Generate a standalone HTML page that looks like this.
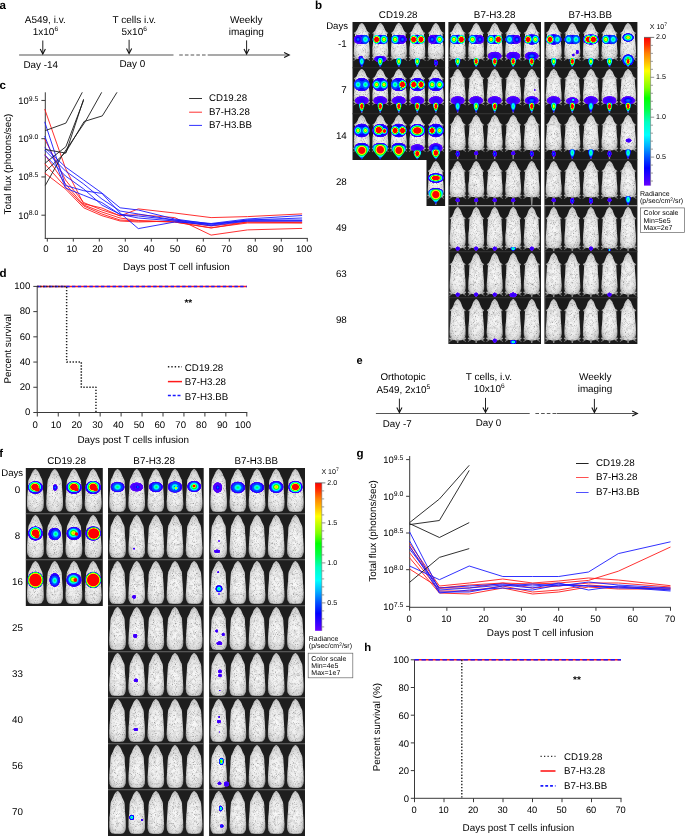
<!DOCTYPE html>
<html><head><meta charset="utf-8"><style>
html,body{margin:0;padding:0;background:#fff;}
svg{display:block;font-family:"Liberation Sans", sans-serif;text-rendering:geometricPrecision;will-change:transform;}
</style></head><body>
<svg width="685" height="837" viewBox="0 0 685 837" font-family='"Liberation Sans", sans-serif'>
<defs><radialGradient id="mb" cx="50%" cy="55%" r="60%">
 <stop offset="0" stop-color="#fafafa"/><stop offset="0.55" stop-color="#ececec"/><stop offset="0.82" stop-color="#d0d0d0"/><stop offset="1" stop-color="#8a8a8a"/>
</radialGradient><filter id="tex" x="0" y="0" width="1" height="1">
 <feTurbulence type="fractalNoise" baseFrequency="0.3" numOctaves="2" seed="7" result="n"/>
 <feColorMatrix in="n" type="matrix" values="0 0 0 0 0.55  0 0 0 0 0.55  0 0 0 0 0.55  2.0 0 0 0 -0.88" result="sp"/>
 <feComposite in="sp" in2="SourceAlpha" operator="in" result="s2"/>
 <feTurbulence type="fractalNoise" baseFrequency="1.1" numOctaves="1" seed="3" result="n2"/>
 <feColorMatrix in="n2" type="matrix" values="0 0 0 0 0.25  0 0 0 0 0.25  0 0 0 0 0.25  3.2 0 0 0 -1.75" result="sp2"/>
 <feComposite in="sp2" in2="SourceAlpha" operator="in" result="s3"/>
 <feMerge result="m"><feMergeNode in="SourceGraphic"/><feMergeNode in="s2"/><feMergeNode in="s3"/></feMerge>
 <feGaussianBlur in="m" stdDeviation="0.35"/>
</filter><radialGradient id="h6" ><stop offset="0.000" stop-color="#ff0000"/><stop offset="0.040" stop-color="#ff0000"/><stop offset="0.079" stop-color="#ff0000"/><stop offset="0.119" stop-color="#ff0000"/><stop offset="0.158" stop-color="#ff0000"/><stop offset="0.198" stop-color="#ff0000"/><stop offset="0.237" stop-color="#ff0000"/><stop offset="0.277" stop-color="#ff0000"/><stop offset="0.317" stop-color="#ff0000"/><stop offset="0.356" stop-color="#ff0000"/><stop offset="0.396" stop-color="#ff0000"/><stop offset="0.435" stop-color="#ff0000"/><stop offset="0.475" stop-color="#ff0000"/><stop offset="0.515" stop-color="#ff0000"/><stop offset="0.554" stop-color="#ff0000"/><stop offset="0.594" stop-color="#ff0000"/><stop offset="0.633" stop-color="#ff0000"/><stop offset="0.673" stop-color="#ff0900"/><stop offset="0.712" stop-color="#ff9400"/><stop offset="0.752" stop-color="#f4ff00"/><stop offset="0.792" stop-color="#85ff00"/><stop offset="0.831" stop-color="#00ff0f"/><stop offset="0.871" stop-color="#00ff67"/><stop offset="0.910" stop-color="#00ffc9"/><stop offset="0.950" stop-color="#00fff7"/><stop offset="1" stop-color="#6a00ff" stop-opacity="0"/></radialGradient><radialGradient id="h5" ><stop offset="0.000" stop-color="#ff0000"/><stop offset="0.040" stop-color="#ff0000"/><stop offset="0.079" stop-color="#ff0000"/><stop offset="0.119" stop-color="#ff0000"/><stop offset="0.158" stop-color="#ff0000"/><stop offset="0.198" stop-color="#ff0000"/><stop offset="0.237" stop-color="#ff0000"/><stop offset="0.277" stop-color="#ff0000"/><stop offset="0.317" stop-color="#ff0000"/><stop offset="0.356" stop-color="#ff0000"/><stop offset="0.396" stop-color="#ff0000"/><stop offset="0.435" stop-color="#ff0000"/><stop offset="0.475" stop-color="#ff6a00"/><stop offset="0.515" stop-color="#ffd100"/><stop offset="0.554" stop-color="#c7ff00"/><stop offset="0.594" stop-color="#59ff00"/><stop offset="0.633" stop-color="#00ff1d"/><stop offset="0.673" stop-color="#00ff73"/><stop offset="0.712" stop-color="#00ffcb"/><stop offset="0.752" stop-color="#00fff6"/><stop offset="0.792" stop-color="#00d1ff"/><stop offset="0.831" stop-color="#009aff"/><stop offset="0.871" stop-color="#0065ff"/><stop offset="0.910" stop-color="#003aff"/><stop offset="0.950" stop-color="#0017ff"/><stop offset="1" stop-color="#6a00ff" stop-opacity="0"/></radialGradient><radialGradient id="h4" ><stop offset="0.000" stop-color="#ffac00"/><stop offset="0.040" stop-color="#ffaf00"/><stop offset="0.079" stop-color="#ffbb00"/><stop offset="0.119" stop-color="#ffce00"/><stop offset="0.158" stop-color="#ffea00"/><stop offset="0.198" stop-color="#f2ff00"/><stop offset="0.237" stop-color="#caff00"/><stop offset="0.277" stop-color="#9eff00"/><stop offset="0.317" stop-color="#62ff00"/><stop offset="0.356" stop-color="#0eff00"/><stop offset="0.396" stop-color="#00ff24"/><stop offset="0.435" stop-color="#00ff57"/><stop offset="0.475" stop-color="#00ff9d"/><stop offset="0.515" stop-color="#00ffd0"/><stop offset="0.554" stop-color="#00fff0"/><stop offset="0.594" stop-color="#00e8ff"/><stop offset="0.633" stop-color="#00bdff"/><stop offset="0.673" stop-color="#0090ff"/><stop offset="0.712" stop-color="#0066ff"/><stop offset="0.752" stop-color="#0041ff"/><stop offset="0.792" stop-color="#0023ff"/><stop offset="0.831" stop-color="#0007ff"/><stop offset="0.871" stop-color="#0c00ff"/><stop offset="0.910" stop-color="#1b00ff"/><stop offset="0.950" stop-color="#2800ff"/><stop offset="1" stop-color="#6a00ff" stop-opacity="0"/></radialGradient><radialGradient id="h3" ><stop offset="0.000" stop-color="#00ff5a"/><stop offset="0.040" stop-color="#00ff5d"/><stop offset="0.079" stop-color="#00ff67"/><stop offset="0.119" stop-color="#00ff76"/><stop offset="0.158" stop-color="#00ff8b"/><stop offset="0.198" stop-color="#00ffa5"/><stop offset="0.237" stop-color="#00ffc2"/><stop offset="0.277" stop-color="#00ffd2"/><stop offset="0.317" stop-color="#00ffe4"/><stop offset="0.356" stop-color="#00fff8"/><stop offset="0.396" stop-color="#00ecff"/><stop offset="0.435" stop-color="#00ceff"/><stop offset="0.475" stop-color="#00b0ff"/><stop offset="0.515" stop-color="#008eff"/><stop offset="0.554" stop-color="#006dff"/><stop offset="0.594" stop-color="#004eff"/><stop offset="0.633" stop-color="#0033ff"/><stop offset="0.673" stop-color="#001bff"/><stop offset="0.712" stop-color="#0005ff"/><stop offset="0.752" stop-color="#0c00ff"/><stop offset="0.792" stop-color="#1900ff"/><stop offset="0.831" stop-color="#2500ff"/><stop offset="0.871" stop-color="#2f00ff"/><stop offset="0.910" stop-color="#3800ff"/><stop offset="0.950" stop-color="#3f00ff"/><stop offset="1" stop-color="#6a00ff" stop-opacity="0"/></radialGradient><radialGradient id="h2" ><stop offset="0.000" stop-color="#0075ff"/><stop offset="0.040" stop-color="#0074ff"/><stop offset="0.079" stop-color="#0070ff"/><stop offset="0.119" stop-color="#0069ff"/><stop offset="0.158" stop-color="#0060ff"/><stop offset="0.198" stop-color="#0054ff"/><stop offset="0.237" stop-color="#0048ff"/><stop offset="0.277" stop-color="#003bff"/><stop offset="0.317" stop-color="#002cff"/><stop offset="0.356" stop-color="#001eff"/><stop offset="0.396" stop-color="#000fff"/><stop offset="0.435" stop-color="#0000ff"/><stop offset="0.475" stop-color="#0b00ff"/><stop offset="0.515" stop-color="#1600ff"/><stop offset="0.554" stop-color="#1f00ff"/><stop offset="0.594" stop-color="#2900ff"/><stop offset="0.633" stop-color="#3100ff"/><stop offset="0.673" stop-color="#3800ff"/><stop offset="0.712" stop-color="#3f00ff"/><stop offset="0.752" stop-color="#4600ff"/><stop offset="0.792" stop-color="#4d00ff"/><stop offset="0.831" stop-color="#5200ff"/><stop offset="0.871" stop-color="#5700ff"/><stop offset="0.910" stop-color="#5b00ff"/><stop offset="0.950" stop-color="#5e00ff"/><stop offset="1" stop-color="#6a00ff" stop-opacity="0"/></radialGradient><radialGradient id="h1" ><stop offset="0.000" stop-color="#2700ff"/><stop offset="0.040" stop-color="#2800ff"/><stop offset="0.079" stop-color="#2800ff"/><stop offset="0.119" stop-color="#2900ff"/><stop offset="0.158" stop-color="#2a00ff"/><stop offset="0.198" stop-color="#2b00ff"/><stop offset="0.237" stop-color="#2d00ff"/><stop offset="0.277" stop-color="#2f00ff"/><stop offset="0.317" stop-color="#3100ff"/><stop offset="0.356" stop-color="#3300ff"/><stop offset="0.396" stop-color="#3500ff"/><stop offset="0.435" stop-color="#3800ff"/><stop offset="0.475" stop-color="#3a00ff"/><stop offset="0.515" stop-color="#3d00ff"/><stop offset="0.554" stop-color="#4000ff"/><stop offset="0.594" stop-color="#4300ff"/><stop offset="0.633" stop-color="#4600ff"/><stop offset="0.673" stop-color="#4900ff"/><stop offset="0.712" stop-color="#4c00ff"/><stop offset="0.752" stop-color="#4f00ff"/><stop offset="0.792" stop-color="#5200ff"/><stop offset="0.831" stop-color="#5400ff"/><stop offset="0.871" stop-color="#5700ff"/><stop offset="0.910" stop-color="#5900ff"/><stop offset="0.950" stop-color="#5b00ff"/><stop offset="1" stop-color="#6a00ff" stop-opacity="0"/></radialGradient><radialGradient id="hb" ><stop offset="0.000" stop-color="#0075ff"/><stop offset="0.040" stop-color="#0075ff"/><stop offset="0.079" stop-color="#0072ff"/><stop offset="0.119" stop-color="#006fff"/><stop offset="0.158" stop-color="#0069ff"/><stop offset="0.198" stop-color="#0063ff"/><stop offset="0.237" stop-color="#005bff"/><stop offset="0.277" stop-color="#0052ff"/><stop offset="0.317" stop-color="#0049ff"/><stop offset="0.356" stop-color="#0040ff"/><stop offset="0.396" stop-color="#0036ff"/><stop offset="0.435" stop-color="#002bff"/><stop offset="0.475" stop-color="#0021ff"/><stop offset="0.515" stop-color="#0016ff"/><stop offset="0.554" stop-color="#000aff"/><stop offset="0.594" stop-color="#0000ff"/><stop offset="0.633" stop-color="#0800ff"/><stop offset="0.673" stop-color="#1000ff"/><stop offset="0.712" stop-color="#1800ff"/><stop offset="0.752" stop-color="#1f00ff"/><stop offset="0.792" stop-color="#2600ff"/><stop offset="0.831" stop-color="#2c00ff"/><stop offset="0.871" stop-color="#3200ff"/><stop offset="0.910" stop-color="#3700ff"/><stop offset="0.950" stop-color="#3d00ff"/><stop offset="1" stop-color="#6a00ff" stop-opacity="0"/></radialGradient><radialGradient id="hr"><stop offset="0" stop-color="#ff0000"/><stop offset="0.6" stop-color="#ff0000"/><stop offset="1" stop-color="#ff2000" stop-opacity="0"/></radialGradient><radialGradient id="hy"><stop offset="0" stop-color="#ffe000"/><stop offset="0.5" stop-color="#c0ff00"/><stop offset="1" stop-color="#60ff00" stop-opacity="0"/></radialGradient><radialGradient id="hc6" ><stop offset="0.000" stop-color="#ff0000"/><stop offset="0.040" stop-color="#ff0000"/><stop offset="0.079" stop-color="#ff0000"/><stop offset="0.119" stop-color="#ff0000"/><stop offset="0.158" stop-color="#ff0000"/><stop offset="0.198" stop-color="#ff0000"/><stop offset="0.237" stop-color="#ff0000"/><stop offset="0.277" stop-color="#ff0000"/><stop offset="0.317" stop-color="#ff0000"/><stop offset="0.356" stop-color="#ff0000"/><stop offset="0.396" stop-color="#ff0000"/><stop offset="0.435" stop-color="#ff0000"/><stop offset="0.475" stop-color="#ff0000"/><stop offset="0.515" stop-color="#ff0000"/><stop offset="0.554" stop-color="#ff0000"/><stop offset="0.594" stop-color="#ff0000"/><stop offset="0.633" stop-color="#ff0000"/><stop offset="0.673" stop-color="#ff0000"/><stop offset="0.712" stop-color="#ff0000"/><stop offset="0.752" stop-color="#ff3e00"/><stop offset="0.792" stop-color="#ffba00"/><stop offset="0.831" stop-color="#d7ff00"/><stop offset="0.871" stop-color="#6bff00"/><stop offset="0.910" stop-color="#00ff15"/><stop offset="0.950" stop-color="#00ff67"/><stop offset="1" stop-color="#0045ff" stop-opacity="0"/></radialGradient><radialGradient id="hc5" ><stop offset="0.000" stop-color="#ff0000"/><stop offset="0.040" stop-color="#ff0000"/><stop offset="0.079" stop-color="#ff0000"/><stop offset="0.119" stop-color="#ff0000"/><stop offset="0.158" stop-color="#ff0000"/><stop offset="0.198" stop-color="#ff0000"/><stop offset="0.237" stop-color="#ff0000"/><stop offset="0.277" stop-color="#ff0000"/><stop offset="0.317" stop-color="#ff0000"/><stop offset="0.356" stop-color="#ff0000"/><stop offset="0.396" stop-color="#ff0000"/><stop offset="0.435" stop-color="#ff0000"/><stop offset="0.475" stop-color="#ff0000"/><stop offset="0.515" stop-color="#ff0900"/><stop offset="0.554" stop-color="#ff6a00"/><stop offset="0.594" stop-color="#ffc200"/><stop offset="0.633" stop-color="#e4ff00"/><stop offset="0.673" stop-color="#90ff00"/><stop offset="0.712" stop-color="#18ff00"/><stop offset="0.752" stop-color="#00ff30"/><stop offset="0.792" stop-color="#00ff81"/><stop offset="0.831" stop-color="#00ffcb"/><stop offset="0.871" stop-color="#00fff0"/><stop offset="0.910" stop-color="#00e1ff"/><stop offset="0.950" stop-color="#00b3ff"/><stop offset="1" stop-color="#0045ff" stop-opacity="0"/></radialGradient><radialGradient id="hc4" ><stop offset="0.000" stop-color="#ffac00"/><stop offset="0.040" stop-color="#ffae00"/><stop offset="0.079" stop-color="#ffb700"/><stop offset="0.119" stop-color="#ffc500"/><stop offset="0.158" stop-color="#ffd900"/><stop offset="0.198" stop-color="#fff300"/><stop offset="0.237" stop-color="#edff00"/><stop offset="0.277" stop-color="#caff00"/><stop offset="0.317" stop-color="#a4ff00"/><stop offset="0.356" stop-color="#79ff00"/><stop offset="0.396" stop-color="#32ff00"/><stop offset="0.435" stop-color="#00ff0b"/><stop offset="0.475" stop-color="#00ff30"/><stop offset="0.515" stop-color="#00ff61"/><stop offset="0.554" stop-color="#00ff9d"/><stop offset="0.594" stop-color="#00ffcb"/><stop offset="0.633" stop-color="#00ffe7"/><stop offset="0.673" stop-color="#00fbff"/><stop offset="0.712" stop-color="#00d5ff"/><stop offset="0.752" stop-color="#00b1ff"/><stop offset="0.792" stop-color="#008aff"/><stop offset="0.831" stop-color="#0066ff"/><stop offset="0.871" stop-color="#0046ff"/><stop offset="0.910" stop-color="#0045ff"/><stop offset="0.950" stop-color="#0045ff"/><stop offset="1" stop-color="#0045ff" stop-opacity="0"/></radialGradient><radialGradient id="hc3" ><stop offset="0.000" stop-color="#00ff5a"/><stop offset="0.040" stop-color="#00ff5d"/><stop offset="0.079" stop-color="#00ff63"/><stop offset="0.119" stop-color="#00ff6f"/><stop offset="0.158" stop-color="#00ff7e"/><stop offset="0.198" stop-color="#00ff92"/><stop offset="0.237" stop-color="#00ffa9"/><stop offset="0.277" stop-color="#00ffc2"/><stop offset="0.317" stop-color="#00ffd0"/><stop offset="0.356" stop-color="#00ffdf"/><stop offset="0.396" stop-color="#00ffef"/><stop offset="0.435" stop-color="#00fdff"/><stop offset="0.475" stop-color="#00e4ff"/><stop offset="0.515" stop-color="#00caff"/><stop offset="0.554" stop-color="#00b0ff"/><stop offset="0.594" stop-color="#0093ff"/><stop offset="0.633" stop-color="#0076ff"/><stop offset="0.673" stop-color="#005bff"/><stop offset="0.712" stop-color="#0045ff"/><stop offset="0.752" stop-color="#0045ff"/><stop offset="0.792" stop-color="#0045ff"/><stop offset="0.831" stop-color="#0045ff"/><stop offset="0.871" stop-color="#0045ff"/><stop offset="0.910" stop-color="#0045ff"/><stop offset="0.950" stop-color="#0045ff"/><stop offset="1" stop-color="#0045ff" stop-opacity="0"/></radialGradient><radialGradient id="ht5" cx="50%" cy="35%" r="68%"><stop offset="0.000" stop-color="#ff0000"/><stop offset="0.040" stop-color="#ff0000"/><stop offset="0.079" stop-color="#ff0000"/><stop offset="0.119" stop-color="#ff0000"/><stop offset="0.158" stop-color="#ff0000"/><stop offset="0.198" stop-color="#ff0000"/><stop offset="0.237" stop-color="#ff0000"/><stop offset="0.277" stop-color="#ff0000"/><stop offset="0.317" stop-color="#ff2000"/><stop offset="0.356" stop-color="#ff9200"/><stop offset="0.396" stop-color="#fff300"/><stop offset="0.435" stop-color="#a6ff00"/><stop offset="0.475" stop-color="#21ff00"/><stop offset="0.515" stop-color="#00ff39"/><stop offset="0.554" stop-color="#00ffa3"/><stop offset="0.594" stop-color="#00ffe3"/><stop offset="0.633" stop-color="#00e6ff"/><stop offset="0.673" stop-color="#00aaff"/><stop offset="0.712" stop-color="#006eff"/><stop offset="0.752" stop-color="#003dff"/><stop offset="0.792" stop-color="#0016ff"/><stop offset="0.831" stop-color="#0800ff"/><stop offset="0.871" stop-color="#1b00ff"/><stop offset="0.910" stop-color="#2b00ff"/><stop offset="0.950" stop-color="#3800ff"/><stop offset="1" stop-color="#6a00ff" stop-opacity="0"/></radialGradient><radialGradient id="ht4" cx="50%" cy="35%" r="68%"><stop offset="0.000" stop-color="#ffe200"/><stop offset="0.040" stop-color="#ffe600"/><stop offset="0.079" stop-color="#fff400"/><stop offset="0.119" stop-color="#f3ff00"/><stop offset="0.158" stop-color="#d5ff00"/><stop offset="0.198" stop-color="#afff00"/><stop offset="0.237" stop-color="#84ff00"/><stop offset="0.277" stop-color="#38ff00"/><stop offset="0.317" stop-color="#00ff0e"/><stop offset="0.356" stop-color="#00ff39"/><stop offset="0.396" stop-color="#00ff7c"/><stop offset="0.435" stop-color="#00ffc2"/><stop offset="0.475" stop-color="#00ffe4"/><stop offset="0.515" stop-color="#00f7ff"/><stop offset="0.554" stop-color="#00c8ff"/><stop offset="0.594" stop-color="#009aff"/><stop offset="0.633" stop-color="#006cff"/><stop offset="0.673" stop-color="#0044ff"/><stop offset="0.712" stop-color="#0023ff"/><stop offset="0.752" stop-color="#0006ff"/><stop offset="0.792" stop-color="#0e00ff"/><stop offset="0.831" stop-color="#1e00ff"/><stop offset="0.871" stop-color="#2b00ff"/><stop offset="0.910" stop-color="#3600ff"/><stop offset="0.950" stop-color="#4000ff"/><stop offset="1" stop-color="#6a00ff" stop-opacity="0"/></radialGradient><radialGradient id="ht3" cx="50%" cy="35%" r="68%"><stop offset="0.000" stop-color="#00ff77"/><stop offset="0.040" stop-color="#00ff7b"/><stop offset="0.079" stop-color="#00ff86"/><stop offset="0.119" stop-color="#00ff97"/><stop offset="0.158" stop-color="#00ffaf"/><stop offset="0.198" stop-color="#00ffc6"/><stop offset="0.237" stop-color="#00ffd6"/><stop offset="0.277" stop-color="#00ffe9"/><stop offset="0.317" stop-color="#00fffc"/><stop offset="0.356" stop-color="#00e4ff"/><stop offset="0.396" stop-color="#00c4ff"/><stop offset="0.435" stop-color="#00a3ff"/><stop offset="0.475" stop-color="#007fff"/><stop offset="0.515" stop-color="#005cff"/><stop offset="0.554" stop-color="#003eff"/><stop offset="0.594" stop-color="#0023ff"/><stop offset="0.633" stop-color="#000bff"/><stop offset="0.673" stop-color="#0900ff"/><stop offset="0.712" stop-color="#1700ff"/><stop offset="0.752" stop-color="#2400ff"/><stop offset="0.792" stop-color="#2f00ff"/><stop offset="0.831" stop-color="#3900ff"/><stop offset="0.871" stop-color="#4100ff"/><stop offset="0.910" stop-color="#4900ff"/><stop offset="0.950" stop-color="#5000ff"/><stop offset="1" stop-color="#6a00ff" stop-opacity="0"/></radialGradient><radialGradient id="h0"><stop offset="0" stop-color="#7000ff" stop-opacity="0.8"/><stop offset="1" stop-color="#7a00ff" stop-opacity="0"/></radialGradient><linearGradient id="cbar" x1="0" y1="1" x2="0" y2="0"><stop offset="0.000" stop-color="#6a00ff"/><stop offset="0.040" stop-color="#4000ff"/><stop offset="0.118" stop-color="#0000ff"/><stop offset="0.190" stop-color="#0050ff"/><stop offset="0.267" stop-color="#00b0ff"/><stop offset="0.341" stop-color="#00ffff"/><stop offset="0.430" stop-color="#00ffc0"/><stop offset="0.518" stop-color="#00ff40"/><stop offset="0.590" stop-color="#00ff00"/><stop offset="0.660" stop-color="#80ff00"/><stop offset="0.718" stop-color="#c0ff00"/><stop offset="0.774" stop-color="#ffff00"/><stop offset="0.830" stop-color="#ffc000"/><stop offset="0.893" stop-color="#ff8000"/><stop offset="0.950" stop-color="#ff3000"/><stop offset="1.000" stop-color="#ff0000"/></linearGradient></defs>
<text x="-0.60" y="8.70" font-size="11.6" text-anchor="start" font-weight="bold" fill="#000" >a</text>
<line x1="19.10" y1="55.00" x2="173.50" y2="55.00" stroke="#555" stroke-width="1.2" />
<line x1="179.20" y1="55.00" x2="207.70" y2="55.00" stroke="#555" stroke-width="1.2" stroke-dasharray="3.6,2.1"/>
<line x1="207.70" y1="55.00" x2="288.30" y2="55.00" stroke="#555" stroke-width="1.2" />
<path d="M284.10,52.40 L289.30,55.00 L284.10,57.60" fill="none" stroke="#111" stroke-width="1.1"/>
<line x1="42.80" y1="40.50" x2="42.80" y2="53.60" stroke="#222" stroke-width="1" />
<path d="M40.20,49.10 L42.80,54.10 L45.40,49.10" fill="none" stroke="#111" stroke-width="1.05"/>
<line x1="129.10" y1="39.80" x2="129.10" y2="53.00" stroke="#222" stroke-width="1" />
<path d="M126.50,48.50 L129.10,53.50 L131.70,48.50" fill="none" stroke="#111" stroke-width="1.05"/>
<line x1="246.60" y1="40.40" x2="246.60" y2="53.50" stroke="#222" stroke-width="1" />
<path d="M244.00,49.00 L246.60,54.00 L249.20,49.00" fill="none" stroke="#111" stroke-width="1.05"/>
<text x="45.20" y="23.30" font-size="10" text-anchor="middle" font-weight="normal" fill="#000" >A549, i.v.</text>
<text x="45.40" y="35.00" font-size="10" text-anchor="middle">1x10<tspan font-size="6.6" dy="-4.2">6</tspan></text>
<text x="40.70" y="67.70" font-size="9.9" text-anchor="middle" font-weight="normal" fill="#000" >Day -14</text>
<text x="134.20" y="23.10" font-size="10" text-anchor="middle" font-weight="normal" fill="#000" >T cells i.v.</text>
<text x="134.20" y="35.00" font-size="10" text-anchor="middle">5x10<tspan font-size="6.6" dy="-4.2">6</tspan></text>
<text x="132.30" y="67.40" font-size="9.9" text-anchor="middle" font-weight="normal" fill="#000" >Day 0</text>
<text x="246.30" y="23.30" font-size="10" text-anchor="middle" font-weight="normal" fill="#000" >Weekly</text>
<text x="246.30" y="34.70" font-size="10" text-anchor="middle" font-weight="normal" fill="#000" >imaging</text>
<text x="-0.40" y="89.40" font-size="11.6" text-anchor="start" font-weight="bold" fill="#000" >c</text>
<line x1="45.30" y1="92.30" x2="45.30" y2="238.90" stroke="#3a3a3a" stroke-width="1" />
<line x1="44.80" y1="238.40" x2="307.80" y2="238.40" stroke="#3a3a3a" stroke-width="1" />
<line x1="41.40" y1="100.45" x2="45.30" y2="100.45" stroke="#3a3a3a" stroke-width="1" />
<text x="38.40" y="103.75" font-size="9.4" text-anchor="end">10<tspan font-size="6.9" dy="-3.1">9.5</tspan></text>
<line x1="41.40" y1="138.70" x2="45.30" y2="138.70" stroke="#3a3a3a" stroke-width="1" />
<text x="38.40" y="142.00" font-size="9.4" text-anchor="end">10<tspan font-size="6.9" dy="-3.1">9.0</tspan></text>
<line x1="41.40" y1="176.95" x2="45.30" y2="176.95" stroke="#3a3a3a" stroke-width="1" />
<text x="38.40" y="180.25" font-size="9.4" text-anchor="end">10<tspan font-size="6.9" dy="-3.1">8.5</tspan></text>
<line x1="41.40" y1="215.20" x2="45.30" y2="215.20" stroke="#3a3a3a" stroke-width="1" />
<text x="38.40" y="218.50" font-size="9.4" text-anchor="end">10<tspan font-size="6.9" dy="-3.1">8.0</tspan></text>
<line x1="47.30" y1="238.40" x2="47.30" y2="241.60" stroke="#3a3a3a" stroke-width="1" />
<text x="46.00" y="252.40" font-size="9.6" text-anchor="middle" font-weight="normal" fill="#000" >0</text>
<line x1="73.30" y1="238.40" x2="73.30" y2="241.60" stroke="#3a3a3a" stroke-width="1" />
<text x="71.80" y="252.40" font-size="9.6" text-anchor="middle" font-weight="normal" fill="#000" >10</text>
<line x1="99.30" y1="238.40" x2="99.30" y2="241.60" stroke="#3a3a3a" stroke-width="1" />
<text x="97.60" y="252.40" font-size="9.6" text-anchor="middle" font-weight="normal" fill="#000" >20</text>
<line x1="125.30" y1="238.40" x2="125.30" y2="241.60" stroke="#3a3a3a" stroke-width="1" />
<text x="123.40" y="252.40" font-size="9.6" text-anchor="middle" font-weight="normal" fill="#000" >30</text>
<line x1="151.30" y1="238.40" x2="151.30" y2="241.60" stroke="#3a3a3a" stroke-width="1" />
<text x="149.20" y="252.40" font-size="9.6" text-anchor="middle" font-weight="normal" fill="#000" >40</text>
<line x1="177.30" y1="238.40" x2="177.30" y2="241.60" stroke="#3a3a3a" stroke-width="1" />
<text x="175.00" y="252.40" font-size="9.6" text-anchor="middle" font-weight="normal" fill="#000" >50</text>
<line x1="203.30" y1="238.40" x2="203.30" y2="241.60" stroke="#3a3a3a" stroke-width="1" />
<text x="200.80" y="252.40" font-size="9.6" text-anchor="middle" font-weight="normal" fill="#000" >60</text>
<line x1="229.30" y1="238.40" x2="229.30" y2="241.60" stroke="#3a3a3a" stroke-width="1" />
<text x="226.60" y="252.40" font-size="9.6" text-anchor="middle" font-weight="normal" fill="#000" >70</text>
<line x1="255.30" y1="238.40" x2="255.30" y2="241.60" stroke="#3a3a3a" stroke-width="1" />
<text x="252.40" y="252.40" font-size="9.6" text-anchor="middle" font-weight="normal" fill="#000" >80</text>
<line x1="281.30" y1="238.40" x2="281.30" y2="241.60" stroke="#3a3a3a" stroke-width="1" />
<text x="278.20" y="252.40" font-size="9.6" text-anchor="middle" font-weight="normal" fill="#000" >90</text>
<line x1="307.30" y1="238.40" x2="307.30" y2="241.60" stroke="#3a3a3a" stroke-width="1" />
<text x="304.00" y="252.40" font-size="9.6" text-anchor="middle" font-weight="normal" fill="#000" >100</text>
<text x="176.40" y="270.20" font-size="9.9" text-anchor="middle" font-weight="normal" fill="#000" >Days post T cell infusion</text>
<text transform="translate(11.20 164.00) rotate(-90)" font-size="9.8" text-anchor="middle">Total flux (photons/sec)</text>
<line x1="189.10" y1="98.50" x2="202.00" y2="98.50" stroke="#333" stroke-width="1" />
<text x="208.90" y="100.80" font-size="9.7" text-anchor="start" font-weight="normal" fill="#000" >CD19.28</text>
<line x1="189.10" y1="112.20" x2="202.00" y2="112.20" stroke="#ff3030" stroke-width="1" />
<text x="208.90" y="114.50" font-size="9.7" text-anchor="start" font-weight="normal" fill="#000" >B7-H3.28</text>
<line x1="189.10" y1="125.40" x2="202.00" y2="125.40" stroke="#3030ff" stroke-width="1" />
<text x="208.90" y="127.70" font-size="9.7" text-anchor="start" font-weight="normal" fill="#000" >B7-H3.BB</text>
<clipPath id="cclip"><rect x="44" y="92.3" width="270" height="150"/></clipPath>
<g clip-path="url(#cclip)">
<polyline points="44.70,109.00 65.50,168.40 83.70,203.90 101.90,208.00 120.10,216.00 138.30,208.90 174.70,213.00 211.10,217.60 247.50,216.60 302.10,213.90" fill="none" stroke="#ff1a1a" stroke-width="0.9" stroke-linejoin="round" />
<polyline points="44.70,139.00 65.50,180.00 83.70,202.60 101.90,210.00 120.10,215.70 138.30,214.70 174.70,217.60 211.10,235.10 247.50,229.90 302.10,228.40" fill="none" stroke="#ff1a1a" stroke-width="0.9" stroke-linejoin="round" />
<polyline points="44.70,154.50 65.50,184.00 83.70,205.00 101.90,212.00 120.10,218.00 138.30,220.50 174.70,222.00 211.10,227.80 247.50,223.00 302.10,223.00" fill="none" stroke="#ff1a1a" stroke-width="0.9" stroke-linejoin="round" />
<polyline points="44.70,163.70 65.50,187.00 83.70,206.00 101.90,214.00 120.10,220.00 138.30,221.00 174.70,222.00 211.10,228.00 247.50,222.00 302.10,222.70" fill="none" stroke="#ff1a1a" stroke-width="0.9" stroke-linejoin="round" />
<polyline points="44.70,173.00 65.50,189.00 83.70,207.80 101.90,215.70 120.10,221.00 138.30,222.00 174.70,221.00 211.10,226.00 247.50,222.00 302.10,222.00" fill="none" stroke="#ff1a1a" stroke-width="0.9" stroke-linejoin="round" />
<polyline points="44.70,121.80 65.50,185.50 83.70,190.70 101.90,193.40 120.10,213.00 138.30,228.60 174.70,222.00 211.10,224.00 247.50,220.00 302.10,218.00" fill="none" stroke="#1a1aff" stroke-width="0.9" stroke-linejoin="round" />
<polyline points="44.70,136.00 65.50,188.10 83.70,195.30 101.90,202.60 120.10,214.40 138.30,216.00 174.70,220.00 211.10,223.50 247.50,219.00 302.10,215.50" fill="none" stroke="#1a1aff" stroke-width="0.9" stroke-linejoin="round" />
<polyline points="44.70,147.50 65.50,167.00 83.70,180.00 101.90,193.00 120.10,207.80 138.30,210.00 174.70,219.00 211.10,224.00 247.50,221.00 302.10,220.70" fill="none" stroke="#1a1aff" stroke-width="0.9" stroke-linejoin="round" />
<polyline points="44.70,150.00 65.50,171.00 83.70,184.00 101.90,199.00 120.10,211.00 138.30,214.00 174.70,220.00 211.10,225.00 247.50,220.00 302.10,220.00" fill="none" stroke="#1a1aff" stroke-width="0.9" stroke-linejoin="round" />
<polyline points="44.70,155.00 65.50,176.00 83.70,189.00 101.90,205.00 120.10,214.40 138.30,218.00 174.70,221.00 211.10,225.70 247.50,221.00 302.10,221.00" fill="none" stroke="#1a1aff" stroke-width="0.9" stroke-linejoin="round" />
<polyline points="45.30,130.60 65.90,123.10 82.30,92.30 84.00,88.00" fill="none" stroke="#1a1a1a" stroke-width="0.9" stroke-linejoin="round" />
<polyline points="45.30,149.50 65.90,153.10 83.60,99.20" fill="none" stroke="#1a1a1a" stroke-width="0.9" stroke-linejoin="round" />
<polyline points="45.30,163.00 65.90,146.70 83.60,100.30" fill="none" stroke="#1a1a1a" stroke-width="0.9" stroke-linejoin="round" />
<polyline points="45.30,171.60 65.90,152.00 84.10,121.50 102.30,115.90 117.00,92.30 118.00,90.00" fill="none" stroke="#1a1a1a" stroke-width="0.9" stroke-linejoin="round" />
<polyline points="45.30,185.40 61.20,157.00 85.30,121.60 101.70,92.30 103.00,90.00" fill="none" stroke="#1a1a1a" stroke-width="0.9" stroke-linejoin="round" />
</g>
<text x="-0.50" y="276.60" font-size="11.6" text-anchor="start" font-weight="bold" fill="#000" >d</text>
<line x1="37.20" y1="285.90" x2="37.20" y2="413.00" stroke="#3a3a3a" stroke-width="1" />
<line x1="36.70" y1="412.50" x2="247.30" y2="412.50" stroke="#3a3a3a" stroke-width="1" />
<line x1="33.30" y1="412.50" x2="37.20" y2="412.50" stroke="#3a3a3a" stroke-width="1" />
<text x="30.30" y="415.20" font-size="9.6" text-anchor="end" font-weight="normal" fill="#000" >0</text>
<line x1="33.30" y1="387.28" x2="37.20" y2="387.28" stroke="#3a3a3a" stroke-width="1" />
<text x="30.30" y="389.98" font-size="9.6" text-anchor="end" font-weight="normal" fill="#000" >20</text>
<line x1="33.30" y1="362.06" x2="37.20" y2="362.06" stroke="#3a3a3a" stroke-width="1" />
<text x="30.30" y="364.76" font-size="9.6" text-anchor="end" font-weight="normal" fill="#000" >40</text>
<line x1="33.30" y1="336.84" x2="37.20" y2="336.84" stroke="#3a3a3a" stroke-width="1" />
<text x="30.30" y="339.54" font-size="9.6" text-anchor="end" font-weight="normal" fill="#000" >60</text>
<line x1="33.30" y1="311.62" x2="37.20" y2="311.62" stroke="#3a3a3a" stroke-width="1" />
<text x="30.30" y="314.32" font-size="9.6" text-anchor="end" font-weight="normal" fill="#000" >80</text>
<line x1="33.30" y1="286.40" x2="37.20" y2="286.40" stroke="#3a3a3a" stroke-width="1" />
<text x="30.30" y="289.10" font-size="9.6" text-anchor="end" font-weight="normal" fill="#000" >100</text>
<line x1="37.30" y1="412.50" x2="37.30" y2="416.50" stroke="#3a3a3a" stroke-width="1" />
<text x="35.20" y="427.70" font-size="9.6" text-anchor="middle" font-weight="normal" fill="#000" >0</text>
<line x1="58.25" y1="412.50" x2="58.25" y2="416.50" stroke="#3a3a3a" stroke-width="1" />
<text x="55.98" y="427.70" font-size="9.6" text-anchor="middle" font-weight="normal" fill="#000" >10</text>
<line x1="79.20" y1="412.50" x2="79.20" y2="416.50" stroke="#3a3a3a" stroke-width="1" />
<text x="76.76" y="427.70" font-size="9.6" text-anchor="middle" font-weight="normal" fill="#000" >20</text>
<line x1="100.15" y1="412.50" x2="100.15" y2="416.50" stroke="#3a3a3a" stroke-width="1" />
<text x="97.54" y="427.70" font-size="9.6" text-anchor="middle" font-weight="normal" fill="#000" >30</text>
<line x1="121.10" y1="412.50" x2="121.10" y2="416.50" stroke="#3a3a3a" stroke-width="1" />
<text x="118.32" y="427.70" font-size="9.6" text-anchor="middle" font-weight="normal" fill="#000" >40</text>
<line x1="142.05" y1="412.50" x2="142.05" y2="416.50" stroke="#3a3a3a" stroke-width="1" />
<text x="139.10" y="427.70" font-size="9.6" text-anchor="middle" font-weight="normal" fill="#000" >50</text>
<line x1="163.00" y1="412.50" x2="163.00" y2="416.50" stroke="#3a3a3a" stroke-width="1" />
<text x="159.88" y="427.70" font-size="9.6" text-anchor="middle" font-weight="normal" fill="#000" >60</text>
<line x1="183.95" y1="412.50" x2="183.95" y2="416.50" stroke="#3a3a3a" stroke-width="1" />
<text x="180.66" y="427.70" font-size="9.6" text-anchor="middle" font-weight="normal" fill="#000" >70</text>
<line x1="204.90" y1="412.50" x2="204.90" y2="416.50" stroke="#3a3a3a" stroke-width="1" />
<text x="201.44" y="427.70" font-size="9.6" text-anchor="middle" font-weight="normal" fill="#000" >80</text>
<line x1="225.85" y1="412.50" x2="225.85" y2="416.50" stroke="#3a3a3a" stroke-width="1" />
<text x="222.22" y="427.70" font-size="9.6" text-anchor="middle" font-weight="normal" fill="#000" >90</text>
<line x1="246.80" y1="412.50" x2="246.80" y2="416.50" stroke="#3a3a3a" stroke-width="1" />
<text x="243.00" y="427.70" font-size="9.6" text-anchor="middle" font-weight="normal" fill="#000" >100</text>
<text x="133.20" y="442.90" font-size="9.9" text-anchor="middle" font-weight="normal" fill="#000" >Days post T cells infusion</text>
<text transform="translate(10.80 348.80) rotate(-90)" font-size="9.75" text-anchor="middle">Percent survival</text>
<line x1="37.20" y1="286.40" x2="246.80" y2="286.40" stroke="#ff1a1a" stroke-width="1.5" />
<line x1="37.20" y1="286.40" x2="246.80" y2="286.40" stroke="#1a1aff" stroke-width="1.5" stroke-dasharray="3.4,2.4"/>
<polyline points="37.20,286.40 66.63,286.40 66.63,362.06 81.30,362.06 81.30,387.28 95.96,387.28 95.96,412.50" fill="none" stroke="#222" stroke-width="1.5" stroke-linejoin="round" stroke-dasharray="1.4,1.6"/>
<text x="188.30" y="306.30" font-size="10" text-anchor="middle" font-weight="bold" fill="#000" >**</text>
<line x1="167.90" y1="366.70" x2="182.00" y2="366.70" stroke="#222" stroke-width="1.5" stroke-dasharray="1.4,2.0"/>
<text x="184.80" y="370.80" font-size="9.75" text-anchor="start" font-weight="normal" fill="#000" >CD19.28</text>
<line x1="167.90" y1="381.60" x2="182.00" y2="381.60" stroke="#ff1a1a" stroke-width="1.5" />
<text x="184.80" y="385.10" font-size="9.75" text-anchor="start" font-weight="normal" fill="#000" >B7-H3.28</text>
<line x1="167.90" y1="395.60" x2="182.00" y2="395.60" stroke="#1a1aff" stroke-width="1.5" stroke-dasharray="3,1.8"/>
<text x="184.80" y="399.60" font-size="9.75" text-anchor="start" font-weight="normal" fill="#000" >B7-H3.BB</text>
<text x="356.50" y="364.40" font-size="11.0" text-anchor="start" font-weight="bold" fill="#000" >e</text>
<line x1="375.90" y1="413.50" x2="529.70" y2="413.50" stroke="#555" stroke-width="1.2" />
<line x1="535.40" y1="413.50" x2="556.70" y2="413.50" stroke="#555" stroke-width="1.2" stroke-dasharray="3.6,2.1"/>
<line x1="556.70" y1="413.50" x2="636.40" y2="413.50" stroke="#555" stroke-width="1.2" />
<path d="M632.20,410.90 L637.40,413.50 L632.20,416.10" fill="none" stroke="#111" stroke-width="1.1"/>
<line x1="399.40" y1="398.60" x2="399.40" y2="412.10" stroke="#222" stroke-width="1" />
<path d="M396.80,407.60 L399.40,412.60 L402.00,407.60" fill="none" stroke="#111" stroke-width="1.05"/>
<line x1="485.50" y1="397.90" x2="485.50" y2="411.90" stroke="#222" stroke-width="1" />
<path d="M482.90,407.40 L485.50,412.40 L488.10,407.40" fill="none" stroke="#111" stroke-width="1.05"/>
<line x1="594.40" y1="398.90" x2="594.40" y2="412.10" stroke="#222" stroke-width="1" />
<path d="M591.80,407.60 L594.40,412.60 L597.00,407.60" fill="none" stroke="#111" stroke-width="1.05"/>
<text x="403.10" y="380.30" font-size="9.8" text-anchor="middle" font-weight="normal" fill="#000" >Orthotopic</text>
<text x="403.30" y="393.00" font-size="9.9" text-anchor="middle">A549, 2x10<tspan font-size="6.6" dy="-4.2">5</tspan></text>
<text x="397.20" y="426.80" font-size="9.8" text-anchor="middle" font-weight="normal" fill="#000" >Day -7</text>
<text x="488.90" y="380.30" font-size="10" text-anchor="middle" font-weight="normal" fill="#000" >T cells, i.v.</text>
<text x="489.20" y="392.10" font-size="10" text-anchor="middle">10x10<tspan font-size="6.6" dy="-4.2">6</tspan></text>
<text x="488.50" y="426.30" font-size="9.8" text-anchor="middle" font-weight="normal" fill="#000" >Day 0</text>
<text x="595.20" y="380.20" font-size="10" text-anchor="middle" font-weight="normal" fill="#000" >Weekly</text>
<text x="595.00" y="391.60" font-size="9.9" text-anchor="middle" font-weight="normal" fill="#000" >imaging</text>
<text x="356.60" y="456.90" font-size="11.6" text-anchor="start" font-weight="bold" fill="#000" >g</text>
<line x1="409.70" y1="456.00" x2="409.70" y2="607.80" stroke="#3a3a3a" stroke-width="1" />
<line x1="409.20" y1="607.30" x2="670.99" y2="607.30" stroke="#3a3a3a" stroke-width="1" />
<line x1="406.10" y1="459.60" x2="409.70" y2="459.60" stroke="#3a3a3a" stroke-width="1" />
<text x="403.40" y="462.80" font-size="9.4" text-anchor="end">10<tspan font-size="6.9" dy="-3.1">9.5</tspan></text>
<line x1="406.10" y1="496.30" x2="409.70" y2="496.30" stroke="#3a3a3a" stroke-width="1" />
<text x="403.40" y="499.50" font-size="9.4" text-anchor="end">10<tspan font-size="6.9" dy="-3.1">9.0</tspan></text>
<line x1="406.10" y1="533.00" x2="409.70" y2="533.00" stroke="#3a3a3a" stroke-width="1" />
<text x="403.40" y="536.20" font-size="9.4" text-anchor="end">10<tspan font-size="6.9" dy="-3.1">8.5</tspan></text>
<line x1="406.10" y1="569.70" x2="409.70" y2="569.70" stroke="#3a3a3a" stroke-width="1" />
<text x="403.40" y="572.90" font-size="9.4" text-anchor="end">10<tspan font-size="6.9" dy="-3.1">8.0</tspan></text>
<line x1="406.10" y1="606.40" x2="409.70" y2="606.40" stroke="#3a3a3a" stroke-width="1" />
<text x="403.40" y="609.60" font-size="9.4" text-anchor="end">10<tspan font-size="6.9" dy="-3.1">7.5</tspan></text>
<line x1="409.60" y1="607.30" x2="409.60" y2="610.80" stroke="#3a3a3a" stroke-width="1" />
<text x="409.10" y="622.40" font-size="9.4" text-anchor="middle" font-weight="normal" fill="#000" >0</text>
<line x1="446.87" y1="607.30" x2="446.87" y2="610.80" stroke="#3a3a3a" stroke-width="1" />
<text x="446.37" y="622.40" font-size="9.4" text-anchor="middle" font-weight="normal" fill="#000" >10</text>
<line x1="484.14" y1="607.30" x2="484.14" y2="610.80" stroke="#3a3a3a" stroke-width="1" />
<text x="483.64" y="622.40" font-size="9.4" text-anchor="middle" font-weight="normal" fill="#000" >20</text>
<line x1="521.41" y1="607.30" x2="521.41" y2="610.80" stroke="#3a3a3a" stroke-width="1" />
<text x="520.91" y="622.40" font-size="9.4" text-anchor="middle" font-weight="normal" fill="#000" >30</text>
<line x1="558.68" y1="607.30" x2="558.68" y2="610.80" stroke="#3a3a3a" stroke-width="1" />
<text x="558.18" y="622.40" font-size="9.4" text-anchor="middle" font-weight="normal" fill="#000" >40</text>
<line x1="595.95" y1="607.30" x2="595.95" y2="610.80" stroke="#3a3a3a" stroke-width="1" />
<text x="595.45" y="622.40" font-size="9.4" text-anchor="middle" font-weight="normal" fill="#000" >50</text>
<line x1="633.22" y1="607.30" x2="633.22" y2="610.80" stroke="#3a3a3a" stroke-width="1" />
<text x="632.72" y="622.40" font-size="9.4" text-anchor="middle" font-weight="normal" fill="#000" >60</text>
<line x1="670.49" y1="607.30" x2="670.49" y2="610.80" stroke="#3a3a3a" stroke-width="1" />
<text x="669.99" y="622.40" font-size="9.4" text-anchor="middle" font-weight="normal" fill="#000" >70</text>
<text x="540.20" y="636.20" font-size="9.9" text-anchor="middle" font-weight="normal" fill="#000" >Days post T cell infusion</text>
<text transform="translate(376.20 531.00) rotate(-90)" font-size="9.9" text-anchor="middle">Total flux (photons/sec)</text>
<line x1="576.00" y1="463.50" x2="588.60" y2="463.50" stroke="#222" stroke-width="1" />
<text x="596.00" y="466.40" font-size="9.8" text-anchor="start" font-weight="normal" fill="#000" >CD19.28</text>
<line x1="576.00" y1="477.50" x2="588.60" y2="477.50" stroke="#ff5050" stroke-width="1" />
<text x="596.00" y="480.40" font-size="9.8" text-anchor="start" font-weight="normal" fill="#000" >B7-H3.28</text>
<line x1="576.00" y1="492.50" x2="588.60" y2="492.50" stroke="#5050ff" stroke-width="1" />
<text x="596.00" y="494.80" font-size="9.8" text-anchor="start" font-weight="normal" fill="#000" >B7-H3.BB</text>
<polyline points="409.60,569.00 439.42,588.00 469.23,585.00 502.78,583.00 532.59,584.00 558.68,583.00 588.50,580.40 618.31,571.20 670.49,547.00" fill="none" stroke="#ff1a1a" stroke-width="0.9" stroke-linejoin="round" />
<polyline points="409.60,543.50 439.42,586.00 469.23,583.00 502.78,579.00 532.59,583.00 558.68,581.00 588.50,578.00 618.31,580.00 670.49,585.70" fill="none" stroke="#ff1a1a" stroke-width="0.9" stroke-linejoin="round" />
<polyline points="409.60,546.60 439.42,588.00 469.23,588.00 502.78,583.00 532.59,588.00 558.68,586.00 588.50,583.00 618.31,583.00 670.49,587.00" fill="none" stroke="#ff1a1a" stroke-width="0.9" stroke-linejoin="round" />
<polyline points="409.60,552.70 439.42,591.00 469.23,591.00 502.78,586.00 532.59,592.00 558.68,590.00 588.50,585.00 618.31,587.00 670.49,588.00" fill="none" stroke="#ff1a1a" stroke-width="0.9" stroke-linejoin="round" />
<polyline points="409.60,557.80 439.42,593.00 469.23,594.00 502.78,588.00 532.59,594.00 558.68,592.00 588.50,587.00 618.31,589.00 670.49,589.00" fill="none" stroke="#ff1a1a" stroke-width="0.9" stroke-linejoin="round" />
<polyline points="409.60,566.00 439.42,579.70 469.23,566.00 502.78,576.50 532.59,576.50 558.68,576.50 588.50,572.00 618.31,553.60 670.49,541.80" fill="none" stroke="#1a1aff" stroke-width="0.9" stroke-linejoin="round" />
<polyline points="409.60,531.90 439.42,590.00 469.23,588.00 502.78,585.00 532.59,588.00 558.68,583.00 588.50,590.00 618.31,586.00 670.49,590.00" fill="none" stroke="#1a1aff" stroke-width="0.9" stroke-linejoin="round" />
<polyline points="409.60,541.00 439.42,592.00 469.23,592.00 502.78,586.00 532.59,584.00 558.68,586.00 588.50,582.00 618.31,585.00 670.49,588.00" fill="none" stroke="#1a1aff" stroke-width="0.9" stroke-linejoin="round" />
<polyline points="409.60,546.00 439.42,593.00 469.23,590.00 502.78,588.00 532.59,590.00 558.68,585.00 588.50,586.00 618.31,588.00 670.49,589.00" fill="none" stroke="#1a1aff" stroke-width="0.9" stroke-linejoin="round" />
<polyline points="409.60,549.00 439.42,588.00 469.23,586.00 502.78,584.00 532.59,586.00 558.68,584.00 588.50,586.00 618.31,587.00 670.49,591.00" fill="none" stroke="#1a1aff" stroke-width="0.9" stroke-linejoin="round" />
<polyline points="409.60,522.60 439.42,499.00 469.23,465.30" fill="none" stroke="#1a1a1a" stroke-width="0.9" stroke-linejoin="round" />
<polyline points="409.60,524.60 439.42,520.50 469.23,470.40" fill="none" stroke="#1a1a1a" stroke-width="0.9" stroke-linejoin="round" />
<polyline points="409.60,523.60 439.42,537.50 469.23,522.60" fill="none" stroke="#1a1a1a" stroke-width="0.9" stroke-linejoin="round" />
<polyline points="409.60,582.30 439.42,557.40 469.23,548.60" fill="none" stroke="#1a1a1a" stroke-width="0.9" stroke-linejoin="round" />
<text x="364.30" y="650.80" font-size="11.3" text-anchor="start" font-weight="bold" fill="#000" >h</text>
<line x1="414.50" y1="659.30" x2="414.50" y2="798.80" stroke="#3a3a3a" stroke-width="1" />
<line x1="414.00" y1="798.30" x2="621.50" y2="798.30" stroke="#3a3a3a" stroke-width="1" />
<line x1="410.80" y1="798.30" x2="414.50" y2="798.30" stroke="#3a3a3a" stroke-width="1" />
<text x="409.00" y="801.90" font-size="9.5" text-anchor="end" font-weight="normal" fill="#000" >0</text>
<line x1="410.80" y1="770.60" x2="414.50" y2="770.60" stroke="#3a3a3a" stroke-width="1" />
<text x="409.00" y="774.20" font-size="9.5" text-anchor="end" font-weight="normal" fill="#000" >20</text>
<line x1="410.80" y1="742.90" x2="414.50" y2="742.90" stroke="#3a3a3a" stroke-width="1" />
<text x="409.00" y="746.50" font-size="9.5" text-anchor="end" font-weight="normal" fill="#000" >40</text>
<line x1="410.80" y1="715.20" x2="414.50" y2="715.20" stroke="#3a3a3a" stroke-width="1" />
<text x="409.00" y="718.80" font-size="9.5" text-anchor="end" font-weight="normal" fill="#000" >60</text>
<line x1="410.80" y1="687.50" x2="414.50" y2="687.50" stroke="#3a3a3a" stroke-width="1" />
<text x="409.00" y="691.10" font-size="9.5" text-anchor="end" font-weight="normal" fill="#000" >80</text>
<line x1="410.80" y1="659.80" x2="414.50" y2="659.80" stroke="#3a3a3a" stroke-width="1" />
<text x="409.00" y="663.40" font-size="9.5" text-anchor="end" font-weight="normal" fill="#000" >100</text>
<line x1="414.50" y1="798.30" x2="414.50" y2="802.20" stroke="#3a3a3a" stroke-width="1" />
<text x="414.10" y="812.70" font-size="9.3" text-anchor="middle" font-weight="normal" fill="#000" >0</text>
<line x1="444.00" y1="798.30" x2="444.00" y2="802.20" stroke="#3a3a3a" stroke-width="1" />
<text x="443.60" y="812.70" font-size="9.3" text-anchor="middle" font-weight="normal" fill="#000" >10</text>
<line x1="473.50" y1="798.30" x2="473.50" y2="802.20" stroke="#3a3a3a" stroke-width="1" />
<text x="473.10" y="812.70" font-size="9.3" text-anchor="middle" font-weight="normal" fill="#000" >20</text>
<line x1="503.00" y1="798.30" x2="503.00" y2="802.20" stroke="#3a3a3a" stroke-width="1" />
<text x="502.60" y="812.70" font-size="9.3" text-anchor="middle" font-weight="normal" fill="#000" >30</text>
<line x1="532.50" y1="798.30" x2="532.50" y2="802.20" stroke="#3a3a3a" stroke-width="1" />
<text x="532.10" y="812.70" font-size="9.3" text-anchor="middle" font-weight="normal" fill="#000" >40</text>
<line x1="562.00" y1="798.30" x2="562.00" y2="802.20" stroke="#3a3a3a" stroke-width="1" />
<text x="561.60" y="812.70" font-size="9.3" text-anchor="middle" font-weight="normal" fill="#000" >50</text>
<line x1="591.50" y1="798.30" x2="591.50" y2="802.20" stroke="#3a3a3a" stroke-width="1" />
<text x="591.10" y="812.70" font-size="9.3" text-anchor="middle" font-weight="normal" fill="#000" >60</text>
<line x1="621.00" y1="798.30" x2="621.00" y2="802.20" stroke="#3a3a3a" stroke-width="1" />
<text x="620.60" y="812.70" font-size="9.3" text-anchor="middle" font-weight="normal" fill="#000" >70</text>
<text x="518.40" y="830.80" font-size="9.9" text-anchor="middle" font-weight="normal" fill="#000" >Days post T cells infusion</text>
<text transform="translate(380.00 727.20) rotate(-90)" font-size="9.9" text-anchor="middle">Percent survival (%)</text>
<line x1="414.50" y1="659.80" x2="621.00" y2="659.80" stroke="#ff1a1a" stroke-width="1.6" />
<line x1="414.50" y1="659.80" x2="621.00" y2="659.80" stroke="#1a1aff" stroke-width="1.6" stroke-dasharray="4.4,2.6"/>
<line x1="461.80" y1="659.80" x2="461.80" y2="798.30" stroke="#222" stroke-width="1.4" stroke-dasharray="1.4,1.7"/>
<text x="576.90" y="683.30" font-size="10" text-anchor="middle" font-weight="bold" fill="#000" >**</text>
<line x1="540.50" y1="756.30" x2="555.50" y2="756.30" stroke="#333" stroke-width="1.3" stroke-dasharray="1.3,2.2"/>
<text x="564.10" y="759.60" font-size="9.7" text-anchor="start" font-weight="normal" fill="#000" >CD19.28</text>
<line x1="540.50" y1="771.00" x2="555.50" y2="771.00" stroke="#ff1a1a" stroke-width="1.6" />
<text x="564.10" y="774.20" font-size="9.7" text-anchor="start" font-weight="normal" fill="#000" >B7-H3.28</text>
<line x1="540.50" y1="785.90" x2="555.50" y2="785.90" stroke="#1a1aff" stroke-width="1.6" stroke-dasharray="2.8,2"/>
<text x="564.10" y="789.10" font-size="9.7" text-anchor="start" font-weight="normal" fill="#000" >B7-H3.BB</text>
<text x="315.00" y="8.70" font-size="11.6" text-anchor="start" font-weight="bold" fill="#000" >b</text>
<text x="398.20" y="17.90" font-size="9.8" text-anchor="middle" font-weight="normal" fill="#000" >CD19.28</text>
<text x="494.70" y="17.90" font-size="9.9" text-anchor="middle" font-weight="normal" fill="#000" >B7-H3.28</text>
<text x="590.30" y="17.90" font-size="9.8" text-anchor="middle" font-weight="normal" fill="#000" >B7-H3.BB</text>
<text x="348.00" y="28.60" font-size="9.6" text-anchor="end" font-weight="normal" fill="#000" >Days</text>
<text x="346.80" y="46.90" font-size="9.8" text-anchor="end" font-weight="normal" fill="#000" >-1</text>
<text x="346.80" y="92.90" font-size="9.8" text-anchor="end" font-weight="normal" fill="#000" >7</text>
<text x="346.80" y="138.90" font-size="9.8" text-anchor="end" font-weight="normal" fill="#000" >14</text>
<text x="346.80" y="184.90" font-size="9.8" text-anchor="end" font-weight="normal" fill="#000" >28</text>
<text x="346.80" y="230.90" font-size="9.8" text-anchor="end" font-weight="normal" fill="#000" >49</text>
<text x="346.80" y="276.90" font-size="9.8" text-anchor="end" font-weight="normal" fill="#000" >63</text>
<text x="346.80" y="322.90" font-size="9.8" text-anchor="end" font-weight="normal" fill="#000" >98</text>
<rect x="352.5" y="22" width="92.6" height="138" fill="#1b1b1b"/>
<rect x="426.5" y="160" width="18.6" height="46" fill="#1b1b1b"/>
<rect x="448.4" y="22" width="92.6" height="322" fill="#1b1b1b"/>
<rect x="544.4" y="22" width="93" height="322" fill="#1b1b1b"/>
<g filter="url(#tex)">
<ellipse cx="355.1" cy="32.7" rx="1.4" ry="0.7" fill="#a0a0a0" transform="rotate(-35 355.1 32.7)"/>
<ellipse cx="355.0" cy="57.8" rx="1.8" ry="0.8" fill="#a8a8a8" transform="rotate(30 355.0 57.8)"/>
<ellipse cx="368.4" cy="32.7" rx="1.4" ry="0.7" fill="#a0a0a0" transform="rotate(35 368.4 32.7)"/>
<ellipse cx="368.5" cy="57.8" rx="1.8" ry="0.8" fill="#a8a8a8" transform="rotate(-30 368.5 57.8)"/>
<path d="M361.8,23.0 C362.3,23.0 362.8,23.6 363.3,24.1 C363.8,24.5 364.2,25.0 364.6,25.7 C365.0,26.4 365.3,27.2 365.7,28.0 C366.0,28.8 366.4,29.7 366.9,30.6 C367.3,31.5 368.0,31.7 368.3,33.4 C368.7,35.2 368.6,38.2 368.8,41.0 C369.1,43.8 369.6,47.9 369.7,50.4 C369.7,52.8 369.9,54.3 369.3,55.8 C368.7,57.2 368.0,58.5 366.1,59.0 C364.1,59.5 359.4,59.5 357.4,59.0 C355.5,58.5 354.9,57.2 354.3,55.8 C353.7,54.3 353.8,52.8 353.9,50.4 C353.9,47.9 354.5,43.8 354.7,41.0 C354.9,38.2 354.9,35.2 355.2,33.4 C355.5,31.7 356.2,31.5 356.6,30.6 C357.1,29.7 357.5,28.8 357.9,28.0 C358.2,27.2 358.5,26.4 358.9,25.7 C359.3,25.0 359.7,24.5 360.2,24.1 C360.7,23.6 361.2,23.0 361.8,23.0Z" fill="url(#mb)"/>
<ellipse cx="373.7" cy="32.7" rx="1.4" ry="0.7" fill="#a0a0a0" transform="rotate(-35 373.7 32.7)"/>
<ellipse cx="373.5" cy="57.8" rx="1.8" ry="0.8" fill="#a8a8a8" transform="rotate(30 373.5 57.8)"/>
<ellipse cx="386.9" cy="32.7" rx="1.4" ry="0.7" fill="#a0a0a0" transform="rotate(35 386.9 32.7)"/>
<ellipse cx="387.1" cy="57.8" rx="1.8" ry="0.8" fill="#a8a8a8" transform="rotate(-30 387.1 57.8)"/>
<path d="M380.3,23.0 C380.8,23.0 381.3,23.6 381.8,24.1 C382.3,24.5 382.8,25.0 383.2,25.7 C383.5,26.4 383.8,27.2 384.2,28.0 C384.6,28.8 385.0,29.7 385.4,30.6 C385.9,31.5 386.5,31.7 386.9,33.4 C387.2,35.2 387.1,38.2 387.4,41.0 C387.6,43.8 388.1,47.9 388.2,50.4 C388.3,52.8 388.4,54.3 387.8,55.8 C387.2,57.2 386.6,58.5 384.6,59.0 C382.6,59.5 377.9,59.5 376.0,59.0 C374.0,58.5 373.4,57.2 372.8,55.8 C372.2,54.3 372.3,52.8 372.4,50.4 C372.4,47.9 373.0,43.8 373.2,41.0 C373.4,38.2 373.4,35.2 373.7,33.4 C374.0,31.7 374.7,31.5 375.1,30.6 C375.6,29.7 376.0,28.8 376.4,28.0 C376.8,27.2 377.0,26.4 377.4,25.7 C377.8,25.0 378.3,24.5 378.7,24.1 C379.2,23.6 379.8,23.0 380.3,23.0Z" fill="url(#mb)"/>
<ellipse cx="392.2" cy="32.7" rx="1.4" ry="0.7" fill="#a0a0a0" transform="rotate(-35 392.2 32.7)"/>
<ellipse cx="392.0" cy="57.8" rx="1.8" ry="0.8" fill="#a8a8a8" transform="rotate(30 392.0 57.8)"/>
<ellipse cx="405.4" cy="32.7" rx="1.4" ry="0.7" fill="#a0a0a0" transform="rotate(35 405.4 32.7)"/>
<ellipse cx="405.6" cy="57.8" rx="1.8" ry="0.8" fill="#a8a8a8" transform="rotate(-30 405.6 57.8)"/>
<path d="M398.8,23.0 C399.3,23.0 399.9,23.6 400.3,24.1 C400.8,24.5 401.3,25.0 401.7,25.7 C402.1,26.4 402.3,27.2 402.7,28.0 C403.1,28.8 403.5,29.7 403.9,30.6 C404.4,31.5 405.0,31.7 405.4,33.4 C405.7,35.2 405.7,38.2 405.9,41.0 C406.1,43.8 406.6,47.9 406.7,50.4 C406.8,52.8 406.9,54.3 406.3,55.8 C405.7,57.2 405.1,58.5 403.1,59.0 C401.1,59.5 396.5,59.5 394.5,59.0 C392.5,58.5 391.9,57.2 391.3,55.8 C390.7,54.3 390.8,52.8 390.9,50.4 C391.0,47.9 391.5,43.8 391.7,41.0 C391.9,38.2 391.9,35.2 392.2,33.4 C392.6,31.7 393.2,31.5 393.7,30.6 C394.1,29.7 394.5,28.8 394.9,28.0 C395.3,27.2 395.5,26.4 395.9,25.7 C396.3,25.0 396.8,24.5 397.3,24.1 C397.7,23.6 398.3,23.0 398.8,23.0Z" fill="url(#mb)"/>
<ellipse cx="410.7" cy="32.7" rx="1.4" ry="0.7" fill="#a0a0a0" transform="rotate(-35 410.7 32.7)"/>
<ellipse cx="410.5" cy="57.8" rx="1.8" ry="0.8" fill="#a8a8a8" transform="rotate(30 410.5 57.8)"/>
<ellipse cx="423.9" cy="32.7" rx="1.4" ry="0.7" fill="#a0a0a0" transform="rotate(35 423.9 32.7)"/>
<ellipse cx="424.1" cy="57.8" rx="1.8" ry="0.8" fill="#a8a8a8" transform="rotate(-30 424.1 57.8)"/>
<path d="M417.3,23.0 C417.8,23.0 418.4,23.6 418.9,24.1 C419.3,24.5 419.8,25.0 420.2,25.7 C420.6,26.4 420.8,27.2 421.2,28.0 C421.6,28.8 422.0,29.7 422.5,30.6 C422.9,31.5 423.6,31.7 423.9,33.4 C424.2,35.2 424.2,38.2 424.4,41.0 C424.6,43.8 425.2,47.9 425.2,50.4 C425.3,52.8 425.4,54.3 424.8,55.8 C424.2,57.2 423.6,58.5 421.6,59.0 C419.7,59.5 415.0,59.5 413.0,59.0 C411.0,58.5 410.4,57.2 409.8,55.8 C409.2,54.3 409.3,52.8 409.4,50.4 C409.5,47.9 410.0,43.8 410.2,41.0 C410.5,38.2 410.4,35.2 410.7,33.4 C411.1,31.7 411.7,31.5 412.2,30.6 C412.6,29.7 413.0,28.8 413.4,28.0 C413.8,27.2 414.1,26.4 414.4,25.7 C414.8,25.0 415.3,24.5 415.8,24.1 C416.3,23.6 416.8,23.0 417.3,23.0Z" fill="url(#mb)"/>
<ellipse cx="429.2" cy="32.7" rx="1.4" ry="0.7" fill="#a0a0a0" transform="rotate(-35 429.2 32.7)"/>
<ellipse cx="429.1" cy="57.8" rx="1.8" ry="0.8" fill="#a8a8a8" transform="rotate(30 429.1 57.8)"/>
<ellipse cx="442.5" cy="32.7" rx="1.4" ry="0.7" fill="#a0a0a0" transform="rotate(35 442.5 32.7)"/>
<ellipse cx="442.6" cy="57.8" rx="1.8" ry="0.8" fill="#a8a8a8" transform="rotate(-30 442.6 57.8)"/>
<path d="M435.8,23.0 C436.4,23.0 436.9,23.6 437.4,24.1 C437.9,24.5 438.3,25.0 438.7,25.7 C439.1,26.4 439.4,27.2 439.7,28.0 C440.1,28.8 440.5,29.7 441.0,30.6 C441.4,31.5 442.1,31.7 442.4,33.4 C442.7,35.2 442.7,38.2 442.9,41.0 C443.1,43.8 443.7,47.9 443.7,50.4 C443.8,52.8 443.9,54.3 443.3,55.8 C442.7,57.2 442.1,58.5 440.2,59.0 C438.2,59.5 433.5,59.5 431.5,59.0 C429.6,58.5 428.9,57.2 428.3,55.8 C427.7,54.3 427.9,52.8 427.9,50.4 C428.0,47.9 428.5,43.8 428.8,41.0 C429.0,38.2 428.9,35.2 429.3,33.4 C429.6,31.7 430.3,31.5 430.7,30.6 C431.2,29.7 431.6,28.8 431.9,28.0 C432.3,27.2 432.6,26.4 433.0,25.7 C433.4,25.0 433.8,24.5 434.3,24.1 C434.8,23.6 435.3,23.0 435.8,23.0Z" fill="url(#mb)"/>
<ellipse cx="355.1" cy="78.3" rx="1.4" ry="0.7" fill="#a0a0a0" transform="rotate(-35 355.1 78.3)"/>
<ellipse cx="355.0" cy="102.3" rx="1.8" ry="0.8" fill="#a8a8a8" transform="rotate(30 355.0 102.3)"/>
<ellipse cx="368.4" cy="78.3" rx="1.4" ry="0.7" fill="#a0a0a0" transform="rotate(35 368.4 78.3)"/>
<ellipse cx="368.5" cy="102.3" rx="1.8" ry="0.8" fill="#a8a8a8" transform="rotate(-30 368.5 102.3)"/>
<path d="M361.8,69.0 C362.3,69.0 362.8,69.6 363.3,70.0 C363.8,70.5 364.2,71.0 364.6,71.6 C365.0,72.2 365.3,73.1 365.7,73.8 C366.0,74.6 366.4,75.4 366.9,76.2 C367.3,77.1 368.0,77.3 368.3,79.0 C368.7,80.7 368.6,83.5 368.8,86.2 C369.1,89.0 369.6,92.9 369.7,95.2 C369.7,97.6 369.9,99.0 369.3,100.4 C368.7,101.8 368.0,103.0 366.1,103.5 C364.1,104.0 359.4,104.0 357.4,103.5 C355.5,103.0 354.9,101.8 354.3,100.4 C353.7,99.0 353.8,97.6 353.9,95.2 C353.9,92.9 354.5,89.0 354.7,86.2 C354.9,83.5 354.9,80.7 355.2,79.0 C355.5,77.3 356.2,77.1 356.6,76.2 C357.1,75.4 357.5,74.6 357.9,73.8 C358.2,73.1 358.5,72.2 358.9,71.6 C359.3,71.0 359.7,70.5 360.2,70.0 C360.7,69.6 361.2,69.0 361.8,69.0Z" fill="url(#mb)"/>
<ellipse cx="373.7" cy="78.3" rx="1.4" ry="0.7" fill="#a0a0a0" transform="rotate(-35 373.7 78.3)"/>
<ellipse cx="373.5" cy="102.3" rx="1.8" ry="0.8" fill="#a8a8a8" transform="rotate(30 373.5 102.3)"/>
<ellipse cx="386.9" cy="78.3" rx="1.4" ry="0.7" fill="#a0a0a0" transform="rotate(35 386.9 78.3)"/>
<ellipse cx="387.1" cy="102.3" rx="1.8" ry="0.8" fill="#a8a8a8" transform="rotate(-30 387.1 102.3)"/>
<path d="M380.3,69.0 C380.8,69.0 381.3,69.6 381.8,70.0 C382.3,70.5 382.8,71.0 383.2,71.6 C383.5,72.2 383.8,73.1 384.2,73.8 C384.6,74.6 385.0,75.4 385.4,76.2 C385.9,77.1 386.5,77.3 386.9,79.0 C387.2,80.7 387.1,83.5 387.4,86.2 C387.6,89.0 388.1,92.9 388.2,95.2 C388.3,97.6 388.4,99.0 387.8,100.4 C387.2,101.8 386.6,103.0 384.6,103.5 C382.6,104.0 377.9,104.0 376.0,103.5 C374.0,103.0 373.4,101.8 372.8,100.4 C372.2,99.0 372.3,97.6 372.4,95.2 C372.4,92.9 373.0,89.0 373.2,86.2 C373.4,83.5 373.4,80.7 373.7,79.0 C374.0,77.3 374.7,77.1 375.1,76.2 C375.6,75.4 376.0,74.6 376.4,73.8 C376.8,73.1 377.0,72.2 377.4,71.6 C377.8,71.0 378.3,70.5 378.7,70.0 C379.2,69.6 379.8,69.0 380.3,69.0Z" fill="url(#mb)"/>
<ellipse cx="392.2" cy="78.3" rx="1.4" ry="0.7" fill="#a0a0a0" transform="rotate(-35 392.2 78.3)"/>
<ellipse cx="392.0" cy="102.3" rx="1.8" ry="0.8" fill="#a8a8a8" transform="rotate(30 392.0 102.3)"/>
<ellipse cx="405.4" cy="78.3" rx="1.4" ry="0.7" fill="#a0a0a0" transform="rotate(35 405.4 78.3)"/>
<ellipse cx="405.6" cy="102.3" rx="1.8" ry="0.8" fill="#a8a8a8" transform="rotate(-30 405.6 102.3)"/>
<path d="M398.8,69.0 C399.3,69.0 399.9,69.6 400.3,70.0 C400.8,70.5 401.3,71.0 401.7,71.6 C402.1,72.2 402.3,73.1 402.7,73.8 C403.1,74.6 403.5,75.4 403.9,76.2 C404.4,77.1 405.0,77.3 405.4,79.0 C405.7,80.7 405.7,83.5 405.9,86.2 C406.1,89.0 406.6,92.9 406.7,95.2 C406.8,97.6 406.9,99.0 406.3,100.4 C405.7,101.8 405.1,103.0 403.1,103.5 C401.1,104.0 396.5,104.0 394.5,103.5 C392.5,103.0 391.9,101.8 391.3,100.4 C390.7,99.0 390.8,97.6 390.9,95.2 C391.0,92.9 391.5,89.0 391.7,86.2 C391.9,83.5 391.9,80.7 392.2,79.0 C392.6,77.3 393.2,77.1 393.7,76.2 C394.1,75.4 394.5,74.6 394.9,73.8 C395.3,73.1 395.5,72.2 395.9,71.6 C396.3,71.0 396.8,70.5 397.3,70.0 C397.7,69.6 398.3,69.0 398.8,69.0Z" fill="url(#mb)"/>
<ellipse cx="410.7" cy="78.3" rx="1.4" ry="0.7" fill="#a0a0a0" transform="rotate(-35 410.7 78.3)"/>
<ellipse cx="410.5" cy="102.3" rx="1.8" ry="0.8" fill="#a8a8a8" transform="rotate(30 410.5 102.3)"/>
<ellipse cx="423.9" cy="78.3" rx="1.4" ry="0.7" fill="#a0a0a0" transform="rotate(35 423.9 78.3)"/>
<ellipse cx="424.1" cy="102.3" rx="1.8" ry="0.8" fill="#a8a8a8" transform="rotate(-30 424.1 102.3)"/>
<path d="M417.3,69.0 C417.8,69.0 418.4,69.6 418.9,70.0 C419.3,70.5 419.8,71.0 420.2,71.6 C420.6,72.2 420.8,73.1 421.2,73.8 C421.6,74.6 422.0,75.4 422.5,76.2 C422.9,77.1 423.6,77.3 423.9,79.0 C424.2,80.7 424.2,83.5 424.4,86.2 C424.6,89.0 425.2,92.9 425.2,95.2 C425.3,97.6 425.4,99.0 424.8,100.4 C424.2,101.8 423.6,103.0 421.6,103.5 C419.7,104.0 415.0,104.0 413.0,103.5 C411.0,103.0 410.4,101.8 409.8,100.4 C409.2,99.0 409.3,97.6 409.4,95.2 C409.5,92.9 410.0,89.0 410.2,86.2 C410.5,83.5 410.4,80.7 410.7,79.0 C411.1,77.3 411.7,77.1 412.2,76.2 C412.6,75.4 413.0,74.6 413.4,73.8 C413.8,73.1 414.1,72.2 414.4,71.6 C414.8,71.0 415.3,70.5 415.8,70.0 C416.3,69.6 416.8,69.0 417.3,69.0Z" fill="url(#mb)"/>
<ellipse cx="429.2" cy="78.3" rx="1.4" ry="0.7" fill="#a0a0a0" transform="rotate(-35 429.2 78.3)"/>
<ellipse cx="429.1" cy="102.3" rx="1.8" ry="0.8" fill="#a8a8a8" transform="rotate(30 429.1 102.3)"/>
<ellipse cx="442.5" cy="78.3" rx="1.4" ry="0.7" fill="#a0a0a0" transform="rotate(35 442.5 78.3)"/>
<ellipse cx="442.6" cy="102.3" rx="1.8" ry="0.8" fill="#a8a8a8" transform="rotate(-30 442.6 102.3)"/>
<path d="M435.8,69.0 C436.4,69.0 436.9,69.6 437.4,70.0 C437.9,70.5 438.3,71.0 438.7,71.6 C439.1,72.2 439.4,73.1 439.7,73.8 C440.1,74.6 440.5,75.4 441.0,76.2 C441.4,77.1 442.1,77.3 442.4,79.0 C442.7,80.7 442.7,83.5 442.9,86.2 C443.1,89.0 443.7,92.9 443.7,95.2 C443.8,97.6 443.9,99.0 443.3,100.4 C442.7,101.8 442.1,103.0 440.2,103.5 C438.2,104.0 433.5,104.0 431.5,103.5 C429.6,103.0 428.9,101.8 428.3,100.4 C427.7,99.0 427.9,97.6 427.9,95.2 C428.0,92.9 428.5,89.0 428.8,86.2 C429.0,83.5 428.9,80.7 429.3,79.0 C429.6,77.3 430.3,77.1 430.7,76.2 C431.2,75.4 431.6,74.6 431.9,73.8 C432.3,73.1 432.6,72.2 433.0,71.6 C433.4,71.0 433.8,70.5 434.3,70.0 C434.8,69.6 435.3,69.0 435.8,69.0Z" fill="url(#mb)"/>
<ellipse cx="355.1" cy="124.5" rx="1.4" ry="0.7" fill="#a0a0a0" transform="rotate(-35 355.1 124.5)"/>
<ellipse cx="355.0" cy="148.8" rx="1.8" ry="0.8" fill="#a8a8a8" transform="rotate(30 355.0 148.8)"/>
<ellipse cx="368.4" cy="124.5" rx="1.4" ry="0.7" fill="#a0a0a0" transform="rotate(35 368.4 124.5)"/>
<ellipse cx="368.5" cy="148.8" rx="1.8" ry="0.8" fill="#a8a8a8" transform="rotate(-30 368.5 148.8)"/>
<path d="M361.8,115.0 C362.3,115.0 362.8,115.6 363.3,116.0 C363.8,116.5 364.2,117.0 364.6,117.6 C365.0,118.3 365.3,119.1 365.7,119.9 C366.0,120.7 366.4,121.5 366.9,122.3 C367.3,123.2 368.0,123.5 368.3,125.2 C368.7,126.8 368.6,129.8 368.8,132.5 C369.1,135.2 369.6,139.2 369.7,141.6 C369.7,144.0 369.9,145.4 369.3,146.8 C368.7,148.2 368.0,149.5 366.1,150.0 C364.1,150.5 359.4,150.5 357.4,150.0 C355.5,149.5 354.9,148.2 354.3,146.8 C353.7,145.4 353.8,144.0 353.9,141.6 C353.9,139.2 354.5,135.2 354.7,132.5 C354.9,129.8 354.9,126.8 355.2,125.2 C355.5,123.5 356.2,123.2 356.6,122.3 C357.1,121.5 357.5,120.7 357.9,119.9 C358.2,119.1 358.5,118.3 358.9,117.6 C359.3,117.0 359.7,116.5 360.2,116.0 C360.7,115.6 361.2,115.0 361.8,115.0Z" fill="url(#mb)"/>
<ellipse cx="373.7" cy="124.5" rx="1.4" ry="0.7" fill="#a0a0a0" transform="rotate(-35 373.7 124.5)"/>
<ellipse cx="373.5" cy="148.8" rx="1.8" ry="0.8" fill="#a8a8a8" transform="rotate(30 373.5 148.8)"/>
<ellipse cx="386.9" cy="124.5" rx="1.4" ry="0.7" fill="#a0a0a0" transform="rotate(35 386.9 124.5)"/>
<ellipse cx="387.1" cy="148.8" rx="1.8" ry="0.8" fill="#a8a8a8" transform="rotate(-30 387.1 148.8)"/>
<path d="M380.3,115.0 C380.8,115.0 381.3,115.6 381.8,116.0 C382.3,116.5 382.8,117.0 383.2,117.6 C383.5,118.3 383.8,119.1 384.2,119.9 C384.6,120.7 385.0,121.5 385.4,122.3 C385.9,123.2 386.5,123.5 386.9,125.2 C387.2,126.8 387.1,129.8 387.4,132.5 C387.6,135.2 388.1,139.2 388.2,141.6 C388.3,144.0 388.4,145.4 387.8,146.8 C387.2,148.2 386.6,149.5 384.6,150.0 C382.6,150.5 377.9,150.5 376.0,150.0 C374.0,149.5 373.4,148.2 372.8,146.8 C372.2,145.4 372.3,144.0 372.4,141.6 C372.4,139.2 373.0,135.2 373.2,132.5 C373.4,129.8 373.4,126.8 373.7,125.2 C374.0,123.5 374.7,123.2 375.1,122.3 C375.6,121.5 376.0,120.7 376.4,119.9 C376.8,119.1 377.0,118.3 377.4,117.6 C377.8,117.0 378.3,116.5 378.7,116.0 C379.2,115.6 379.8,115.0 380.3,115.0Z" fill="url(#mb)"/>
<ellipse cx="392.2" cy="124.5" rx="1.4" ry="0.7" fill="#a0a0a0" transform="rotate(-35 392.2 124.5)"/>
<ellipse cx="392.0" cy="148.8" rx="1.8" ry="0.8" fill="#a8a8a8" transform="rotate(30 392.0 148.8)"/>
<ellipse cx="405.4" cy="124.5" rx="1.4" ry="0.7" fill="#a0a0a0" transform="rotate(35 405.4 124.5)"/>
<ellipse cx="405.6" cy="148.8" rx="1.8" ry="0.8" fill="#a8a8a8" transform="rotate(-30 405.6 148.8)"/>
<path d="M398.8,115.0 C399.3,115.0 399.9,115.6 400.3,116.0 C400.8,116.5 401.3,117.0 401.7,117.6 C402.1,118.3 402.3,119.1 402.7,119.9 C403.1,120.7 403.5,121.5 403.9,122.3 C404.4,123.2 405.0,123.5 405.4,125.2 C405.7,126.8 405.7,129.8 405.9,132.5 C406.1,135.2 406.6,139.2 406.7,141.6 C406.8,144.0 406.9,145.4 406.3,146.8 C405.7,148.2 405.1,149.5 403.1,150.0 C401.1,150.5 396.5,150.5 394.5,150.0 C392.5,149.5 391.9,148.2 391.3,146.8 C390.7,145.4 390.8,144.0 390.9,141.6 C391.0,139.2 391.5,135.2 391.7,132.5 C391.9,129.8 391.9,126.8 392.2,125.2 C392.6,123.5 393.2,123.2 393.7,122.3 C394.1,121.5 394.5,120.7 394.9,119.9 C395.3,119.1 395.5,118.3 395.9,117.6 C396.3,117.0 396.8,116.5 397.3,116.0 C397.7,115.6 398.3,115.0 398.8,115.0Z" fill="url(#mb)"/>
<ellipse cx="410.7" cy="124.5" rx="1.4" ry="0.7" fill="#a0a0a0" transform="rotate(-35 410.7 124.5)"/>
<ellipse cx="410.5" cy="148.8" rx="1.8" ry="0.8" fill="#a8a8a8" transform="rotate(30 410.5 148.8)"/>
<ellipse cx="423.9" cy="124.5" rx="1.4" ry="0.7" fill="#a0a0a0" transform="rotate(35 423.9 124.5)"/>
<ellipse cx="424.1" cy="148.8" rx="1.8" ry="0.8" fill="#a8a8a8" transform="rotate(-30 424.1 148.8)"/>
<path d="M417.3,115.0 C417.8,115.0 418.4,115.6 418.9,116.0 C419.3,116.5 419.8,117.0 420.2,117.6 C420.6,118.3 420.8,119.1 421.2,119.9 C421.6,120.7 422.0,121.5 422.5,122.3 C422.9,123.2 423.6,123.5 423.9,125.2 C424.2,126.8 424.2,129.8 424.4,132.5 C424.6,135.2 425.2,139.2 425.2,141.6 C425.3,144.0 425.4,145.4 424.8,146.8 C424.2,148.2 423.6,149.5 421.6,150.0 C419.7,150.5 415.0,150.5 413.0,150.0 C411.0,149.5 410.4,148.2 409.8,146.8 C409.2,145.4 409.3,144.0 409.4,141.6 C409.5,139.2 410.0,135.2 410.2,132.5 C410.5,129.8 410.4,126.8 410.7,125.2 C411.1,123.5 411.7,123.2 412.2,122.3 C412.6,121.5 413.0,120.7 413.4,119.9 C413.8,119.1 414.1,118.3 414.4,117.6 C414.8,117.0 415.3,116.5 415.8,116.0 C416.3,115.6 416.8,115.0 417.3,115.0Z" fill="url(#mb)"/>
<ellipse cx="429.2" cy="124.5" rx="1.4" ry="0.7" fill="#a0a0a0" transform="rotate(-35 429.2 124.5)"/>
<ellipse cx="429.1" cy="148.8" rx="1.8" ry="0.8" fill="#a8a8a8" transform="rotate(30 429.1 148.8)"/>
<ellipse cx="442.5" cy="124.5" rx="1.4" ry="0.7" fill="#a0a0a0" transform="rotate(35 442.5 124.5)"/>
<ellipse cx="442.6" cy="148.8" rx="1.8" ry="0.8" fill="#a8a8a8" transform="rotate(-30 442.6 148.8)"/>
<path d="M435.8,115.0 C436.4,115.0 436.9,115.6 437.4,116.0 C437.9,116.5 438.3,117.0 438.7,117.6 C439.1,118.3 439.4,119.1 439.7,119.9 C440.1,120.7 440.5,121.5 441.0,122.3 C441.4,123.2 442.1,123.5 442.4,125.2 C442.7,126.8 442.7,129.8 442.9,132.5 C443.1,135.2 443.7,139.2 443.7,141.6 C443.8,144.0 443.9,145.4 443.3,146.8 C442.7,148.2 442.1,149.5 440.2,150.0 C438.2,150.5 433.5,150.5 431.5,150.0 C429.6,149.5 428.9,148.2 428.3,146.8 C427.7,145.4 427.9,144.0 427.9,141.6 C428.0,139.2 428.5,135.2 428.8,132.5 C429.0,129.8 428.9,126.8 429.3,125.2 C429.6,123.5 430.3,123.2 430.7,122.3 C431.2,121.5 431.6,120.7 431.9,119.9 C432.3,119.1 432.6,118.3 433.0,117.6 C433.4,117.0 433.8,116.5 434.3,116.0 C434.8,115.6 435.3,115.0 435.8,115.0Z" fill="url(#mb)"/>
</g>
<path d="M360.56,58.50 L362.96,58.50 L362.36,67.00 L361.16,67.00Z" fill="#8a8a8a"/>
<path d="M357.76,58.00 L353.56,60.50 M365.76,58.00 L369.96,60.50" stroke="#9a9a9a" stroke-width="0.8"/>
<path d="M379.08,58.50 L381.48,58.50 L380.88,67.00 L379.68,67.00Z" fill="#8a8a8a"/>
<path d="M376.28,58.00 L372.08,60.50 M384.28,58.00 L388.48,60.50" stroke="#9a9a9a" stroke-width="0.8"/>
<path d="M397.60,58.50 L400.00,58.50 L399.40,67.00 L398.20,67.00Z" fill="#8a8a8a"/>
<path d="M394.80,58.00 L390.60,60.50 M402.80,58.00 L407.00,60.50" stroke="#9a9a9a" stroke-width="0.8"/>
<path d="M416.12,58.50 L418.52,58.50 L417.92,67.00 L416.72,67.00Z" fill="#8a8a8a"/>
<path d="M413.32,58.00 L409.12,60.50 M421.32,58.00 L425.52,60.50" stroke="#9a9a9a" stroke-width="0.8"/>
<path d="M434.64,58.50 L437.04,58.50 L436.44,67.00 L435.24,67.00Z" fill="#8a8a8a"/>
<path d="M431.84,58.00 L427.64,60.50 M439.84,58.00 L444.04,60.50" stroke="#9a9a9a" stroke-width="0.8"/>
<path d="M360.56,103.00 L362.96,103.00 L362.36,113.00 L361.16,113.00Z" fill="#8a8a8a"/>
<path d="M357.76,102.50 L353.56,105.00 M365.76,102.50 L369.96,105.00" stroke="#9a9a9a" stroke-width="0.8"/>
<path d="M379.08,103.00 L381.48,103.00 L380.88,113.00 L379.68,113.00Z" fill="#8a8a8a"/>
<path d="M376.28,102.50 L372.08,105.00 M384.28,102.50 L388.48,105.00" stroke="#9a9a9a" stroke-width="0.8"/>
<path d="M397.60,103.00 L400.00,103.00 L399.40,113.00 L398.20,113.00Z" fill="#8a8a8a"/>
<path d="M394.80,102.50 L390.60,105.00 M402.80,102.50 L407.00,105.00" stroke="#9a9a9a" stroke-width="0.8"/>
<path d="M416.12,103.00 L418.52,103.00 L417.92,113.00 L416.72,113.00Z" fill="#8a8a8a"/>
<path d="M413.32,102.50 L409.12,105.00 M421.32,102.50 L425.52,105.00" stroke="#9a9a9a" stroke-width="0.8"/>
<path d="M434.64,103.00 L437.04,103.00 L436.44,113.00 L435.24,113.00Z" fill="#8a8a8a"/>
<path d="M431.84,102.50 L427.64,105.00 M439.84,102.50 L444.04,105.00" stroke="#9a9a9a" stroke-width="0.8"/>
<path d="M360.56,149.50 L362.96,149.50 L362.36,159.00 L361.16,159.00Z" fill="#8a8a8a"/>
<path d="M357.76,149.00 L353.56,151.50 M365.76,149.00 L369.96,151.50" stroke="#9a9a9a" stroke-width="0.8"/>
<path d="M379.08,149.50 L381.48,149.50 L380.88,159.00 L379.68,159.00Z" fill="#8a8a8a"/>
<path d="M376.28,149.00 L372.08,151.50 M384.28,149.00 L388.48,151.50" stroke="#9a9a9a" stroke-width="0.8"/>
<path d="M397.60,149.50 L400.00,149.50 L399.40,159.00 L398.20,159.00Z" fill="#8a8a8a"/>
<path d="M394.80,149.00 L390.60,151.50 M402.80,149.00 L407.00,151.50" stroke="#9a9a9a" stroke-width="0.8"/>
<path d="M416.12,149.50 L418.52,149.50 L417.92,159.00 L416.72,159.00Z" fill="#8a8a8a"/>
<path d="M413.32,149.00 L409.12,151.50 M421.32,149.00 L425.52,151.50" stroke="#9a9a9a" stroke-width="0.8"/>
<path d="M434.64,149.50 L437.04,149.50 L436.44,159.00 L435.24,159.00Z" fill="#8a8a8a"/>
<path d="M431.84,149.00 L427.64,151.50 M439.84,149.00 L444.04,151.50" stroke="#9a9a9a" stroke-width="0.8"/>
<g filter="url(#tex)">
<ellipse cx="429.2" cy="170.7" rx="1.4" ry="0.7" fill="#a0a0a0" transform="rotate(-35 429.2 170.7)"/>
<ellipse cx="429.0" cy="195.8" rx="1.8" ry="0.8" fill="#a8a8a8" transform="rotate(30 429.0 195.8)"/>
<ellipse cx="442.4" cy="170.7" rx="1.4" ry="0.7" fill="#a0a0a0" transform="rotate(35 442.4 170.7)"/>
<ellipse cx="442.6" cy="195.8" rx="1.8" ry="0.8" fill="#a8a8a8" transform="rotate(-30 442.6 195.8)"/>
<path d="M435.8,161.0 C436.3,161.0 436.9,161.6 437.3,162.1 C437.8,162.5 438.3,163.0 438.7,163.7 C439.1,164.4 439.3,165.2 439.7,166.0 C440.1,166.8 440.5,167.7 440.9,168.6 C441.4,169.5 442.0,169.7 442.4,171.4 C442.7,173.2 442.7,176.2 442.9,179.0 C443.1,181.8 443.6,185.9 443.7,188.4 C443.8,190.8 443.9,192.3 443.3,193.8 C442.7,195.2 442.1,196.5 440.1,197.0 C438.1,197.5 433.5,197.5 431.5,197.0 C429.5,196.5 428.9,195.2 428.3,193.8 C427.7,192.3 427.8,190.8 427.9,188.4 C428.0,185.9 428.5,181.8 428.7,179.0 C428.9,176.2 428.9,173.2 429.2,171.4 C429.6,169.7 430.2,169.5 430.7,168.6 C431.1,167.7 431.5,166.8 431.9,166.0 C432.3,165.2 432.5,164.4 432.9,163.7 C433.3,163.0 433.8,162.5 434.3,162.1 C434.7,161.6 435.3,161.0 435.8,161.0Z" fill="url(#mb)"/>
</g>
<path d="M434.60,196.50 L437.00,196.50 L436.40,205.00 L435.20,205.00Z" fill="#8a8a8a"/>
<path d="M431.80,196.00 L427.60,198.50 M439.80,196.00 L444.00,198.50" stroke="#9a9a9a" stroke-width="0.8"/>
<g filter="url(#tex)">
<ellipse cx="451.0" cy="32.7" rx="1.4" ry="0.7" fill="#a0a0a0" transform="rotate(-35 451.0 32.7)"/>
<ellipse cx="450.9" cy="57.8" rx="1.8" ry="0.8" fill="#a8a8a8" transform="rotate(30 450.9 57.8)"/>
<ellipse cx="464.3" cy="32.7" rx="1.4" ry="0.7" fill="#a0a0a0" transform="rotate(35 464.3 32.7)"/>
<ellipse cx="464.4" cy="57.8" rx="1.8" ry="0.8" fill="#a8a8a8" transform="rotate(-30 464.4 57.8)"/>
<path d="M457.7,23.0 C458.2,23.0 458.7,23.6 459.2,24.1 C459.7,24.5 460.1,25.0 460.5,25.7 C460.9,26.4 461.2,27.2 461.6,28.0 C461.9,28.8 462.3,29.7 462.8,30.6 C463.2,31.5 463.9,31.7 464.2,33.4 C464.6,35.2 464.5,38.2 464.7,41.0 C465.0,43.8 465.5,47.9 465.6,50.4 C465.6,52.8 465.8,54.3 465.2,55.8 C464.6,57.2 463.9,58.5 462.0,59.0 C460.0,59.5 455.3,59.5 453.3,59.0 C451.4,58.5 450.8,57.2 450.2,55.8 C449.6,54.3 449.7,52.8 449.8,50.4 C449.8,47.9 450.4,43.8 450.6,41.0 C450.8,38.2 450.8,35.2 451.1,33.4 C451.4,31.7 452.1,31.5 452.5,30.6 C453.0,29.7 453.4,28.8 453.8,28.0 C454.1,27.2 454.4,26.4 454.8,25.7 C455.2,25.0 455.6,24.5 456.1,24.1 C456.6,23.6 457.1,23.0 457.7,23.0Z" fill="url(#mb)"/>
<ellipse cx="469.6" cy="32.7" rx="1.4" ry="0.7" fill="#a0a0a0" transform="rotate(-35 469.6 32.7)"/>
<ellipse cx="469.4" cy="57.8" rx="1.8" ry="0.8" fill="#a8a8a8" transform="rotate(30 469.4 57.8)"/>
<ellipse cx="482.8" cy="32.7" rx="1.4" ry="0.7" fill="#a0a0a0" transform="rotate(35 482.8 32.7)"/>
<ellipse cx="483.0" cy="57.8" rx="1.8" ry="0.8" fill="#a8a8a8" transform="rotate(-30 483.0 57.8)"/>
<path d="M476.2,23.0 C476.7,23.0 477.2,23.6 477.7,24.1 C478.2,24.5 478.7,25.0 479.1,25.7 C479.4,26.4 479.7,27.2 480.1,28.0 C480.5,28.8 480.9,29.7 481.3,30.6 C481.8,31.5 482.4,31.7 482.8,33.4 C483.1,35.2 483.0,38.2 483.3,41.0 C483.5,43.8 484.0,47.9 484.1,50.4 C484.2,52.8 484.3,54.3 483.7,55.8 C483.1,57.2 482.5,58.5 480.5,59.0 C478.5,59.5 473.8,59.5 471.9,59.0 C469.9,58.5 469.3,57.2 468.7,55.8 C468.1,54.3 468.2,52.8 468.3,50.4 C468.3,47.9 468.9,43.8 469.1,41.0 C469.3,38.2 469.3,35.2 469.6,33.4 C469.9,31.7 470.6,31.5 471.0,30.6 C471.5,29.7 471.9,28.8 472.3,28.0 C472.7,27.2 472.9,26.4 473.3,25.7 C473.7,25.0 474.2,24.5 474.6,24.1 C475.1,23.6 475.7,23.0 476.2,23.0Z" fill="url(#mb)"/>
<ellipse cx="488.1" cy="32.7" rx="1.4" ry="0.7" fill="#a0a0a0" transform="rotate(-35 488.1 32.7)"/>
<ellipse cx="487.9" cy="57.8" rx="1.8" ry="0.8" fill="#a8a8a8" transform="rotate(30 487.9 57.8)"/>
<ellipse cx="501.3" cy="32.7" rx="1.4" ry="0.7" fill="#a0a0a0" transform="rotate(35 501.3 32.7)"/>
<ellipse cx="501.5" cy="57.8" rx="1.8" ry="0.8" fill="#a8a8a8" transform="rotate(-30 501.5 57.8)"/>
<path d="M494.7,23.0 C495.2,23.0 495.8,23.6 496.2,24.1 C496.7,24.5 497.2,25.0 497.6,25.7 C498.0,26.4 498.2,27.2 498.6,28.0 C499.0,28.8 499.4,29.7 499.8,30.6 C500.3,31.5 500.9,31.7 501.3,33.4 C501.6,35.2 501.6,38.2 501.8,41.0 C502.0,43.8 502.5,47.9 502.6,50.4 C502.7,52.8 502.8,54.3 502.2,55.8 C501.6,57.2 501.0,58.5 499.0,59.0 C497.0,59.5 492.4,59.5 490.4,59.0 C488.4,58.5 487.8,57.2 487.2,55.8 C486.6,54.3 486.7,52.8 486.8,50.4 C486.9,47.9 487.4,43.8 487.6,41.0 C487.8,38.2 487.8,35.2 488.1,33.4 C488.5,31.7 489.1,31.5 489.6,30.6 C490.0,29.7 490.4,28.8 490.8,28.0 C491.2,27.2 491.4,26.4 491.8,25.7 C492.2,25.0 492.7,24.5 493.2,24.1 C493.6,23.6 494.2,23.0 494.7,23.0Z" fill="url(#mb)"/>
<ellipse cx="506.6" cy="32.7" rx="1.4" ry="0.7" fill="#a0a0a0" transform="rotate(-35 506.6 32.7)"/>
<ellipse cx="506.4" cy="57.8" rx="1.8" ry="0.8" fill="#a8a8a8" transform="rotate(30 506.4 57.8)"/>
<ellipse cx="519.8" cy="32.7" rx="1.4" ry="0.7" fill="#a0a0a0" transform="rotate(35 519.8 32.7)"/>
<ellipse cx="520.0" cy="57.8" rx="1.8" ry="0.8" fill="#a8a8a8" transform="rotate(-30 520.0 57.8)"/>
<path d="M513.2,23.0 C513.7,23.0 514.3,23.6 514.8,24.1 C515.2,24.5 515.7,25.0 516.1,25.7 C516.5,26.4 516.7,27.2 517.1,28.0 C517.5,28.8 517.9,29.7 518.4,30.6 C518.8,31.5 519.5,31.7 519.8,33.4 C520.1,35.2 520.1,38.2 520.3,41.0 C520.5,43.8 521.1,47.9 521.1,50.4 C521.2,52.8 521.3,54.3 520.7,55.8 C520.1,57.2 519.5,58.5 517.5,59.0 C515.6,59.5 510.9,59.5 508.9,59.0 C506.9,58.5 506.3,57.2 505.7,55.8 C505.1,54.3 505.2,52.8 505.3,50.4 C505.4,47.9 505.9,43.8 506.1,41.0 C506.4,38.2 506.3,35.2 506.6,33.4 C507.0,31.7 507.6,31.5 508.1,30.6 C508.5,29.7 508.9,28.8 509.3,28.0 C509.7,27.2 510.0,26.4 510.3,25.7 C510.7,25.0 511.2,24.5 511.7,24.1 C512.2,23.6 512.7,23.0 513.2,23.0Z" fill="url(#mb)"/>
<ellipse cx="525.1" cy="32.7" rx="1.4" ry="0.7" fill="#a0a0a0" transform="rotate(-35 525.1 32.7)"/>
<ellipse cx="525.0" cy="57.8" rx="1.8" ry="0.8" fill="#a8a8a8" transform="rotate(30 525.0 57.8)"/>
<ellipse cx="538.4" cy="32.7" rx="1.4" ry="0.7" fill="#a0a0a0" transform="rotate(35 538.4 32.7)"/>
<ellipse cx="538.5" cy="57.8" rx="1.8" ry="0.8" fill="#a8a8a8" transform="rotate(-30 538.5 57.8)"/>
<path d="M531.7,23.0 C532.3,23.0 532.8,23.6 533.3,24.1 C533.8,24.5 534.2,25.0 534.6,25.7 C535.0,26.4 535.3,27.2 535.6,28.0 C536.0,28.8 536.4,29.7 536.9,30.6 C537.3,31.5 538.0,31.7 538.3,33.4 C538.6,35.2 538.6,38.2 538.8,41.0 C539.0,43.8 539.6,47.9 539.6,50.4 C539.7,52.8 539.8,54.3 539.2,55.8 C538.6,57.2 538.0,58.5 536.1,59.0 C534.1,59.5 529.4,59.5 527.4,59.0 C525.5,58.5 524.8,57.2 524.2,55.8 C523.6,54.3 523.8,52.8 523.8,50.4 C523.9,47.9 524.4,43.8 524.7,41.0 C524.9,38.2 524.8,35.2 525.2,33.4 C525.5,31.7 526.2,31.5 526.6,30.6 C527.1,29.7 527.5,28.8 527.8,28.0 C528.2,27.2 528.5,26.4 528.9,25.7 C529.3,25.0 529.7,24.5 530.2,24.1 C530.7,23.6 531.2,23.0 531.7,23.0Z" fill="url(#mb)"/>
<ellipse cx="451.0" cy="78.3" rx="1.4" ry="0.7" fill="#a0a0a0" transform="rotate(-35 451.0 78.3)"/>
<ellipse cx="450.9" cy="102.3" rx="1.8" ry="0.8" fill="#a8a8a8" transform="rotate(30 450.9 102.3)"/>
<ellipse cx="464.3" cy="78.3" rx="1.4" ry="0.7" fill="#a0a0a0" transform="rotate(35 464.3 78.3)"/>
<ellipse cx="464.4" cy="102.3" rx="1.8" ry="0.8" fill="#a8a8a8" transform="rotate(-30 464.4 102.3)"/>
<path d="M457.7,69.0 C458.2,69.0 458.7,69.6 459.2,70.0 C459.7,70.5 460.1,71.0 460.5,71.6 C460.9,72.2 461.2,73.1 461.6,73.8 C461.9,74.6 462.3,75.4 462.8,76.2 C463.2,77.1 463.9,77.3 464.2,79.0 C464.6,80.7 464.5,83.5 464.7,86.2 C465.0,89.0 465.5,92.9 465.6,95.2 C465.6,97.6 465.8,99.0 465.2,100.4 C464.6,101.8 463.9,103.0 462.0,103.5 C460.0,104.0 455.3,104.0 453.3,103.5 C451.4,103.0 450.8,101.8 450.2,100.4 C449.6,99.0 449.7,97.6 449.8,95.2 C449.8,92.9 450.4,89.0 450.6,86.2 C450.8,83.5 450.8,80.7 451.1,79.0 C451.4,77.3 452.1,77.1 452.5,76.2 C453.0,75.4 453.4,74.6 453.8,73.8 C454.1,73.1 454.4,72.2 454.8,71.6 C455.2,71.0 455.6,70.5 456.1,70.0 C456.6,69.6 457.1,69.0 457.7,69.0Z" fill="url(#mb)"/>
<ellipse cx="469.6" cy="78.3" rx="1.4" ry="0.7" fill="#a0a0a0" transform="rotate(-35 469.6 78.3)"/>
<ellipse cx="469.4" cy="102.3" rx="1.8" ry="0.8" fill="#a8a8a8" transform="rotate(30 469.4 102.3)"/>
<ellipse cx="482.8" cy="78.3" rx="1.4" ry="0.7" fill="#a0a0a0" transform="rotate(35 482.8 78.3)"/>
<ellipse cx="483.0" cy="102.3" rx="1.8" ry="0.8" fill="#a8a8a8" transform="rotate(-30 483.0 102.3)"/>
<path d="M476.2,69.0 C476.7,69.0 477.2,69.6 477.7,70.0 C478.2,70.5 478.7,71.0 479.1,71.6 C479.4,72.2 479.7,73.1 480.1,73.8 C480.5,74.6 480.9,75.4 481.3,76.2 C481.8,77.1 482.4,77.3 482.8,79.0 C483.1,80.7 483.0,83.5 483.3,86.2 C483.5,89.0 484.0,92.9 484.1,95.2 C484.2,97.6 484.3,99.0 483.7,100.4 C483.1,101.8 482.5,103.0 480.5,103.5 C478.5,104.0 473.8,104.0 471.9,103.5 C469.9,103.0 469.3,101.8 468.7,100.4 C468.1,99.0 468.2,97.6 468.3,95.2 C468.3,92.9 468.9,89.0 469.1,86.2 C469.3,83.5 469.3,80.7 469.6,79.0 C469.9,77.3 470.6,77.1 471.0,76.2 C471.5,75.4 471.9,74.6 472.3,73.8 C472.7,73.1 472.9,72.2 473.3,71.6 C473.7,71.0 474.2,70.5 474.6,70.0 C475.1,69.6 475.7,69.0 476.2,69.0Z" fill="url(#mb)"/>
<ellipse cx="488.1" cy="78.3" rx="1.4" ry="0.7" fill="#a0a0a0" transform="rotate(-35 488.1 78.3)"/>
<ellipse cx="487.9" cy="102.3" rx="1.8" ry="0.8" fill="#a8a8a8" transform="rotate(30 487.9 102.3)"/>
<ellipse cx="501.3" cy="78.3" rx="1.4" ry="0.7" fill="#a0a0a0" transform="rotate(35 501.3 78.3)"/>
<ellipse cx="501.5" cy="102.3" rx="1.8" ry="0.8" fill="#a8a8a8" transform="rotate(-30 501.5 102.3)"/>
<path d="M494.7,69.0 C495.2,69.0 495.8,69.6 496.2,70.0 C496.7,70.5 497.2,71.0 497.6,71.6 C498.0,72.2 498.2,73.1 498.6,73.8 C499.0,74.6 499.4,75.4 499.8,76.2 C500.3,77.1 500.9,77.3 501.3,79.0 C501.6,80.7 501.6,83.5 501.8,86.2 C502.0,89.0 502.5,92.9 502.6,95.2 C502.7,97.6 502.8,99.0 502.2,100.4 C501.6,101.8 501.0,103.0 499.0,103.5 C497.0,104.0 492.4,104.0 490.4,103.5 C488.4,103.0 487.8,101.8 487.2,100.4 C486.6,99.0 486.7,97.6 486.8,95.2 C486.9,92.9 487.4,89.0 487.6,86.2 C487.8,83.5 487.8,80.7 488.1,79.0 C488.5,77.3 489.1,77.1 489.6,76.2 C490.0,75.4 490.4,74.6 490.8,73.8 C491.2,73.1 491.4,72.2 491.8,71.6 C492.2,71.0 492.7,70.5 493.2,70.0 C493.6,69.6 494.2,69.0 494.7,69.0Z" fill="url(#mb)"/>
<ellipse cx="506.6" cy="78.3" rx="1.4" ry="0.7" fill="#a0a0a0" transform="rotate(-35 506.6 78.3)"/>
<ellipse cx="506.4" cy="102.3" rx="1.8" ry="0.8" fill="#a8a8a8" transform="rotate(30 506.4 102.3)"/>
<ellipse cx="519.8" cy="78.3" rx="1.4" ry="0.7" fill="#a0a0a0" transform="rotate(35 519.8 78.3)"/>
<ellipse cx="520.0" cy="102.3" rx="1.8" ry="0.8" fill="#a8a8a8" transform="rotate(-30 520.0 102.3)"/>
<path d="M513.2,69.0 C513.7,69.0 514.3,69.6 514.8,70.0 C515.2,70.5 515.7,71.0 516.1,71.6 C516.5,72.2 516.7,73.1 517.1,73.8 C517.5,74.6 517.9,75.4 518.4,76.2 C518.8,77.1 519.5,77.3 519.8,79.0 C520.1,80.7 520.1,83.5 520.3,86.2 C520.5,89.0 521.1,92.9 521.1,95.2 C521.2,97.6 521.3,99.0 520.7,100.4 C520.1,101.8 519.5,103.0 517.5,103.5 C515.6,104.0 510.9,104.0 508.9,103.5 C506.9,103.0 506.3,101.8 505.7,100.4 C505.1,99.0 505.2,97.6 505.3,95.2 C505.4,92.9 505.9,89.0 506.1,86.2 C506.4,83.5 506.3,80.7 506.6,79.0 C507.0,77.3 507.6,77.1 508.1,76.2 C508.5,75.4 508.9,74.6 509.3,73.8 C509.7,73.1 510.0,72.2 510.3,71.6 C510.7,71.0 511.2,70.5 511.7,70.0 C512.2,69.6 512.7,69.0 513.2,69.0Z" fill="url(#mb)"/>
<ellipse cx="525.1" cy="78.3" rx="1.4" ry="0.7" fill="#a0a0a0" transform="rotate(-35 525.1 78.3)"/>
<ellipse cx="525.0" cy="102.3" rx="1.8" ry="0.8" fill="#a8a8a8" transform="rotate(30 525.0 102.3)"/>
<ellipse cx="538.4" cy="78.3" rx="1.4" ry="0.7" fill="#a0a0a0" transform="rotate(35 538.4 78.3)"/>
<ellipse cx="538.5" cy="102.3" rx="1.8" ry="0.8" fill="#a8a8a8" transform="rotate(-30 538.5 102.3)"/>
<path d="M531.7,69.0 C532.3,69.0 532.8,69.6 533.3,70.0 C533.8,70.5 534.2,71.0 534.6,71.6 C535.0,72.2 535.3,73.1 535.6,73.8 C536.0,74.6 536.4,75.4 536.9,76.2 C537.3,77.1 538.0,77.3 538.3,79.0 C538.6,80.7 538.6,83.5 538.8,86.2 C539.0,89.0 539.6,92.9 539.6,95.2 C539.7,97.6 539.8,99.0 539.2,100.4 C538.6,101.8 538.0,103.0 536.1,103.5 C534.1,104.0 529.4,104.0 527.4,103.5 C525.5,103.0 524.8,101.8 524.2,100.4 C523.6,99.0 523.8,97.6 523.8,95.2 C523.9,92.9 524.4,89.0 524.7,86.2 C524.9,83.5 524.8,80.7 525.2,79.0 C525.5,77.3 526.2,77.1 526.6,76.2 C527.1,75.4 527.5,74.6 527.8,73.8 C528.2,73.1 528.5,72.2 528.9,71.6 C529.3,71.0 529.7,70.5 530.2,70.0 C530.7,69.6 531.2,69.0 531.7,69.0Z" fill="url(#mb)"/>
<ellipse cx="451.0" cy="124.5" rx="1.4" ry="0.7" fill="#a0a0a0" transform="rotate(-35 451.0 124.5)"/>
<ellipse cx="450.9" cy="148.8" rx="1.8" ry="0.8" fill="#a8a8a8" transform="rotate(30 450.9 148.8)"/>
<ellipse cx="464.3" cy="124.5" rx="1.4" ry="0.7" fill="#a0a0a0" transform="rotate(35 464.3 124.5)"/>
<ellipse cx="464.4" cy="148.8" rx="1.8" ry="0.8" fill="#a8a8a8" transform="rotate(-30 464.4 148.8)"/>
<path d="M457.7,115.0 C458.2,115.0 458.7,115.6 459.2,116.0 C459.7,116.5 460.1,117.0 460.5,117.6 C460.9,118.3 461.2,119.1 461.6,119.9 C461.9,120.7 462.3,121.5 462.8,122.3 C463.2,123.2 463.9,123.5 464.2,125.2 C464.6,126.8 464.5,129.8 464.7,132.5 C465.0,135.2 465.5,139.2 465.6,141.6 C465.6,144.0 465.8,145.4 465.2,146.8 C464.6,148.2 463.9,149.5 462.0,150.0 C460.0,150.5 455.3,150.5 453.3,150.0 C451.4,149.5 450.8,148.2 450.2,146.8 C449.6,145.4 449.7,144.0 449.8,141.6 C449.8,139.2 450.4,135.2 450.6,132.5 C450.8,129.8 450.8,126.8 451.1,125.2 C451.4,123.5 452.1,123.2 452.5,122.3 C453.0,121.5 453.4,120.7 453.8,119.9 C454.1,119.1 454.4,118.3 454.8,117.6 C455.2,117.0 455.6,116.5 456.1,116.0 C456.6,115.6 457.1,115.0 457.7,115.0Z" fill="url(#mb)"/>
<ellipse cx="469.6" cy="124.5" rx="1.4" ry="0.7" fill="#a0a0a0" transform="rotate(-35 469.6 124.5)"/>
<ellipse cx="469.4" cy="148.8" rx="1.8" ry="0.8" fill="#a8a8a8" transform="rotate(30 469.4 148.8)"/>
<ellipse cx="482.8" cy="124.5" rx="1.4" ry="0.7" fill="#a0a0a0" transform="rotate(35 482.8 124.5)"/>
<ellipse cx="483.0" cy="148.8" rx="1.8" ry="0.8" fill="#a8a8a8" transform="rotate(-30 483.0 148.8)"/>
<path d="M476.2,115.0 C476.7,115.0 477.2,115.6 477.7,116.0 C478.2,116.5 478.7,117.0 479.1,117.6 C479.4,118.3 479.7,119.1 480.1,119.9 C480.5,120.7 480.9,121.5 481.3,122.3 C481.8,123.2 482.4,123.5 482.8,125.2 C483.1,126.8 483.0,129.8 483.3,132.5 C483.5,135.2 484.0,139.2 484.1,141.6 C484.2,144.0 484.3,145.4 483.7,146.8 C483.1,148.2 482.5,149.5 480.5,150.0 C478.5,150.5 473.8,150.5 471.9,150.0 C469.9,149.5 469.3,148.2 468.7,146.8 C468.1,145.4 468.2,144.0 468.3,141.6 C468.3,139.2 468.9,135.2 469.1,132.5 C469.3,129.8 469.3,126.8 469.6,125.2 C469.9,123.5 470.6,123.2 471.0,122.3 C471.5,121.5 471.9,120.7 472.3,119.9 C472.7,119.1 472.9,118.3 473.3,117.6 C473.7,117.0 474.2,116.5 474.6,116.0 C475.1,115.6 475.7,115.0 476.2,115.0Z" fill="url(#mb)"/>
<ellipse cx="488.1" cy="124.5" rx="1.4" ry="0.7" fill="#a0a0a0" transform="rotate(-35 488.1 124.5)"/>
<ellipse cx="487.9" cy="148.8" rx="1.8" ry="0.8" fill="#a8a8a8" transform="rotate(30 487.9 148.8)"/>
<ellipse cx="501.3" cy="124.5" rx="1.4" ry="0.7" fill="#a0a0a0" transform="rotate(35 501.3 124.5)"/>
<ellipse cx="501.5" cy="148.8" rx="1.8" ry="0.8" fill="#a8a8a8" transform="rotate(-30 501.5 148.8)"/>
<path d="M494.7,115.0 C495.2,115.0 495.8,115.6 496.2,116.0 C496.7,116.5 497.2,117.0 497.6,117.6 C498.0,118.3 498.2,119.1 498.6,119.9 C499.0,120.7 499.4,121.5 499.8,122.3 C500.3,123.2 500.9,123.5 501.3,125.2 C501.6,126.8 501.6,129.8 501.8,132.5 C502.0,135.2 502.5,139.2 502.6,141.6 C502.7,144.0 502.8,145.4 502.2,146.8 C501.6,148.2 501.0,149.5 499.0,150.0 C497.0,150.5 492.4,150.5 490.4,150.0 C488.4,149.5 487.8,148.2 487.2,146.8 C486.6,145.4 486.7,144.0 486.8,141.6 C486.9,139.2 487.4,135.2 487.6,132.5 C487.8,129.8 487.8,126.8 488.1,125.2 C488.5,123.5 489.1,123.2 489.6,122.3 C490.0,121.5 490.4,120.7 490.8,119.9 C491.2,119.1 491.4,118.3 491.8,117.6 C492.2,117.0 492.7,116.5 493.2,116.0 C493.6,115.6 494.2,115.0 494.7,115.0Z" fill="url(#mb)"/>
<ellipse cx="506.6" cy="124.5" rx="1.4" ry="0.7" fill="#a0a0a0" transform="rotate(-35 506.6 124.5)"/>
<ellipse cx="506.4" cy="148.8" rx="1.8" ry="0.8" fill="#a8a8a8" transform="rotate(30 506.4 148.8)"/>
<ellipse cx="519.8" cy="124.5" rx="1.4" ry="0.7" fill="#a0a0a0" transform="rotate(35 519.8 124.5)"/>
<ellipse cx="520.0" cy="148.8" rx="1.8" ry="0.8" fill="#a8a8a8" transform="rotate(-30 520.0 148.8)"/>
<path d="M513.2,115.0 C513.7,115.0 514.3,115.6 514.8,116.0 C515.2,116.5 515.7,117.0 516.1,117.6 C516.5,118.3 516.7,119.1 517.1,119.9 C517.5,120.7 517.9,121.5 518.4,122.3 C518.8,123.2 519.5,123.5 519.8,125.2 C520.1,126.8 520.1,129.8 520.3,132.5 C520.5,135.2 521.1,139.2 521.1,141.6 C521.2,144.0 521.3,145.4 520.7,146.8 C520.1,148.2 519.5,149.5 517.5,150.0 C515.6,150.5 510.9,150.5 508.9,150.0 C506.9,149.5 506.3,148.2 505.7,146.8 C505.1,145.4 505.2,144.0 505.3,141.6 C505.4,139.2 505.9,135.2 506.1,132.5 C506.4,129.8 506.3,126.8 506.6,125.2 C507.0,123.5 507.6,123.2 508.1,122.3 C508.5,121.5 508.9,120.7 509.3,119.9 C509.7,119.1 510.0,118.3 510.3,117.6 C510.7,117.0 511.2,116.5 511.7,116.0 C512.2,115.6 512.7,115.0 513.2,115.0Z" fill="url(#mb)"/>
<ellipse cx="525.1" cy="124.5" rx="1.4" ry="0.7" fill="#a0a0a0" transform="rotate(-35 525.1 124.5)"/>
<ellipse cx="525.0" cy="148.8" rx="1.8" ry="0.8" fill="#a8a8a8" transform="rotate(30 525.0 148.8)"/>
<ellipse cx="538.4" cy="124.5" rx="1.4" ry="0.7" fill="#a0a0a0" transform="rotate(35 538.4 124.5)"/>
<ellipse cx="538.5" cy="148.8" rx="1.8" ry="0.8" fill="#a8a8a8" transform="rotate(-30 538.5 148.8)"/>
<path d="M531.7,115.0 C532.3,115.0 532.8,115.6 533.3,116.0 C533.8,116.5 534.2,117.0 534.6,117.6 C535.0,118.3 535.3,119.1 535.6,119.9 C536.0,120.7 536.4,121.5 536.9,122.3 C537.3,123.2 538.0,123.5 538.3,125.2 C538.6,126.8 538.6,129.8 538.8,132.5 C539.0,135.2 539.6,139.2 539.6,141.6 C539.7,144.0 539.8,145.4 539.2,146.8 C538.6,148.2 538.0,149.5 536.1,150.0 C534.1,150.5 529.4,150.5 527.4,150.0 C525.5,149.5 524.8,148.2 524.2,146.8 C523.6,145.4 523.8,144.0 523.8,141.6 C523.9,139.2 524.4,135.2 524.7,132.5 C524.9,129.8 524.8,126.8 525.2,125.2 C525.5,123.5 526.2,123.2 526.6,122.3 C527.1,121.5 527.5,120.7 527.8,119.9 C528.2,119.1 528.5,118.3 528.9,117.6 C529.3,117.0 529.7,116.5 530.2,116.0 C530.7,115.6 531.2,115.0 531.7,115.0Z" fill="url(#mb)"/>
<ellipse cx="451.0" cy="170.7" rx="1.4" ry="0.7" fill="#a0a0a0" transform="rotate(-35 451.0 170.7)"/>
<ellipse cx="450.9" cy="195.8" rx="1.8" ry="0.8" fill="#a8a8a8" transform="rotate(30 450.9 195.8)"/>
<ellipse cx="464.3" cy="170.7" rx="1.4" ry="0.7" fill="#a0a0a0" transform="rotate(35 464.3 170.7)"/>
<ellipse cx="464.4" cy="195.8" rx="1.8" ry="0.8" fill="#a8a8a8" transform="rotate(-30 464.4 195.8)"/>
<path d="M457.7,161.0 C458.2,161.0 458.7,161.6 459.2,162.1 C459.7,162.5 460.1,163.0 460.5,163.7 C460.9,164.4 461.2,165.2 461.6,166.0 C461.9,166.8 462.3,167.7 462.8,168.6 C463.2,169.5 463.9,169.7 464.2,171.4 C464.6,173.2 464.5,176.2 464.7,179.0 C465.0,181.8 465.5,185.9 465.6,188.4 C465.6,190.8 465.8,192.3 465.2,193.8 C464.6,195.2 463.9,196.5 462.0,197.0 C460.0,197.5 455.3,197.5 453.3,197.0 C451.4,196.5 450.8,195.2 450.2,193.8 C449.6,192.3 449.7,190.8 449.8,188.4 C449.8,185.9 450.4,181.8 450.6,179.0 C450.8,176.2 450.8,173.2 451.1,171.4 C451.4,169.7 452.1,169.5 452.5,168.6 C453.0,167.7 453.4,166.8 453.8,166.0 C454.1,165.2 454.4,164.4 454.8,163.7 C455.2,163.0 455.6,162.5 456.1,162.1 C456.6,161.6 457.1,161.0 457.7,161.0Z" fill="url(#mb)"/>
<ellipse cx="469.6" cy="170.7" rx="1.4" ry="0.7" fill="#a0a0a0" transform="rotate(-35 469.6 170.7)"/>
<ellipse cx="469.4" cy="195.8" rx="1.8" ry="0.8" fill="#a8a8a8" transform="rotate(30 469.4 195.8)"/>
<ellipse cx="482.8" cy="170.7" rx="1.4" ry="0.7" fill="#a0a0a0" transform="rotate(35 482.8 170.7)"/>
<ellipse cx="483.0" cy="195.8" rx="1.8" ry="0.8" fill="#a8a8a8" transform="rotate(-30 483.0 195.8)"/>
<path d="M476.2,161.0 C476.7,161.0 477.2,161.6 477.7,162.1 C478.2,162.5 478.7,163.0 479.1,163.7 C479.4,164.4 479.7,165.2 480.1,166.0 C480.5,166.8 480.9,167.7 481.3,168.6 C481.8,169.5 482.4,169.7 482.8,171.4 C483.1,173.2 483.0,176.2 483.3,179.0 C483.5,181.8 484.0,185.9 484.1,188.4 C484.2,190.8 484.3,192.3 483.7,193.8 C483.1,195.2 482.5,196.5 480.5,197.0 C478.5,197.5 473.8,197.5 471.9,197.0 C469.9,196.5 469.3,195.2 468.7,193.8 C468.1,192.3 468.2,190.8 468.3,188.4 C468.3,185.9 468.9,181.8 469.1,179.0 C469.3,176.2 469.3,173.2 469.6,171.4 C469.9,169.7 470.6,169.5 471.0,168.6 C471.5,167.7 471.9,166.8 472.3,166.0 C472.7,165.2 472.9,164.4 473.3,163.7 C473.7,163.0 474.2,162.5 474.6,162.1 C475.1,161.6 475.7,161.0 476.2,161.0Z" fill="url(#mb)"/>
<ellipse cx="488.1" cy="170.7" rx="1.4" ry="0.7" fill="#a0a0a0" transform="rotate(-35 488.1 170.7)"/>
<ellipse cx="487.9" cy="195.8" rx="1.8" ry="0.8" fill="#a8a8a8" transform="rotate(30 487.9 195.8)"/>
<ellipse cx="501.3" cy="170.7" rx="1.4" ry="0.7" fill="#a0a0a0" transform="rotate(35 501.3 170.7)"/>
<ellipse cx="501.5" cy="195.8" rx="1.8" ry="0.8" fill="#a8a8a8" transform="rotate(-30 501.5 195.8)"/>
<path d="M494.7,161.0 C495.2,161.0 495.8,161.6 496.2,162.1 C496.7,162.5 497.2,163.0 497.6,163.7 C498.0,164.4 498.2,165.2 498.6,166.0 C499.0,166.8 499.4,167.7 499.8,168.6 C500.3,169.5 500.9,169.7 501.3,171.4 C501.6,173.2 501.6,176.2 501.8,179.0 C502.0,181.8 502.5,185.9 502.6,188.4 C502.7,190.8 502.8,192.3 502.2,193.8 C501.6,195.2 501.0,196.5 499.0,197.0 C497.0,197.5 492.4,197.5 490.4,197.0 C488.4,196.5 487.8,195.2 487.2,193.8 C486.6,192.3 486.7,190.8 486.8,188.4 C486.9,185.9 487.4,181.8 487.6,179.0 C487.8,176.2 487.8,173.2 488.1,171.4 C488.5,169.7 489.1,169.5 489.6,168.6 C490.0,167.7 490.4,166.8 490.8,166.0 C491.2,165.2 491.4,164.4 491.8,163.7 C492.2,163.0 492.7,162.5 493.2,162.1 C493.6,161.6 494.2,161.0 494.7,161.0Z" fill="url(#mb)"/>
<ellipse cx="506.6" cy="170.7" rx="1.4" ry="0.7" fill="#a0a0a0" transform="rotate(-35 506.6 170.7)"/>
<ellipse cx="506.4" cy="195.8" rx="1.8" ry="0.8" fill="#a8a8a8" transform="rotate(30 506.4 195.8)"/>
<ellipse cx="519.8" cy="170.7" rx="1.4" ry="0.7" fill="#a0a0a0" transform="rotate(35 519.8 170.7)"/>
<ellipse cx="520.0" cy="195.8" rx="1.8" ry="0.8" fill="#a8a8a8" transform="rotate(-30 520.0 195.8)"/>
<path d="M513.2,161.0 C513.7,161.0 514.3,161.6 514.8,162.1 C515.2,162.5 515.7,163.0 516.1,163.7 C516.5,164.4 516.7,165.2 517.1,166.0 C517.5,166.8 517.9,167.7 518.4,168.6 C518.8,169.5 519.5,169.7 519.8,171.4 C520.1,173.2 520.1,176.2 520.3,179.0 C520.5,181.8 521.1,185.9 521.1,188.4 C521.2,190.8 521.3,192.3 520.7,193.8 C520.1,195.2 519.5,196.5 517.5,197.0 C515.6,197.5 510.9,197.5 508.9,197.0 C506.9,196.5 506.3,195.2 505.7,193.8 C505.1,192.3 505.2,190.8 505.3,188.4 C505.4,185.9 505.9,181.8 506.1,179.0 C506.4,176.2 506.3,173.2 506.6,171.4 C507.0,169.7 507.6,169.5 508.1,168.6 C508.5,167.7 508.9,166.8 509.3,166.0 C509.7,165.2 510.0,164.4 510.3,163.7 C510.7,163.0 511.2,162.5 511.7,162.1 C512.2,161.6 512.7,161.0 513.2,161.0Z" fill="url(#mb)"/>
<ellipse cx="525.1" cy="170.7" rx="1.4" ry="0.7" fill="#a0a0a0" transform="rotate(-35 525.1 170.7)"/>
<ellipse cx="525.0" cy="195.8" rx="1.8" ry="0.8" fill="#a8a8a8" transform="rotate(30 525.0 195.8)"/>
<ellipse cx="538.4" cy="170.7" rx="1.4" ry="0.7" fill="#a0a0a0" transform="rotate(35 538.4 170.7)"/>
<ellipse cx="538.5" cy="195.8" rx="1.8" ry="0.8" fill="#a8a8a8" transform="rotate(-30 538.5 195.8)"/>
<path d="M531.7,161.0 C532.3,161.0 532.8,161.6 533.3,162.1 C533.8,162.5 534.2,163.0 534.6,163.7 C535.0,164.4 535.3,165.2 535.6,166.0 C536.0,166.8 536.4,167.7 536.9,168.6 C537.3,169.5 538.0,169.7 538.3,171.4 C538.6,173.2 538.6,176.2 538.8,179.0 C539.0,181.8 539.6,185.9 539.6,188.4 C539.7,190.8 539.8,192.3 539.2,193.8 C538.6,195.2 538.0,196.5 536.1,197.0 C534.1,197.5 529.4,197.5 527.4,197.0 C525.5,196.5 524.8,195.2 524.2,193.8 C523.6,192.3 523.8,190.8 523.8,188.4 C523.9,185.9 524.4,181.8 524.7,179.0 C524.9,176.2 524.8,173.2 525.2,171.4 C525.5,169.7 526.2,169.5 526.6,168.6 C527.1,167.7 527.5,166.8 527.8,166.0 C528.2,165.2 528.5,164.4 528.9,163.7 C529.3,163.0 529.7,162.5 530.2,162.1 C530.7,161.6 531.2,161.0 531.7,161.0Z" fill="url(#mb)"/>
<ellipse cx="451.0" cy="218.1" rx="1.4" ry="0.7" fill="#a0a0a0" transform="rotate(-35 451.0 218.1)"/>
<ellipse cx="450.9" cy="246.8" rx="1.8" ry="0.8" fill="#a8a8a8" transform="rotate(30 450.9 246.8)"/>
<ellipse cx="464.3" cy="218.1" rx="1.4" ry="0.7" fill="#a0a0a0" transform="rotate(35 464.3 218.1)"/>
<ellipse cx="464.4" cy="246.8" rx="1.8" ry="0.8" fill="#a8a8a8" transform="rotate(-30 464.4 246.8)"/>
<path d="M457.7,207.0 C458.2,207.0 458.7,207.7 459.2,208.2 C459.7,208.7 460.1,209.3 460.5,210.1 C460.9,210.8 461.2,211.8 461.6,212.7 C461.9,213.7 462.3,214.6 462.8,215.6 C463.2,216.6 463.9,216.9 464.2,218.9 C464.6,220.9 464.5,224.3 464.7,227.5 C465.0,230.7 465.5,235.4 465.6,238.2 C465.6,241.0 465.8,242.7 465.2,244.3 C464.6,245.9 463.9,247.4 462.0,248.0 C460.0,248.6 455.3,248.6 453.3,248.0 C451.4,247.4 450.8,245.9 450.2,244.3 C449.6,242.7 449.7,241.0 449.8,238.2 C449.8,235.4 450.4,230.7 450.6,227.5 C450.8,224.3 450.8,220.9 451.1,218.9 C451.4,216.9 452.1,216.6 452.5,215.6 C453.0,214.6 453.4,213.7 453.8,212.7 C454.1,211.8 454.4,210.8 454.8,210.1 C455.2,209.3 455.6,208.7 456.1,208.2 C456.6,207.7 457.1,207.0 457.7,207.0Z" fill="url(#mb)"/>
<ellipse cx="469.6" cy="218.1" rx="1.4" ry="0.7" fill="#a0a0a0" transform="rotate(-35 469.6 218.1)"/>
<ellipse cx="469.4" cy="246.8" rx="1.8" ry="0.8" fill="#a8a8a8" transform="rotate(30 469.4 246.8)"/>
<ellipse cx="482.8" cy="218.1" rx="1.4" ry="0.7" fill="#a0a0a0" transform="rotate(35 482.8 218.1)"/>
<ellipse cx="483.0" cy="246.8" rx="1.8" ry="0.8" fill="#a8a8a8" transform="rotate(-30 483.0 246.8)"/>
<path d="M476.2,207.0 C476.7,207.0 477.2,207.7 477.7,208.2 C478.2,208.7 478.7,209.3 479.1,210.1 C479.4,210.8 479.7,211.8 480.1,212.7 C480.5,213.7 480.9,214.6 481.3,215.6 C481.8,216.6 482.4,216.9 482.8,218.9 C483.1,220.9 483.0,224.3 483.3,227.5 C483.5,230.7 484.0,235.4 484.1,238.2 C484.2,241.0 484.3,242.7 483.7,244.3 C483.1,245.9 482.5,247.4 480.5,248.0 C478.5,248.6 473.8,248.6 471.9,248.0 C469.9,247.4 469.3,245.9 468.7,244.3 C468.1,242.7 468.2,241.0 468.3,238.2 C468.3,235.4 468.9,230.7 469.1,227.5 C469.3,224.3 469.3,220.9 469.6,218.9 C469.9,216.9 470.6,216.6 471.0,215.6 C471.5,214.6 471.9,213.7 472.3,212.7 C472.7,211.8 472.9,210.8 473.3,210.1 C473.7,209.3 474.2,208.7 474.6,208.2 C475.1,207.7 475.7,207.0 476.2,207.0Z" fill="url(#mb)"/>
<ellipse cx="488.1" cy="218.1" rx="1.4" ry="0.7" fill="#a0a0a0" transform="rotate(-35 488.1 218.1)"/>
<ellipse cx="487.9" cy="246.8" rx="1.8" ry="0.8" fill="#a8a8a8" transform="rotate(30 487.9 246.8)"/>
<ellipse cx="501.3" cy="218.1" rx="1.4" ry="0.7" fill="#a0a0a0" transform="rotate(35 501.3 218.1)"/>
<ellipse cx="501.5" cy="246.8" rx="1.8" ry="0.8" fill="#a8a8a8" transform="rotate(-30 501.5 246.8)"/>
<path d="M494.7,207.0 C495.2,207.0 495.8,207.7 496.2,208.2 C496.7,208.7 497.2,209.3 497.6,210.1 C498.0,210.8 498.2,211.8 498.6,212.7 C499.0,213.7 499.4,214.6 499.8,215.6 C500.3,216.6 500.9,216.9 501.3,218.9 C501.6,220.9 501.6,224.3 501.8,227.5 C502.0,230.7 502.5,235.4 502.6,238.2 C502.7,241.0 502.8,242.7 502.2,244.3 C501.6,245.9 501.0,247.4 499.0,248.0 C497.0,248.6 492.4,248.6 490.4,248.0 C488.4,247.4 487.8,245.9 487.2,244.3 C486.6,242.7 486.7,241.0 486.8,238.2 C486.9,235.4 487.4,230.7 487.6,227.5 C487.8,224.3 487.8,220.9 488.1,218.9 C488.5,216.9 489.1,216.6 489.6,215.6 C490.0,214.6 490.4,213.7 490.8,212.7 C491.2,211.8 491.4,210.8 491.8,210.1 C492.2,209.3 492.7,208.7 493.2,208.2 C493.6,207.7 494.2,207.0 494.7,207.0Z" fill="url(#mb)"/>
<ellipse cx="506.6" cy="218.1" rx="1.4" ry="0.7" fill="#a0a0a0" transform="rotate(-35 506.6 218.1)"/>
<ellipse cx="506.4" cy="246.8" rx="1.8" ry="0.8" fill="#a8a8a8" transform="rotate(30 506.4 246.8)"/>
<ellipse cx="519.8" cy="218.1" rx="1.4" ry="0.7" fill="#a0a0a0" transform="rotate(35 519.8 218.1)"/>
<ellipse cx="520.0" cy="246.8" rx="1.8" ry="0.8" fill="#a8a8a8" transform="rotate(-30 520.0 246.8)"/>
<path d="M513.2,207.0 C513.7,207.0 514.3,207.7 514.8,208.2 C515.2,208.7 515.7,209.3 516.1,210.1 C516.5,210.8 516.7,211.8 517.1,212.7 C517.5,213.7 517.9,214.6 518.4,215.6 C518.8,216.6 519.5,216.9 519.8,218.9 C520.1,220.9 520.1,224.3 520.3,227.5 C520.5,230.7 521.1,235.4 521.1,238.2 C521.2,241.0 521.3,242.7 520.7,244.3 C520.1,245.9 519.5,247.4 517.5,248.0 C515.6,248.6 510.9,248.6 508.9,248.0 C506.9,247.4 506.3,245.9 505.7,244.3 C505.1,242.7 505.2,241.0 505.3,238.2 C505.4,235.4 505.9,230.7 506.1,227.5 C506.4,224.3 506.3,220.9 506.6,218.9 C507.0,216.9 507.6,216.6 508.1,215.6 C508.5,214.6 508.9,213.7 509.3,212.7 C509.7,211.8 510.0,210.8 510.3,210.1 C510.7,209.3 511.2,208.7 511.7,208.2 C512.2,207.7 512.7,207.0 513.2,207.0Z" fill="url(#mb)"/>
<ellipse cx="525.1" cy="218.1" rx="1.4" ry="0.7" fill="#a0a0a0" transform="rotate(-35 525.1 218.1)"/>
<ellipse cx="525.0" cy="246.8" rx="1.8" ry="0.8" fill="#a8a8a8" transform="rotate(30 525.0 246.8)"/>
<ellipse cx="538.4" cy="218.1" rx="1.4" ry="0.7" fill="#a0a0a0" transform="rotate(35 538.4 218.1)"/>
<ellipse cx="538.5" cy="246.8" rx="1.8" ry="0.8" fill="#a8a8a8" transform="rotate(-30 538.5 246.8)"/>
<path d="M531.7,207.0 C532.3,207.0 532.8,207.7 533.3,208.2 C533.8,208.7 534.2,209.3 534.6,210.1 C535.0,210.8 535.3,211.8 535.6,212.7 C536.0,213.7 536.4,214.6 536.9,215.6 C537.3,216.6 538.0,216.9 538.3,218.9 C538.6,220.9 538.6,224.3 538.8,227.5 C539.0,230.7 539.6,235.4 539.6,238.2 C539.7,241.0 539.8,242.7 539.2,244.3 C538.6,245.9 538.0,247.4 536.1,248.0 C534.1,248.6 529.4,248.6 527.4,248.0 C525.5,247.4 524.8,245.9 524.2,244.3 C523.6,242.7 523.8,241.0 523.8,238.2 C523.9,235.4 524.4,230.7 524.7,227.5 C524.9,224.3 524.8,220.9 525.2,218.9 C525.5,216.9 526.2,216.6 526.6,215.6 C527.1,214.6 527.5,213.7 527.8,212.7 C528.2,211.8 528.5,210.8 528.9,210.1 C529.3,209.3 529.7,208.7 530.2,208.2 C530.7,207.7 531.2,207.0 531.7,207.0Z" fill="url(#mb)"/>
<ellipse cx="451.0" cy="264.1" rx="1.4" ry="0.7" fill="#a0a0a0" transform="rotate(-35 451.0 264.1)"/>
<ellipse cx="450.9" cy="292.8" rx="1.8" ry="0.8" fill="#a8a8a8" transform="rotate(30 450.9 292.8)"/>
<ellipse cx="464.3" cy="264.1" rx="1.4" ry="0.7" fill="#a0a0a0" transform="rotate(35 464.3 264.1)"/>
<ellipse cx="464.4" cy="292.8" rx="1.8" ry="0.8" fill="#a8a8a8" transform="rotate(-30 464.4 292.8)"/>
<path d="M457.7,253.0 C458.2,253.0 458.7,253.7 459.2,254.2 C459.7,254.7 460.1,255.3 460.5,256.1 C460.9,256.8 461.2,257.8 461.6,258.7 C461.9,259.7 462.3,260.6 462.8,261.6 C463.2,262.6 463.9,262.9 464.2,264.9 C464.6,266.9 464.5,270.3 464.7,273.5 C465.0,276.7 465.5,281.4 465.6,284.2 C465.6,287.0 465.8,288.7 465.2,290.3 C464.6,291.9 463.9,293.4 462.0,294.0 C460.0,294.6 455.3,294.6 453.3,294.0 C451.4,293.4 450.8,291.9 450.2,290.3 C449.6,288.7 449.7,287.0 449.8,284.2 C449.8,281.4 450.4,276.7 450.6,273.5 C450.8,270.3 450.8,266.9 451.1,264.9 C451.4,262.9 452.1,262.6 452.5,261.6 C453.0,260.6 453.4,259.7 453.8,258.7 C454.1,257.8 454.4,256.8 454.8,256.1 C455.2,255.3 455.6,254.7 456.1,254.2 C456.6,253.7 457.1,253.0 457.7,253.0Z" fill="url(#mb)"/>
<ellipse cx="469.6" cy="264.1" rx="1.4" ry="0.7" fill="#a0a0a0" transform="rotate(-35 469.6 264.1)"/>
<ellipse cx="469.4" cy="292.8" rx="1.8" ry="0.8" fill="#a8a8a8" transform="rotate(30 469.4 292.8)"/>
<ellipse cx="482.8" cy="264.1" rx="1.4" ry="0.7" fill="#a0a0a0" transform="rotate(35 482.8 264.1)"/>
<ellipse cx="483.0" cy="292.8" rx="1.8" ry="0.8" fill="#a8a8a8" transform="rotate(-30 483.0 292.8)"/>
<path d="M476.2,253.0 C476.7,253.0 477.2,253.7 477.7,254.2 C478.2,254.7 478.7,255.3 479.1,256.1 C479.4,256.8 479.7,257.8 480.1,258.7 C480.5,259.7 480.9,260.6 481.3,261.6 C481.8,262.6 482.4,262.9 482.8,264.9 C483.1,266.9 483.0,270.3 483.3,273.5 C483.5,276.7 484.0,281.4 484.1,284.2 C484.2,287.0 484.3,288.7 483.7,290.3 C483.1,291.9 482.5,293.4 480.5,294.0 C478.5,294.6 473.8,294.6 471.9,294.0 C469.9,293.4 469.3,291.9 468.7,290.3 C468.1,288.7 468.2,287.0 468.3,284.2 C468.3,281.4 468.9,276.7 469.1,273.5 C469.3,270.3 469.3,266.9 469.6,264.9 C469.9,262.9 470.6,262.6 471.0,261.6 C471.5,260.6 471.9,259.7 472.3,258.7 C472.7,257.8 472.9,256.8 473.3,256.1 C473.7,255.3 474.2,254.7 474.6,254.2 C475.1,253.7 475.7,253.0 476.2,253.0Z" fill="url(#mb)"/>
<ellipse cx="488.1" cy="264.1" rx="1.4" ry="0.7" fill="#a0a0a0" transform="rotate(-35 488.1 264.1)"/>
<ellipse cx="487.9" cy="292.8" rx="1.8" ry="0.8" fill="#a8a8a8" transform="rotate(30 487.9 292.8)"/>
<ellipse cx="501.3" cy="264.1" rx="1.4" ry="0.7" fill="#a0a0a0" transform="rotate(35 501.3 264.1)"/>
<ellipse cx="501.5" cy="292.8" rx="1.8" ry="0.8" fill="#a8a8a8" transform="rotate(-30 501.5 292.8)"/>
<path d="M494.7,253.0 C495.2,253.0 495.8,253.7 496.2,254.2 C496.7,254.7 497.2,255.3 497.6,256.1 C498.0,256.8 498.2,257.8 498.6,258.7 C499.0,259.7 499.4,260.6 499.8,261.6 C500.3,262.6 500.9,262.9 501.3,264.9 C501.6,266.9 501.6,270.3 501.8,273.5 C502.0,276.7 502.5,281.4 502.6,284.2 C502.7,287.0 502.8,288.7 502.2,290.3 C501.6,291.9 501.0,293.4 499.0,294.0 C497.0,294.6 492.4,294.6 490.4,294.0 C488.4,293.4 487.8,291.9 487.2,290.3 C486.6,288.7 486.7,287.0 486.8,284.2 C486.9,281.4 487.4,276.7 487.6,273.5 C487.8,270.3 487.8,266.9 488.1,264.9 C488.5,262.9 489.1,262.6 489.6,261.6 C490.0,260.6 490.4,259.7 490.8,258.7 C491.2,257.8 491.4,256.8 491.8,256.1 C492.2,255.3 492.7,254.7 493.2,254.2 C493.6,253.7 494.2,253.0 494.7,253.0Z" fill="url(#mb)"/>
<ellipse cx="506.6" cy="264.1" rx="1.4" ry="0.7" fill="#a0a0a0" transform="rotate(-35 506.6 264.1)"/>
<ellipse cx="506.4" cy="292.8" rx="1.8" ry="0.8" fill="#a8a8a8" transform="rotate(30 506.4 292.8)"/>
<ellipse cx="519.8" cy="264.1" rx="1.4" ry="0.7" fill="#a0a0a0" transform="rotate(35 519.8 264.1)"/>
<ellipse cx="520.0" cy="292.8" rx="1.8" ry="0.8" fill="#a8a8a8" transform="rotate(-30 520.0 292.8)"/>
<path d="M513.2,253.0 C513.7,253.0 514.3,253.7 514.8,254.2 C515.2,254.7 515.7,255.3 516.1,256.1 C516.5,256.8 516.7,257.8 517.1,258.7 C517.5,259.7 517.9,260.6 518.4,261.6 C518.8,262.6 519.5,262.9 519.8,264.9 C520.1,266.9 520.1,270.3 520.3,273.5 C520.5,276.7 521.1,281.4 521.1,284.2 C521.2,287.0 521.3,288.7 520.7,290.3 C520.1,291.9 519.5,293.4 517.5,294.0 C515.6,294.6 510.9,294.6 508.9,294.0 C506.9,293.4 506.3,291.9 505.7,290.3 C505.1,288.7 505.2,287.0 505.3,284.2 C505.4,281.4 505.9,276.7 506.1,273.5 C506.4,270.3 506.3,266.9 506.6,264.9 C507.0,262.9 507.6,262.6 508.1,261.6 C508.5,260.6 508.9,259.7 509.3,258.7 C509.7,257.8 510.0,256.8 510.3,256.1 C510.7,255.3 511.2,254.7 511.7,254.2 C512.2,253.7 512.7,253.0 513.2,253.0Z" fill="url(#mb)"/>
<ellipse cx="525.1" cy="264.1" rx="1.4" ry="0.7" fill="#a0a0a0" transform="rotate(-35 525.1 264.1)"/>
<ellipse cx="525.0" cy="292.8" rx="1.8" ry="0.8" fill="#a8a8a8" transform="rotate(30 525.0 292.8)"/>
<ellipse cx="538.4" cy="264.1" rx="1.4" ry="0.7" fill="#a0a0a0" transform="rotate(35 538.4 264.1)"/>
<ellipse cx="538.5" cy="292.8" rx="1.8" ry="0.8" fill="#a8a8a8" transform="rotate(-30 538.5 292.8)"/>
<path d="M531.7,253.0 C532.3,253.0 532.8,253.7 533.3,254.2 C533.8,254.7 534.2,255.3 534.6,256.1 C535.0,256.8 535.3,257.8 535.6,258.7 C536.0,259.7 536.4,260.6 536.9,261.6 C537.3,262.6 538.0,262.9 538.3,264.9 C538.6,266.9 538.6,270.3 538.8,273.5 C539.0,276.7 539.6,281.4 539.6,284.2 C539.7,287.0 539.8,288.7 539.2,290.3 C538.6,291.9 538.0,293.4 536.1,294.0 C534.1,294.6 529.4,294.6 527.4,294.0 C525.5,293.4 524.8,291.9 524.2,290.3 C523.6,288.7 523.8,287.0 523.8,284.2 C523.9,281.4 524.4,276.7 524.7,273.5 C524.9,270.3 524.8,266.9 525.2,264.9 C525.5,262.9 526.2,262.6 526.6,261.6 C527.1,260.6 527.5,259.7 527.8,258.7 C528.2,257.8 528.5,256.8 528.9,256.1 C529.3,255.3 529.7,254.7 530.2,254.2 C530.7,253.7 531.2,253.0 531.7,253.0Z" fill="url(#mb)"/>
<ellipse cx="451.0" cy="310.1" rx="1.4" ry="0.7" fill="#a0a0a0" transform="rotate(-35 451.0 310.1)"/>
<ellipse cx="450.9" cy="338.8" rx="1.8" ry="0.8" fill="#a8a8a8" transform="rotate(30 450.9 338.8)"/>
<ellipse cx="464.3" cy="310.1" rx="1.4" ry="0.7" fill="#a0a0a0" transform="rotate(35 464.3 310.1)"/>
<ellipse cx="464.4" cy="338.8" rx="1.8" ry="0.8" fill="#a8a8a8" transform="rotate(-30 464.4 338.8)"/>
<path d="M457.7,299.0 C458.2,299.0 458.7,299.7 459.2,300.2 C459.7,300.7 460.1,301.3 460.5,302.1 C460.9,302.8 461.2,303.8 461.6,304.7 C461.9,305.7 462.3,306.6 462.8,307.6 C463.2,308.6 463.9,308.9 464.2,310.9 C464.6,312.9 464.5,316.3 464.7,319.5 C465.0,322.7 465.5,327.4 465.6,330.2 C465.6,333.0 465.8,334.7 465.2,336.3 C464.6,337.9 463.9,339.4 462.0,340.0 C460.0,340.6 455.3,340.6 453.3,340.0 C451.4,339.4 450.8,337.9 450.2,336.3 C449.6,334.7 449.7,333.0 449.8,330.2 C449.8,327.4 450.4,322.7 450.6,319.5 C450.8,316.3 450.8,312.9 451.1,310.9 C451.4,308.9 452.1,308.6 452.5,307.6 C453.0,306.6 453.4,305.7 453.8,304.7 C454.1,303.8 454.4,302.8 454.8,302.1 C455.2,301.3 455.6,300.7 456.1,300.2 C456.6,299.7 457.1,299.0 457.7,299.0Z" fill="url(#mb)"/>
<ellipse cx="469.6" cy="310.1" rx="1.4" ry="0.7" fill="#a0a0a0" transform="rotate(-35 469.6 310.1)"/>
<ellipse cx="469.4" cy="338.8" rx="1.8" ry="0.8" fill="#a8a8a8" transform="rotate(30 469.4 338.8)"/>
<ellipse cx="482.8" cy="310.1" rx="1.4" ry="0.7" fill="#a0a0a0" transform="rotate(35 482.8 310.1)"/>
<ellipse cx="483.0" cy="338.8" rx="1.8" ry="0.8" fill="#a8a8a8" transform="rotate(-30 483.0 338.8)"/>
<path d="M476.2,299.0 C476.7,299.0 477.2,299.7 477.7,300.2 C478.2,300.7 478.7,301.3 479.1,302.1 C479.4,302.8 479.7,303.8 480.1,304.7 C480.5,305.7 480.9,306.6 481.3,307.6 C481.8,308.6 482.4,308.9 482.8,310.9 C483.1,312.9 483.0,316.3 483.3,319.5 C483.5,322.7 484.0,327.4 484.1,330.2 C484.2,333.0 484.3,334.7 483.7,336.3 C483.1,337.9 482.5,339.4 480.5,340.0 C478.5,340.6 473.8,340.6 471.9,340.0 C469.9,339.4 469.3,337.9 468.7,336.3 C468.1,334.7 468.2,333.0 468.3,330.2 C468.3,327.4 468.9,322.7 469.1,319.5 C469.3,316.3 469.3,312.9 469.6,310.9 C469.9,308.9 470.6,308.6 471.0,307.6 C471.5,306.6 471.9,305.7 472.3,304.7 C472.7,303.8 472.9,302.8 473.3,302.1 C473.7,301.3 474.2,300.7 474.6,300.2 C475.1,299.7 475.7,299.0 476.2,299.0Z" fill="url(#mb)"/>
<ellipse cx="488.1" cy="310.1" rx="1.4" ry="0.7" fill="#a0a0a0" transform="rotate(-35 488.1 310.1)"/>
<ellipse cx="487.9" cy="338.8" rx="1.8" ry="0.8" fill="#a8a8a8" transform="rotate(30 487.9 338.8)"/>
<ellipse cx="501.3" cy="310.1" rx="1.4" ry="0.7" fill="#a0a0a0" transform="rotate(35 501.3 310.1)"/>
<ellipse cx="501.5" cy="338.8" rx="1.8" ry="0.8" fill="#a8a8a8" transform="rotate(-30 501.5 338.8)"/>
<path d="M494.7,299.0 C495.2,299.0 495.8,299.7 496.2,300.2 C496.7,300.7 497.2,301.3 497.6,302.1 C498.0,302.8 498.2,303.8 498.6,304.7 C499.0,305.7 499.4,306.6 499.8,307.6 C500.3,308.6 500.9,308.9 501.3,310.9 C501.6,312.9 501.6,316.3 501.8,319.5 C502.0,322.7 502.5,327.4 502.6,330.2 C502.7,333.0 502.8,334.7 502.2,336.3 C501.6,337.9 501.0,339.4 499.0,340.0 C497.0,340.6 492.4,340.6 490.4,340.0 C488.4,339.4 487.8,337.9 487.2,336.3 C486.6,334.7 486.7,333.0 486.8,330.2 C486.9,327.4 487.4,322.7 487.6,319.5 C487.8,316.3 487.8,312.9 488.1,310.9 C488.5,308.9 489.1,308.6 489.6,307.6 C490.0,306.6 490.4,305.7 490.8,304.7 C491.2,303.8 491.4,302.8 491.8,302.1 C492.2,301.3 492.7,300.7 493.2,300.2 C493.6,299.7 494.2,299.0 494.7,299.0Z" fill="url(#mb)"/>
<ellipse cx="506.6" cy="310.1" rx="1.4" ry="0.7" fill="#a0a0a0" transform="rotate(-35 506.6 310.1)"/>
<ellipse cx="506.4" cy="338.8" rx="1.8" ry="0.8" fill="#a8a8a8" transform="rotate(30 506.4 338.8)"/>
<ellipse cx="519.8" cy="310.1" rx="1.4" ry="0.7" fill="#a0a0a0" transform="rotate(35 519.8 310.1)"/>
<ellipse cx="520.0" cy="338.8" rx="1.8" ry="0.8" fill="#a8a8a8" transform="rotate(-30 520.0 338.8)"/>
<path d="M513.2,299.0 C513.7,299.0 514.3,299.7 514.8,300.2 C515.2,300.7 515.7,301.3 516.1,302.1 C516.5,302.8 516.7,303.8 517.1,304.7 C517.5,305.7 517.9,306.6 518.4,307.6 C518.8,308.6 519.5,308.9 519.8,310.9 C520.1,312.9 520.1,316.3 520.3,319.5 C520.5,322.7 521.1,327.4 521.1,330.2 C521.2,333.0 521.3,334.7 520.7,336.3 C520.1,337.9 519.5,339.4 517.5,340.0 C515.6,340.6 510.9,340.6 508.9,340.0 C506.9,339.4 506.3,337.9 505.7,336.3 C505.1,334.7 505.2,333.0 505.3,330.2 C505.4,327.4 505.9,322.7 506.1,319.5 C506.4,316.3 506.3,312.9 506.6,310.9 C507.0,308.9 507.6,308.6 508.1,307.6 C508.5,306.6 508.9,305.7 509.3,304.7 C509.7,303.8 510.0,302.8 510.3,302.1 C510.7,301.3 511.2,300.7 511.7,300.2 C512.2,299.7 512.7,299.0 513.2,299.0Z" fill="url(#mb)"/>
<ellipse cx="525.1" cy="310.1" rx="1.4" ry="0.7" fill="#a0a0a0" transform="rotate(-35 525.1 310.1)"/>
<ellipse cx="525.0" cy="338.8" rx="1.8" ry="0.8" fill="#a8a8a8" transform="rotate(30 525.0 338.8)"/>
<ellipse cx="538.4" cy="310.1" rx="1.4" ry="0.7" fill="#a0a0a0" transform="rotate(35 538.4 310.1)"/>
<ellipse cx="538.5" cy="338.8" rx="1.8" ry="0.8" fill="#a8a8a8" transform="rotate(-30 538.5 338.8)"/>
<path d="M531.7,299.0 C532.3,299.0 532.8,299.7 533.3,300.2 C533.8,300.7 534.2,301.3 534.6,302.1 C535.0,302.8 535.3,303.8 535.6,304.7 C536.0,305.7 536.4,306.6 536.9,307.6 C537.3,308.6 538.0,308.9 538.3,310.9 C538.6,312.9 538.6,316.3 538.8,319.5 C539.0,322.7 539.6,327.4 539.6,330.2 C539.7,333.0 539.8,334.7 539.2,336.3 C538.6,337.9 538.0,339.4 536.1,340.0 C534.1,340.6 529.4,340.6 527.4,340.0 C525.5,339.4 524.8,337.9 524.2,336.3 C523.6,334.7 523.8,333.0 523.8,330.2 C523.9,327.4 524.4,322.7 524.7,319.5 C524.9,316.3 524.8,312.9 525.2,310.9 C525.5,308.9 526.2,308.6 526.6,307.6 C527.1,306.6 527.5,305.7 527.8,304.7 C528.2,303.8 528.5,302.8 528.9,302.1 C529.3,301.3 529.7,300.7 530.2,300.2 C530.7,299.7 531.2,299.0 531.7,299.0Z" fill="url(#mb)"/>
</g>
<path d="M456.46,58.50 L458.86,58.50 L458.26,67.00 L457.06,67.00Z" fill="#8a8a8a"/>
<path d="M453.66,58.00 L449.46,60.50 M461.66,58.00 L465.86,60.50" stroke="#9a9a9a" stroke-width="0.8"/>
<path d="M474.98,58.50 L477.38,58.50 L476.78,67.00 L475.58,67.00Z" fill="#8a8a8a"/>
<path d="M472.18,58.00 L467.98,60.50 M480.18,58.00 L484.38,60.50" stroke="#9a9a9a" stroke-width="0.8"/>
<path d="M493.50,58.50 L495.90,58.50 L495.30,67.00 L494.10,67.00Z" fill="#8a8a8a"/>
<path d="M490.70,58.00 L486.50,60.50 M498.70,58.00 L502.90,60.50" stroke="#9a9a9a" stroke-width="0.8"/>
<path d="M512.02,58.50 L514.42,58.50 L513.82,67.00 L512.62,67.00Z" fill="#8a8a8a"/>
<path d="M509.22,58.00 L505.02,60.50 M517.22,58.00 L521.42,60.50" stroke="#9a9a9a" stroke-width="0.8"/>
<path d="M530.54,58.50 L532.94,58.50 L532.34,67.00 L531.14,67.00Z" fill="#8a8a8a"/>
<path d="M527.74,58.00 L523.54,60.50 M535.74,58.00 L539.94,60.50" stroke="#9a9a9a" stroke-width="0.8"/>
<path d="M456.46,103.00 L458.86,103.00 L458.26,113.00 L457.06,113.00Z" fill="#8a8a8a"/>
<path d="M453.66,102.50 L449.46,105.00 M461.66,102.50 L465.86,105.00" stroke="#9a9a9a" stroke-width="0.8"/>
<path d="M474.98,103.00 L477.38,103.00 L476.78,113.00 L475.58,113.00Z" fill="#8a8a8a"/>
<path d="M472.18,102.50 L467.98,105.00 M480.18,102.50 L484.38,105.00" stroke="#9a9a9a" stroke-width="0.8"/>
<path d="M493.50,103.00 L495.90,103.00 L495.30,113.00 L494.10,113.00Z" fill="#8a8a8a"/>
<path d="M490.70,102.50 L486.50,105.00 M498.70,102.50 L502.90,105.00" stroke="#9a9a9a" stroke-width="0.8"/>
<path d="M512.02,103.00 L514.42,103.00 L513.82,113.00 L512.62,113.00Z" fill="#8a8a8a"/>
<path d="M509.22,102.50 L505.02,105.00 M517.22,102.50 L521.42,105.00" stroke="#9a9a9a" stroke-width="0.8"/>
<path d="M530.54,103.00 L532.94,103.00 L532.34,113.00 L531.14,113.00Z" fill="#8a8a8a"/>
<path d="M527.74,102.50 L523.54,105.00 M535.74,102.50 L539.94,105.00" stroke="#9a9a9a" stroke-width="0.8"/>
<path d="M456.46,149.50 L458.86,149.50 L458.26,159.00 L457.06,159.00Z" fill="#8a8a8a"/>
<path d="M453.66,149.00 L449.46,151.50 M461.66,149.00 L465.86,151.50" stroke="#9a9a9a" stroke-width="0.8"/>
<path d="M474.98,149.50 L477.38,149.50 L476.78,159.00 L475.58,159.00Z" fill="#8a8a8a"/>
<path d="M472.18,149.00 L467.98,151.50 M480.18,149.00 L484.38,151.50" stroke="#9a9a9a" stroke-width="0.8"/>
<path d="M493.50,149.50 L495.90,149.50 L495.30,159.00 L494.10,159.00Z" fill="#8a8a8a"/>
<path d="M490.70,149.00 L486.50,151.50 M498.70,149.00 L502.90,151.50" stroke="#9a9a9a" stroke-width="0.8"/>
<path d="M512.02,149.50 L514.42,149.50 L513.82,159.00 L512.62,159.00Z" fill="#8a8a8a"/>
<path d="M509.22,149.00 L505.02,151.50 M517.22,149.00 L521.42,151.50" stroke="#9a9a9a" stroke-width="0.8"/>
<path d="M530.54,149.50 L532.94,149.50 L532.34,159.00 L531.14,159.00Z" fill="#8a8a8a"/>
<path d="M527.74,149.00 L523.54,151.50 M535.74,149.00 L539.94,151.50" stroke="#9a9a9a" stroke-width="0.8"/>
<path d="M456.46,196.50 L458.86,196.50 L458.26,205.00 L457.06,205.00Z" fill="#8a8a8a"/>
<path d="M453.66,196.00 L449.46,198.50 M461.66,196.00 L465.86,198.50" stroke="#9a9a9a" stroke-width="0.8"/>
<path d="M474.98,196.50 L477.38,196.50 L476.78,205.00 L475.58,205.00Z" fill="#8a8a8a"/>
<path d="M472.18,196.00 L467.98,198.50 M480.18,196.00 L484.38,198.50" stroke="#9a9a9a" stroke-width="0.8"/>
<path d="M493.50,196.50 L495.90,196.50 L495.30,205.00 L494.10,205.00Z" fill="#8a8a8a"/>
<path d="M490.70,196.00 L486.50,198.50 M498.70,196.00 L502.90,198.50" stroke="#9a9a9a" stroke-width="0.8"/>
<path d="M512.02,196.50 L514.42,196.50 L513.82,205.00 L512.62,205.00Z" fill="#8a8a8a"/>
<path d="M509.22,196.00 L505.02,198.50 M517.22,196.00 L521.42,198.50" stroke="#9a9a9a" stroke-width="0.8"/>
<path d="M530.54,196.50 L532.94,196.50 L532.34,205.00 L531.14,205.00Z" fill="#8a8a8a"/>
<path d="M527.74,196.00 L523.54,198.50 M535.74,196.00 L539.94,198.50" stroke="#9a9a9a" stroke-width="0.8"/>
<path d="M456.46,247.50 L458.86,247.50 L458.26,251.00 L457.06,251.00Z" fill="#8a8a8a"/>
<path d="M453.66,247.00 L449.46,249.50 M461.66,247.00 L465.86,249.50" stroke="#9a9a9a" stroke-width="0.8"/>
<path d="M474.98,247.50 L477.38,247.50 L476.78,251.00 L475.58,251.00Z" fill="#8a8a8a"/>
<path d="M472.18,247.00 L467.98,249.50 M480.18,247.00 L484.38,249.50" stroke="#9a9a9a" stroke-width="0.8"/>
<path d="M493.50,247.50 L495.90,247.50 L495.30,251.00 L494.10,251.00Z" fill="#8a8a8a"/>
<path d="M490.70,247.00 L486.50,249.50 M498.70,247.00 L502.90,249.50" stroke="#9a9a9a" stroke-width="0.8"/>
<path d="M512.02,247.50 L514.42,247.50 L513.82,251.00 L512.62,251.00Z" fill="#8a8a8a"/>
<path d="M509.22,247.00 L505.02,249.50 M517.22,247.00 L521.42,249.50" stroke="#9a9a9a" stroke-width="0.8"/>
<path d="M530.54,247.50 L532.94,247.50 L532.34,251.00 L531.14,251.00Z" fill="#8a8a8a"/>
<path d="M527.74,247.00 L523.54,249.50 M535.74,247.00 L539.94,249.50" stroke="#9a9a9a" stroke-width="0.8"/>
<path d="M456.46,293.50 L458.86,293.50 L458.26,297.00 L457.06,297.00Z" fill="#8a8a8a"/>
<path d="M453.66,293.00 L449.46,295.50 M461.66,293.00 L465.86,295.50" stroke="#9a9a9a" stroke-width="0.8"/>
<path d="M474.98,293.50 L477.38,293.50 L476.78,297.00 L475.58,297.00Z" fill="#8a8a8a"/>
<path d="M472.18,293.00 L467.98,295.50 M480.18,293.00 L484.38,295.50" stroke="#9a9a9a" stroke-width="0.8"/>
<path d="M493.50,293.50 L495.90,293.50 L495.30,297.00 L494.10,297.00Z" fill="#8a8a8a"/>
<path d="M490.70,293.00 L486.50,295.50 M498.70,293.00 L502.90,295.50" stroke="#9a9a9a" stroke-width="0.8"/>
<path d="M512.02,293.50 L514.42,293.50 L513.82,297.00 L512.62,297.00Z" fill="#8a8a8a"/>
<path d="M509.22,293.00 L505.02,295.50 M517.22,293.00 L521.42,295.50" stroke="#9a9a9a" stroke-width="0.8"/>
<path d="M530.54,293.50 L532.94,293.50 L532.34,297.00 L531.14,297.00Z" fill="#8a8a8a"/>
<path d="M527.74,293.00 L523.54,295.50 M535.74,293.00 L539.94,295.50" stroke="#9a9a9a" stroke-width="0.8"/>
<path d="M456.46,339.50 L458.86,339.50 L458.26,343.00 L457.06,343.00Z" fill="#8a8a8a"/>
<path d="M453.66,339.00 L449.46,341.50 M461.66,339.00 L465.86,341.50" stroke="#9a9a9a" stroke-width="0.8"/>
<path d="M474.98,339.50 L477.38,339.50 L476.78,343.00 L475.58,343.00Z" fill="#8a8a8a"/>
<path d="M472.18,339.00 L467.98,341.50 M480.18,339.00 L484.38,341.50" stroke="#9a9a9a" stroke-width="0.8"/>
<path d="M493.50,339.50 L495.90,339.50 L495.30,343.00 L494.10,343.00Z" fill="#8a8a8a"/>
<path d="M490.70,339.00 L486.50,341.50 M498.70,339.00 L502.90,341.50" stroke="#9a9a9a" stroke-width="0.8"/>
<path d="M512.02,339.50 L514.42,339.50 L513.82,343.00 L512.62,343.00Z" fill="#8a8a8a"/>
<path d="M509.22,339.00 L505.02,341.50 M517.22,339.00 L521.42,341.50" stroke="#9a9a9a" stroke-width="0.8"/>
<path d="M530.54,339.50 L532.94,339.50 L532.34,343.00 L531.14,343.00Z" fill="#8a8a8a"/>
<path d="M527.74,339.00 L523.54,341.50 M535.74,339.00 L539.94,341.50" stroke="#9a9a9a" stroke-width="0.8"/>
<g filter="url(#tex)">
<ellipse cx="547.1" cy="32.7" rx="1.4" ry="0.7" fill="#a0a0a0" transform="rotate(-35 547.1 32.7)"/>
<ellipse cx="546.9" cy="57.8" rx="1.8" ry="0.8" fill="#a8a8a8" transform="rotate(30 546.9 57.8)"/>
<ellipse cx="560.3" cy="32.7" rx="1.4" ry="0.7" fill="#a0a0a0" transform="rotate(35 560.3 32.7)"/>
<ellipse cx="560.5" cy="57.8" rx="1.8" ry="0.8" fill="#a8a8a8" transform="rotate(-30 560.5 57.8)"/>
<path d="M553.7,23.0 C554.2,23.0 554.8,23.6 555.2,24.1 C555.7,24.5 556.2,25.0 556.6,25.7 C557.0,26.4 557.2,27.2 557.6,28.0 C558.0,28.8 558.4,29.7 558.8,30.6 C559.3,31.5 559.9,31.7 560.3,33.4 C560.6,35.2 560.6,38.2 560.8,41.0 C561.0,43.8 561.5,47.9 561.6,50.4 C561.7,52.8 561.8,54.3 561.2,55.8 C560.6,57.2 560.0,58.5 558.0,59.0 C556.0,59.5 551.4,59.5 549.4,59.0 C547.4,58.5 546.8,57.2 546.2,55.8 C545.6,54.3 545.7,52.8 545.8,50.4 C545.9,47.9 546.4,43.8 546.6,41.0 C546.8,38.2 546.8,35.2 547.1,33.4 C547.5,31.7 548.1,31.5 548.6,30.6 C549.0,29.7 549.4,28.8 549.8,28.0 C550.2,27.2 550.4,26.4 550.8,25.7 C551.2,25.0 551.7,24.5 552.2,24.1 C552.6,23.6 553.2,23.0 553.7,23.0Z" fill="url(#mb)"/>
<ellipse cx="565.7" cy="32.7" rx="1.4" ry="0.7" fill="#a0a0a0" transform="rotate(-35 565.7 32.7)"/>
<ellipse cx="565.5" cy="57.8" rx="1.8" ry="0.8" fill="#a8a8a8" transform="rotate(30 565.5 57.8)"/>
<ellipse cx="578.9" cy="32.7" rx="1.4" ry="0.7" fill="#a0a0a0" transform="rotate(35 578.9 32.7)"/>
<ellipse cx="579.1" cy="57.8" rx="1.8" ry="0.8" fill="#a8a8a8" transform="rotate(-30 579.1 57.8)"/>
<path d="M572.3,23.0 C572.8,23.0 573.4,23.6 573.8,24.1 C574.3,24.5 574.8,25.0 575.2,25.7 C575.6,26.4 575.8,27.2 576.2,28.0 C576.6,28.8 577.0,29.7 577.4,30.6 C577.9,31.5 578.5,31.7 578.9,33.4 C579.2,35.2 579.2,38.2 579.4,41.0 C579.6,43.8 580.1,47.9 580.2,50.4 C580.3,52.8 580.4,54.3 579.8,55.8 C579.2,57.2 578.6,58.5 576.6,59.0 C574.6,59.5 570.0,59.5 568.0,59.0 C566.0,58.5 565.4,57.2 564.8,55.8 C564.2,54.3 564.3,52.8 564.4,50.4 C564.5,47.9 565.0,43.8 565.2,41.0 C565.4,38.2 565.4,35.2 565.7,33.4 C566.1,31.7 566.7,31.5 567.2,30.6 C567.6,29.7 568.0,28.8 568.4,28.0 C568.8,27.2 569.0,26.4 569.4,25.7 C569.8,25.0 570.3,24.5 570.8,24.1 C571.2,23.6 571.8,23.0 572.3,23.0Z" fill="url(#mb)"/>
<ellipse cx="584.3" cy="32.7" rx="1.4" ry="0.7" fill="#a0a0a0" transform="rotate(-35 584.3 32.7)"/>
<ellipse cx="584.1" cy="57.8" rx="1.8" ry="0.8" fill="#a8a8a8" transform="rotate(30 584.1 57.8)"/>
<ellipse cx="597.5" cy="32.7" rx="1.4" ry="0.7" fill="#a0a0a0" transform="rotate(35 597.5 32.7)"/>
<ellipse cx="597.7" cy="57.8" rx="1.8" ry="0.8" fill="#a8a8a8" transform="rotate(-30 597.7 57.8)"/>
<path d="M590.9,23.0 C591.4,23.0 592.0,23.6 592.4,24.1 C592.9,24.5 593.4,25.0 593.8,25.7 C594.2,26.4 594.4,27.2 594.8,28.0 C595.2,28.8 595.6,29.7 596.0,30.6 C596.5,31.5 597.1,31.7 597.5,33.4 C597.8,35.2 597.8,38.2 598.0,41.0 C598.2,43.8 598.7,47.9 598.8,50.4 C598.9,52.8 599.0,54.3 598.4,55.8 C597.8,57.2 597.2,58.5 595.2,59.0 C593.2,59.5 588.6,59.5 586.6,59.0 C584.6,58.5 584.0,57.2 583.4,55.8 C582.8,54.3 582.9,52.8 583.0,50.4 C583.1,47.9 583.6,43.8 583.8,41.0 C584.0,38.2 584.0,35.2 584.3,33.4 C584.7,31.7 585.3,31.5 585.8,30.6 C586.2,29.7 586.6,28.8 587.0,28.0 C587.4,27.2 587.6,26.4 588.0,25.7 C588.4,25.0 588.9,24.5 589.4,24.1 C589.8,23.6 590.4,23.0 590.9,23.0Z" fill="url(#mb)"/>
<ellipse cx="602.9" cy="32.7" rx="1.4" ry="0.7" fill="#a0a0a0" transform="rotate(-35 602.9 32.7)"/>
<ellipse cx="602.7" cy="57.8" rx="1.8" ry="0.8" fill="#a8a8a8" transform="rotate(30 602.7 57.8)"/>
<ellipse cx="616.1" cy="32.7" rx="1.4" ry="0.7" fill="#a0a0a0" transform="rotate(35 616.1 32.7)"/>
<ellipse cx="616.3" cy="57.8" rx="1.8" ry="0.8" fill="#a8a8a8" transform="rotate(-30 616.3 57.8)"/>
<path d="M609.5,23.0 C610.0,23.0 610.6,23.6 611.0,24.1 C611.5,24.5 612.0,25.0 612.4,25.7 C612.8,26.4 613.0,27.2 613.4,28.0 C613.8,28.8 614.2,29.7 614.6,30.6 C615.1,31.5 615.7,31.7 616.1,33.4 C616.4,35.2 616.4,38.2 616.6,41.0 C616.8,43.8 617.3,47.9 617.4,50.4 C617.5,52.8 617.6,54.3 617.0,55.8 C616.4,57.2 615.8,58.5 613.8,59.0 C611.8,59.5 607.2,59.5 605.2,59.0 C603.2,58.5 602.6,57.2 602.0,55.8 C601.4,54.3 601.5,52.8 601.6,50.4 C601.7,47.9 602.2,43.8 602.4,41.0 C602.6,38.2 602.6,35.2 602.9,33.4 C603.3,31.7 603.9,31.5 604.4,30.6 C604.8,29.7 605.2,28.8 605.6,28.0 C606.0,27.2 606.2,26.4 606.6,25.7 C607.0,25.0 607.5,24.5 608.0,24.1 C608.4,23.6 609.0,23.0 609.5,23.0Z" fill="url(#mb)"/>
<ellipse cx="621.5" cy="32.7" rx="1.4" ry="0.7" fill="#a0a0a0" transform="rotate(-35 621.5 32.7)"/>
<ellipse cx="621.3" cy="57.8" rx="1.8" ry="0.8" fill="#a8a8a8" transform="rotate(30 621.3 57.8)"/>
<ellipse cx="634.7" cy="32.7" rx="1.4" ry="0.7" fill="#a0a0a0" transform="rotate(35 634.7 32.7)"/>
<ellipse cx="634.9" cy="57.8" rx="1.8" ry="0.8" fill="#a8a8a8" transform="rotate(-30 634.9 57.8)"/>
<path d="M628.1,23.0 C628.6,23.0 629.2,23.6 629.6,24.1 C630.1,24.5 630.6,25.0 631.0,25.7 C631.4,26.4 631.6,27.2 632.0,28.0 C632.4,28.8 632.8,29.7 633.2,30.6 C633.7,31.5 634.3,31.7 634.7,33.4 C635.0,35.2 635.0,38.2 635.2,41.0 C635.4,43.8 635.9,47.9 636.0,50.4 C636.1,52.8 636.2,54.3 635.6,55.8 C635.0,57.2 634.4,58.5 632.4,59.0 C630.4,59.5 625.8,59.5 623.8,59.0 C621.8,58.5 621.2,57.2 620.6,55.8 C620.0,54.3 620.1,52.8 620.2,50.4 C620.3,47.9 620.8,43.8 621.0,41.0 C621.2,38.2 621.2,35.2 621.5,33.4 C621.9,31.7 622.5,31.5 623.0,30.6 C623.4,29.7 623.8,28.8 624.2,28.0 C624.6,27.2 624.8,26.4 625.2,25.7 C625.6,25.0 626.1,24.5 626.6,24.1 C627.0,23.6 627.6,23.0 628.1,23.0Z" fill="url(#mb)"/>
<ellipse cx="547.1" cy="78.3" rx="1.4" ry="0.7" fill="#a0a0a0" transform="rotate(-35 547.1 78.3)"/>
<ellipse cx="546.9" cy="102.3" rx="1.8" ry="0.8" fill="#a8a8a8" transform="rotate(30 546.9 102.3)"/>
<ellipse cx="560.3" cy="78.3" rx="1.4" ry="0.7" fill="#a0a0a0" transform="rotate(35 560.3 78.3)"/>
<ellipse cx="560.5" cy="102.3" rx="1.8" ry="0.8" fill="#a8a8a8" transform="rotate(-30 560.5 102.3)"/>
<path d="M553.7,69.0 C554.2,69.0 554.8,69.6 555.2,70.0 C555.7,70.5 556.2,71.0 556.6,71.6 C557.0,72.2 557.2,73.1 557.6,73.8 C558.0,74.6 558.4,75.4 558.8,76.2 C559.3,77.1 559.9,77.3 560.3,79.0 C560.6,80.7 560.6,83.5 560.8,86.2 C561.0,89.0 561.5,92.9 561.6,95.2 C561.7,97.6 561.8,99.0 561.2,100.4 C560.6,101.8 560.0,103.0 558.0,103.5 C556.0,104.0 551.4,104.0 549.4,103.5 C547.4,103.0 546.8,101.8 546.2,100.4 C545.6,99.0 545.7,97.6 545.8,95.2 C545.9,92.9 546.4,89.0 546.6,86.2 C546.8,83.5 546.8,80.7 547.1,79.0 C547.5,77.3 548.1,77.1 548.6,76.2 C549.0,75.4 549.4,74.6 549.8,73.8 C550.2,73.1 550.4,72.2 550.8,71.6 C551.2,71.0 551.7,70.5 552.2,70.0 C552.6,69.6 553.2,69.0 553.7,69.0Z" fill="url(#mb)"/>
<ellipse cx="565.7" cy="78.3" rx="1.4" ry="0.7" fill="#a0a0a0" transform="rotate(-35 565.7 78.3)"/>
<ellipse cx="565.5" cy="102.3" rx="1.8" ry="0.8" fill="#a8a8a8" transform="rotate(30 565.5 102.3)"/>
<ellipse cx="578.9" cy="78.3" rx="1.4" ry="0.7" fill="#a0a0a0" transform="rotate(35 578.9 78.3)"/>
<ellipse cx="579.1" cy="102.3" rx="1.8" ry="0.8" fill="#a8a8a8" transform="rotate(-30 579.1 102.3)"/>
<path d="M572.3,69.0 C572.8,69.0 573.4,69.6 573.8,70.0 C574.3,70.5 574.8,71.0 575.2,71.6 C575.6,72.2 575.8,73.1 576.2,73.8 C576.6,74.6 577.0,75.4 577.4,76.2 C577.9,77.1 578.5,77.3 578.9,79.0 C579.2,80.7 579.2,83.5 579.4,86.2 C579.6,89.0 580.1,92.9 580.2,95.2 C580.3,97.6 580.4,99.0 579.8,100.4 C579.2,101.8 578.6,103.0 576.6,103.5 C574.6,104.0 570.0,104.0 568.0,103.5 C566.0,103.0 565.4,101.8 564.8,100.4 C564.2,99.0 564.3,97.6 564.4,95.2 C564.5,92.9 565.0,89.0 565.2,86.2 C565.4,83.5 565.4,80.7 565.7,79.0 C566.1,77.3 566.7,77.1 567.2,76.2 C567.6,75.4 568.0,74.6 568.4,73.8 C568.8,73.1 569.0,72.2 569.4,71.6 C569.8,71.0 570.3,70.5 570.8,70.0 C571.2,69.6 571.8,69.0 572.3,69.0Z" fill="url(#mb)"/>
<ellipse cx="584.3" cy="78.3" rx="1.4" ry="0.7" fill="#a0a0a0" transform="rotate(-35 584.3 78.3)"/>
<ellipse cx="584.1" cy="102.3" rx="1.8" ry="0.8" fill="#a8a8a8" transform="rotate(30 584.1 102.3)"/>
<ellipse cx="597.5" cy="78.3" rx="1.4" ry="0.7" fill="#a0a0a0" transform="rotate(35 597.5 78.3)"/>
<ellipse cx="597.7" cy="102.3" rx="1.8" ry="0.8" fill="#a8a8a8" transform="rotate(-30 597.7 102.3)"/>
<path d="M590.9,69.0 C591.4,69.0 592.0,69.6 592.4,70.0 C592.9,70.5 593.4,71.0 593.8,71.6 C594.2,72.2 594.4,73.1 594.8,73.8 C595.2,74.6 595.6,75.4 596.0,76.2 C596.5,77.1 597.1,77.3 597.5,79.0 C597.8,80.7 597.8,83.5 598.0,86.2 C598.2,89.0 598.7,92.9 598.8,95.2 C598.9,97.6 599.0,99.0 598.4,100.4 C597.8,101.8 597.2,103.0 595.2,103.5 C593.2,104.0 588.6,104.0 586.6,103.5 C584.6,103.0 584.0,101.8 583.4,100.4 C582.8,99.0 582.9,97.6 583.0,95.2 C583.1,92.9 583.6,89.0 583.8,86.2 C584.0,83.5 584.0,80.7 584.3,79.0 C584.7,77.3 585.3,77.1 585.8,76.2 C586.2,75.4 586.6,74.6 587.0,73.8 C587.4,73.1 587.6,72.2 588.0,71.6 C588.4,71.0 588.9,70.5 589.4,70.0 C589.8,69.6 590.4,69.0 590.9,69.0Z" fill="url(#mb)"/>
<ellipse cx="602.9" cy="78.3" rx="1.4" ry="0.7" fill="#a0a0a0" transform="rotate(-35 602.9 78.3)"/>
<ellipse cx="602.7" cy="102.3" rx="1.8" ry="0.8" fill="#a8a8a8" transform="rotate(30 602.7 102.3)"/>
<ellipse cx="616.1" cy="78.3" rx="1.4" ry="0.7" fill="#a0a0a0" transform="rotate(35 616.1 78.3)"/>
<ellipse cx="616.3" cy="102.3" rx="1.8" ry="0.8" fill="#a8a8a8" transform="rotate(-30 616.3 102.3)"/>
<path d="M609.5,69.0 C610.0,69.0 610.6,69.6 611.0,70.0 C611.5,70.5 612.0,71.0 612.4,71.6 C612.8,72.2 613.0,73.1 613.4,73.8 C613.8,74.6 614.2,75.4 614.6,76.2 C615.1,77.1 615.7,77.3 616.1,79.0 C616.4,80.7 616.4,83.5 616.6,86.2 C616.8,89.0 617.3,92.9 617.4,95.2 C617.5,97.6 617.6,99.0 617.0,100.4 C616.4,101.8 615.8,103.0 613.8,103.5 C611.8,104.0 607.2,104.0 605.2,103.5 C603.2,103.0 602.6,101.8 602.0,100.4 C601.4,99.0 601.5,97.6 601.6,95.2 C601.7,92.9 602.2,89.0 602.4,86.2 C602.6,83.5 602.6,80.7 602.9,79.0 C603.3,77.3 603.9,77.1 604.4,76.2 C604.8,75.4 605.2,74.6 605.6,73.8 C606.0,73.1 606.2,72.2 606.6,71.6 C607.0,71.0 607.5,70.5 608.0,70.0 C608.4,69.6 609.0,69.0 609.5,69.0Z" fill="url(#mb)"/>
<ellipse cx="621.5" cy="78.3" rx="1.4" ry="0.7" fill="#a0a0a0" transform="rotate(-35 621.5 78.3)"/>
<ellipse cx="621.3" cy="102.3" rx="1.8" ry="0.8" fill="#a8a8a8" transform="rotate(30 621.3 102.3)"/>
<ellipse cx="634.7" cy="78.3" rx="1.4" ry="0.7" fill="#a0a0a0" transform="rotate(35 634.7 78.3)"/>
<ellipse cx="634.9" cy="102.3" rx="1.8" ry="0.8" fill="#a8a8a8" transform="rotate(-30 634.9 102.3)"/>
<path d="M628.1,69.0 C628.6,69.0 629.2,69.6 629.6,70.0 C630.1,70.5 630.6,71.0 631.0,71.6 C631.4,72.2 631.6,73.1 632.0,73.8 C632.4,74.6 632.8,75.4 633.2,76.2 C633.7,77.1 634.3,77.3 634.7,79.0 C635.0,80.7 635.0,83.5 635.2,86.2 C635.4,89.0 635.9,92.9 636.0,95.2 C636.1,97.6 636.2,99.0 635.6,100.4 C635.0,101.8 634.4,103.0 632.4,103.5 C630.4,104.0 625.8,104.0 623.8,103.5 C621.8,103.0 621.2,101.8 620.6,100.4 C620.0,99.0 620.1,97.6 620.2,95.2 C620.3,92.9 620.8,89.0 621.0,86.2 C621.2,83.5 621.2,80.7 621.5,79.0 C621.9,77.3 622.5,77.1 623.0,76.2 C623.4,75.4 623.8,74.6 624.2,73.8 C624.6,73.1 624.8,72.2 625.2,71.6 C625.6,71.0 626.1,70.5 626.6,70.0 C627.0,69.6 627.6,69.0 628.1,69.0Z" fill="url(#mb)"/>
<ellipse cx="547.1" cy="124.5" rx="1.4" ry="0.7" fill="#a0a0a0" transform="rotate(-35 547.1 124.5)"/>
<ellipse cx="546.9" cy="148.8" rx="1.8" ry="0.8" fill="#a8a8a8" transform="rotate(30 546.9 148.8)"/>
<ellipse cx="560.3" cy="124.5" rx="1.4" ry="0.7" fill="#a0a0a0" transform="rotate(35 560.3 124.5)"/>
<ellipse cx="560.5" cy="148.8" rx="1.8" ry="0.8" fill="#a8a8a8" transform="rotate(-30 560.5 148.8)"/>
<path d="M553.7,115.0 C554.2,115.0 554.8,115.6 555.2,116.0 C555.7,116.5 556.2,117.0 556.6,117.6 C557.0,118.3 557.2,119.1 557.6,119.9 C558.0,120.7 558.4,121.5 558.8,122.3 C559.3,123.2 559.9,123.5 560.3,125.2 C560.6,126.8 560.6,129.8 560.8,132.5 C561.0,135.2 561.5,139.2 561.6,141.6 C561.7,144.0 561.8,145.4 561.2,146.8 C560.6,148.2 560.0,149.5 558.0,150.0 C556.0,150.5 551.4,150.5 549.4,150.0 C547.4,149.5 546.8,148.2 546.2,146.8 C545.6,145.4 545.7,144.0 545.8,141.6 C545.9,139.2 546.4,135.2 546.6,132.5 C546.8,129.8 546.8,126.8 547.1,125.2 C547.5,123.5 548.1,123.2 548.6,122.3 C549.0,121.5 549.4,120.7 549.8,119.9 C550.2,119.1 550.4,118.3 550.8,117.6 C551.2,117.0 551.7,116.5 552.2,116.0 C552.6,115.6 553.2,115.0 553.7,115.0Z" fill="url(#mb)"/>
<ellipse cx="565.7" cy="124.5" rx="1.4" ry="0.7" fill="#a0a0a0" transform="rotate(-35 565.7 124.5)"/>
<ellipse cx="565.5" cy="148.8" rx="1.8" ry="0.8" fill="#a8a8a8" transform="rotate(30 565.5 148.8)"/>
<ellipse cx="578.9" cy="124.5" rx="1.4" ry="0.7" fill="#a0a0a0" transform="rotate(35 578.9 124.5)"/>
<ellipse cx="579.1" cy="148.8" rx="1.8" ry="0.8" fill="#a8a8a8" transform="rotate(-30 579.1 148.8)"/>
<path d="M572.3,115.0 C572.8,115.0 573.4,115.6 573.8,116.0 C574.3,116.5 574.8,117.0 575.2,117.6 C575.6,118.3 575.8,119.1 576.2,119.9 C576.6,120.7 577.0,121.5 577.4,122.3 C577.9,123.2 578.5,123.5 578.9,125.2 C579.2,126.8 579.2,129.8 579.4,132.5 C579.6,135.2 580.1,139.2 580.2,141.6 C580.3,144.0 580.4,145.4 579.8,146.8 C579.2,148.2 578.6,149.5 576.6,150.0 C574.6,150.5 570.0,150.5 568.0,150.0 C566.0,149.5 565.4,148.2 564.8,146.8 C564.2,145.4 564.3,144.0 564.4,141.6 C564.5,139.2 565.0,135.2 565.2,132.5 C565.4,129.8 565.4,126.8 565.7,125.2 C566.1,123.5 566.7,123.2 567.2,122.3 C567.6,121.5 568.0,120.7 568.4,119.9 C568.8,119.1 569.0,118.3 569.4,117.6 C569.8,117.0 570.3,116.5 570.8,116.0 C571.2,115.6 571.8,115.0 572.3,115.0Z" fill="url(#mb)"/>
<ellipse cx="584.3" cy="124.5" rx="1.4" ry="0.7" fill="#a0a0a0" transform="rotate(-35 584.3 124.5)"/>
<ellipse cx="584.1" cy="148.8" rx="1.8" ry="0.8" fill="#a8a8a8" transform="rotate(30 584.1 148.8)"/>
<ellipse cx="597.5" cy="124.5" rx="1.4" ry="0.7" fill="#a0a0a0" transform="rotate(35 597.5 124.5)"/>
<ellipse cx="597.7" cy="148.8" rx="1.8" ry="0.8" fill="#a8a8a8" transform="rotate(-30 597.7 148.8)"/>
<path d="M590.9,115.0 C591.4,115.0 592.0,115.6 592.4,116.0 C592.9,116.5 593.4,117.0 593.8,117.6 C594.2,118.3 594.4,119.1 594.8,119.9 C595.2,120.7 595.6,121.5 596.0,122.3 C596.5,123.2 597.1,123.5 597.5,125.2 C597.8,126.8 597.8,129.8 598.0,132.5 C598.2,135.2 598.7,139.2 598.8,141.6 C598.9,144.0 599.0,145.4 598.4,146.8 C597.8,148.2 597.2,149.5 595.2,150.0 C593.2,150.5 588.6,150.5 586.6,150.0 C584.6,149.5 584.0,148.2 583.4,146.8 C582.8,145.4 582.9,144.0 583.0,141.6 C583.1,139.2 583.6,135.2 583.8,132.5 C584.0,129.8 584.0,126.8 584.3,125.2 C584.7,123.5 585.3,123.2 585.8,122.3 C586.2,121.5 586.6,120.7 587.0,119.9 C587.4,119.1 587.6,118.3 588.0,117.6 C588.4,117.0 588.9,116.5 589.4,116.0 C589.8,115.6 590.4,115.0 590.9,115.0Z" fill="url(#mb)"/>
<ellipse cx="602.9" cy="124.5" rx="1.4" ry="0.7" fill="#a0a0a0" transform="rotate(-35 602.9 124.5)"/>
<ellipse cx="602.7" cy="148.8" rx="1.8" ry="0.8" fill="#a8a8a8" transform="rotate(30 602.7 148.8)"/>
<ellipse cx="616.1" cy="124.5" rx="1.4" ry="0.7" fill="#a0a0a0" transform="rotate(35 616.1 124.5)"/>
<ellipse cx="616.3" cy="148.8" rx="1.8" ry="0.8" fill="#a8a8a8" transform="rotate(-30 616.3 148.8)"/>
<path d="M609.5,115.0 C610.0,115.0 610.6,115.6 611.0,116.0 C611.5,116.5 612.0,117.0 612.4,117.6 C612.8,118.3 613.0,119.1 613.4,119.9 C613.8,120.7 614.2,121.5 614.6,122.3 C615.1,123.2 615.7,123.5 616.1,125.2 C616.4,126.8 616.4,129.8 616.6,132.5 C616.8,135.2 617.3,139.2 617.4,141.6 C617.5,144.0 617.6,145.4 617.0,146.8 C616.4,148.2 615.8,149.5 613.8,150.0 C611.8,150.5 607.2,150.5 605.2,150.0 C603.2,149.5 602.6,148.2 602.0,146.8 C601.4,145.4 601.5,144.0 601.6,141.6 C601.7,139.2 602.2,135.2 602.4,132.5 C602.6,129.8 602.6,126.8 602.9,125.2 C603.3,123.5 603.9,123.2 604.4,122.3 C604.8,121.5 605.2,120.7 605.6,119.9 C606.0,119.1 606.2,118.3 606.6,117.6 C607.0,117.0 607.5,116.5 608.0,116.0 C608.4,115.6 609.0,115.0 609.5,115.0Z" fill="url(#mb)"/>
<ellipse cx="621.5" cy="124.5" rx="1.4" ry="0.7" fill="#a0a0a0" transform="rotate(-35 621.5 124.5)"/>
<ellipse cx="621.3" cy="148.8" rx="1.8" ry="0.8" fill="#a8a8a8" transform="rotate(30 621.3 148.8)"/>
<ellipse cx="634.7" cy="124.5" rx="1.4" ry="0.7" fill="#a0a0a0" transform="rotate(35 634.7 124.5)"/>
<ellipse cx="634.9" cy="148.8" rx="1.8" ry="0.8" fill="#a8a8a8" transform="rotate(-30 634.9 148.8)"/>
<path d="M628.1,115.0 C628.6,115.0 629.2,115.6 629.6,116.0 C630.1,116.5 630.6,117.0 631.0,117.6 C631.4,118.3 631.6,119.1 632.0,119.9 C632.4,120.7 632.8,121.5 633.2,122.3 C633.7,123.2 634.3,123.5 634.7,125.2 C635.0,126.8 635.0,129.8 635.2,132.5 C635.4,135.2 635.9,139.2 636.0,141.6 C636.1,144.0 636.2,145.4 635.6,146.8 C635.0,148.2 634.4,149.5 632.4,150.0 C630.4,150.5 625.8,150.5 623.8,150.0 C621.8,149.5 621.2,148.2 620.6,146.8 C620.0,145.4 620.1,144.0 620.2,141.6 C620.3,139.2 620.8,135.2 621.0,132.5 C621.2,129.8 621.2,126.8 621.5,125.2 C621.9,123.5 622.5,123.2 623.0,122.3 C623.4,121.5 623.8,120.7 624.2,119.9 C624.6,119.1 624.8,118.3 625.2,117.6 C625.6,117.0 626.1,116.5 626.6,116.0 C627.0,115.6 627.6,115.0 628.1,115.0Z" fill="url(#mb)"/>
<ellipse cx="547.1" cy="170.7" rx="1.4" ry="0.7" fill="#a0a0a0" transform="rotate(-35 547.1 170.7)"/>
<ellipse cx="546.9" cy="195.8" rx="1.8" ry="0.8" fill="#a8a8a8" transform="rotate(30 546.9 195.8)"/>
<ellipse cx="560.3" cy="170.7" rx="1.4" ry="0.7" fill="#a0a0a0" transform="rotate(35 560.3 170.7)"/>
<ellipse cx="560.5" cy="195.8" rx="1.8" ry="0.8" fill="#a8a8a8" transform="rotate(-30 560.5 195.8)"/>
<path d="M553.7,161.0 C554.2,161.0 554.8,161.6 555.2,162.1 C555.7,162.5 556.2,163.0 556.6,163.7 C557.0,164.4 557.2,165.2 557.6,166.0 C558.0,166.8 558.4,167.7 558.8,168.6 C559.3,169.5 559.9,169.7 560.3,171.4 C560.6,173.2 560.6,176.2 560.8,179.0 C561.0,181.8 561.5,185.9 561.6,188.4 C561.7,190.8 561.8,192.3 561.2,193.8 C560.6,195.2 560.0,196.5 558.0,197.0 C556.0,197.5 551.4,197.5 549.4,197.0 C547.4,196.5 546.8,195.2 546.2,193.8 C545.6,192.3 545.7,190.8 545.8,188.4 C545.9,185.9 546.4,181.8 546.6,179.0 C546.8,176.2 546.8,173.2 547.1,171.4 C547.5,169.7 548.1,169.5 548.6,168.6 C549.0,167.7 549.4,166.8 549.8,166.0 C550.2,165.2 550.4,164.4 550.8,163.7 C551.2,163.0 551.7,162.5 552.2,162.1 C552.6,161.6 553.2,161.0 553.7,161.0Z" fill="url(#mb)"/>
<ellipse cx="565.7" cy="170.7" rx="1.4" ry="0.7" fill="#a0a0a0" transform="rotate(-35 565.7 170.7)"/>
<ellipse cx="565.5" cy="195.8" rx="1.8" ry="0.8" fill="#a8a8a8" transform="rotate(30 565.5 195.8)"/>
<ellipse cx="578.9" cy="170.7" rx="1.4" ry="0.7" fill="#a0a0a0" transform="rotate(35 578.9 170.7)"/>
<ellipse cx="579.1" cy="195.8" rx="1.8" ry="0.8" fill="#a8a8a8" transform="rotate(-30 579.1 195.8)"/>
<path d="M572.3,161.0 C572.8,161.0 573.4,161.6 573.8,162.1 C574.3,162.5 574.8,163.0 575.2,163.7 C575.6,164.4 575.8,165.2 576.2,166.0 C576.6,166.8 577.0,167.7 577.4,168.6 C577.9,169.5 578.5,169.7 578.9,171.4 C579.2,173.2 579.2,176.2 579.4,179.0 C579.6,181.8 580.1,185.9 580.2,188.4 C580.3,190.8 580.4,192.3 579.8,193.8 C579.2,195.2 578.6,196.5 576.6,197.0 C574.6,197.5 570.0,197.5 568.0,197.0 C566.0,196.5 565.4,195.2 564.8,193.8 C564.2,192.3 564.3,190.8 564.4,188.4 C564.5,185.9 565.0,181.8 565.2,179.0 C565.4,176.2 565.4,173.2 565.7,171.4 C566.1,169.7 566.7,169.5 567.2,168.6 C567.6,167.7 568.0,166.8 568.4,166.0 C568.8,165.2 569.0,164.4 569.4,163.7 C569.8,163.0 570.3,162.5 570.8,162.1 C571.2,161.6 571.8,161.0 572.3,161.0Z" fill="url(#mb)"/>
<ellipse cx="584.3" cy="170.7" rx="1.4" ry="0.7" fill="#a0a0a0" transform="rotate(-35 584.3 170.7)"/>
<ellipse cx="584.1" cy="195.8" rx="1.8" ry="0.8" fill="#a8a8a8" transform="rotate(30 584.1 195.8)"/>
<ellipse cx="597.5" cy="170.7" rx="1.4" ry="0.7" fill="#a0a0a0" transform="rotate(35 597.5 170.7)"/>
<ellipse cx="597.7" cy="195.8" rx="1.8" ry="0.8" fill="#a8a8a8" transform="rotate(-30 597.7 195.8)"/>
<path d="M590.9,161.0 C591.4,161.0 592.0,161.6 592.4,162.1 C592.9,162.5 593.4,163.0 593.8,163.7 C594.2,164.4 594.4,165.2 594.8,166.0 C595.2,166.8 595.6,167.7 596.0,168.6 C596.5,169.5 597.1,169.7 597.5,171.4 C597.8,173.2 597.8,176.2 598.0,179.0 C598.2,181.8 598.7,185.9 598.8,188.4 C598.9,190.8 599.0,192.3 598.4,193.8 C597.8,195.2 597.2,196.5 595.2,197.0 C593.2,197.5 588.6,197.5 586.6,197.0 C584.6,196.5 584.0,195.2 583.4,193.8 C582.8,192.3 582.9,190.8 583.0,188.4 C583.1,185.9 583.6,181.8 583.8,179.0 C584.0,176.2 584.0,173.2 584.3,171.4 C584.7,169.7 585.3,169.5 585.8,168.6 C586.2,167.7 586.6,166.8 587.0,166.0 C587.4,165.2 587.6,164.4 588.0,163.7 C588.4,163.0 588.9,162.5 589.4,162.1 C589.8,161.6 590.4,161.0 590.9,161.0Z" fill="url(#mb)"/>
<ellipse cx="602.9" cy="170.7" rx="1.4" ry="0.7" fill="#a0a0a0" transform="rotate(-35 602.9 170.7)"/>
<ellipse cx="602.7" cy="195.8" rx="1.8" ry="0.8" fill="#a8a8a8" transform="rotate(30 602.7 195.8)"/>
<ellipse cx="616.1" cy="170.7" rx="1.4" ry="0.7" fill="#a0a0a0" transform="rotate(35 616.1 170.7)"/>
<ellipse cx="616.3" cy="195.8" rx="1.8" ry="0.8" fill="#a8a8a8" transform="rotate(-30 616.3 195.8)"/>
<path d="M609.5,161.0 C610.0,161.0 610.6,161.6 611.0,162.1 C611.5,162.5 612.0,163.0 612.4,163.7 C612.8,164.4 613.0,165.2 613.4,166.0 C613.8,166.8 614.2,167.7 614.6,168.6 C615.1,169.5 615.7,169.7 616.1,171.4 C616.4,173.2 616.4,176.2 616.6,179.0 C616.8,181.8 617.3,185.9 617.4,188.4 C617.5,190.8 617.6,192.3 617.0,193.8 C616.4,195.2 615.8,196.5 613.8,197.0 C611.8,197.5 607.2,197.5 605.2,197.0 C603.2,196.5 602.6,195.2 602.0,193.8 C601.4,192.3 601.5,190.8 601.6,188.4 C601.7,185.9 602.2,181.8 602.4,179.0 C602.6,176.2 602.6,173.2 602.9,171.4 C603.3,169.7 603.9,169.5 604.4,168.6 C604.8,167.7 605.2,166.8 605.6,166.0 C606.0,165.2 606.2,164.4 606.6,163.7 C607.0,163.0 607.5,162.5 608.0,162.1 C608.4,161.6 609.0,161.0 609.5,161.0Z" fill="url(#mb)"/>
<ellipse cx="621.5" cy="170.7" rx="1.4" ry="0.7" fill="#a0a0a0" transform="rotate(-35 621.5 170.7)"/>
<ellipse cx="621.3" cy="195.8" rx="1.8" ry="0.8" fill="#a8a8a8" transform="rotate(30 621.3 195.8)"/>
<ellipse cx="634.7" cy="170.7" rx="1.4" ry="0.7" fill="#a0a0a0" transform="rotate(35 634.7 170.7)"/>
<ellipse cx="634.9" cy="195.8" rx="1.8" ry="0.8" fill="#a8a8a8" transform="rotate(-30 634.9 195.8)"/>
<path d="M628.1,161.0 C628.6,161.0 629.2,161.6 629.6,162.1 C630.1,162.5 630.6,163.0 631.0,163.7 C631.4,164.4 631.6,165.2 632.0,166.0 C632.4,166.8 632.8,167.7 633.2,168.6 C633.7,169.5 634.3,169.7 634.7,171.4 C635.0,173.2 635.0,176.2 635.2,179.0 C635.4,181.8 635.9,185.9 636.0,188.4 C636.1,190.8 636.2,192.3 635.6,193.8 C635.0,195.2 634.4,196.5 632.4,197.0 C630.4,197.5 625.8,197.5 623.8,197.0 C621.8,196.5 621.2,195.2 620.6,193.8 C620.0,192.3 620.1,190.8 620.2,188.4 C620.3,185.9 620.8,181.8 621.0,179.0 C621.2,176.2 621.2,173.2 621.5,171.4 C621.9,169.7 622.5,169.5 623.0,168.6 C623.4,167.7 623.8,166.8 624.2,166.0 C624.6,165.2 624.8,164.4 625.2,163.7 C625.6,163.0 626.1,162.5 626.6,162.1 C627.0,161.6 627.6,161.0 628.1,161.0Z" fill="url(#mb)"/>
<ellipse cx="547.1" cy="218.1" rx="1.4" ry="0.7" fill="#a0a0a0" transform="rotate(-35 547.1 218.1)"/>
<ellipse cx="546.9" cy="246.8" rx="1.8" ry="0.8" fill="#a8a8a8" transform="rotate(30 546.9 246.8)"/>
<ellipse cx="560.3" cy="218.1" rx="1.4" ry="0.7" fill="#a0a0a0" transform="rotate(35 560.3 218.1)"/>
<ellipse cx="560.5" cy="246.8" rx="1.8" ry="0.8" fill="#a8a8a8" transform="rotate(-30 560.5 246.8)"/>
<path d="M553.7,207.0 C554.2,207.0 554.8,207.7 555.2,208.2 C555.7,208.7 556.2,209.3 556.6,210.1 C557.0,210.8 557.2,211.8 557.6,212.7 C558.0,213.7 558.4,214.6 558.8,215.6 C559.3,216.6 559.9,216.9 560.3,218.9 C560.6,220.9 560.6,224.3 560.8,227.5 C561.0,230.7 561.5,235.4 561.6,238.2 C561.7,241.0 561.8,242.7 561.2,244.3 C560.6,245.9 560.0,247.4 558.0,248.0 C556.0,248.6 551.4,248.6 549.4,248.0 C547.4,247.4 546.8,245.9 546.2,244.3 C545.6,242.7 545.7,241.0 545.8,238.2 C545.9,235.4 546.4,230.7 546.6,227.5 C546.8,224.3 546.8,220.9 547.1,218.9 C547.5,216.9 548.1,216.6 548.6,215.6 C549.0,214.6 549.4,213.7 549.8,212.7 C550.2,211.8 550.4,210.8 550.8,210.1 C551.2,209.3 551.7,208.7 552.2,208.2 C552.6,207.7 553.2,207.0 553.7,207.0Z" fill="url(#mb)"/>
<ellipse cx="565.7" cy="218.1" rx="1.4" ry="0.7" fill="#a0a0a0" transform="rotate(-35 565.7 218.1)"/>
<ellipse cx="565.5" cy="246.8" rx="1.8" ry="0.8" fill="#a8a8a8" transform="rotate(30 565.5 246.8)"/>
<ellipse cx="578.9" cy="218.1" rx="1.4" ry="0.7" fill="#a0a0a0" transform="rotate(35 578.9 218.1)"/>
<ellipse cx="579.1" cy="246.8" rx="1.8" ry="0.8" fill="#a8a8a8" transform="rotate(-30 579.1 246.8)"/>
<path d="M572.3,207.0 C572.8,207.0 573.4,207.7 573.8,208.2 C574.3,208.7 574.8,209.3 575.2,210.1 C575.6,210.8 575.8,211.8 576.2,212.7 C576.6,213.7 577.0,214.6 577.4,215.6 C577.9,216.6 578.5,216.9 578.9,218.9 C579.2,220.9 579.2,224.3 579.4,227.5 C579.6,230.7 580.1,235.4 580.2,238.2 C580.3,241.0 580.4,242.7 579.8,244.3 C579.2,245.9 578.6,247.4 576.6,248.0 C574.6,248.6 570.0,248.6 568.0,248.0 C566.0,247.4 565.4,245.9 564.8,244.3 C564.2,242.7 564.3,241.0 564.4,238.2 C564.5,235.4 565.0,230.7 565.2,227.5 C565.4,224.3 565.4,220.9 565.7,218.9 C566.1,216.9 566.7,216.6 567.2,215.6 C567.6,214.6 568.0,213.7 568.4,212.7 C568.8,211.8 569.0,210.8 569.4,210.1 C569.8,209.3 570.3,208.7 570.8,208.2 C571.2,207.7 571.8,207.0 572.3,207.0Z" fill="url(#mb)"/>
<ellipse cx="584.3" cy="218.1" rx="1.4" ry="0.7" fill="#a0a0a0" transform="rotate(-35 584.3 218.1)"/>
<ellipse cx="584.1" cy="246.8" rx="1.8" ry="0.8" fill="#a8a8a8" transform="rotate(30 584.1 246.8)"/>
<ellipse cx="597.5" cy="218.1" rx="1.4" ry="0.7" fill="#a0a0a0" transform="rotate(35 597.5 218.1)"/>
<ellipse cx="597.7" cy="246.8" rx="1.8" ry="0.8" fill="#a8a8a8" transform="rotate(-30 597.7 246.8)"/>
<path d="M590.9,207.0 C591.4,207.0 592.0,207.7 592.4,208.2 C592.9,208.7 593.4,209.3 593.8,210.1 C594.2,210.8 594.4,211.8 594.8,212.7 C595.2,213.7 595.6,214.6 596.0,215.6 C596.5,216.6 597.1,216.9 597.5,218.9 C597.8,220.9 597.8,224.3 598.0,227.5 C598.2,230.7 598.7,235.4 598.8,238.2 C598.9,241.0 599.0,242.7 598.4,244.3 C597.8,245.9 597.2,247.4 595.2,248.0 C593.2,248.6 588.6,248.6 586.6,248.0 C584.6,247.4 584.0,245.9 583.4,244.3 C582.8,242.7 582.9,241.0 583.0,238.2 C583.1,235.4 583.6,230.7 583.8,227.5 C584.0,224.3 584.0,220.9 584.3,218.9 C584.7,216.9 585.3,216.6 585.8,215.6 C586.2,214.6 586.6,213.7 587.0,212.7 C587.4,211.8 587.6,210.8 588.0,210.1 C588.4,209.3 588.9,208.7 589.4,208.2 C589.8,207.7 590.4,207.0 590.9,207.0Z" fill="url(#mb)"/>
<ellipse cx="602.9" cy="218.1" rx="1.4" ry="0.7" fill="#a0a0a0" transform="rotate(-35 602.9 218.1)"/>
<ellipse cx="602.7" cy="246.8" rx="1.8" ry="0.8" fill="#a8a8a8" transform="rotate(30 602.7 246.8)"/>
<ellipse cx="616.1" cy="218.1" rx="1.4" ry="0.7" fill="#a0a0a0" transform="rotate(35 616.1 218.1)"/>
<ellipse cx="616.3" cy="246.8" rx="1.8" ry="0.8" fill="#a8a8a8" transform="rotate(-30 616.3 246.8)"/>
<path d="M609.5,207.0 C610.0,207.0 610.6,207.7 611.0,208.2 C611.5,208.7 612.0,209.3 612.4,210.1 C612.8,210.8 613.0,211.8 613.4,212.7 C613.8,213.7 614.2,214.6 614.6,215.6 C615.1,216.6 615.7,216.9 616.1,218.9 C616.4,220.9 616.4,224.3 616.6,227.5 C616.8,230.7 617.3,235.4 617.4,238.2 C617.5,241.0 617.6,242.7 617.0,244.3 C616.4,245.9 615.8,247.4 613.8,248.0 C611.8,248.6 607.2,248.6 605.2,248.0 C603.2,247.4 602.6,245.9 602.0,244.3 C601.4,242.7 601.5,241.0 601.6,238.2 C601.7,235.4 602.2,230.7 602.4,227.5 C602.6,224.3 602.6,220.9 602.9,218.9 C603.3,216.9 603.9,216.6 604.4,215.6 C604.8,214.6 605.2,213.7 605.6,212.7 C606.0,211.8 606.2,210.8 606.6,210.1 C607.0,209.3 607.5,208.7 608.0,208.2 C608.4,207.7 609.0,207.0 609.5,207.0Z" fill="url(#mb)"/>
<ellipse cx="621.5" cy="218.1" rx="1.4" ry="0.7" fill="#a0a0a0" transform="rotate(-35 621.5 218.1)"/>
<ellipse cx="621.3" cy="246.8" rx="1.8" ry="0.8" fill="#a8a8a8" transform="rotate(30 621.3 246.8)"/>
<ellipse cx="634.7" cy="218.1" rx="1.4" ry="0.7" fill="#a0a0a0" transform="rotate(35 634.7 218.1)"/>
<ellipse cx="634.9" cy="246.8" rx="1.8" ry="0.8" fill="#a8a8a8" transform="rotate(-30 634.9 246.8)"/>
<path d="M628.1,207.0 C628.6,207.0 629.2,207.7 629.6,208.2 C630.1,208.7 630.6,209.3 631.0,210.1 C631.4,210.8 631.6,211.8 632.0,212.7 C632.4,213.7 632.8,214.6 633.2,215.6 C633.7,216.6 634.3,216.9 634.7,218.9 C635.0,220.9 635.0,224.3 635.2,227.5 C635.4,230.7 635.9,235.4 636.0,238.2 C636.1,241.0 636.2,242.7 635.6,244.3 C635.0,245.9 634.4,247.4 632.4,248.0 C630.4,248.6 625.8,248.6 623.8,248.0 C621.8,247.4 621.2,245.9 620.6,244.3 C620.0,242.7 620.1,241.0 620.2,238.2 C620.3,235.4 620.8,230.7 621.0,227.5 C621.2,224.3 621.2,220.9 621.5,218.9 C621.9,216.9 622.5,216.6 623.0,215.6 C623.4,214.6 623.8,213.7 624.2,212.7 C624.6,211.8 624.8,210.8 625.2,210.1 C625.6,209.3 626.1,208.7 626.6,208.2 C627.0,207.7 627.6,207.0 628.1,207.0Z" fill="url(#mb)"/>
<ellipse cx="547.1" cy="264.1" rx="1.4" ry="0.7" fill="#a0a0a0" transform="rotate(-35 547.1 264.1)"/>
<ellipse cx="546.9" cy="292.8" rx="1.8" ry="0.8" fill="#a8a8a8" transform="rotate(30 546.9 292.8)"/>
<ellipse cx="560.3" cy="264.1" rx="1.4" ry="0.7" fill="#a0a0a0" transform="rotate(35 560.3 264.1)"/>
<ellipse cx="560.5" cy="292.8" rx="1.8" ry="0.8" fill="#a8a8a8" transform="rotate(-30 560.5 292.8)"/>
<path d="M553.7,253.0 C554.2,253.0 554.8,253.7 555.2,254.2 C555.7,254.7 556.2,255.3 556.6,256.1 C557.0,256.8 557.2,257.8 557.6,258.7 C558.0,259.7 558.4,260.6 558.8,261.6 C559.3,262.6 559.9,262.9 560.3,264.9 C560.6,266.9 560.6,270.3 560.8,273.5 C561.0,276.7 561.5,281.4 561.6,284.2 C561.7,287.0 561.8,288.7 561.2,290.3 C560.6,291.9 560.0,293.4 558.0,294.0 C556.0,294.6 551.4,294.6 549.4,294.0 C547.4,293.4 546.8,291.9 546.2,290.3 C545.6,288.7 545.7,287.0 545.8,284.2 C545.9,281.4 546.4,276.7 546.6,273.5 C546.8,270.3 546.8,266.9 547.1,264.9 C547.5,262.9 548.1,262.6 548.6,261.6 C549.0,260.6 549.4,259.7 549.8,258.7 C550.2,257.8 550.4,256.8 550.8,256.1 C551.2,255.3 551.7,254.7 552.2,254.2 C552.6,253.7 553.2,253.0 553.7,253.0Z" fill="url(#mb)"/>
<ellipse cx="565.7" cy="264.1" rx="1.4" ry="0.7" fill="#a0a0a0" transform="rotate(-35 565.7 264.1)"/>
<ellipse cx="565.5" cy="292.8" rx="1.8" ry="0.8" fill="#a8a8a8" transform="rotate(30 565.5 292.8)"/>
<ellipse cx="578.9" cy="264.1" rx="1.4" ry="0.7" fill="#a0a0a0" transform="rotate(35 578.9 264.1)"/>
<ellipse cx="579.1" cy="292.8" rx="1.8" ry="0.8" fill="#a8a8a8" transform="rotate(-30 579.1 292.8)"/>
<path d="M572.3,253.0 C572.8,253.0 573.4,253.7 573.8,254.2 C574.3,254.7 574.8,255.3 575.2,256.1 C575.6,256.8 575.8,257.8 576.2,258.7 C576.6,259.7 577.0,260.6 577.4,261.6 C577.9,262.6 578.5,262.9 578.9,264.9 C579.2,266.9 579.2,270.3 579.4,273.5 C579.6,276.7 580.1,281.4 580.2,284.2 C580.3,287.0 580.4,288.7 579.8,290.3 C579.2,291.9 578.6,293.4 576.6,294.0 C574.6,294.6 570.0,294.6 568.0,294.0 C566.0,293.4 565.4,291.9 564.8,290.3 C564.2,288.7 564.3,287.0 564.4,284.2 C564.5,281.4 565.0,276.7 565.2,273.5 C565.4,270.3 565.4,266.9 565.7,264.9 C566.1,262.9 566.7,262.6 567.2,261.6 C567.6,260.6 568.0,259.7 568.4,258.7 C568.8,257.8 569.0,256.8 569.4,256.1 C569.8,255.3 570.3,254.7 570.8,254.2 C571.2,253.7 571.8,253.0 572.3,253.0Z" fill="url(#mb)"/>
<ellipse cx="584.3" cy="264.1" rx="1.4" ry="0.7" fill="#a0a0a0" transform="rotate(-35 584.3 264.1)"/>
<ellipse cx="584.1" cy="292.8" rx="1.8" ry="0.8" fill="#a8a8a8" transform="rotate(30 584.1 292.8)"/>
<ellipse cx="597.5" cy="264.1" rx="1.4" ry="0.7" fill="#a0a0a0" transform="rotate(35 597.5 264.1)"/>
<ellipse cx="597.7" cy="292.8" rx="1.8" ry="0.8" fill="#a8a8a8" transform="rotate(-30 597.7 292.8)"/>
<path d="M590.9,253.0 C591.4,253.0 592.0,253.7 592.4,254.2 C592.9,254.7 593.4,255.3 593.8,256.1 C594.2,256.8 594.4,257.8 594.8,258.7 C595.2,259.7 595.6,260.6 596.0,261.6 C596.5,262.6 597.1,262.9 597.5,264.9 C597.8,266.9 597.8,270.3 598.0,273.5 C598.2,276.7 598.7,281.4 598.8,284.2 C598.9,287.0 599.0,288.7 598.4,290.3 C597.8,291.9 597.2,293.4 595.2,294.0 C593.2,294.6 588.6,294.6 586.6,294.0 C584.6,293.4 584.0,291.9 583.4,290.3 C582.8,288.7 582.9,287.0 583.0,284.2 C583.1,281.4 583.6,276.7 583.8,273.5 C584.0,270.3 584.0,266.9 584.3,264.9 C584.7,262.9 585.3,262.6 585.8,261.6 C586.2,260.6 586.6,259.7 587.0,258.7 C587.4,257.8 587.6,256.8 588.0,256.1 C588.4,255.3 588.9,254.7 589.4,254.2 C589.8,253.7 590.4,253.0 590.9,253.0Z" fill="url(#mb)"/>
<ellipse cx="602.9" cy="264.1" rx="1.4" ry="0.7" fill="#a0a0a0" transform="rotate(-35 602.9 264.1)"/>
<ellipse cx="602.7" cy="292.8" rx="1.8" ry="0.8" fill="#a8a8a8" transform="rotate(30 602.7 292.8)"/>
<ellipse cx="616.1" cy="264.1" rx="1.4" ry="0.7" fill="#a0a0a0" transform="rotate(35 616.1 264.1)"/>
<ellipse cx="616.3" cy="292.8" rx="1.8" ry="0.8" fill="#a8a8a8" transform="rotate(-30 616.3 292.8)"/>
<path d="M609.5,253.0 C610.0,253.0 610.6,253.7 611.0,254.2 C611.5,254.7 612.0,255.3 612.4,256.1 C612.8,256.8 613.0,257.8 613.4,258.7 C613.8,259.7 614.2,260.6 614.6,261.6 C615.1,262.6 615.7,262.9 616.1,264.9 C616.4,266.9 616.4,270.3 616.6,273.5 C616.8,276.7 617.3,281.4 617.4,284.2 C617.5,287.0 617.6,288.7 617.0,290.3 C616.4,291.9 615.8,293.4 613.8,294.0 C611.8,294.6 607.2,294.6 605.2,294.0 C603.2,293.4 602.6,291.9 602.0,290.3 C601.4,288.7 601.5,287.0 601.6,284.2 C601.7,281.4 602.2,276.7 602.4,273.5 C602.6,270.3 602.6,266.9 602.9,264.9 C603.3,262.9 603.9,262.6 604.4,261.6 C604.8,260.6 605.2,259.7 605.6,258.7 C606.0,257.8 606.2,256.8 606.6,256.1 C607.0,255.3 607.5,254.7 608.0,254.2 C608.4,253.7 609.0,253.0 609.5,253.0Z" fill="url(#mb)"/>
<ellipse cx="621.5" cy="264.1" rx="1.4" ry="0.7" fill="#a0a0a0" transform="rotate(-35 621.5 264.1)"/>
<ellipse cx="621.3" cy="292.8" rx="1.8" ry="0.8" fill="#a8a8a8" transform="rotate(30 621.3 292.8)"/>
<ellipse cx="634.7" cy="264.1" rx="1.4" ry="0.7" fill="#a0a0a0" transform="rotate(35 634.7 264.1)"/>
<ellipse cx="634.9" cy="292.8" rx="1.8" ry="0.8" fill="#a8a8a8" transform="rotate(-30 634.9 292.8)"/>
<path d="M628.1,253.0 C628.6,253.0 629.2,253.7 629.6,254.2 C630.1,254.7 630.6,255.3 631.0,256.1 C631.4,256.8 631.6,257.8 632.0,258.7 C632.4,259.7 632.8,260.6 633.2,261.6 C633.7,262.6 634.3,262.9 634.7,264.9 C635.0,266.9 635.0,270.3 635.2,273.5 C635.4,276.7 635.9,281.4 636.0,284.2 C636.1,287.0 636.2,288.7 635.6,290.3 C635.0,291.9 634.4,293.4 632.4,294.0 C630.4,294.6 625.8,294.6 623.8,294.0 C621.8,293.4 621.2,291.9 620.6,290.3 C620.0,288.7 620.1,287.0 620.2,284.2 C620.3,281.4 620.8,276.7 621.0,273.5 C621.2,270.3 621.2,266.9 621.5,264.9 C621.9,262.9 622.5,262.6 623.0,261.6 C623.4,260.6 623.8,259.7 624.2,258.7 C624.6,257.8 624.8,256.8 625.2,256.1 C625.6,255.3 626.1,254.7 626.6,254.2 C627.0,253.7 627.6,253.0 628.1,253.0Z" fill="url(#mb)"/>
<ellipse cx="547.1" cy="310.1" rx="1.4" ry="0.7" fill="#a0a0a0" transform="rotate(-35 547.1 310.1)"/>
<ellipse cx="546.9" cy="338.8" rx="1.8" ry="0.8" fill="#a8a8a8" transform="rotate(30 546.9 338.8)"/>
<ellipse cx="560.3" cy="310.1" rx="1.4" ry="0.7" fill="#a0a0a0" transform="rotate(35 560.3 310.1)"/>
<ellipse cx="560.5" cy="338.8" rx="1.8" ry="0.8" fill="#a8a8a8" transform="rotate(-30 560.5 338.8)"/>
<path d="M553.7,299.0 C554.2,299.0 554.8,299.7 555.2,300.2 C555.7,300.7 556.2,301.3 556.6,302.1 C557.0,302.8 557.2,303.8 557.6,304.7 C558.0,305.7 558.4,306.6 558.8,307.6 C559.3,308.6 559.9,308.9 560.3,310.9 C560.6,312.9 560.6,316.3 560.8,319.5 C561.0,322.7 561.5,327.4 561.6,330.2 C561.7,333.0 561.8,334.7 561.2,336.3 C560.6,337.9 560.0,339.4 558.0,340.0 C556.0,340.6 551.4,340.6 549.4,340.0 C547.4,339.4 546.8,337.9 546.2,336.3 C545.6,334.7 545.7,333.0 545.8,330.2 C545.9,327.4 546.4,322.7 546.6,319.5 C546.8,316.3 546.8,312.9 547.1,310.9 C547.5,308.9 548.1,308.6 548.6,307.6 C549.0,306.6 549.4,305.7 549.8,304.7 C550.2,303.8 550.4,302.8 550.8,302.1 C551.2,301.3 551.7,300.7 552.2,300.2 C552.6,299.7 553.2,299.0 553.7,299.0Z" fill="url(#mb)"/>
<ellipse cx="565.7" cy="310.1" rx="1.4" ry="0.7" fill="#a0a0a0" transform="rotate(-35 565.7 310.1)"/>
<ellipse cx="565.5" cy="338.8" rx="1.8" ry="0.8" fill="#a8a8a8" transform="rotate(30 565.5 338.8)"/>
<ellipse cx="578.9" cy="310.1" rx="1.4" ry="0.7" fill="#a0a0a0" transform="rotate(35 578.9 310.1)"/>
<ellipse cx="579.1" cy="338.8" rx="1.8" ry="0.8" fill="#a8a8a8" transform="rotate(-30 579.1 338.8)"/>
<path d="M572.3,299.0 C572.8,299.0 573.4,299.7 573.8,300.2 C574.3,300.7 574.8,301.3 575.2,302.1 C575.6,302.8 575.8,303.8 576.2,304.7 C576.6,305.7 577.0,306.6 577.4,307.6 C577.9,308.6 578.5,308.9 578.9,310.9 C579.2,312.9 579.2,316.3 579.4,319.5 C579.6,322.7 580.1,327.4 580.2,330.2 C580.3,333.0 580.4,334.7 579.8,336.3 C579.2,337.9 578.6,339.4 576.6,340.0 C574.6,340.6 570.0,340.6 568.0,340.0 C566.0,339.4 565.4,337.9 564.8,336.3 C564.2,334.7 564.3,333.0 564.4,330.2 C564.5,327.4 565.0,322.7 565.2,319.5 C565.4,316.3 565.4,312.9 565.7,310.9 C566.1,308.9 566.7,308.6 567.2,307.6 C567.6,306.6 568.0,305.7 568.4,304.7 C568.8,303.8 569.0,302.8 569.4,302.1 C569.8,301.3 570.3,300.7 570.8,300.2 C571.2,299.7 571.8,299.0 572.3,299.0Z" fill="url(#mb)"/>
<ellipse cx="584.3" cy="310.1" rx="1.4" ry="0.7" fill="#a0a0a0" transform="rotate(-35 584.3 310.1)"/>
<ellipse cx="584.1" cy="338.8" rx="1.8" ry="0.8" fill="#a8a8a8" transform="rotate(30 584.1 338.8)"/>
<ellipse cx="597.5" cy="310.1" rx="1.4" ry="0.7" fill="#a0a0a0" transform="rotate(35 597.5 310.1)"/>
<ellipse cx="597.7" cy="338.8" rx="1.8" ry="0.8" fill="#a8a8a8" transform="rotate(-30 597.7 338.8)"/>
<path d="M590.9,299.0 C591.4,299.0 592.0,299.7 592.4,300.2 C592.9,300.7 593.4,301.3 593.8,302.1 C594.2,302.8 594.4,303.8 594.8,304.7 C595.2,305.7 595.6,306.6 596.0,307.6 C596.5,308.6 597.1,308.9 597.5,310.9 C597.8,312.9 597.8,316.3 598.0,319.5 C598.2,322.7 598.7,327.4 598.8,330.2 C598.9,333.0 599.0,334.7 598.4,336.3 C597.8,337.9 597.2,339.4 595.2,340.0 C593.2,340.6 588.6,340.6 586.6,340.0 C584.6,339.4 584.0,337.9 583.4,336.3 C582.8,334.7 582.9,333.0 583.0,330.2 C583.1,327.4 583.6,322.7 583.8,319.5 C584.0,316.3 584.0,312.9 584.3,310.9 C584.7,308.9 585.3,308.6 585.8,307.6 C586.2,306.6 586.6,305.7 587.0,304.7 C587.4,303.8 587.6,302.8 588.0,302.1 C588.4,301.3 588.9,300.7 589.4,300.2 C589.8,299.7 590.4,299.0 590.9,299.0Z" fill="url(#mb)"/>
<ellipse cx="602.9" cy="310.1" rx="1.4" ry="0.7" fill="#a0a0a0" transform="rotate(-35 602.9 310.1)"/>
<ellipse cx="602.7" cy="338.8" rx="1.8" ry="0.8" fill="#a8a8a8" transform="rotate(30 602.7 338.8)"/>
<ellipse cx="616.1" cy="310.1" rx="1.4" ry="0.7" fill="#a0a0a0" transform="rotate(35 616.1 310.1)"/>
<ellipse cx="616.3" cy="338.8" rx="1.8" ry="0.8" fill="#a8a8a8" transform="rotate(-30 616.3 338.8)"/>
<path d="M609.5,299.0 C610.0,299.0 610.6,299.7 611.0,300.2 C611.5,300.7 612.0,301.3 612.4,302.1 C612.8,302.8 613.0,303.8 613.4,304.7 C613.8,305.7 614.2,306.6 614.6,307.6 C615.1,308.6 615.7,308.9 616.1,310.9 C616.4,312.9 616.4,316.3 616.6,319.5 C616.8,322.7 617.3,327.4 617.4,330.2 C617.5,333.0 617.6,334.7 617.0,336.3 C616.4,337.9 615.8,339.4 613.8,340.0 C611.8,340.6 607.2,340.6 605.2,340.0 C603.2,339.4 602.6,337.9 602.0,336.3 C601.4,334.7 601.5,333.0 601.6,330.2 C601.7,327.4 602.2,322.7 602.4,319.5 C602.6,316.3 602.6,312.9 602.9,310.9 C603.3,308.9 603.9,308.6 604.4,307.6 C604.8,306.6 605.2,305.7 605.6,304.7 C606.0,303.8 606.2,302.8 606.6,302.1 C607.0,301.3 607.5,300.7 608.0,300.2 C608.4,299.7 609.0,299.0 609.5,299.0Z" fill="url(#mb)"/>
<ellipse cx="621.5" cy="310.1" rx="1.4" ry="0.7" fill="#a0a0a0" transform="rotate(-35 621.5 310.1)"/>
<ellipse cx="621.3" cy="338.8" rx="1.8" ry="0.8" fill="#a8a8a8" transform="rotate(30 621.3 338.8)"/>
<ellipse cx="634.7" cy="310.1" rx="1.4" ry="0.7" fill="#a0a0a0" transform="rotate(35 634.7 310.1)"/>
<ellipse cx="634.9" cy="338.8" rx="1.8" ry="0.8" fill="#a8a8a8" transform="rotate(-30 634.9 338.8)"/>
<path d="M628.1,299.0 C628.6,299.0 629.2,299.7 629.6,300.2 C630.1,300.7 630.6,301.3 631.0,302.1 C631.4,302.8 631.6,303.8 632.0,304.7 C632.4,305.7 632.8,306.6 633.2,307.6 C633.7,308.6 634.3,308.9 634.7,310.9 C635.0,312.9 635.0,316.3 635.2,319.5 C635.4,322.7 635.9,327.4 636.0,330.2 C636.1,333.0 636.2,334.7 635.6,336.3 C635.0,337.9 634.4,339.4 632.4,340.0 C630.4,340.6 625.8,340.6 623.8,340.0 C621.8,339.4 621.2,337.9 620.6,336.3 C620.0,334.7 620.1,333.0 620.2,330.2 C620.3,327.4 620.8,322.7 621.0,319.5 C621.2,316.3 621.2,312.9 621.5,310.9 C621.9,308.9 622.5,308.6 623.0,307.6 C623.4,306.6 623.8,305.7 624.2,304.7 C624.6,303.8 624.8,302.8 625.2,302.1 C625.6,301.3 626.1,300.7 626.6,300.2 C627.0,299.7 627.6,299.0 628.1,299.0Z" fill="url(#mb)"/>
</g>
<path d="M552.50,58.50 L554.90,58.50 L554.30,67.00 L553.10,67.00Z" fill="#8a8a8a"/>
<path d="M549.70,58.00 L545.50,60.50 M557.70,58.00 L561.90,60.50" stroke="#9a9a9a" stroke-width="0.8"/>
<path d="M571.10,58.50 L573.50,58.50 L572.90,67.00 L571.70,67.00Z" fill="#8a8a8a"/>
<path d="M568.30,58.00 L564.10,60.50 M576.30,58.00 L580.50,60.50" stroke="#9a9a9a" stroke-width="0.8"/>
<path d="M589.70,58.50 L592.10,58.50 L591.50,67.00 L590.30,67.00Z" fill="#8a8a8a"/>
<path d="M586.90,58.00 L582.70,60.50 M594.90,58.00 L599.10,60.50" stroke="#9a9a9a" stroke-width="0.8"/>
<path d="M608.30,58.50 L610.70,58.50 L610.10,67.00 L608.90,67.00Z" fill="#8a8a8a"/>
<path d="M605.50,58.00 L601.30,60.50 M613.50,58.00 L617.70,60.50" stroke="#9a9a9a" stroke-width="0.8"/>
<path d="M626.90,58.50 L629.30,58.50 L628.70,67.00 L627.50,67.00Z" fill="#8a8a8a"/>
<path d="M624.10,58.00 L619.90,60.50 M632.10,58.00 L636.30,60.50" stroke="#9a9a9a" stroke-width="0.8"/>
<path d="M552.50,103.00 L554.90,103.00 L554.30,113.00 L553.10,113.00Z" fill="#8a8a8a"/>
<path d="M549.70,102.50 L545.50,105.00 M557.70,102.50 L561.90,105.00" stroke="#9a9a9a" stroke-width="0.8"/>
<path d="M571.10,103.00 L573.50,103.00 L572.90,113.00 L571.70,113.00Z" fill="#8a8a8a"/>
<path d="M568.30,102.50 L564.10,105.00 M576.30,102.50 L580.50,105.00" stroke="#9a9a9a" stroke-width="0.8"/>
<path d="M589.70,103.00 L592.10,103.00 L591.50,113.00 L590.30,113.00Z" fill="#8a8a8a"/>
<path d="M586.90,102.50 L582.70,105.00 M594.90,102.50 L599.10,105.00" stroke="#9a9a9a" stroke-width="0.8"/>
<path d="M608.30,103.00 L610.70,103.00 L610.10,113.00 L608.90,113.00Z" fill="#8a8a8a"/>
<path d="M605.50,102.50 L601.30,105.00 M613.50,102.50 L617.70,105.00" stroke="#9a9a9a" stroke-width="0.8"/>
<path d="M626.90,103.00 L629.30,103.00 L628.70,113.00 L627.50,113.00Z" fill="#8a8a8a"/>
<path d="M624.10,102.50 L619.90,105.00 M632.10,102.50 L636.30,105.00" stroke="#9a9a9a" stroke-width="0.8"/>
<path d="M552.50,149.50 L554.90,149.50 L554.30,159.00 L553.10,159.00Z" fill="#8a8a8a"/>
<path d="M549.70,149.00 L545.50,151.50 M557.70,149.00 L561.90,151.50" stroke="#9a9a9a" stroke-width="0.8"/>
<path d="M571.10,149.50 L573.50,149.50 L572.90,159.00 L571.70,159.00Z" fill="#8a8a8a"/>
<path d="M568.30,149.00 L564.10,151.50 M576.30,149.00 L580.50,151.50" stroke="#9a9a9a" stroke-width="0.8"/>
<path d="M589.70,149.50 L592.10,149.50 L591.50,159.00 L590.30,159.00Z" fill="#8a8a8a"/>
<path d="M586.90,149.00 L582.70,151.50 M594.90,149.00 L599.10,151.50" stroke="#9a9a9a" stroke-width="0.8"/>
<path d="M608.30,149.50 L610.70,149.50 L610.10,159.00 L608.90,159.00Z" fill="#8a8a8a"/>
<path d="M605.50,149.00 L601.30,151.50 M613.50,149.00 L617.70,151.50" stroke="#9a9a9a" stroke-width="0.8"/>
<path d="M626.90,149.50 L629.30,149.50 L628.70,159.00 L627.50,159.00Z" fill="#8a8a8a"/>
<path d="M624.10,149.00 L619.90,151.50 M632.10,149.00 L636.30,151.50" stroke="#9a9a9a" stroke-width="0.8"/>
<path d="M552.50,196.50 L554.90,196.50 L554.30,205.00 L553.10,205.00Z" fill="#8a8a8a"/>
<path d="M549.70,196.00 L545.50,198.50 M557.70,196.00 L561.90,198.50" stroke="#9a9a9a" stroke-width="0.8"/>
<path d="M571.10,196.50 L573.50,196.50 L572.90,205.00 L571.70,205.00Z" fill="#8a8a8a"/>
<path d="M568.30,196.00 L564.10,198.50 M576.30,196.00 L580.50,198.50" stroke="#9a9a9a" stroke-width="0.8"/>
<path d="M589.70,196.50 L592.10,196.50 L591.50,205.00 L590.30,205.00Z" fill="#8a8a8a"/>
<path d="M586.90,196.00 L582.70,198.50 M594.90,196.00 L599.10,198.50" stroke="#9a9a9a" stroke-width="0.8"/>
<path d="M608.30,196.50 L610.70,196.50 L610.10,205.00 L608.90,205.00Z" fill="#8a8a8a"/>
<path d="M605.50,196.00 L601.30,198.50 M613.50,196.00 L617.70,198.50" stroke="#9a9a9a" stroke-width="0.8"/>
<path d="M626.90,196.50 L629.30,196.50 L628.70,205.00 L627.50,205.00Z" fill="#8a8a8a"/>
<path d="M624.10,196.00 L619.90,198.50 M632.10,196.00 L636.30,198.50" stroke="#9a9a9a" stroke-width="0.8"/>
<path d="M552.50,247.50 L554.90,247.50 L554.30,251.00 L553.10,251.00Z" fill="#8a8a8a"/>
<path d="M549.70,247.00 L545.50,249.50 M557.70,247.00 L561.90,249.50" stroke="#9a9a9a" stroke-width="0.8"/>
<path d="M571.10,247.50 L573.50,247.50 L572.90,251.00 L571.70,251.00Z" fill="#8a8a8a"/>
<path d="M568.30,247.00 L564.10,249.50 M576.30,247.00 L580.50,249.50" stroke="#9a9a9a" stroke-width="0.8"/>
<path d="M589.70,247.50 L592.10,247.50 L591.50,251.00 L590.30,251.00Z" fill="#8a8a8a"/>
<path d="M586.90,247.00 L582.70,249.50 M594.90,247.00 L599.10,249.50" stroke="#9a9a9a" stroke-width="0.8"/>
<path d="M608.30,247.50 L610.70,247.50 L610.10,251.00 L608.90,251.00Z" fill="#8a8a8a"/>
<path d="M605.50,247.00 L601.30,249.50 M613.50,247.00 L617.70,249.50" stroke="#9a9a9a" stroke-width="0.8"/>
<path d="M626.90,247.50 L629.30,247.50 L628.70,251.00 L627.50,251.00Z" fill="#8a8a8a"/>
<path d="M624.10,247.00 L619.90,249.50 M632.10,247.00 L636.30,249.50" stroke="#9a9a9a" stroke-width="0.8"/>
<path d="M552.50,293.50 L554.90,293.50 L554.30,297.00 L553.10,297.00Z" fill="#8a8a8a"/>
<path d="M549.70,293.00 L545.50,295.50 M557.70,293.00 L561.90,295.50" stroke="#9a9a9a" stroke-width="0.8"/>
<path d="M571.10,293.50 L573.50,293.50 L572.90,297.00 L571.70,297.00Z" fill="#8a8a8a"/>
<path d="M568.30,293.00 L564.10,295.50 M576.30,293.00 L580.50,295.50" stroke="#9a9a9a" stroke-width="0.8"/>
<path d="M589.70,293.50 L592.10,293.50 L591.50,297.00 L590.30,297.00Z" fill="#8a8a8a"/>
<path d="M586.90,293.00 L582.70,295.50 M594.90,293.00 L599.10,295.50" stroke="#9a9a9a" stroke-width="0.8"/>
<path d="M608.30,293.50 L610.70,293.50 L610.10,297.00 L608.90,297.00Z" fill="#8a8a8a"/>
<path d="M605.50,293.00 L601.30,295.50 M613.50,293.00 L617.70,295.50" stroke="#9a9a9a" stroke-width="0.8"/>
<path d="M626.90,293.50 L629.30,293.50 L628.70,297.00 L627.50,297.00Z" fill="#8a8a8a"/>
<path d="M624.10,293.00 L619.90,295.50 M632.10,293.00 L636.30,295.50" stroke="#9a9a9a" stroke-width="0.8"/>
<path d="M552.50,339.50 L554.90,339.50 L554.30,343.00 L553.10,343.00Z" fill="#8a8a8a"/>
<path d="M549.70,339.00 L545.50,341.50 M557.70,339.00 L561.90,341.50" stroke="#9a9a9a" stroke-width="0.8"/>
<path d="M571.10,339.50 L573.50,339.50 L572.90,343.00 L571.70,343.00Z" fill="#8a8a8a"/>
<path d="M568.30,339.00 L564.10,341.50 M576.30,339.00 L580.50,341.50" stroke="#9a9a9a" stroke-width="0.8"/>
<path d="M589.70,339.50 L592.10,339.50 L591.50,343.00 L590.30,343.00Z" fill="#8a8a8a"/>
<path d="M586.90,339.00 L582.70,341.50 M594.90,339.00 L599.10,341.50" stroke="#9a9a9a" stroke-width="0.8"/>
<path d="M608.30,339.50 L610.70,339.50 L610.10,343.00 L608.90,343.00Z" fill="#8a8a8a"/>
<path d="M605.50,339.00 L601.30,341.50 M613.50,339.00 L617.70,341.50" stroke="#9a9a9a" stroke-width="0.8"/>
<path d="M626.90,339.50 L629.30,339.50 L628.70,343.00 L627.50,343.00Z" fill="#8a8a8a"/>
<path d="M624.10,339.00 L619.90,341.50 M632.10,339.00 L636.30,341.50" stroke="#9a9a9a" stroke-width="0.8"/>
<ellipse cx="361.76" cy="39.40" rx="8.33" ry="5.00" fill="url(#hb)"/>
<ellipse cx="358.06" cy="39.40" rx="4.20" ry="4.60" fill="url(#h2)"/>
<ellipse cx="365.46" cy="39.40" rx="4.20" ry="4.60" fill="url(#hc3)"/>
<ellipse cx="360.76" cy="58.00" rx="2.50" ry="2.50" fill="url(#h2)"/>
<path d="M358.86,59.90 C358.86,57.52 364.66,57.52 364.66,59.90 C364.66,62.75 362.56,65.60 361.76,67.50 C360.96,65.60 358.86,62.75 358.86,59.90Z" fill="url(#ht3)"/>
<ellipse cx="380.28" cy="39.40" rx="8.33" ry="5.00" fill="url(#hb)"/>
<ellipse cx="376.58" cy="39.40" rx="4.20" ry="4.60" fill="url(#hc5)"/>
<ellipse cx="383.98" cy="39.40" rx="4.20" ry="4.60" fill="url(#hc4)"/>
<ellipse cx="380.28" cy="59.00" rx="6.50" ry="3.60" fill="url(#h2)"/>
<path d="M377.38,59.90 C377.38,57.52 383.18,57.52 383.18,59.90 C383.18,62.75 381.08,65.60 380.28,67.50 C379.48,65.60 377.38,62.75 377.38,59.90Z" fill="url(#ht4)"/>
<ellipse cx="398.80" cy="39.40" rx="8.33" ry="5.00" fill="url(#hb)"/>
<ellipse cx="395.10" cy="39.40" rx="4.20" ry="4.60" fill="url(#hc4)"/>
<ellipse cx="402.50" cy="39.40" rx="4.20" ry="4.60" fill="url(#h2)"/>
<path d="M395.90,59.90 C395.90,57.52 401.70,57.52 401.70,59.90 C401.70,62.75 399.60,65.60 398.80,67.50 C398.00,65.60 395.90,62.75 395.90,59.90Z" fill="url(#ht4)"/>
<ellipse cx="417.32" cy="39.40" rx="8.33" ry="5.00" fill="url(#hb)"/>
<ellipse cx="413.62" cy="39.40" rx="4.20" ry="4.60" fill="url(#hc5)"/>
<ellipse cx="421.02" cy="39.40" rx="4.20" ry="4.60" fill="url(#hc5)"/>
<path d="M414.42,59.90 C414.42,57.52 420.22,57.52 420.22,59.90 C420.22,62.75 418.12,65.60 417.32,67.50 C416.52,65.60 414.42,62.75 414.42,59.90Z" fill="url(#ht4)"/>
<ellipse cx="435.84" cy="39.40" rx="8.33" ry="5.00" fill="url(#hb)"/>
<ellipse cx="432.14" cy="39.40" rx="4.20" ry="4.60" fill="url(#h2)"/>
<ellipse cx="439.54" cy="39.40" rx="4.20" ry="4.60" fill="url(#hc4)"/>
<ellipse cx="435.84" cy="62.80" rx="2.30" ry="3.20" fill="url(#h2)"/>
<ellipse cx="361.76" cy="84.60" rx="8.33" ry="7.00" fill="url(#hb)"/>
<ellipse cx="358.06" cy="84.60" rx="4.20" ry="4.60" fill="url(#hc3)"/>
<ellipse cx="365.46" cy="84.60" rx="4.20" ry="4.60" fill="url(#hc3)"/>
<ellipse cx="361.76" cy="100.50" rx="7.20" ry="4.60" fill="url(#h1)"/>
<path d="M358.86,104.60 C358.86,101.97 364.66,101.97 364.66,104.60 C364.66,107.75 362.56,110.90 361.76,113.00 C360.96,110.90 358.86,107.75 358.86,104.60Z" fill="url(#ht5)"/>
<ellipse cx="380.28" cy="84.60" rx="8.33" ry="7.00" fill="url(#hb)"/>
<ellipse cx="376.58" cy="84.60" rx="4.20" ry="4.60" fill="url(#hc4)"/>
<ellipse cx="383.98" cy="84.60" rx="4.20" ry="4.60" fill="url(#hc4)"/>
<ellipse cx="380.28" cy="100.50" rx="7.20" ry="4.60" fill="url(#h1)"/>
<path d="M377.38,104.60 C377.38,101.97 383.18,101.97 383.18,104.60 C383.18,107.75 381.08,110.90 380.28,113.00 C379.48,110.90 377.38,107.75 377.38,104.60Z" fill="url(#ht5)"/>
<ellipse cx="398.80" cy="84.60" rx="8.33" ry="7.00" fill="url(#hb)"/>
<ellipse cx="395.10" cy="84.60" rx="4.20" ry="4.60" fill="url(#hc3)"/>
<ellipse cx="402.50" cy="84.60" rx="4.20" ry="4.60" fill="url(#hc5)"/>
<ellipse cx="401.30" cy="89.00" rx="1.80" ry="1.80" fill="url(#h4)"/>
<ellipse cx="398.80" cy="100.50" rx="7.20" ry="4.60" fill="url(#h1)"/>
<path d="M395.90,104.60 C395.90,101.97 401.70,101.97 401.70,104.60 C401.70,107.75 399.60,110.90 398.80,113.00 C398.00,110.90 395.90,107.75 395.90,104.60Z" fill="url(#ht5)"/>
<ellipse cx="417.32" cy="84.60" rx="8.33" ry="7.00" fill="url(#hb)"/>
<ellipse cx="413.62" cy="84.60" rx="4.00" ry="4.50" fill="url(#hc5)"/>
<ellipse cx="421.02" cy="84.60" rx="4.00" ry="4.50" fill="url(#hc5)"/>
<ellipse cx="417.32" cy="100.50" rx="7.20" ry="4.60" fill="url(#h1)"/>
<path d="M414.42,104.60 C414.42,101.97 420.22,101.97 420.22,104.60 C420.22,107.75 418.12,110.90 417.32,113.00 C416.52,110.90 414.42,107.75 414.42,104.60Z" fill="url(#ht5)"/>
<ellipse cx="435.84" cy="84.60" rx="8.33" ry="7.00" fill="url(#hb)"/>
<ellipse cx="432.14" cy="84.60" rx="4.20" ry="4.60" fill="url(#hc4)"/>
<ellipse cx="439.54" cy="84.60" rx="4.20" ry="4.60" fill="url(#hc4)"/>
<ellipse cx="435.84" cy="100.50" rx="7.20" ry="4.60" fill="url(#h1)"/>
<path d="M432.94,104.60 C432.94,101.97 438.74,101.97 438.74,104.60 C438.74,107.75 436.64,110.90 435.84,113.00 C435.04,110.90 432.94,107.75 432.94,104.60Z" fill="url(#ht5)"/>
<ellipse cx="361.76" cy="130.50" rx="8.33" ry="7.20" fill="url(#hb)"/>
<ellipse cx="358.06" cy="130.50" rx="3.80" ry="4.20" fill="url(#hc4)"/>
<ellipse cx="365.46" cy="130.50" rx="3.80" ry="4.20" fill="url(#hc4)"/>
<ellipse cx="361.76" cy="147.00" rx="7.40" ry="4.50" fill="url(#hb)"/>
<path d="M354.26,148.00 C354.26,144.25 369.26,144.25 369.26,148.00 C369.26,152.50 362.56,157.00 361.76,160.00 C360.96,157.00 354.26,152.50 354.26,148.00Z" fill="url(#ht5)"/>
<ellipse cx="380.28" cy="130.50" rx="8.30" ry="7.00" fill="url(#hb)"/>
<ellipse cx="378.78" cy="130.00" rx="5.50" ry="5.20" fill="url(#hc5)"/>
<ellipse cx="384.28" cy="131.00" rx="2.80" ry="3.00" fill="url(#hc5)"/>
<ellipse cx="380.28" cy="147.00" rx="7.60" ry="4.50" fill="url(#hb)"/>
<path d="M372.53,147.20 C372.53,143.20 388.03,143.20 388.03,147.20 C388.03,152.00 381.08,156.80 380.28,160.00 C379.48,156.80 372.53,152.00 372.53,147.20Z" fill="url(#ht5)"/>
<ellipse cx="398.80" cy="130.50" rx="8.33" ry="7.20" fill="url(#hb)"/>
<ellipse cx="395.10" cy="130.50" rx="4.20" ry="4.60" fill="url(#hc5)"/>
<ellipse cx="402.50" cy="130.50" rx="4.20" ry="4.60" fill="url(#hc5)"/>
<ellipse cx="398.80" cy="147.00" rx="7.40" ry="4.50" fill="url(#hb)"/>
<path d="M391.80,148.00 C391.80,144.25 405.80,144.25 405.80,148.00 C405.80,152.50 399.60,157.00 398.80,160.00 C398.00,157.00 391.80,152.50 391.80,148.00Z" fill="url(#ht5)"/>
<ellipse cx="417.32" cy="130.50" rx="8.20" ry="7.00" fill="url(#hb)"/>
<ellipse cx="417.32" cy="130.50" rx="7.20" ry="5.60" fill="url(#hc5)"/>
<ellipse cx="417.32" cy="148.00" rx="6.80" ry="4.00" fill="url(#h1)"/>
<path d="M413.32,152.00 C413.32,149.50 421.32,149.50 421.32,152.00 C421.32,155.00 418.12,158.00 417.32,160.00 C416.52,158.00 413.32,155.00 413.32,152.00Z" fill="url(#ht5)"/>
<ellipse cx="435.84" cy="130.50" rx="8.33" ry="7.20" fill="url(#hb)"/>
<ellipse cx="432.14" cy="130.50" rx="3.80" ry="4.30" fill="url(#hc5)"/>
<ellipse cx="439.54" cy="130.50" rx="3.80" ry="4.30" fill="url(#hc4)"/>
<ellipse cx="435.84" cy="148.00" rx="7.00" ry="5.00" fill="url(#h2)"/>
<path d="M431.34,151.20 C431.34,148.45 440.34,148.45 440.34,151.20 C440.34,154.50 436.64,157.80 435.84,160.00 C435.04,157.80 431.34,154.50 431.34,151.20Z" fill="url(#ht5)"/>
<ellipse cx="435.80" cy="178.00" rx="8.30" ry="5.20" fill="url(#hb)"/>
<ellipse cx="435.80" cy="178.00" rx="7.00" ry="3.80" fill="url(#hc5)"/>
<ellipse cx="435.80" cy="192.00" rx="7.50" ry="4.50" fill="url(#hb)"/>
<path d="M428.30,192.10 C428.30,188.22 443.30,188.22 443.30,192.10 C443.30,196.75 436.60,201.40 435.80,204.50 C435.00,201.40 428.30,196.75 428.30,192.10Z" fill="url(#ht5)"/>
<ellipse cx="457.66" cy="39.40" rx="8.33" ry="5.00" fill="url(#hb)"/>
<ellipse cx="453.96" cy="39.40" rx="4.20" ry="4.60" fill="url(#hc4)"/>
<ellipse cx="461.36" cy="39.40" rx="4.20" ry="4.60" fill="url(#hc5)"/>
<path d="M454.76,59.90 C454.76,57.52 460.56,57.52 460.56,59.90 C460.56,62.75 458.46,65.60 457.66,67.50 C456.86,65.60 454.76,62.75 454.76,59.90Z" fill="url(#ht4)"/>
<ellipse cx="476.18" cy="39.40" rx="8.33" ry="5.00" fill="url(#hb)"/>
<ellipse cx="472.48" cy="39.40" rx="4.20" ry="4.60" fill="url(#hc4)"/>
<ellipse cx="479.88" cy="39.40" rx="4.20" ry="4.60" fill="url(#h2)"/>
<path d="M473.28,59.90 C473.28,57.52 479.08,57.52 479.08,59.90 C479.08,62.75 476.98,65.60 476.18,67.50 C475.38,65.60 473.28,62.75 473.28,59.90Z" fill="url(#ht5)"/>
<ellipse cx="494.70" cy="39.40" rx="8.33" ry="5.00" fill="url(#hb)"/>
<ellipse cx="491.00" cy="39.40" rx="4.20" ry="4.60" fill="url(#hc4)"/>
<ellipse cx="498.40" cy="39.40" rx="4.20" ry="4.60" fill="url(#hc5)"/>
<ellipse cx="494.70" cy="56.00" rx="7.20" ry="4.60" fill="url(#h1)"/>
<path d="M491.80,59.90 C491.80,57.52 497.60,57.52 497.60,59.90 C497.60,62.75 495.50,65.60 494.70,67.50 C493.90,65.60 491.80,62.75 491.80,59.90Z" fill="url(#ht5)"/>
<ellipse cx="513.22" cy="39.40" rx="8.33" ry="5.00" fill="url(#hb)"/>
<ellipse cx="509.52" cy="39.40" rx="4.20" ry="4.60" fill="url(#hc3)"/>
<ellipse cx="516.92" cy="39.40" rx="4.20" ry="4.60" fill="url(#h2)"/>
<ellipse cx="513.22" cy="56.00" rx="7.20" ry="4.60" fill="url(#h1)"/>
<path d="M510.32,59.90 C510.32,57.52 516.12,57.52 516.12,59.90 C516.12,62.75 514.02,65.60 513.22,67.50 C512.42,65.60 510.32,62.75 510.32,59.90Z" fill="url(#ht5)"/>
<ellipse cx="531.74" cy="39.40" rx="8.33" ry="5.50" fill="url(#hb)"/>
<ellipse cx="528.04" cy="39.40" rx="3.80" ry="4.50" fill="url(#hc5)"/>
<ellipse cx="535.44" cy="39.40" rx="3.80" ry="4.50" fill="url(#hc4)"/>
<ellipse cx="531.74" cy="56.00" rx="7.20" ry="4.60" fill="url(#h2)"/>
<path d="M528.84,59.90 C528.84,57.52 534.64,57.52 534.64,59.90 C534.64,62.75 532.54,65.60 531.74,67.50 C530.94,65.60 528.84,62.75 528.84,59.90Z" fill="url(#ht5)"/>
<ellipse cx="457.66" cy="100.50" rx="7.20" ry="4.60" fill="url(#h1)"/>
<path d="M454.76,104.60 C454.76,101.97 460.56,101.97 460.56,104.60 C460.56,107.75 458.46,110.90 457.66,113.00 C456.86,110.90 454.76,107.75 454.76,104.60Z" fill="url(#ht3)"/>
<ellipse cx="476.18" cy="100.50" rx="7.20" ry="4.60" fill="url(#h1)"/>
<path d="M473.28,104.60 C473.28,101.97 479.08,101.97 479.08,104.60 C479.08,107.75 476.98,110.90 476.18,113.00 C475.38,110.90 473.28,107.75 473.28,104.60Z" fill="url(#ht4)"/>
<ellipse cx="494.70" cy="100.50" rx="7.20" ry="4.60" fill="url(#h1)"/>
<path d="M491.80,104.60 C491.80,101.97 497.60,101.97 497.60,104.60 C497.60,107.75 495.50,110.90 494.70,113.00 C493.90,110.90 491.80,107.75 491.80,104.60Z" fill="url(#ht5)"/>
<ellipse cx="513.22" cy="100.50" rx="7.20" ry="4.60" fill="url(#h1)"/>
<path d="M510.32,104.60 C510.32,101.97 516.12,101.97 516.12,104.60 C516.12,107.75 514.02,110.90 513.22,113.00 C512.42,110.90 510.32,107.75 510.32,104.60Z" fill="url(#ht3)"/>
<ellipse cx="531.74" cy="100.50" rx="7.20" ry="4.60" fill="url(#h2)"/>
<path d="M528.84,104.60 C528.84,101.97 534.64,101.97 534.64,104.60 C534.64,107.75 532.54,110.90 531.74,113.00 C530.94,110.90 528.84,107.75 528.84,104.60Z" fill="url(#ht5)"/>
<ellipse cx="534.74" cy="90.00" rx="1.00" ry="1.00" fill="url(#h1)"/>
<ellipse cx="457.66" cy="153.80" rx="2.30" ry="3.20" fill="url(#h2)"/>
<ellipse cx="476.18" cy="153.20" rx="2.40" ry="2.30" fill="url(#h1)"/>
<ellipse cx="494.70" cy="153.80" rx="2.30" ry="3.20" fill="url(#h2)"/>
<ellipse cx="513.22" cy="153.20" rx="2.40" ry="2.30" fill="url(#h1)"/>
<ellipse cx="531.74" cy="153.80" rx="2.30" ry="3.20" fill="url(#h2)"/>
<ellipse cx="457.66" cy="200.20" rx="2.40" ry="2.30" fill="url(#h1)"/>
<ellipse cx="476.18" cy="200.20" rx="2.40" ry="2.30" fill="url(#h1)"/>
<ellipse cx="494.70" cy="200.20" rx="2.40" ry="2.30" fill="url(#h1)"/>
<ellipse cx="513.22" cy="200.20" rx="2.40" ry="2.30" fill="url(#h1)"/>
<ellipse cx="457.66" cy="248.60" rx="2.40" ry="2.30" fill="url(#h1)"/>
<ellipse cx="476.18" cy="248.60" rx="2.40" ry="2.30" fill="url(#h1)"/>
<ellipse cx="494.70" cy="248.60" rx="2.40" ry="2.30" fill="url(#h1)"/>
<path d="M510.32,247.90 C510.32,246.78 516.12,246.78 516.12,247.90 C516.12,249.25 514.02,250.60 513.22,251.50 C512.42,250.60 510.32,249.25 510.32,247.90Z" fill="url(#ht3)"/>
<ellipse cx="531.74" cy="248.60" rx="2.40" ry="2.30" fill="url(#h1)"/>
<ellipse cx="457.66" cy="294.60" rx="2.40" ry="2.30" fill="url(#h1)"/>
<ellipse cx="476.18" cy="294.60" rx="2.40" ry="2.30" fill="url(#h1)"/>
<ellipse cx="494.70" cy="294.60" rx="2.40" ry="2.30" fill="url(#h1)"/>
<ellipse cx="513.22" cy="295.20" rx="2.30" ry="3.20" fill="url(#h2)"/>
<ellipse cx="513.22" cy="295.00" rx="4.00" ry="2.50" fill="url(#h1)"/>
<ellipse cx="494.70" cy="340.60" rx="2.40" ry="2.30" fill="url(#h1)"/>
<ellipse cx="513.22" cy="342.00" rx="3.50" ry="2.50" fill="url(#h3)"/>
<ellipse cx="553.70" cy="39.40" rx="8.37" ry="5.50" fill="url(#hb)"/>
<ellipse cx="550.00" cy="39.40" rx="4.00" ry="4.50" fill="url(#hc5)"/>
<ellipse cx="557.40" cy="39.40" rx="4.00" ry="4.50" fill="url(#hc3)"/>
<path d="M550.80,59.90 C550.80,57.52 556.60,57.52 556.60,59.90 C556.60,62.75 554.50,65.60 553.70,67.50 C552.90,65.60 550.80,62.75 550.80,59.90Z" fill="url(#ht4)"/>
<ellipse cx="572.30" cy="39.40" rx="8.37" ry="5.00" fill="url(#hb)"/>
<ellipse cx="568.60" cy="39.40" rx="4.20" ry="4.60" fill="url(#hc3)"/>
<ellipse cx="576.00" cy="39.40" rx="4.20" ry="4.60" fill="url(#hc3)"/>
<ellipse cx="577.30" cy="52.00" rx="1.80" ry="2.20" fill="url(#h1)"/>
<ellipse cx="573.30" cy="55.00" rx="1.60" ry="1.60" fill="url(#h1)"/>
<path d="M569.40,59.90 C569.40,57.52 575.20,57.52 575.20,59.90 C575.20,62.75 573.10,65.60 572.30,67.50 C571.50,65.60 569.40,62.75 569.40,59.90Z" fill="url(#ht5)"/>
<ellipse cx="590.90" cy="39.40" rx="8.37" ry="5.50" fill="url(#hb)"/>
<ellipse cx="588.40" cy="39.40" rx="4.50" ry="4.50" fill="url(#hc5)"/>
<ellipse cx="593.40" cy="39.40" rx="4.50" ry="4.50" fill="url(#hc5)"/>
<path d="M588.00,59.90 C588.00,57.52 593.80,57.52 593.80,59.90 C593.80,62.75 591.70,65.60 590.90,67.50 C590.10,65.60 588.00,62.75 588.00,59.90Z" fill="url(#ht4)"/>
<ellipse cx="609.50" cy="39.40" rx="8.37" ry="5.00" fill="url(#hb)"/>
<ellipse cx="605.80" cy="39.40" rx="4.20" ry="4.60" fill="url(#hc4)"/>
<ellipse cx="613.20" cy="39.40" rx="4.20" ry="4.60" fill="url(#hc3)"/>
<path d="M606.60,59.90 C606.60,57.52 612.40,57.52 612.40,59.90 C612.40,62.75 610.30,65.60 609.50,67.50 C608.70,65.60 606.60,62.75 606.60,59.90Z" fill="url(#ht4)"/>
<ellipse cx="628.10" cy="37.50" rx="6.00" ry="4.50" fill="url(#h4)"/>
<ellipse cx="628.10" cy="60.00" rx="6.00" ry="6.00" fill="url(#h4)"/>
<path d="M625.20,59.90 C625.20,57.52 631.00,57.52 631.00,59.90 C631.00,62.75 628.90,65.60 628.10,67.50 C627.30,65.60 625.20,62.75 625.20,59.90Z" fill="url(#ht5)"/>
<ellipse cx="553.70" cy="100.50" rx="7.20" ry="4.60" fill="url(#h1)"/>
<path d="M550.80,104.60 C550.80,101.97 556.60,101.97 556.60,104.60 C556.60,107.75 554.50,110.90 553.70,113.00 C552.90,110.90 550.80,107.75 550.80,104.60Z" fill="url(#ht4)"/>
<ellipse cx="572.30" cy="101.00" rx="6.50" ry="4.00" fill="url(#h1)"/>
<ellipse cx="573.30" cy="100.00" rx="2.00" ry="2.00" fill="url(#h3)"/>
<path d="M569.40,104.60 C569.40,101.97 575.20,101.97 575.20,104.60 C575.20,107.75 573.10,110.90 572.30,113.00 C571.50,110.90 569.40,107.75 569.40,104.60Z" fill="url(#ht5)"/>
<ellipse cx="590.90" cy="100.50" rx="7.20" ry="4.60" fill="url(#h1)"/>
<path d="M588.00,104.60 C588.00,101.97 593.80,101.97 593.80,104.60 C593.80,107.75 591.70,110.90 590.90,113.00 C590.10,110.90 588.00,107.75 588.00,104.60Z" fill="url(#ht3)"/>
<ellipse cx="609.50" cy="100.50" rx="7.20" ry="4.60" fill="url(#h1)"/>
<path d="M606.60,104.60 C606.60,101.97 612.40,101.97 612.40,104.60 C612.40,107.75 610.30,110.90 609.50,113.00 C608.70,110.90 606.60,107.75 606.60,104.60Z" fill="url(#ht5)"/>
<ellipse cx="628.10" cy="100.50" rx="7.20" ry="4.60" fill="url(#h2)"/>
<path d="M625.20,104.60 C625.20,101.97 631.00,101.97 631.00,104.60 C631.00,107.75 628.90,110.90 628.10,113.00 C627.30,110.90 625.20,107.75 625.20,104.60Z" fill="url(#ht5)"/>
<ellipse cx="553.70" cy="153.80" rx="2.30" ry="3.20" fill="url(#h2)"/>
<path d="M569.40,151.10 C569.40,148.47 575.20,148.47 575.20,151.10 C575.20,154.25 573.10,157.40 572.30,159.50 C571.50,157.40 569.40,154.25 569.40,151.10Z" fill="url(#ht3)"/>
<path d="M588.00,151.10 C588.00,148.47 593.80,148.47 593.80,151.10 C593.80,154.25 591.70,157.40 590.90,159.50 C590.10,157.40 588.00,154.25 588.00,151.10Z" fill="url(#ht3)"/>
<ellipse cx="609.50" cy="153.80" rx="2.30" ry="3.20" fill="url(#h2)"/>
<ellipse cx="628.60" cy="140.50" rx="3.20" ry="2.20" fill="url(#h1)"/>
<path d="M625.20,151.10 C625.20,148.47 631.00,148.47 631.00,151.10 C631.00,154.25 628.90,157.40 628.10,159.50 C627.30,157.40 625.20,154.25 625.20,151.10Z" fill="url(#ht3)"/>
<ellipse cx="553.70" cy="200.20" rx="2.40" ry="2.30" fill="url(#h1)"/>
<ellipse cx="572.30" cy="200.80" rx="2.30" ry="3.20" fill="url(#h2)"/>
<ellipse cx="590.90" cy="200.80" rx="2.30" ry="3.20" fill="url(#h2)"/>
<ellipse cx="609.50" cy="200.20" rx="2.40" ry="2.30" fill="url(#h1)"/>
<path d="M625.20,197.90 C625.20,195.53 631.00,195.53 631.00,197.90 C631.00,200.75 628.90,203.60 628.10,205.50 C627.30,203.60 625.20,200.75 625.20,197.90Z" fill="url(#ht3)"/>
<ellipse cx="590.90" cy="248.60" rx="2.40" ry="2.30" fill="url(#h1)"/>
<ellipse cx="609.50" cy="250.00" rx="1.50" ry="1.50" fill="url(#h3)"/>
<ellipse cx="609.50" cy="294.60" rx="2.40" ry="2.30" fill="url(#h1)"/>
<rect x="448.40" y="67.30" width="92.60" height="0.9" fill="#3a3a3a"/>
<rect x="448.40" y="113.30" width="92.60" height="0.9" fill="#3a3a3a"/>
<rect x="448.40" y="159.30" width="92.60" height="0.9" fill="#3a3a3a"/>
<rect x="448.40" y="205.30" width="92.60" height="0.9" fill="#c8c8c8"/>
<rect x="448.40" y="251.30" width="92.60" height="0.9" fill="#3a3a3a"/>
<rect x="448.40" y="297.30" width="92.60" height="0.9" fill="#3a3a3a"/>
<rect x="544.40" y="67.30" width="93.00" height="0.9" fill="#3a3a3a"/>
<rect x="544.40" y="113.30" width="93.00" height="0.9" fill="#3a3a3a"/>
<rect x="544.40" y="159.30" width="93.00" height="0.9" fill="#3a3a3a"/>
<rect x="544.40" y="205.30" width="93.00" height="0.9" fill="#c8c8c8"/>
<rect x="544.40" y="251.30" width="93.00" height="0.9" fill="#3a3a3a"/>
<rect x="544.40" y="297.30" width="93.00" height="0.9" fill="#3a3a3a"/>
<rect x="448.4" y="206" width="0.8" height="138" fill="#7a7a7a"/>
<rect x="544.4" y="206" width="0.8" height="138" fill="#7a7a7a"/>
<rect x="352.50" y="67.30" width="92.60" height="0.9" fill="#303030"/>
<rect x="352.50" y="113.30" width="92.60" height="0.9" fill="#303030"/>
<rect x="644.00" y="37.40" width="6.60" height="148.20" fill="url(#cbar)"/>
<line x1="650.60" y1="37.40" x2="650.60" y2="185.60" stroke="#666" stroke-width="0.5" />
<line x1="644.00" y1="37.40" x2="654.20" y2="37.40" stroke="#555" stroke-width="0.8" />
<line x1="650.60" y1="45.38" x2="653.00" y2="45.38" stroke="#777" stroke-width="0.7" />
<line x1="650.60" y1="53.36" x2="653.00" y2="53.36" stroke="#777" stroke-width="0.7" />
<line x1="650.60" y1="61.34" x2="653.00" y2="61.34" stroke="#777" stroke-width="0.7" />
<line x1="650.60" y1="69.32" x2="653.00" y2="69.32" stroke="#777" stroke-width="0.7" />
<line x1="650.60" y1="77.30" x2="654.20" y2="77.30" stroke="#777" stroke-width="0.8" />
<line x1="650.60" y1="85.28" x2="653.00" y2="85.28" stroke="#777" stroke-width="0.7" />
<line x1="650.60" y1="93.26" x2="653.00" y2="93.26" stroke="#777" stroke-width="0.7" />
<line x1="650.60" y1="101.24" x2="653.00" y2="101.24" stroke="#777" stroke-width="0.7" />
<line x1="650.60" y1="109.22" x2="653.00" y2="109.22" stroke="#777" stroke-width="0.7" />
<line x1="650.60" y1="117.20" x2="654.20" y2="117.20" stroke="#777" stroke-width="0.8" />
<line x1="650.60" y1="125.18" x2="653.00" y2="125.18" stroke="#777" stroke-width="0.7" />
<line x1="650.60" y1="133.16" x2="653.00" y2="133.16" stroke="#777" stroke-width="0.7" />
<line x1="650.60" y1="141.14" x2="653.00" y2="141.14" stroke="#777" stroke-width="0.7" />
<line x1="650.60" y1="149.12" x2="653.00" y2="149.12" stroke="#777" stroke-width="0.7" />
<line x1="650.60" y1="157.10" x2="654.20" y2="157.10" stroke="#777" stroke-width="0.8" />
<line x1="650.60" y1="165.08" x2="653.00" y2="165.08" stroke="#777" stroke-width="0.7" />
<line x1="650.60" y1="173.06" x2="653.00" y2="173.06" stroke="#777" stroke-width="0.7" />
<line x1="650.60" y1="181.04" x2="653.00" y2="181.04" stroke="#777" stroke-width="0.7" />
<text x="656.10" y="39.10" font-size="7.1" text-anchor="start" font-weight="normal" fill="#000" >2.0</text>
<text x="656.10" y="79.00" font-size="7.1" text-anchor="start" font-weight="normal" fill="#000" >1.5</text>
<text x="656.10" y="118.90" font-size="7.1" text-anchor="start" font-weight="normal" fill="#000" >1.0</text>
<text x="656.10" y="158.80" font-size="7.1" text-anchor="start" font-weight="normal" fill="#000" >0.5</text>
<text x="658.40" y="28.60" font-size="7.1" text-anchor="middle">X 10<tspan font-size="5" dy="-3">7</tspan></text>
<text x="640.00" y="195.70" font-size="7" text-anchor="start" font-weight="normal" fill="#000" >Radiance</text>
<text x="640.00" y="203.20" font-size="7">(p/sec/cm<tspan font-size="4.9" dy="-2.6">2</tspan><tspan dy="2.6">/sr)</tspan></text>
<rect x="640.40" y="207.90" width="44.20" height="24.70" fill="none" stroke="#666" stroke-width="0.7"/>
<text x="643.50" y="215.40" font-size="7" text-anchor="start" font-weight="normal" fill="#000" >Color scale</text>
<text x="643.50" y="222.60" font-size="7" text-anchor="start" font-weight="normal" fill="#000" >Min=5e5</text>
<text x="643.50" y="229.90" font-size="7" text-anchor="start" font-weight="normal" fill="#000" >Max=2e7</text>
<text x="-0.80" y="457.00" font-size="11.3" text-anchor="start" font-weight="bold" fill="#000" >f</text>
<text x="66.60" y="463.80" font-size="9.8" text-anchor="middle" font-weight="normal" fill="#000" >CD19.28</text>
<text x="154.20" y="463.80" font-size="9.9" text-anchor="middle" font-weight="normal" fill="#000" >B7-H3.28</text>
<text x="256.20" y="463.80" font-size="9.8" text-anchor="middle" font-weight="normal" fill="#000" >B7-H3.BB</text>
<text x="1.30" y="475.60" font-size="9.6" text-anchor="start" font-weight="normal" fill="#000" >Days</text>
<text x="17.40" y="493.00" font-size="9.8" text-anchor="middle" font-weight="normal" fill="#000" >0</text>
<text x="17.40" y="539.00" font-size="9.8" text-anchor="middle" font-weight="normal" fill="#000" >8</text>
<text x="17.40" y="585.00" font-size="9.8" text-anchor="middle" font-weight="normal" fill="#000" >16</text>
<text x="17.40" y="631.00" font-size="9.8" text-anchor="middle" font-weight="normal" fill="#000" >25</text>
<text x="17.40" y="677.00" font-size="9.8" text-anchor="middle" font-weight="normal" fill="#000" >33</text>
<text x="17.40" y="723.00" font-size="9.8" text-anchor="middle" font-weight="normal" fill="#000" >40</text>
<text x="17.40" y="769.00" font-size="9.8" text-anchor="middle" font-weight="normal" fill="#000" >56</text>
<text x="17.40" y="815.00" font-size="9.8" text-anchor="middle" font-weight="normal" fill="#000" >70</text>
<rect x="25.8" y="468" width="77" height="138" fill="#1e1e1e"/>
<rect x="108" y="468" width="95.7" height="368" fill="#1e1e1e"/>
<rect x="209.1" y="468" width="95.9" height="368" fill="#1e1e1e"/>
<g filter="url(#tex)">
<path d="M35.4,469.0 C36.0,469.0 36.5,469.7 37.1,470.3 C37.6,470.8 38.1,471.4 38.6,472.2 C39.1,473.0 39.4,474.1 39.8,474.9 C40.2,475.8 40.6,476.5 41.0,477.5 C41.4,478.5 42.1,479.1 42.4,480.9 C42.7,482.7 42.7,485.1 42.9,488.1 C43.1,491.1 43.5,495.8 43.6,498.8 C43.8,501.7 43.9,504.1 43.7,506.0 C43.6,507.8 43.1,508.9 42.5,509.8 C41.9,510.7 42.2,511.2 40.2,511.5 C38.2,511.8 32.6,511.8 30.6,511.5 C28.6,511.2 28.9,510.7 28.3,509.8 C27.7,508.9 27.3,507.8 27.1,506.0 C26.9,504.1 27.1,501.7 27.2,498.8 C27.4,495.8 27.8,491.1 28.0,488.1 C28.2,485.1 28.1,482.7 28.4,480.9 C28.7,479.1 29.4,478.5 29.8,477.5 C30.3,476.5 30.7,475.8 31.1,474.9 C31.5,474.1 31.8,473.0 32.3,472.2 C32.7,471.4 33.3,470.8 33.8,470.3 C34.3,469.7 34.9,469.0 35.4,469.0Z" fill="url(#mb)"/>
<path d="M54.7,469.0 C55.2,469.0 55.8,469.7 56.3,470.3 C56.8,470.8 57.4,471.4 57.8,472.2 C58.3,473.0 58.6,474.1 59.0,474.9 C59.4,475.8 59.8,476.5 60.3,477.5 C60.7,478.5 61.4,479.1 61.7,480.9 C62.0,482.7 61.9,485.1 62.1,488.1 C62.3,491.1 62.7,495.8 62.9,498.8 C63.0,501.7 63.2,504.1 63.0,506.0 C62.8,507.8 62.4,508.9 61.8,509.8 C61.2,510.7 61.5,511.2 59.5,511.5 C57.5,511.8 51.9,511.8 49.9,511.5 C47.9,511.2 48.2,510.7 47.6,509.8 C47.0,508.9 46.5,507.8 46.4,506.0 C46.2,504.1 46.3,501.7 46.5,498.8 C46.6,495.8 47.0,491.1 47.2,488.1 C47.4,485.1 47.4,482.7 47.7,480.9 C48.0,479.1 48.7,478.5 49.1,477.5 C49.5,476.5 49.9,475.8 50.3,474.9 C50.7,474.1 51.0,473.0 51.5,472.2 C52.0,471.4 52.5,470.8 53.0,470.3 C53.6,469.7 54.1,469.0 54.7,469.0Z" fill="url(#mb)"/>
<path d="M73.9,469.0 C74.5,469.0 75.0,469.7 75.6,470.3 C76.1,470.8 76.6,471.4 77.1,472.2 C77.6,473.0 77.9,474.1 78.3,474.9 C78.7,475.8 79.1,476.5 79.5,477.5 C79.9,478.5 80.6,479.1 80.9,480.9 C81.2,482.7 81.2,485.1 81.4,488.1 C81.6,491.1 82.0,495.8 82.1,498.8 C82.3,501.7 82.4,504.1 82.2,506.0 C82.1,507.8 81.6,508.9 81.0,509.8 C80.4,510.7 80.7,511.2 78.7,511.5 C76.7,511.8 71.1,511.8 69.1,511.5 C67.1,511.2 67.4,510.7 66.8,509.8 C66.2,508.9 65.8,507.8 65.6,506.0 C65.4,504.1 65.6,501.7 65.7,498.8 C65.9,495.8 66.3,491.1 66.5,488.1 C66.7,485.1 66.6,482.7 66.9,480.9 C67.2,479.1 67.9,478.5 68.3,477.5 C68.8,476.5 69.2,475.8 69.6,474.9 C70.0,474.1 70.3,473.0 70.8,472.2 C71.2,471.4 71.8,470.8 72.3,470.3 C72.8,469.7 73.4,469.0 73.9,469.0Z" fill="url(#mb)"/>
<path d="M93.2,469.0 C93.7,469.0 94.3,469.7 94.8,470.3 C95.3,470.8 95.9,471.4 96.3,472.2 C96.8,473.0 97.1,474.1 97.5,474.9 C97.9,475.8 98.3,476.5 98.8,477.5 C99.2,478.5 99.9,479.1 100.2,480.9 C100.5,482.7 100.4,485.1 100.6,488.1 C100.8,491.1 101.2,495.8 101.4,498.8 C101.5,501.7 101.7,504.1 101.5,506.0 C101.3,507.8 100.9,508.9 100.3,509.8 C99.7,510.7 100.0,511.2 98.0,511.5 C96.0,511.8 90.4,511.8 88.4,511.5 C86.4,511.2 86.7,510.7 86.1,509.8 C85.5,508.9 85.0,507.8 84.9,506.0 C84.7,504.1 84.8,501.7 85.0,498.8 C85.1,495.8 85.5,491.1 85.7,488.1 C85.9,485.1 85.9,482.7 86.2,480.9 C86.5,479.1 87.2,478.5 87.6,477.5 C88.0,476.5 88.4,475.8 88.8,474.9 C89.2,474.1 89.5,473.0 90.0,472.2 C90.5,471.4 91.0,470.8 91.5,470.3 C92.1,469.7 92.6,469.0 93.2,469.0Z" fill="url(#mb)"/>
<path d="M35.4,515.0 C36.0,515.0 36.5,515.7 37.1,516.3 C37.6,516.8 38.1,517.4 38.6,518.2 C39.1,519.0 39.4,520.1 39.8,521.0 C40.2,521.8 40.6,522.5 41.0,523.5 C41.4,524.5 42.1,525.1 42.4,526.9 C42.7,528.7 42.7,531.1 42.9,534.1 C43.1,537.1 43.5,541.8 43.6,544.8 C43.8,547.7 43.9,550.1 43.7,552.0 C43.6,553.8 43.1,554.9 42.5,555.8 C41.9,556.7 42.2,557.2 40.2,557.5 C38.2,557.8 32.6,557.8 30.6,557.5 C28.6,557.2 28.9,556.7 28.3,555.8 C27.7,554.9 27.3,553.8 27.1,552.0 C26.9,550.1 27.1,547.7 27.2,544.8 C27.4,541.8 27.8,537.1 28.0,534.1 C28.2,531.1 28.1,528.7 28.4,526.9 C28.7,525.1 29.4,524.5 29.8,523.5 C30.3,522.5 30.7,521.8 31.1,521.0 C31.5,520.1 31.8,519.0 32.3,518.2 C32.7,517.4 33.3,516.8 33.8,516.3 C34.3,515.7 34.9,515.0 35.4,515.0Z" fill="url(#mb)"/>
<path d="M54.7,515.0 C55.2,515.0 55.8,515.7 56.3,516.3 C56.8,516.8 57.4,517.4 57.8,518.2 C58.3,519.0 58.6,520.1 59.0,521.0 C59.4,521.8 59.8,522.5 60.3,523.5 C60.7,524.5 61.4,525.1 61.7,526.9 C62.0,528.7 61.9,531.1 62.1,534.1 C62.3,537.1 62.7,541.8 62.9,544.8 C63.0,547.7 63.2,550.1 63.0,552.0 C62.8,553.8 62.4,554.9 61.8,555.8 C61.2,556.7 61.5,557.2 59.5,557.5 C57.5,557.8 51.9,557.8 49.9,557.5 C47.9,557.2 48.2,556.7 47.6,555.8 C47.0,554.9 46.5,553.8 46.4,552.0 C46.2,550.1 46.3,547.7 46.5,544.8 C46.6,541.8 47.0,537.1 47.2,534.1 C47.4,531.1 47.4,528.7 47.7,526.9 C48.0,525.1 48.7,524.5 49.1,523.5 C49.5,522.5 49.9,521.8 50.3,521.0 C50.7,520.1 51.0,519.0 51.5,518.2 C52.0,517.4 52.5,516.8 53.0,516.3 C53.6,515.7 54.1,515.0 54.7,515.0Z" fill="url(#mb)"/>
<path d="M73.9,515.0 C74.5,515.0 75.0,515.7 75.6,516.3 C76.1,516.8 76.6,517.4 77.1,518.2 C77.6,519.0 77.9,520.1 78.3,521.0 C78.7,521.8 79.1,522.5 79.5,523.5 C79.9,524.5 80.6,525.1 80.9,526.9 C81.2,528.7 81.2,531.1 81.4,534.1 C81.6,537.1 82.0,541.8 82.1,544.8 C82.3,547.7 82.4,550.1 82.2,552.0 C82.1,553.8 81.6,554.9 81.0,555.8 C80.4,556.7 80.7,557.2 78.7,557.5 C76.7,557.8 71.1,557.8 69.1,557.5 C67.1,557.2 67.4,556.7 66.8,555.8 C66.2,554.9 65.8,553.8 65.6,552.0 C65.4,550.1 65.6,547.7 65.7,544.8 C65.9,541.8 66.3,537.1 66.5,534.1 C66.7,531.1 66.6,528.7 66.9,526.9 C67.2,525.1 67.9,524.5 68.3,523.5 C68.8,522.5 69.2,521.8 69.6,521.0 C70.0,520.1 70.3,519.0 70.8,518.2 C71.2,517.4 71.8,516.8 72.3,516.3 C72.8,515.7 73.4,515.0 73.9,515.0Z" fill="url(#mb)"/>
<path d="M93.2,515.0 C93.7,515.0 94.3,515.7 94.8,516.3 C95.3,516.8 95.9,517.4 96.3,518.2 C96.8,519.0 97.1,520.1 97.5,521.0 C97.9,521.8 98.3,522.5 98.8,523.5 C99.2,524.5 99.9,525.1 100.2,526.9 C100.5,528.7 100.4,531.1 100.6,534.1 C100.8,537.1 101.2,541.8 101.4,544.8 C101.5,547.7 101.7,550.1 101.5,552.0 C101.3,553.8 100.9,554.9 100.3,555.8 C99.7,556.7 100.0,557.2 98.0,557.5 C96.0,557.8 90.4,557.8 88.4,557.5 C86.4,557.2 86.7,556.7 86.1,555.8 C85.5,554.9 85.0,553.8 84.9,552.0 C84.7,550.1 84.8,547.7 85.0,544.8 C85.1,541.8 85.5,537.1 85.7,534.1 C85.9,531.1 85.9,528.7 86.2,526.9 C86.5,525.1 87.2,524.5 87.6,523.5 C88.0,522.5 88.4,521.8 88.8,521.0 C89.2,520.1 89.5,519.0 90.0,518.2 C90.5,517.4 91.0,516.8 91.5,516.3 C92.1,515.7 92.6,515.0 93.2,515.0Z" fill="url(#mb)"/>
<path d="M35.4,561.0 C36.0,561.0 36.5,561.7 37.1,562.3 C37.6,562.8 38.1,563.4 38.6,564.2 C39.1,565.0 39.4,566.1 39.8,567.0 C40.2,567.8 40.6,568.5 41.0,569.5 C41.4,570.5 42.1,571.1 42.4,572.9 C42.7,574.7 42.7,577.1 42.9,580.1 C43.1,583.1 43.5,587.8 43.6,590.8 C43.8,593.7 43.9,596.1 43.7,598.0 C43.6,599.8 43.1,600.9 42.5,601.8 C41.9,602.7 42.2,603.2 40.2,603.5 C38.2,603.8 32.6,603.8 30.6,603.5 C28.6,603.2 28.9,602.7 28.3,601.8 C27.7,600.9 27.3,599.8 27.1,598.0 C26.9,596.1 27.1,593.7 27.2,590.8 C27.4,587.8 27.8,583.1 28.0,580.1 C28.2,577.1 28.1,574.7 28.4,572.9 C28.7,571.1 29.4,570.5 29.8,569.5 C30.3,568.5 30.7,567.8 31.1,567.0 C31.5,566.1 31.8,565.0 32.3,564.2 C32.7,563.4 33.3,562.8 33.8,562.3 C34.3,561.7 34.9,561.0 35.4,561.0Z" fill="url(#mb)"/>
<path d="M54.7,561.0 C55.2,561.0 55.8,561.7 56.3,562.3 C56.8,562.8 57.4,563.4 57.8,564.2 C58.3,565.0 58.6,566.1 59.0,567.0 C59.4,567.8 59.8,568.5 60.3,569.5 C60.7,570.5 61.4,571.1 61.7,572.9 C62.0,574.7 61.9,577.1 62.1,580.1 C62.3,583.1 62.7,587.8 62.9,590.8 C63.0,593.7 63.2,596.1 63.0,598.0 C62.8,599.8 62.4,600.9 61.8,601.8 C61.2,602.7 61.5,603.2 59.5,603.5 C57.5,603.8 51.9,603.8 49.9,603.5 C47.9,603.2 48.2,602.7 47.6,601.8 C47.0,600.9 46.5,599.8 46.4,598.0 C46.2,596.1 46.3,593.7 46.5,590.8 C46.6,587.8 47.0,583.1 47.2,580.1 C47.4,577.1 47.4,574.7 47.7,572.9 C48.0,571.1 48.7,570.5 49.1,569.5 C49.5,568.5 49.9,567.8 50.3,567.0 C50.7,566.1 51.0,565.0 51.5,564.2 C52.0,563.4 52.5,562.8 53.0,562.3 C53.6,561.7 54.1,561.0 54.7,561.0Z" fill="url(#mb)"/>
<path d="M73.9,561.0 C74.5,561.0 75.0,561.7 75.6,562.3 C76.1,562.8 76.6,563.4 77.1,564.2 C77.6,565.0 77.9,566.1 78.3,567.0 C78.7,567.8 79.1,568.5 79.5,569.5 C79.9,570.5 80.6,571.1 80.9,572.9 C81.2,574.7 81.2,577.1 81.4,580.1 C81.6,583.1 82.0,587.8 82.1,590.8 C82.3,593.7 82.4,596.1 82.2,598.0 C82.1,599.8 81.6,600.9 81.0,601.8 C80.4,602.7 80.7,603.2 78.7,603.5 C76.7,603.8 71.1,603.8 69.1,603.5 C67.1,603.2 67.4,602.7 66.8,601.8 C66.2,600.9 65.8,599.8 65.6,598.0 C65.4,596.1 65.6,593.7 65.7,590.8 C65.9,587.8 66.3,583.1 66.5,580.1 C66.7,577.1 66.6,574.7 66.9,572.9 C67.2,571.1 67.9,570.5 68.3,569.5 C68.8,568.5 69.2,567.8 69.6,567.0 C70.0,566.1 70.3,565.0 70.8,564.2 C71.2,563.4 71.8,562.8 72.3,562.3 C72.8,561.7 73.4,561.0 73.9,561.0Z" fill="url(#mb)"/>
<path d="M93.2,561.0 C93.7,561.0 94.3,561.7 94.8,562.3 C95.3,562.8 95.9,563.4 96.3,564.2 C96.8,565.0 97.1,566.1 97.5,567.0 C97.9,567.8 98.3,568.5 98.8,569.5 C99.2,570.5 99.9,571.1 100.2,572.9 C100.5,574.7 100.4,577.1 100.6,580.1 C100.8,583.1 101.2,587.8 101.4,590.8 C101.5,593.7 101.7,596.1 101.5,598.0 C101.3,599.8 100.9,600.9 100.3,601.8 C99.7,602.7 100.0,603.2 98.0,603.5 C96.0,603.8 90.4,603.8 88.4,603.5 C86.4,603.2 86.7,602.7 86.1,601.8 C85.5,600.9 85.0,599.8 84.9,598.0 C84.7,596.1 84.8,593.7 85.0,590.8 C85.1,587.8 85.5,583.1 85.7,580.1 C85.9,577.1 85.9,574.7 86.2,572.9 C86.5,571.1 87.2,570.5 87.6,569.5 C88.0,568.5 88.4,567.8 88.8,567.0 C89.2,566.1 89.5,565.0 90.0,564.2 C90.5,563.4 91.0,562.8 91.5,562.3 C92.1,561.7 92.6,561.0 93.2,561.0Z" fill="url(#mb)"/>
</g>
<g filter="url(#tex)">
<path d="M117.6,469.0 C118.1,469.0 118.7,469.7 119.2,470.3 C119.7,470.8 120.3,471.4 120.7,472.2 C121.2,473.0 121.5,474.1 121.9,474.9 C122.3,475.8 122.6,476.5 123.1,477.5 C123.5,478.5 124.2,479.1 124.5,480.9 C124.8,482.7 124.7,485.1 124.9,488.1 C125.1,491.1 125.5,495.8 125.7,498.8 C125.8,501.7 126.0,504.1 125.8,506.0 C125.6,507.8 125.2,508.9 124.6,509.8 C124.0,510.7 124.3,511.2 122.3,511.5 C120.4,511.8 114.8,511.8 112.8,511.5 C110.9,511.2 111.1,510.7 110.5,509.8 C110.0,508.9 109.5,507.8 109.4,506.0 C109.2,504.1 109.3,501.7 109.5,498.8 C109.6,495.8 110.0,491.1 110.2,488.1 C110.4,485.1 110.4,482.7 110.7,480.9 C111.0,479.1 111.6,478.5 112.1,477.5 C112.5,476.5 112.9,475.8 113.2,474.9 C113.6,474.1 114.0,473.0 114.4,472.2 C114.9,471.4 115.4,470.8 115.9,470.3 C116.5,469.7 117.0,469.0 117.6,469.0Z" fill="url(#mb)"/>
<path d="M136.7,469.0 C137.2,469.0 137.8,469.7 138.3,470.3 C138.9,470.8 139.4,471.4 139.8,472.2 C140.3,473.0 140.6,474.1 141.0,474.9 C141.4,475.8 141.8,476.5 142.2,477.5 C142.7,478.5 143.3,479.1 143.6,480.9 C143.9,482.7 143.9,485.1 144.1,488.1 C144.3,491.1 144.7,495.8 144.8,498.8 C145.0,501.7 145.1,504.1 144.9,506.0 C144.7,507.8 144.3,508.9 143.7,509.8 C143.2,510.7 143.4,511.2 141.5,511.5 C139.5,511.8 133.9,511.8 132.0,511.5 C130.0,511.2 130.3,510.7 129.7,509.8 C129.1,508.9 128.7,507.8 128.5,506.0 C128.3,504.1 128.5,501.7 128.6,498.8 C128.8,495.8 129.2,491.1 129.4,488.1 C129.6,485.1 129.5,482.7 129.8,480.9 C130.1,479.1 130.8,478.5 131.2,477.5 C131.6,476.5 132.0,475.8 132.4,474.9 C132.8,474.1 133.1,473.0 133.6,472.2 C134.0,471.4 134.6,470.8 135.1,470.3 C135.6,469.7 136.2,469.0 136.7,469.0Z" fill="url(#mb)"/>
<path d="M155.8,469.0 C156.4,469.0 156.9,469.7 157.5,470.3 C158.0,470.8 158.5,471.4 159.0,472.2 C159.4,473.0 159.8,474.1 160.2,474.9 C160.6,475.8 160.9,476.5 161.4,477.5 C161.8,478.5 162.5,479.1 162.8,480.9 C163.1,482.7 163.0,485.1 163.2,488.1 C163.4,491.1 163.8,495.8 163.9,498.8 C164.1,501.7 164.2,504.1 164.1,506.0 C163.9,507.8 163.4,508.9 162.9,509.8 C162.3,510.7 162.6,511.2 160.6,511.5 C158.6,511.8 153.1,511.8 151.1,511.5 C149.1,511.2 149.4,510.7 148.8,509.8 C148.3,508.9 147.8,507.8 147.6,506.0 C147.5,504.1 147.6,501.7 147.8,498.8 C147.9,495.8 148.3,491.1 148.5,488.1 C148.7,485.1 148.6,482.7 148.9,480.9 C149.2,479.1 149.9,478.5 150.3,477.5 C150.8,476.5 151.1,475.8 151.5,474.9 C151.9,474.1 152.3,473.0 152.7,472.2 C153.2,471.4 153.7,470.8 154.2,470.3 C154.8,469.7 155.3,469.0 155.8,469.0Z" fill="url(#mb)"/>
<path d="M175.0,469.0 C175.5,469.0 176.1,469.7 176.6,470.3 C177.1,470.8 177.7,471.4 178.1,472.2 C178.6,473.0 178.9,474.1 179.3,474.9 C179.7,475.8 180.1,476.5 180.5,477.5 C180.9,478.5 181.6,479.1 181.9,480.9 C182.2,482.7 182.1,485.1 182.3,488.1 C182.5,491.1 182.9,495.8 183.1,498.8 C183.2,501.7 183.4,504.1 183.2,506.0 C183.0,507.8 182.6,508.9 182.0,509.8 C181.4,510.7 181.7,511.2 179.7,511.5 C177.8,511.8 172.2,511.8 170.2,511.5 C168.3,511.2 168.5,510.7 168.0,509.8 C167.4,508.9 167.0,507.8 166.8,506.0 C166.6,504.1 166.7,501.7 166.9,498.8 C167.0,495.8 167.4,491.1 167.6,488.1 C167.8,485.1 167.8,482.7 168.1,480.9 C168.4,479.1 169.1,478.5 169.5,477.5 C169.9,476.5 170.3,475.8 170.7,474.9 C171.1,474.1 171.4,473.0 171.9,472.2 C172.3,471.4 172.8,470.8 173.4,470.3 C173.9,469.7 174.5,469.0 175.0,469.0Z" fill="url(#mb)"/>
<path d="M194.1,469.0 C194.7,469.0 195.2,469.7 195.8,470.3 C196.3,470.8 196.8,471.4 197.3,472.2 C197.7,473.0 198.1,474.1 198.4,474.9 C198.8,475.8 199.2,476.5 199.6,477.5 C200.1,478.5 200.7,479.1 201.0,480.9 C201.3,482.7 201.3,485.1 201.5,488.1 C201.7,491.1 202.1,495.8 202.2,498.8 C202.4,501.7 202.5,504.1 202.3,506.0 C202.2,507.8 201.7,508.9 201.2,509.8 C200.6,510.7 200.8,511.2 198.9,511.5 C196.9,511.8 191.3,511.8 189.4,511.5 C187.4,511.2 187.7,510.7 187.1,509.8 C186.5,508.9 186.1,507.8 185.9,506.0 C185.7,504.1 185.9,501.7 186.0,498.8 C186.2,495.8 186.6,491.1 186.8,488.1 C187.0,485.1 186.9,482.7 187.2,480.9 C187.5,479.1 188.2,478.5 188.6,477.5 C189.1,476.5 189.4,475.8 189.8,474.9 C190.2,474.1 190.5,473.0 191.0,472.2 C191.4,471.4 192.0,470.8 192.5,470.3 C193.0,469.7 193.6,469.0 194.1,469.0Z" fill="url(#mb)"/>
<path d="M117.6,515.0 C118.1,515.0 118.7,515.7 119.2,516.3 C119.7,516.8 120.3,517.4 120.7,518.2 C121.2,519.0 121.5,520.1 121.9,521.0 C122.3,521.8 122.6,522.5 123.1,523.5 C123.5,524.5 124.2,525.1 124.5,526.9 C124.8,528.7 124.7,531.1 124.9,534.1 C125.1,537.1 125.5,541.8 125.7,544.8 C125.8,547.7 126.0,550.1 125.8,552.0 C125.6,553.8 125.2,554.9 124.6,555.8 C124.0,556.7 124.3,557.2 122.3,557.5 C120.4,557.8 114.8,557.8 112.8,557.5 C110.9,557.2 111.1,556.7 110.5,555.8 C110.0,554.9 109.5,553.8 109.4,552.0 C109.2,550.1 109.3,547.7 109.5,544.8 C109.6,541.8 110.0,537.1 110.2,534.1 C110.4,531.1 110.4,528.7 110.7,526.9 C111.0,525.1 111.6,524.5 112.1,523.5 C112.5,522.5 112.9,521.8 113.2,521.0 C113.6,520.1 114.0,519.0 114.4,518.2 C114.9,517.4 115.4,516.8 115.9,516.3 C116.5,515.7 117.0,515.0 117.6,515.0Z" fill="url(#mb)"/>
<path d="M136.7,515.0 C137.2,515.0 137.8,515.7 138.3,516.3 C138.9,516.8 139.4,517.4 139.8,518.2 C140.3,519.0 140.6,520.1 141.0,521.0 C141.4,521.8 141.8,522.5 142.2,523.5 C142.7,524.5 143.3,525.1 143.6,526.9 C143.9,528.7 143.9,531.1 144.1,534.1 C144.3,537.1 144.7,541.8 144.8,544.8 C145.0,547.7 145.1,550.1 144.9,552.0 C144.7,553.8 144.3,554.9 143.7,555.8 C143.2,556.7 143.4,557.2 141.5,557.5 C139.5,557.8 133.9,557.8 132.0,557.5 C130.0,557.2 130.3,556.7 129.7,555.8 C129.1,554.9 128.7,553.8 128.5,552.0 C128.3,550.1 128.5,547.7 128.6,544.8 C128.8,541.8 129.2,537.1 129.4,534.1 C129.6,531.1 129.5,528.7 129.8,526.9 C130.1,525.1 130.8,524.5 131.2,523.5 C131.6,522.5 132.0,521.8 132.4,521.0 C132.8,520.1 133.1,519.0 133.6,518.2 C134.0,517.4 134.6,516.8 135.1,516.3 C135.6,515.7 136.2,515.0 136.7,515.0Z" fill="url(#mb)"/>
<path d="M155.8,515.0 C156.4,515.0 156.9,515.7 157.5,516.3 C158.0,516.8 158.5,517.4 159.0,518.2 C159.4,519.0 159.8,520.1 160.2,521.0 C160.6,521.8 160.9,522.5 161.4,523.5 C161.8,524.5 162.5,525.1 162.8,526.9 C163.1,528.7 163.0,531.1 163.2,534.1 C163.4,537.1 163.8,541.8 163.9,544.8 C164.1,547.7 164.2,550.1 164.1,552.0 C163.9,553.8 163.4,554.9 162.9,555.8 C162.3,556.7 162.6,557.2 160.6,557.5 C158.6,557.8 153.1,557.8 151.1,557.5 C149.1,557.2 149.4,556.7 148.8,555.8 C148.3,554.9 147.8,553.8 147.6,552.0 C147.5,550.1 147.6,547.7 147.8,544.8 C147.9,541.8 148.3,537.1 148.5,534.1 C148.7,531.1 148.6,528.7 148.9,526.9 C149.2,525.1 149.9,524.5 150.3,523.5 C150.8,522.5 151.1,521.8 151.5,521.0 C151.9,520.1 152.3,519.0 152.7,518.2 C153.2,517.4 153.7,516.8 154.2,516.3 C154.8,515.7 155.3,515.0 155.8,515.0Z" fill="url(#mb)"/>
<path d="M175.0,515.0 C175.5,515.0 176.1,515.7 176.6,516.3 C177.1,516.8 177.7,517.4 178.1,518.2 C178.6,519.0 178.9,520.1 179.3,521.0 C179.7,521.8 180.1,522.5 180.5,523.5 C180.9,524.5 181.6,525.1 181.9,526.9 C182.2,528.7 182.1,531.1 182.3,534.1 C182.5,537.1 182.9,541.8 183.1,544.8 C183.2,547.7 183.4,550.1 183.2,552.0 C183.0,553.8 182.6,554.9 182.0,555.8 C181.4,556.7 181.7,557.2 179.7,557.5 C177.8,557.8 172.2,557.8 170.2,557.5 C168.3,557.2 168.5,556.7 168.0,555.8 C167.4,554.9 167.0,553.8 166.8,552.0 C166.6,550.1 166.7,547.7 166.9,544.8 C167.0,541.8 167.4,537.1 167.6,534.1 C167.8,531.1 167.8,528.7 168.1,526.9 C168.4,525.1 169.1,524.5 169.5,523.5 C169.9,522.5 170.3,521.8 170.7,521.0 C171.1,520.1 171.4,519.0 171.9,518.2 C172.3,517.4 172.8,516.8 173.4,516.3 C173.9,515.7 174.5,515.0 175.0,515.0Z" fill="url(#mb)"/>
<path d="M194.1,515.0 C194.7,515.0 195.2,515.7 195.8,516.3 C196.3,516.8 196.8,517.4 197.3,518.2 C197.7,519.0 198.1,520.1 198.4,521.0 C198.8,521.8 199.2,522.5 199.6,523.5 C200.1,524.5 200.7,525.1 201.0,526.9 C201.3,528.7 201.3,531.1 201.5,534.1 C201.7,537.1 202.1,541.8 202.2,544.8 C202.4,547.7 202.5,550.1 202.3,552.0 C202.2,553.8 201.7,554.9 201.2,555.8 C200.6,556.7 200.8,557.2 198.9,557.5 C196.9,557.8 191.3,557.8 189.4,557.5 C187.4,557.2 187.7,556.7 187.1,555.8 C186.5,554.9 186.1,553.8 185.9,552.0 C185.7,550.1 185.9,547.7 186.0,544.8 C186.2,541.8 186.6,537.1 186.8,534.1 C187.0,531.1 186.9,528.7 187.2,526.9 C187.5,525.1 188.2,524.5 188.6,523.5 C189.1,522.5 189.4,521.8 189.8,521.0 C190.2,520.1 190.5,519.0 191.0,518.2 C191.4,517.4 192.0,516.8 192.5,516.3 C193.0,515.7 193.6,515.0 194.1,515.0Z" fill="url(#mb)"/>
<path d="M117.6,561.0 C118.1,561.0 118.7,561.7 119.2,562.3 C119.7,562.8 120.3,563.4 120.7,564.2 C121.2,565.0 121.5,566.1 121.9,567.0 C122.3,567.8 122.6,568.5 123.1,569.5 C123.5,570.5 124.2,571.1 124.5,572.9 C124.8,574.7 124.7,577.1 124.9,580.1 C125.1,583.1 125.5,587.8 125.7,590.8 C125.8,593.7 126.0,596.1 125.8,598.0 C125.6,599.8 125.2,600.9 124.6,601.8 C124.0,602.7 124.3,603.2 122.3,603.5 C120.4,603.8 114.8,603.8 112.8,603.5 C110.9,603.2 111.1,602.7 110.5,601.8 C110.0,600.9 109.5,599.8 109.4,598.0 C109.2,596.1 109.3,593.7 109.5,590.8 C109.6,587.8 110.0,583.1 110.2,580.1 C110.4,577.1 110.4,574.7 110.7,572.9 C111.0,571.1 111.6,570.5 112.1,569.5 C112.5,568.5 112.9,567.8 113.2,567.0 C113.6,566.1 114.0,565.0 114.4,564.2 C114.9,563.4 115.4,562.8 115.9,562.3 C116.5,561.7 117.0,561.0 117.6,561.0Z" fill="url(#mb)"/>
<path d="M136.7,561.0 C137.2,561.0 137.8,561.7 138.3,562.3 C138.9,562.8 139.4,563.4 139.8,564.2 C140.3,565.0 140.6,566.1 141.0,567.0 C141.4,567.8 141.8,568.5 142.2,569.5 C142.7,570.5 143.3,571.1 143.6,572.9 C143.9,574.7 143.9,577.1 144.1,580.1 C144.3,583.1 144.7,587.8 144.8,590.8 C145.0,593.7 145.1,596.1 144.9,598.0 C144.7,599.8 144.3,600.9 143.7,601.8 C143.2,602.7 143.4,603.2 141.5,603.5 C139.5,603.8 133.9,603.8 132.0,603.5 C130.0,603.2 130.3,602.7 129.7,601.8 C129.1,600.9 128.7,599.8 128.5,598.0 C128.3,596.1 128.5,593.7 128.6,590.8 C128.8,587.8 129.2,583.1 129.4,580.1 C129.6,577.1 129.5,574.7 129.8,572.9 C130.1,571.1 130.8,570.5 131.2,569.5 C131.6,568.5 132.0,567.8 132.4,567.0 C132.8,566.1 133.1,565.0 133.6,564.2 C134.0,563.4 134.6,562.8 135.1,562.3 C135.6,561.7 136.2,561.0 136.7,561.0Z" fill="url(#mb)"/>
<path d="M155.8,561.0 C156.4,561.0 156.9,561.7 157.5,562.3 C158.0,562.8 158.5,563.4 159.0,564.2 C159.4,565.0 159.8,566.1 160.2,567.0 C160.6,567.8 160.9,568.5 161.4,569.5 C161.8,570.5 162.5,571.1 162.8,572.9 C163.1,574.7 163.0,577.1 163.2,580.1 C163.4,583.1 163.8,587.8 163.9,590.8 C164.1,593.7 164.2,596.1 164.1,598.0 C163.9,599.8 163.4,600.9 162.9,601.8 C162.3,602.7 162.6,603.2 160.6,603.5 C158.6,603.8 153.1,603.8 151.1,603.5 C149.1,603.2 149.4,602.7 148.8,601.8 C148.3,600.9 147.8,599.8 147.6,598.0 C147.5,596.1 147.6,593.7 147.8,590.8 C147.9,587.8 148.3,583.1 148.5,580.1 C148.7,577.1 148.6,574.7 148.9,572.9 C149.2,571.1 149.9,570.5 150.3,569.5 C150.8,568.5 151.1,567.8 151.5,567.0 C151.9,566.1 152.3,565.0 152.7,564.2 C153.2,563.4 153.7,562.8 154.2,562.3 C154.8,561.7 155.3,561.0 155.8,561.0Z" fill="url(#mb)"/>
<path d="M175.0,561.0 C175.5,561.0 176.1,561.7 176.6,562.3 C177.1,562.8 177.7,563.4 178.1,564.2 C178.6,565.0 178.9,566.1 179.3,567.0 C179.7,567.8 180.1,568.5 180.5,569.5 C180.9,570.5 181.6,571.1 181.9,572.9 C182.2,574.7 182.1,577.1 182.3,580.1 C182.5,583.1 182.9,587.8 183.1,590.8 C183.2,593.7 183.4,596.1 183.2,598.0 C183.0,599.8 182.6,600.9 182.0,601.8 C181.4,602.7 181.7,603.2 179.7,603.5 C177.8,603.8 172.2,603.8 170.2,603.5 C168.3,603.2 168.5,602.7 168.0,601.8 C167.4,600.9 167.0,599.8 166.8,598.0 C166.6,596.1 166.7,593.7 166.9,590.8 C167.0,587.8 167.4,583.1 167.6,580.1 C167.8,577.1 167.8,574.7 168.1,572.9 C168.4,571.1 169.1,570.5 169.5,569.5 C169.9,568.5 170.3,567.8 170.7,567.0 C171.1,566.1 171.4,565.0 171.9,564.2 C172.3,563.4 172.8,562.8 173.4,562.3 C173.9,561.7 174.5,561.0 175.0,561.0Z" fill="url(#mb)"/>
<path d="M194.1,561.0 C194.7,561.0 195.2,561.7 195.8,562.3 C196.3,562.8 196.8,563.4 197.3,564.2 C197.7,565.0 198.1,566.1 198.4,567.0 C198.8,567.8 199.2,568.5 199.6,569.5 C200.1,570.5 200.7,571.1 201.0,572.9 C201.3,574.7 201.3,577.1 201.5,580.1 C201.7,583.1 202.1,587.8 202.2,590.8 C202.4,593.7 202.5,596.1 202.3,598.0 C202.2,599.8 201.7,600.9 201.2,601.8 C200.6,602.7 200.8,603.2 198.9,603.5 C196.9,603.8 191.3,603.8 189.4,603.5 C187.4,603.2 187.7,602.7 187.1,601.8 C186.5,600.9 186.1,599.8 185.9,598.0 C185.7,596.1 185.9,593.7 186.0,590.8 C186.2,587.8 186.6,583.1 186.8,580.1 C187.0,577.1 186.9,574.7 187.2,572.9 C187.5,571.1 188.2,570.5 188.6,569.5 C189.1,568.5 189.4,567.8 189.8,567.0 C190.2,566.1 190.5,565.0 191.0,564.2 C191.4,563.4 192.0,562.8 192.5,562.3 C193.0,561.7 193.6,561.0 194.1,561.0Z" fill="url(#mb)"/>
<path d="M117.6,607.0 C118.1,607.0 118.7,607.7 119.2,608.3 C119.7,608.8 120.3,609.4 120.7,610.2 C121.2,611.0 121.5,612.1 121.9,613.0 C122.3,613.8 122.6,614.5 123.1,615.5 C123.5,616.5 124.2,617.1 124.5,618.9 C124.8,620.7 124.7,623.1 124.9,626.1 C125.1,629.1 125.5,633.8 125.7,636.8 C125.8,639.7 126.0,642.1 125.8,644.0 C125.6,645.8 125.2,646.9 124.6,647.8 C124.0,648.7 124.3,649.2 122.3,649.5 C120.4,649.8 114.8,649.8 112.8,649.5 C110.9,649.2 111.1,648.7 110.5,647.8 C110.0,646.9 109.5,645.8 109.4,644.0 C109.2,642.1 109.3,639.7 109.5,636.8 C109.6,633.8 110.0,629.1 110.2,626.1 C110.4,623.1 110.4,620.7 110.7,618.9 C111.0,617.1 111.6,616.5 112.1,615.5 C112.5,614.5 112.9,613.8 113.2,613.0 C113.6,612.1 114.0,611.0 114.4,610.2 C114.9,609.4 115.4,608.8 115.9,608.3 C116.5,607.7 117.0,607.0 117.6,607.0Z" fill="url(#mb)"/>
<path d="M136.7,607.0 C137.2,607.0 137.8,607.7 138.3,608.3 C138.9,608.8 139.4,609.4 139.8,610.2 C140.3,611.0 140.6,612.1 141.0,613.0 C141.4,613.8 141.8,614.5 142.2,615.5 C142.7,616.5 143.3,617.1 143.6,618.9 C143.9,620.7 143.9,623.1 144.1,626.1 C144.3,629.1 144.7,633.8 144.8,636.8 C145.0,639.7 145.1,642.1 144.9,644.0 C144.7,645.8 144.3,646.9 143.7,647.8 C143.2,648.7 143.4,649.2 141.5,649.5 C139.5,649.8 133.9,649.8 132.0,649.5 C130.0,649.2 130.3,648.7 129.7,647.8 C129.1,646.9 128.7,645.8 128.5,644.0 C128.3,642.1 128.5,639.7 128.6,636.8 C128.8,633.8 129.2,629.1 129.4,626.1 C129.6,623.1 129.5,620.7 129.8,618.9 C130.1,617.1 130.8,616.5 131.2,615.5 C131.6,614.5 132.0,613.8 132.4,613.0 C132.8,612.1 133.1,611.0 133.6,610.2 C134.0,609.4 134.6,608.8 135.1,608.3 C135.6,607.7 136.2,607.0 136.7,607.0Z" fill="url(#mb)"/>
<path d="M155.8,607.0 C156.4,607.0 156.9,607.7 157.5,608.3 C158.0,608.8 158.5,609.4 159.0,610.2 C159.4,611.0 159.8,612.1 160.2,613.0 C160.6,613.8 160.9,614.5 161.4,615.5 C161.8,616.5 162.5,617.1 162.8,618.9 C163.1,620.7 163.0,623.1 163.2,626.1 C163.4,629.1 163.8,633.8 163.9,636.8 C164.1,639.7 164.2,642.1 164.1,644.0 C163.9,645.8 163.4,646.9 162.9,647.8 C162.3,648.7 162.6,649.2 160.6,649.5 C158.6,649.8 153.1,649.8 151.1,649.5 C149.1,649.2 149.4,648.7 148.8,647.8 C148.3,646.9 147.8,645.8 147.6,644.0 C147.5,642.1 147.6,639.7 147.8,636.8 C147.9,633.8 148.3,629.1 148.5,626.1 C148.7,623.1 148.6,620.7 148.9,618.9 C149.2,617.1 149.9,616.5 150.3,615.5 C150.8,614.5 151.1,613.8 151.5,613.0 C151.9,612.1 152.3,611.0 152.7,610.2 C153.2,609.4 153.7,608.8 154.2,608.3 C154.8,607.7 155.3,607.0 155.8,607.0Z" fill="url(#mb)"/>
<path d="M175.0,607.0 C175.5,607.0 176.1,607.7 176.6,608.3 C177.1,608.8 177.7,609.4 178.1,610.2 C178.6,611.0 178.9,612.1 179.3,613.0 C179.7,613.8 180.1,614.5 180.5,615.5 C180.9,616.5 181.6,617.1 181.9,618.9 C182.2,620.7 182.1,623.1 182.3,626.1 C182.5,629.1 182.9,633.8 183.1,636.8 C183.2,639.7 183.4,642.1 183.2,644.0 C183.0,645.8 182.6,646.9 182.0,647.8 C181.4,648.7 181.7,649.2 179.7,649.5 C177.8,649.8 172.2,649.8 170.2,649.5 C168.3,649.2 168.5,648.7 168.0,647.8 C167.4,646.9 167.0,645.8 166.8,644.0 C166.6,642.1 166.7,639.7 166.9,636.8 C167.0,633.8 167.4,629.1 167.6,626.1 C167.8,623.1 167.8,620.7 168.1,618.9 C168.4,617.1 169.1,616.5 169.5,615.5 C169.9,614.5 170.3,613.8 170.7,613.0 C171.1,612.1 171.4,611.0 171.9,610.2 C172.3,609.4 172.8,608.8 173.4,608.3 C173.9,607.7 174.5,607.0 175.0,607.0Z" fill="url(#mb)"/>
<path d="M194.1,607.0 C194.7,607.0 195.2,607.7 195.8,608.3 C196.3,608.8 196.8,609.4 197.3,610.2 C197.7,611.0 198.1,612.1 198.4,613.0 C198.8,613.8 199.2,614.5 199.6,615.5 C200.1,616.5 200.7,617.1 201.0,618.9 C201.3,620.7 201.3,623.1 201.5,626.1 C201.7,629.1 202.1,633.8 202.2,636.8 C202.4,639.7 202.5,642.1 202.3,644.0 C202.2,645.8 201.7,646.9 201.2,647.8 C200.6,648.7 200.8,649.2 198.9,649.5 C196.9,649.8 191.3,649.8 189.4,649.5 C187.4,649.2 187.7,648.7 187.1,647.8 C186.5,646.9 186.1,645.8 185.9,644.0 C185.7,642.1 185.9,639.7 186.0,636.8 C186.2,633.8 186.6,629.1 186.8,626.1 C187.0,623.1 186.9,620.7 187.2,618.9 C187.5,617.1 188.2,616.5 188.6,615.5 C189.1,614.5 189.4,613.8 189.8,613.0 C190.2,612.1 190.5,611.0 191.0,610.2 C191.4,609.4 192.0,608.8 192.5,608.3 C193.0,607.7 193.6,607.0 194.1,607.0Z" fill="url(#mb)"/>
<path d="M117.6,653.0 C118.1,653.0 118.7,653.7 119.2,654.3 C119.7,654.8 120.3,655.4 120.7,656.2 C121.2,657.0 121.5,658.1 121.9,659.0 C122.3,659.8 122.6,660.5 123.1,661.5 C123.5,662.5 124.2,663.1 124.5,664.9 C124.8,666.7 124.7,669.1 124.9,672.1 C125.1,675.1 125.5,679.8 125.7,682.8 C125.8,685.7 126.0,688.1 125.8,690.0 C125.6,691.8 125.2,692.9 124.6,693.8 C124.0,694.7 124.3,695.2 122.3,695.5 C120.4,695.8 114.8,695.8 112.8,695.5 C110.9,695.2 111.1,694.7 110.5,693.8 C110.0,692.9 109.5,691.8 109.4,690.0 C109.2,688.1 109.3,685.7 109.5,682.8 C109.6,679.8 110.0,675.1 110.2,672.1 C110.4,669.1 110.4,666.7 110.7,664.9 C111.0,663.1 111.6,662.5 112.1,661.5 C112.5,660.5 112.9,659.8 113.2,659.0 C113.6,658.1 114.0,657.0 114.4,656.2 C114.9,655.4 115.4,654.8 115.9,654.3 C116.5,653.7 117.0,653.0 117.6,653.0Z" fill="url(#mb)"/>
<path d="M136.7,653.0 C137.2,653.0 137.8,653.7 138.3,654.3 C138.9,654.8 139.4,655.4 139.8,656.2 C140.3,657.0 140.6,658.1 141.0,659.0 C141.4,659.8 141.8,660.5 142.2,661.5 C142.7,662.5 143.3,663.1 143.6,664.9 C143.9,666.7 143.9,669.1 144.1,672.1 C144.3,675.1 144.7,679.8 144.8,682.8 C145.0,685.7 145.1,688.1 144.9,690.0 C144.7,691.8 144.3,692.9 143.7,693.8 C143.2,694.7 143.4,695.2 141.5,695.5 C139.5,695.8 133.9,695.8 132.0,695.5 C130.0,695.2 130.3,694.7 129.7,693.8 C129.1,692.9 128.7,691.8 128.5,690.0 C128.3,688.1 128.5,685.7 128.6,682.8 C128.8,679.8 129.2,675.1 129.4,672.1 C129.6,669.1 129.5,666.7 129.8,664.9 C130.1,663.1 130.8,662.5 131.2,661.5 C131.6,660.5 132.0,659.8 132.4,659.0 C132.8,658.1 133.1,657.0 133.6,656.2 C134.0,655.4 134.6,654.8 135.1,654.3 C135.6,653.7 136.2,653.0 136.7,653.0Z" fill="url(#mb)"/>
<path d="M155.8,653.0 C156.4,653.0 156.9,653.7 157.5,654.3 C158.0,654.8 158.5,655.4 159.0,656.2 C159.4,657.0 159.8,658.1 160.2,659.0 C160.6,659.8 160.9,660.5 161.4,661.5 C161.8,662.5 162.5,663.1 162.8,664.9 C163.1,666.7 163.0,669.1 163.2,672.1 C163.4,675.1 163.8,679.8 163.9,682.8 C164.1,685.7 164.2,688.1 164.1,690.0 C163.9,691.8 163.4,692.9 162.9,693.8 C162.3,694.7 162.6,695.2 160.6,695.5 C158.6,695.8 153.1,695.8 151.1,695.5 C149.1,695.2 149.4,694.7 148.8,693.8 C148.3,692.9 147.8,691.8 147.6,690.0 C147.5,688.1 147.6,685.7 147.8,682.8 C147.9,679.8 148.3,675.1 148.5,672.1 C148.7,669.1 148.6,666.7 148.9,664.9 C149.2,663.1 149.9,662.5 150.3,661.5 C150.8,660.5 151.1,659.8 151.5,659.0 C151.9,658.1 152.3,657.0 152.7,656.2 C153.2,655.4 153.7,654.8 154.2,654.3 C154.8,653.7 155.3,653.0 155.8,653.0Z" fill="url(#mb)"/>
<path d="M175.0,653.0 C175.5,653.0 176.1,653.7 176.6,654.3 C177.1,654.8 177.7,655.4 178.1,656.2 C178.6,657.0 178.9,658.1 179.3,659.0 C179.7,659.8 180.1,660.5 180.5,661.5 C180.9,662.5 181.6,663.1 181.9,664.9 C182.2,666.7 182.1,669.1 182.3,672.1 C182.5,675.1 182.9,679.8 183.1,682.8 C183.2,685.7 183.4,688.1 183.2,690.0 C183.0,691.8 182.6,692.9 182.0,693.8 C181.4,694.7 181.7,695.2 179.7,695.5 C177.8,695.8 172.2,695.8 170.2,695.5 C168.3,695.2 168.5,694.7 168.0,693.8 C167.4,692.9 167.0,691.8 166.8,690.0 C166.6,688.1 166.7,685.7 166.9,682.8 C167.0,679.8 167.4,675.1 167.6,672.1 C167.8,669.1 167.8,666.7 168.1,664.9 C168.4,663.1 169.1,662.5 169.5,661.5 C169.9,660.5 170.3,659.8 170.7,659.0 C171.1,658.1 171.4,657.0 171.9,656.2 C172.3,655.4 172.8,654.8 173.4,654.3 C173.9,653.7 174.5,653.0 175.0,653.0Z" fill="url(#mb)"/>
<path d="M194.1,653.0 C194.7,653.0 195.2,653.7 195.8,654.3 C196.3,654.8 196.8,655.4 197.3,656.2 C197.7,657.0 198.1,658.1 198.4,659.0 C198.8,659.8 199.2,660.5 199.6,661.5 C200.1,662.5 200.7,663.1 201.0,664.9 C201.3,666.7 201.3,669.1 201.5,672.1 C201.7,675.1 202.1,679.8 202.2,682.8 C202.4,685.7 202.5,688.1 202.3,690.0 C202.2,691.8 201.7,692.9 201.2,693.8 C200.6,694.7 200.8,695.2 198.9,695.5 C196.9,695.8 191.3,695.8 189.4,695.5 C187.4,695.2 187.7,694.7 187.1,693.8 C186.5,692.9 186.1,691.8 185.9,690.0 C185.7,688.1 185.9,685.7 186.0,682.8 C186.2,679.8 186.6,675.1 186.8,672.1 C187.0,669.1 186.9,666.7 187.2,664.9 C187.5,663.1 188.2,662.5 188.6,661.5 C189.1,660.5 189.4,659.8 189.8,659.0 C190.2,658.1 190.5,657.0 191.0,656.2 C191.4,655.4 192.0,654.8 192.5,654.3 C193.0,653.7 193.6,653.0 194.1,653.0Z" fill="url(#mb)"/>
<path d="M117.6,699.0 C118.1,699.0 118.7,699.7 119.2,700.3 C119.7,700.8 120.3,701.4 120.7,702.2 C121.2,703.0 121.5,704.1 121.9,705.0 C122.3,705.8 122.6,706.5 123.1,707.5 C123.5,708.5 124.2,709.1 124.5,710.9 C124.8,712.7 124.7,715.1 124.9,718.1 C125.1,721.1 125.5,725.8 125.7,728.8 C125.8,731.7 126.0,734.1 125.8,736.0 C125.6,737.8 125.2,738.9 124.6,739.8 C124.0,740.7 124.3,741.2 122.3,741.5 C120.4,741.8 114.8,741.8 112.8,741.5 C110.9,741.2 111.1,740.7 110.5,739.8 C110.0,738.9 109.5,737.8 109.4,736.0 C109.2,734.1 109.3,731.7 109.5,728.8 C109.6,725.8 110.0,721.1 110.2,718.1 C110.4,715.1 110.4,712.7 110.7,710.9 C111.0,709.1 111.6,708.5 112.1,707.5 C112.5,706.5 112.9,705.8 113.2,705.0 C113.6,704.1 114.0,703.0 114.4,702.2 C114.9,701.4 115.4,700.8 115.9,700.3 C116.5,699.7 117.0,699.0 117.6,699.0Z" fill="url(#mb)"/>
<path d="M136.7,699.0 C137.2,699.0 137.8,699.7 138.3,700.3 C138.9,700.8 139.4,701.4 139.8,702.2 C140.3,703.0 140.6,704.1 141.0,705.0 C141.4,705.8 141.8,706.5 142.2,707.5 C142.7,708.5 143.3,709.1 143.6,710.9 C143.9,712.7 143.9,715.1 144.1,718.1 C144.3,721.1 144.7,725.8 144.8,728.8 C145.0,731.7 145.1,734.1 144.9,736.0 C144.7,737.8 144.3,738.9 143.7,739.8 C143.2,740.7 143.4,741.2 141.5,741.5 C139.5,741.8 133.9,741.8 132.0,741.5 C130.0,741.2 130.3,740.7 129.7,739.8 C129.1,738.9 128.7,737.8 128.5,736.0 C128.3,734.1 128.5,731.7 128.6,728.8 C128.8,725.8 129.2,721.1 129.4,718.1 C129.6,715.1 129.5,712.7 129.8,710.9 C130.1,709.1 130.8,708.5 131.2,707.5 C131.6,706.5 132.0,705.8 132.4,705.0 C132.8,704.1 133.1,703.0 133.6,702.2 C134.0,701.4 134.6,700.8 135.1,700.3 C135.6,699.7 136.2,699.0 136.7,699.0Z" fill="url(#mb)"/>
<path d="M155.8,699.0 C156.4,699.0 156.9,699.7 157.5,700.3 C158.0,700.8 158.5,701.4 159.0,702.2 C159.4,703.0 159.8,704.1 160.2,705.0 C160.6,705.8 160.9,706.5 161.4,707.5 C161.8,708.5 162.5,709.1 162.8,710.9 C163.1,712.7 163.0,715.1 163.2,718.1 C163.4,721.1 163.8,725.8 163.9,728.8 C164.1,731.7 164.2,734.1 164.1,736.0 C163.9,737.8 163.4,738.9 162.9,739.8 C162.3,740.7 162.6,741.2 160.6,741.5 C158.6,741.8 153.1,741.8 151.1,741.5 C149.1,741.2 149.4,740.7 148.8,739.8 C148.3,738.9 147.8,737.8 147.6,736.0 C147.5,734.1 147.6,731.7 147.8,728.8 C147.9,725.8 148.3,721.1 148.5,718.1 C148.7,715.1 148.6,712.7 148.9,710.9 C149.2,709.1 149.9,708.5 150.3,707.5 C150.8,706.5 151.1,705.8 151.5,705.0 C151.9,704.1 152.3,703.0 152.7,702.2 C153.2,701.4 153.7,700.8 154.2,700.3 C154.8,699.7 155.3,699.0 155.8,699.0Z" fill="url(#mb)"/>
<path d="M175.0,699.0 C175.5,699.0 176.1,699.7 176.6,700.3 C177.1,700.8 177.7,701.4 178.1,702.2 C178.6,703.0 178.9,704.1 179.3,705.0 C179.7,705.8 180.1,706.5 180.5,707.5 C180.9,708.5 181.6,709.1 181.9,710.9 C182.2,712.7 182.1,715.1 182.3,718.1 C182.5,721.1 182.9,725.8 183.1,728.8 C183.2,731.7 183.4,734.1 183.2,736.0 C183.0,737.8 182.6,738.9 182.0,739.8 C181.4,740.7 181.7,741.2 179.7,741.5 C177.8,741.8 172.2,741.8 170.2,741.5 C168.3,741.2 168.5,740.7 168.0,739.8 C167.4,738.9 167.0,737.8 166.8,736.0 C166.6,734.1 166.7,731.7 166.9,728.8 C167.0,725.8 167.4,721.1 167.6,718.1 C167.8,715.1 167.8,712.7 168.1,710.9 C168.4,709.1 169.1,708.5 169.5,707.5 C169.9,706.5 170.3,705.8 170.7,705.0 C171.1,704.1 171.4,703.0 171.9,702.2 C172.3,701.4 172.8,700.8 173.4,700.3 C173.9,699.7 174.5,699.0 175.0,699.0Z" fill="url(#mb)"/>
<path d="M194.1,699.0 C194.7,699.0 195.2,699.7 195.8,700.3 C196.3,700.8 196.8,701.4 197.3,702.2 C197.7,703.0 198.1,704.1 198.4,705.0 C198.8,705.8 199.2,706.5 199.6,707.5 C200.1,708.5 200.7,709.1 201.0,710.9 C201.3,712.7 201.3,715.1 201.5,718.1 C201.7,721.1 202.1,725.8 202.2,728.8 C202.4,731.7 202.5,734.1 202.3,736.0 C202.2,737.8 201.7,738.9 201.2,739.8 C200.6,740.7 200.8,741.2 198.9,741.5 C196.9,741.8 191.3,741.8 189.4,741.5 C187.4,741.2 187.7,740.7 187.1,739.8 C186.5,738.9 186.1,737.8 185.9,736.0 C185.7,734.1 185.9,731.7 186.0,728.8 C186.2,725.8 186.6,721.1 186.8,718.1 C187.0,715.1 186.9,712.7 187.2,710.9 C187.5,709.1 188.2,708.5 188.6,707.5 C189.1,706.5 189.4,705.8 189.8,705.0 C190.2,704.1 190.5,703.0 191.0,702.2 C191.4,701.4 192.0,700.8 192.5,700.3 C193.0,699.7 193.6,699.0 194.1,699.0Z" fill="url(#mb)"/>
<path d="M117.6,745.0 C118.1,745.0 118.7,745.7 119.2,746.3 C119.7,746.8 120.3,747.4 120.7,748.2 C121.2,749.0 121.5,750.1 121.9,751.0 C122.3,751.8 122.6,752.5 123.1,753.5 C123.5,754.5 124.2,755.1 124.5,756.9 C124.8,758.7 124.7,761.1 124.9,764.1 C125.1,767.1 125.5,771.8 125.7,774.8 C125.8,777.7 126.0,780.1 125.8,782.0 C125.6,783.8 125.2,784.9 124.6,785.8 C124.0,786.7 124.3,787.2 122.3,787.5 C120.4,787.8 114.8,787.8 112.8,787.5 C110.9,787.2 111.1,786.7 110.5,785.8 C110.0,784.9 109.5,783.8 109.4,782.0 C109.2,780.1 109.3,777.7 109.5,774.8 C109.6,771.8 110.0,767.1 110.2,764.1 C110.4,761.1 110.4,758.7 110.7,756.9 C111.0,755.1 111.6,754.5 112.1,753.5 C112.5,752.5 112.9,751.8 113.2,751.0 C113.6,750.1 114.0,749.0 114.4,748.2 C114.9,747.4 115.4,746.8 115.9,746.3 C116.5,745.7 117.0,745.0 117.6,745.0Z" fill="url(#mb)"/>
<path d="M136.7,745.0 C137.2,745.0 137.8,745.7 138.3,746.3 C138.9,746.8 139.4,747.4 139.8,748.2 C140.3,749.0 140.6,750.1 141.0,751.0 C141.4,751.8 141.8,752.5 142.2,753.5 C142.7,754.5 143.3,755.1 143.6,756.9 C143.9,758.7 143.9,761.1 144.1,764.1 C144.3,767.1 144.7,771.8 144.8,774.8 C145.0,777.7 145.1,780.1 144.9,782.0 C144.7,783.8 144.3,784.9 143.7,785.8 C143.2,786.7 143.4,787.2 141.5,787.5 C139.5,787.8 133.9,787.8 132.0,787.5 C130.0,787.2 130.3,786.7 129.7,785.8 C129.1,784.9 128.7,783.8 128.5,782.0 C128.3,780.1 128.5,777.7 128.6,774.8 C128.8,771.8 129.2,767.1 129.4,764.1 C129.6,761.1 129.5,758.7 129.8,756.9 C130.1,755.1 130.8,754.5 131.2,753.5 C131.6,752.5 132.0,751.8 132.4,751.0 C132.8,750.1 133.1,749.0 133.6,748.2 C134.0,747.4 134.6,746.8 135.1,746.3 C135.6,745.7 136.2,745.0 136.7,745.0Z" fill="url(#mb)"/>
<path d="M155.8,745.0 C156.4,745.0 156.9,745.7 157.5,746.3 C158.0,746.8 158.5,747.4 159.0,748.2 C159.4,749.0 159.8,750.1 160.2,751.0 C160.6,751.8 160.9,752.5 161.4,753.5 C161.8,754.5 162.5,755.1 162.8,756.9 C163.1,758.7 163.0,761.1 163.2,764.1 C163.4,767.1 163.8,771.8 163.9,774.8 C164.1,777.7 164.2,780.1 164.1,782.0 C163.9,783.8 163.4,784.9 162.9,785.8 C162.3,786.7 162.6,787.2 160.6,787.5 C158.6,787.8 153.1,787.8 151.1,787.5 C149.1,787.2 149.4,786.7 148.8,785.8 C148.3,784.9 147.8,783.8 147.6,782.0 C147.5,780.1 147.6,777.7 147.8,774.8 C147.9,771.8 148.3,767.1 148.5,764.1 C148.7,761.1 148.6,758.7 148.9,756.9 C149.2,755.1 149.9,754.5 150.3,753.5 C150.8,752.5 151.1,751.8 151.5,751.0 C151.9,750.1 152.3,749.0 152.7,748.2 C153.2,747.4 153.7,746.8 154.2,746.3 C154.8,745.7 155.3,745.0 155.8,745.0Z" fill="url(#mb)"/>
<path d="M175.0,745.0 C175.5,745.0 176.1,745.7 176.6,746.3 C177.1,746.8 177.7,747.4 178.1,748.2 C178.6,749.0 178.9,750.1 179.3,751.0 C179.7,751.8 180.1,752.5 180.5,753.5 C180.9,754.5 181.6,755.1 181.9,756.9 C182.2,758.7 182.1,761.1 182.3,764.1 C182.5,767.1 182.9,771.8 183.1,774.8 C183.2,777.7 183.4,780.1 183.2,782.0 C183.0,783.8 182.6,784.9 182.0,785.8 C181.4,786.7 181.7,787.2 179.7,787.5 C177.8,787.8 172.2,787.8 170.2,787.5 C168.3,787.2 168.5,786.7 168.0,785.8 C167.4,784.9 167.0,783.8 166.8,782.0 C166.6,780.1 166.7,777.7 166.9,774.8 C167.0,771.8 167.4,767.1 167.6,764.1 C167.8,761.1 167.8,758.7 168.1,756.9 C168.4,755.1 169.1,754.5 169.5,753.5 C169.9,752.5 170.3,751.8 170.7,751.0 C171.1,750.1 171.4,749.0 171.9,748.2 C172.3,747.4 172.8,746.8 173.4,746.3 C173.9,745.7 174.5,745.0 175.0,745.0Z" fill="url(#mb)"/>
<path d="M194.1,745.0 C194.7,745.0 195.2,745.7 195.8,746.3 C196.3,746.8 196.8,747.4 197.3,748.2 C197.7,749.0 198.1,750.1 198.4,751.0 C198.8,751.8 199.2,752.5 199.6,753.5 C200.1,754.5 200.7,755.1 201.0,756.9 C201.3,758.7 201.3,761.1 201.5,764.1 C201.7,767.1 202.1,771.8 202.2,774.8 C202.4,777.7 202.5,780.1 202.3,782.0 C202.2,783.8 201.7,784.9 201.2,785.8 C200.6,786.7 200.8,787.2 198.9,787.5 C196.9,787.8 191.3,787.8 189.4,787.5 C187.4,787.2 187.7,786.7 187.1,785.8 C186.5,784.9 186.1,783.8 185.9,782.0 C185.7,780.1 185.9,777.7 186.0,774.8 C186.2,771.8 186.6,767.1 186.8,764.1 C187.0,761.1 186.9,758.7 187.2,756.9 C187.5,755.1 188.2,754.5 188.6,753.5 C189.1,752.5 189.4,751.8 189.8,751.0 C190.2,750.1 190.5,749.0 191.0,748.2 C191.4,747.4 192.0,746.8 192.5,746.3 C193.0,745.7 193.6,745.0 194.1,745.0Z" fill="url(#mb)"/>
<path d="M117.6,791.0 C118.1,791.0 118.7,791.7 119.2,792.3 C119.7,792.8 120.3,793.4 120.7,794.2 C121.2,795.0 121.5,796.1 121.9,797.0 C122.3,797.8 122.6,798.5 123.1,799.5 C123.5,800.5 124.2,801.1 124.5,802.9 C124.8,804.7 124.7,807.1 124.9,810.1 C125.1,813.1 125.5,817.8 125.7,820.8 C125.8,823.7 126.0,826.1 125.8,828.0 C125.6,829.8 125.2,830.9 124.6,831.8 C124.0,832.7 124.3,833.2 122.3,833.5 C120.4,833.8 114.8,833.8 112.8,833.5 C110.9,833.2 111.1,832.7 110.5,831.8 C110.0,830.9 109.5,829.8 109.4,828.0 C109.2,826.1 109.3,823.7 109.5,820.8 C109.6,817.8 110.0,813.1 110.2,810.1 C110.4,807.1 110.4,804.7 110.7,802.9 C111.0,801.1 111.6,800.5 112.1,799.5 C112.5,798.5 112.9,797.8 113.2,797.0 C113.6,796.1 114.0,795.0 114.4,794.2 C114.9,793.4 115.4,792.8 115.9,792.3 C116.5,791.7 117.0,791.0 117.6,791.0Z" fill="url(#mb)"/>
<path d="M136.7,791.0 C137.2,791.0 137.8,791.7 138.3,792.3 C138.9,792.8 139.4,793.4 139.8,794.2 C140.3,795.0 140.6,796.1 141.0,797.0 C141.4,797.8 141.8,798.5 142.2,799.5 C142.7,800.5 143.3,801.1 143.6,802.9 C143.9,804.7 143.9,807.1 144.1,810.1 C144.3,813.1 144.7,817.8 144.8,820.8 C145.0,823.7 145.1,826.1 144.9,828.0 C144.7,829.8 144.3,830.9 143.7,831.8 C143.2,832.7 143.4,833.2 141.5,833.5 C139.5,833.8 133.9,833.8 132.0,833.5 C130.0,833.2 130.3,832.7 129.7,831.8 C129.1,830.9 128.7,829.8 128.5,828.0 C128.3,826.1 128.5,823.7 128.6,820.8 C128.8,817.8 129.2,813.1 129.4,810.1 C129.6,807.1 129.5,804.7 129.8,802.9 C130.1,801.1 130.8,800.5 131.2,799.5 C131.6,798.5 132.0,797.8 132.4,797.0 C132.8,796.1 133.1,795.0 133.6,794.2 C134.0,793.4 134.6,792.8 135.1,792.3 C135.6,791.7 136.2,791.0 136.7,791.0Z" fill="url(#mb)"/>
<path d="M155.8,791.0 C156.4,791.0 156.9,791.7 157.5,792.3 C158.0,792.8 158.5,793.4 159.0,794.2 C159.4,795.0 159.8,796.1 160.2,797.0 C160.6,797.8 160.9,798.5 161.4,799.5 C161.8,800.5 162.5,801.1 162.8,802.9 C163.1,804.7 163.0,807.1 163.2,810.1 C163.4,813.1 163.8,817.8 163.9,820.8 C164.1,823.7 164.2,826.1 164.1,828.0 C163.9,829.8 163.4,830.9 162.9,831.8 C162.3,832.7 162.6,833.2 160.6,833.5 C158.6,833.8 153.1,833.8 151.1,833.5 C149.1,833.2 149.4,832.7 148.8,831.8 C148.3,830.9 147.8,829.8 147.6,828.0 C147.5,826.1 147.6,823.7 147.8,820.8 C147.9,817.8 148.3,813.1 148.5,810.1 C148.7,807.1 148.6,804.7 148.9,802.9 C149.2,801.1 149.9,800.5 150.3,799.5 C150.8,798.5 151.1,797.8 151.5,797.0 C151.9,796.1 152.3,795.0 152.7,794.2 C153.2,793.4 153.7,792.8 154.2,792.3 C154.8,791.7 155.3,791.0 155.8,791.0Z" fill="url(#mb)"/>
<path d="M175.0,791.0 C175.5,791.0 176.1,791.7 176.6,792.3 C177.1,792.8 177.7,793.4 178.1,794.2 C178.6,795.0 178.9,796.1 179.3,797.0 C179.7,797.8 180.1,798.5 180.5,799.5 C180.9,800.5 181.6,801.1 181.9,802.9 C182.2,804.7 182.1,807.1 182.3,810.1 C182.5,813.1 182.9,817.8 183.1,820.8 C183.2,823.7 183.4,826.1 183.2,828.0 C183.0,829.8 182.6,830.9 182.0,831.8 C181.4,832.7 181.7,833.2 179.7,833.5 C177.8,833.8 172.2,833.8 170.2,833.5 C168.3,833.2 168.5,832.7 168.0,831.8 C167.4,830.9 167.0,829.8 166.8,828.0 C166.6,826.1 166.7,823.7 166.9,820.8 C167.0,817.8 167.4,813.1 167.6,810.1 C167.8,807.1 167.8,804.7 168.1,802.9 C168.4,801.1 169.1,800.5 169.5,799.5 C169.9,798.5 170.3,797.8 170.7,797.0 C171.1,796.1 171.4,795.0 171.9,794.2 C172.3,793.4 172.8,792.8 173.4,792.3 C173.9,791.7 174.5,791.0 175.0,791.0Z" fill="url(#mb)"/>
<path d="M194.1,791.0 C194.7,791.0 195.2,791.7 195.8,792.3 C196.3,792.8 196.8,793.4 197.3,794.2 C197.7,795.0 198.1,796.1 198.4,797.0 C198.8,797.8 199.2,798.5 199.6,799.5 C200.1,800.5 200.7,801.1 201.0,802.9 C201.3,804.7 201.3,807.1 201.5,810.1 C201.7,813.1 202.1,817.8 202.2,820.8 C202.4,823.7 202.5,826.1 202.3,828.0 C202.2,829.8 201.7,830.9 201.2,831.8 C200.6,832.7 200.8,833.2 198.9,833.5 C196.9,833.8 191.3,833.8 189.4,833.5 C187.4,833.2 187.7,832.7 187.1,831.8 C186.5,830.9 186.1,829.8 185.9,828.0 C185.7,826.1 185.9,823.7 186.0,820.8 C186.2,817.8 186.6,813.1 186.8,810.1 C187.0,807.1 186.9,804.7 187.2,802.9 C187.5,801.1 188.2,800.5 188.6,799.5 C189.1,798.5 189.4,797.8 189.8,797.0 C190.2,796.1 190.5,795.0 191.0,794.2 C191.4,793.4 192.0,792.8 192.5,792.3 C193.0,791.7 193.6,791.0 194.1,791.0Z" fill="url(#mb)"/>
</g>
<g filter="url(#tex)">
<path d="M218.7,469.0 C219.2,469.0 219.8,469.7 220.3,470.3 C220.8,470.8 221.4,471.4 221.8,472.2 C222.3,473.0 222.6,474.1 223.0,474.9 C223.4,475.8 223.8,476.5 224.2,477.5 C224.6,478.5 225.3,479.1 225.6,480.9 C225.9,482.7 225.8,485.1 226.0,488.1 C226.2,491.1 226.6,495.8 226.8,498.8 C226.9,501.7 227.1,504.1 226.9,506.0 C226.7,507.8 226.3,508.9 225.7,509.8 C225.1,510.7 225.4,511.2 223.4,511.5 C221.5,511.8 215.9,511.8 213.9,511.5 C212.0,511.2 212.2,510.7 211.7,509.8 C211.1,508.9 210.7,507.8 210.5,506.0 C210.3,504.1 210.4,501.7 210.6,498.8 C210.7,495.8 211.1,491.1 211.3,488.1 C211.5,485.1 211.5,482.7 211.8,480.9 C212.1,479.1 212.8,478.5 213.2,477.5 C213.6,476.5 214.0,475.8 214.4,474.9 C214.8,474.1 215.1,473.0 215.6,472.2 C216.0,471.4 216.5,470.8 217.1,470.3 C217.6,469.7 218.2,469.0 218.7,469.0Z" fill="url(#mb)"/>
<path d="M237.9,469.0 C238.4,469.0 239.0,469.7 239.5,470.3 C240.0,470.8 240.6,471.4 241.0,472.2 C241.5,473.0 241.8,474.1 242.2,474.9 C242.6,475.8 242.9,476.5 243.4,477.5 C243.8,478.5 244.5,479.1 244.8,480.9 C245.1,482.7 245.0,485.1 245.2,488.1 C245.4,491.1 245.8,495.8 246.0,498.8 C246.1,501.7 246.3,504.1 246.1,506.0 C245.9,507.8 245.5,508.9 244.9,509.8 C244.3,510.7 244.6,511.2 242.6,511.5 C240.7,511.8 235.1,511.8 233.1,511.5 C231.2,511.2 231.4,510.7 230.8,509.8 C230.3,508.9 229.8,507.8 229.7,506.0 C229.5,504.1 229.6,501.7 229.8,498.8 C229.9,495.8 230.3,491.1 230.5,488.1 C230.7,485.1 230.7,482.7 231.0,480.9 C231.3,479.1 231.9,478.5 232.4,477.5 C232.8,476.5 233.2,475.8 233.6,474.9 C233.9,474.1 234.3,473.0 234.7,472.2 C235.2,471.4 235.7,470.8 236.2,470.3 C236.8,469.7 237.3,469.0 237.9,469.0Z" fill="url(#mb)"/>
<path d="M257.0,469.0 C257.6,469.0 258.1,469.7 258.7,470.3 C259.2,470.8 259.7,471.4 260.2,472.2 C260.6,473.0 261.0,474.1 261.4,474.9 C261.8,475.8 262.1,476.5 262.6,477.5 C263.0,478.5 263.7,479.1 264.0,480.9 C264.3,482.7 264.2,485.1 264.4,488.1 C264.6,491.1 265.0,495.8 265.1,498.8 C265.3,501.7 265.4,504.1 265.3,506.0 C265.1,507.8 264.6,508.9 264.1,509.8 C263.5,510.7 263.8,511.2 261.8,511.5 C259.8,511.8 254.3,511.8 252.3,511.5 C250.3,511.2 250.6,510.7 250.0,509.8 C249.5,508.9 249.0,507.8 248.8,506.0 C248.7,504.1 248.8,501.7 248.9,498.8 C249.1,495.8 249.5,491.1 249.7,488.1 C249.9,485.1 249.8,482.7 250.1,480.9 C250.4,479.1 251.1,478.5 251.5,477.5 C252.0,476.5 252.3,475.8 252.7,474.9 C253.1,474.1 253.5,473.0 253.9,472.2 C254.4,471.4 254.9,470.8 255.4,470.3 C256.0,469.7 256.5,469.0 257.0,469.0Z" fill="url(#mb)"/>
<path d="M276.2,469.0 C276.8,469.0 277.3,469.7 277.8,470.3 C278.4,470.8 278.9,471.4 279.4,472.2 C279.8,473.0 280.2,474.1 280.5,474.9 C280.9,475.8 281.3,476.5 281.7,477.5 C282.2,478.5 282.8,479.1 283.1,480.9 C283.4,482.7 283.4,485.1 283.6,488.1 C283.8,491.1 284.2,495.8 284.3,498.8 C284.5,501.7 284.6,504.1 284.4,506.0 C284.3,507.8 283.8,508.9 283.2,509.8 C282.7,510.7 282.9,511.2 281.0,511.5 C279.0,511.8 273.4,511.8 271.5,511.5 C269.5,511.2 269.8,510.7 269.2,509.8 C268.6,508.9 268.2,507.8 268.0,506.0 C267.8,504.1 268.0,501.7 268.1,498.8 C268.3,495.8 268.7,491.1 268.9,488.1 C269.1,485.1 269.0,482.7 269.3,480.9 C269.6,479.1 270.3,478.5 270.7,477.5 C271.2,476.5 271.5,475.8 271.9,474.9 C272.3,474.1 272.6,473.0 273.1,472.2 C273.5,471.4 274.1,470.8 274.6,470.3 C275.1,469.7 275.7,469.0 276.2,469.0Z" fill="url(#mb)"/>
<path d="M295.4,469.0 C295.9,469.0 296.5,469.7 297.0,470.3 C297.6,470.8 298.1,471.4 298.5,472.2 C299.0,473.0 299.3,474.1 299.7,474.9 C300.1,475.8 300.5,476.5 300.9,477.5 C301.3,478.5 302.0,479.1 302.3,480.9 C302.6,482.7 302.6,485.1 302.8,488.1 C303.0,491.1 303.4,495.8 303.5,498.8 C303.7,501.7 303.8,504.1 303.6,506.0 C303.4,507.8 303.0,508.9 302.4,509.8 C301.9,510.7 302.1,511.2 300.2,511.5 C298.2,511.8 292.6,511.8 290.7,511.5 C288.7,511.2 289.0,510.7 288.4,509.8 C287.8,508.9 287.4,507.8 287.2,506.0 C287.0,504.1 287.2,501.7 287.3,498.8 C287.5,495.8 287.9,491.1 288.1,488.1 C288.3,485.1 288.2,482.7 288.5,480.9 C288.8,479.1 289.5,478.5 289.9,477.5 C290.3,476.5 290.7,475.8 291.1,474.9 C291.5,474.1 291.8,473.0 292.3,472.2 C292.7,471.4 293.3,470.8 293.8,470.3 C294.3,469.7 294.9,469.0 295.4,469.0Z" fill="url(#mb)"/>
<path d="M218.7,515.0 C219.2,515.0 219.8,515.7 220.3,516.3 C220.8,516.8 221.4,517.4 221.8,518.2 C222.3,519.0 222.6,520.1 223.0,521.0 C223.4,521.8 223.8,522.5 224.2,523.5 C224.6,524.5 225.3,525.1 225.6,526.9 C225.9,528.7 225.8,531.1 226.0,534.1 C226.2,537.1 226.6,541.8 226.8,544.8 C226.9,547.7 227.1,550.1 226.9,552.0 C226.7,553.8 226.3,554.9 225.7,555.8 C225.1,556.7 225.4,557.2 223.4,557.5 C221.5,557.8 215.9,557.8 213.9,557.5 C212.0,557.2 212.2,556.7 211.7,555.8 C211.1,554.9 210.7,553.8 210.5,552.0 C210.3,550.1 210.4,547.7 210.6,544.8 C210.7,541.8 211.1,537.1 211.3,534.1 C211.5,531.1 211.5,528.7 211.8,526.9 C212.1,525.1 212.8,524.5 213.2,523.5 C213.6,522.5 214.0,521.8 214.4,521.0 C214.8,520.1 215.1,519.0 215.6,518.2 C216.0,517.4 216.5,516.8 217.1,516.3 C217.6,515.7 218.2,515.0 218.7,515.0Z" fill="url(#mb)"/>
<path d="M237.9,515.0 C238.4,515.0 239.0,515.7 239.5,516.3 C240.0,516.8 240.6,517.4 241.0,518.2 C241.5,519.0 241.8,520.1 242.2,521.0 C242.6,521.8 242.9,522.5 243.4,523.5 C243.8,524.5 244.5,525.1 244.8,526.9 C245.1,528.7 245.0,531.1 245.2,534.1 C245.4,537.1 245.8,541.8 246.0,544.8 C246.1,547.7 246.3,550.1 246.1,552.0 C245.9,553.8 245.5,554.9 244.9,555.8 C244.3,556.7 244.6,557.2 242.6,557.5 C240.7,557.8 235.1,557.8 233.1,557.5 C231.2,557.2 231.4,556.7 230.8,555.8 C230.3,554.9 229.8,553.8 229.7,552.0 C229.5,550.1 229.6,547.7 229.8,544.8 C229.9,541.8 230.3,537.1 230.5,534.1 C230.7,531.1 230.7,528.7 231.0,526.9 C231.3,525.1 231.9,524.5 232.4,523.5 C232.8,522.5 233.2,521.8 233.6,521.0 C233.9,520.1 234.3,519.0 234.7,518.2 C235.2,517.4 235.7,516.8 236.2,516.3 C236.8,515.7 237.3,515.0 237.9,515.0Z" fill="url(#mb)"/>
<path d="M257.0,515.0 C257.6,515.0 258.1,515.7 258.7,516.3 C259.2,516.8 259.7,517.4 260.2,518.2 C260.6,519.0 261.0,520.1 261.4,521.0 C261.8,521.8 262.1,522.5 262.6,523.5 C263.0,524.5 263.7,525.1 264.0,526.9 C264.3,528.7 264.2,531.1 264.4,534.1 C264.6,537.1 265.0,541.8 265.1,544.8 C265.3,547.7 265.4,550.1 265.3,552.0 C265.1,553.8 264.6,554.9 264.1,555.8 C263.5,556.7 263.8,557.2 261.8,557.5 C259.8,557.8 254.3,557.8 252.3,557.5 C250.3,557.2 250.6,556.7 250.0,555.8 C249.5,554.9 249.0,553.8 248.8,552.0 C248.7,550.1 248.8,547.7 248.9,544.8 C249.1,541.8 249.5,537.1 249.7,534.1 C249.9,531.1 249.8,528.7 250.1,526.9 C250.4,525.1 251.1,524.5 251.5,523.5 C252.0,522.5 252.3,521.8 252.7,521.0 C253.1,520.1 253.5,519.0 253.9,518.2 C254.4,517.4 254.9,516.8 255.4,516.3 C256.0,515.7 256.5,515.0 257.0,515.0Z" fill="url(#mb)"/>
<path d="M276.2,515.0 C276.8,515.0 277.3,515.7 277.8,516.3 C278.4,516.8 278.9,517.4 279.4,518.2 C279.8,519.0 280.2,520.1 280.5,521.0 C280.9,521.8 281.3,522.5 281.7,523.5 C282.2,524.5 282.8,525.1 283.1,526.9 C283.4,528.7 283.4,531.1 283.6,534.1 C283.8,537.1 284.2,541.8 284.3,544.8 C284.5,547.7 284.6,550.1 284.4,552.0 C284.3,553.8 283.8,554.9 283.2,555.8 C282.7,556.7 282.9,557.2 281.0,557.5 C279.0,557.8 273.4,557.8 271.5,557.5 C269.5,557.2 269.8,556.7 269.2,555.8 C268.6,554.9 268.2,553.8 268.0,552.0 C267.8,550.1 268.0,547.7 268.1,544.8 C268.3,541.8 268.7,537.1 268.9,534.1 C269.1,531.1 269.0,528.7 269.3,526.9 C269.6,525.1 270.3,524.5 270.7,523.5 C271.2,522.5 271.5,521.8 271.9,521.0 C272.3,520.1 272.6,519.0 273.1,518.2 C273.5,517.4 274.1,516.8 274.6,516.3 C275.1,515.7 275.7,515.0 276.2,515.0Z" fill="url(#mb)"/>
<path d="M295.4,515.0 C295.9,515.0 296.5,515.7 297.0,516.3 C297.6,516.8 298.1,517.4 298.5,518.2 C299.0,519.0 299.3,520.1 299.7,521.0 C300.1,521.8 300.5,522.5 300.9,523.5 C301.3,524.5 302.0,525.1 302.3,526.9 C302.6,528.7 302.6,531.1 302.8,534.1 C303.0,537.1 303.4,541.8 303.5,544.8 C303.7,547.7 303.8,550.1 303.6,552.0 C303.4,553.8 303.0,554.9 302.4,555.8 C301.9,556.7 302.1,557.2 300.2,557.5 C298.2,557.8 292.6,557.8 290.7,557.5 C288.7,557.2 289.0,556.7 288.4,555.8 C287.8,554.9 287.4,553.8 287.2,552.0 C287.0,550.1 287.2,547.7 287.3,544.8 C287.5,541.8 287.9,537.1 288.1,534.1 C288.3,531.1 288.2,528.7 288.5,526.9 C288.8,525.1 289.5,524.5 289.9,523.5 C290.3,522.5 290.7,521.8 291.1,521.0 C291.5,520.1 291.8,519.0 292.3,518.2 C292.7,517.4 293.3,516.8 293.8,516.3 C294.3,515.7 294.9,515.0 295.4,515.0Z" fill="url(#mb)"/>
<path d="M218.7,561.0 C219.2,561.0 219.8,561.7 220.3,562.3 C220.8,562.8 221.4,563.4 221.8,564.2 C222.3,565.0 222.6,566.1 223.0,567.0 C223.4,567.8 223.8,568.5 224.2,569.5 C224.6,570.5 225.3,571.1 225.6,572.9 C225.9,574.7 225.8,577.1 226.0,580.1 C226.2,583.1 226.6,587.8 226.8,590.8 C226.9,593.7 227.1,596.1 226.9,598.0 C226.7,599.8 226.3,600.9 225.7,601.8 C225.1,602.7 225.4,603.2 223.4,603.5 C221.5,603.8 215.9,603.8 213.9,603.5 C212.0,603.2 212.2,602.7 211.7,601.8 C211.1,600.9 210.7,599.8 210.5,598.0 C210.3,596.1 210.4,593.7 210.6,590.8 C210.7,587.8 211.1,583.1 211.3,580.1 C211.5,577.1 211.5,574.7 211.8,572.9 C212.1,571.1 212.8,570.5 213.2,569.5 C213.6,568.5 214.0,567.8 214.4,567.0 C214.8,566.1 215.1,565.0 215.6,564.2 C216.0,563.4 216.5,562.8 217.1,562.3 C217.6,561.7 218.2,561.0 218.7,561.0Z" fill="url(#mb)"/>
<path d="M237.9,561.0 C238.4,561.0 239.0,561.7 239.5,562.3 C240.0,562.8 240.6,563.4 241.0,564.2 C241.5,565.0 241.8,566.1 242.2,567.0 C242.6,567.8 242.9,568.5 243.4,569.5 C243.8,570.5 244.5,571.1 244.8,572.9 C245.1,574.7 245.0,577.1 245.2,580.1 C245.4,583.1 245.8,587.8 246.0,590.8 C246.1,593.7 246.3,596.1 246.1,598.0 C245.9,599.8 245.5,600.9 244.9,601.8 C244.3,602.7 244.6,603.2 242.6,603.5 C240.7,603.8 235.1,603.8 233.1,603.5 C231.2,603.2 231.4,602.7 230.8,601.8 C230.3,600.9 229.8,599.8 229.7,598.0 C229.5,596.1 229.6,593.7 229.8,590.8 C229.9,587.8 230.3,583.1 230.5,580.1 C230.7,577.1 230.7,574.7 231.0,572.9 C231.3,571.1 231.9,570.5 232.4,569.5 C232.8,568.5 233.2,567.8 233.6,567.0 C233.9,566.1 234.3,565.0 234.7,564.2 C235.2,563.4 235.7,562.8 236.2,562.3 C236.8,561.7 237.3,561.0 237.9,561.0Z" fill="url(#mb)"/>
<path d="M257.0,561.0 C257.6,561.0 258.1,561.7 258.7,562.3 C259.2,562.8 259.7,563.4 260.2,564.2 C260.6,565.0 261.0,566.1 261.4,567.0 C261.8,567.8 262.1,568.5 262.6,569.5 C263.0,570.5 263.7,571.1 264.0,572.9 C264.3,574.7 264.2,577.1 264.4,580.1 C264.6,583.1 265.0,587.8 265.1,590.8 C265.3,593.7 265.4,596.1 265.3,598.0 C265.1,599.8 264.6,600.9 264.1,601.8 C263.5,602.7 263.8,603.2 261.8,603.5 C259.8,603.8 254.3,603.8 252.3,603.5 C250.3,603.2 250.6,602.7 250.0,601.8 C249.5,600.9 249.0,599.8 248.8,598.0 C248.7,596.1 248.8,593.7 248.9,590.8 C249.1,587.8 249.5,583.1 249.7,580.1 C249.9,577.1 249.8,574.7 250.1,572.9 C250.4,571.1 251.1,570.5 251.5,569.5 C252.0,568.5 252.3,567.8 252.7,567.0 C253.1,566.1 253.5,565.0 253.9,564.2 C254.4,563.4 254.9,562.8 255.4,562.3 C256.0,561.7 256.5,561.0 257.0,561.0Z" fill="url(#mb)"/>
<path d="M276.2,561.0 C276.8,561.0 277.3,561.7 277.8,562.3 C278.4,562.8 278.9,563.4 279.4,564.2 C279.8,565.0 280.2,566.1 280.5,567.0 C280.9,567.8 281.3,568.5 281.7,569.5 C282.2,570.5 282.8,571.1 283.1,572.9 C283.4,574.7 283.4,577.1 283.6,580.1 C283.8,583.1 284.2,587.8 284.3,590.8 C284.5,593.7 284.6,596.1 284.4,598.0 C284.3,599.8 283.8,600.9 283.2,601.8 C282.7,602.7 282.9,603.2 281.0,603.5 C279.0,603.8 273.4,603.8 271.5,603.5 C269.5,603.2 269.8,602.7 269.2,601.8 C268.6,600.9 268.2,599.8 268.0,598.0 C267.8,596.1 268.0,593.7 268.1,590.8 C268.3,587.8 268.7,583.1 268.9,580.1 C269.1,577.1 269.0,574.7 269.3,572.9 C269.6,571.1 270.3,570.5 270.7,569.5 C271.2,568.5 271.5,567.8 271.9,567.0 C272.3,566.1 272.6,565.0 273.1,564.2 C273.5,563.4 274.1,562.8 274.6,562.3 C275.1,561.7 275.7,561.0 276.2,561.0Z" fill="url(#mb)"/>
<path d="M295.4,561.0 C295.9,561.0 296.5,561.7 297.0,562.3 C297.6,562.8 298.1,563.4 298.5,564.2 C299.0,565.0 299.3,566.1 299.7,567.0 C300.1,567.8 300.5,568.5 300.9,569.5 C301.3,570.5 302.0,571.1 302.3,572.9 C302.6,574.7 302.6,577.1 302.8,580.1 C303.0,583.1 303.4,587.8 303.5,590.8 C303.7,593.7 303.8,596.1 303.6,598.0 C303.4,599.8 303.0,600.9 302.4,601.8 C301.9,602.7 302.1,603.2 300.2,603.5 C298.2,603.8 292.6,603.8 290.7,603.5 C288.7,603.2 289.0,602.7 288.4,601.8 C287.8,600.9 287.4,599.8 287.2,598.0 C287.0,596.1 287.2,593.7 287.3,590.8 C287.5,587.8 287.9,583.1 288.1,580.1 C288.3,577.1 288.2,574.7 288.5,572.9 C288.8,571.1 289.5,570.5 289.9,569.5 C290.3,568.5 290.7,567.8 291.1,567.0 C291.5,566.1 291.8,565.0 292.3,564.2 C292.7,563.4 293.3,562.8 293.8,562.3 C294.3,561.7 294.9,561.0 295.4,561.0Z" fill="url(#mb)"/>
<path d="M218.7,607.0 C219.2,607.0 219.8,607.7 220.3,608.3 C220.8,608.8 221.4,609.4 221.8,610.2 C222.3,611.0 222.6,612.1 223.0,613.0 C223.4,613.8 223.8,614.5 224.2,615.5 C224.6,616.5 225.3,617.1 225.6,618.9 C225.9,620.7 225.8,623.1 226.0,626.1 C226.2,629.1 226.6,633.8 226.8,636.8 C226.9,639.7 227.1,642.1 226.9,644.0 C226.7,645.8 226.3,646.9 225.7,647.8 C225.1,648.7 225.4,649.2 223.4,649.5 C221.5,649.8 215.9,649.8 213.9,649.5 C212.0,649.2 212.2,648.7 211.7,647.8 C211.1,646.9 210.7,645.8 210.5,644.0 C210.3,642.1 210.4,639.7 210.6,636.8 C210.7,633.8 211.1,629.1 211.3,626.1 C211.5,623.1 211.5,620.7 211.8,618.9 C212.1,617.1 212.8,616.5 213.2,615.5 C213.6,614.5 214.0,613.8 214.4,613.0 C214.8,612.1 215.1,611.0 215.6,610.2 C216.0,609.4 216.5,608.8 217.1,608.3 C217.6,607.7 218.2,607.0 218.7,607.0Z" fill="url(#mb)"/>
<path d="M237.9,607.0 C238.4,607.0 239.0,607.7 239.5,608.3 C240.0,608.8 240.6,609.4 241.0,610.2 C241.5,611.0 241.8,612.1 242.2,613.0 C242.6,613.8 242.9,614.5 243.4,615.5 C243.8,616.5 244.5,617.1 244.8,618.9 C245.1,620.7 245.0,623.1 245.2,626.1 C245.4,629.1 245.8,633.8 246.0,636.8 C246.1,639.7 246.3,642.1 246.1,644.0 C245.9,645.8 245.5,646.9 244.9,647.8 C244.3,648.7 244.6,649.2 242.6,649.5 C240.7,649.8 235.1,649.8 233.1,649.5 C231.2,649.2 231.4,648.7 230.8,647.8 C230.3,646.9 229.8,645.8 229.7,644.0 C229.5,642.1 229.6,639.7 229.8,636.8 C229.9,633.8 230.3,629.1 230.5,626.1 C230.7,623.1 230.7,620.7 231.0,618.9 C231.3,617.1 231.9,616.5 232.4,615.5 C232.8,614.5 233.2,613.8 233.6,613.0 C233.9,612.1 234.3,611.0 234.7,610.2 C235.2,609.4 235.7,608.8 236.2,608.3 C236.8,607.7 237.3,607.0 237.9,607.0Z" fill="url(#mb)"/>
<path d="M257.0,607.0 C257.6,607.0 258.1,607.7 258.7,608.3 C259.2,608.8 259.7,609.4 260.2,610.2 C260.6,611.0 261.0,612.1 261.4,613.0 C261.8,613.8 262.1,614.5 262.6,615.5 C263.0,616.5 263.7,617.1 264.0,618.9 C264.3,620.7 264.2,623.1 264.4,626.1 C264.6,629.1 265.0,633.8 265.1,636.8 C265.3,639.7 265.4,642.1 265.3,644.0 C265.1,645.8 264.6,646.9 264.1,647.8 C263.5,648.7 263.8,649.2 261.8,649.5 C259.8,649.8 254.3,649.8 252.3,649.5 C250.3,649.2 250.6,648.7 250.0,647.8 C249.5,646.9 249.0,645.8 248.8,644.0 C248.7,642.1 248.8,639.7 248.9,636.8 C249.1,633.8 249.5,629.1 249.7,626.1 C249.9,623.1 249.8,620.7 250.1,618.9 C250.4,617.1 251.1,616.5 251.5,615.5 C252.0,614.5 252.3,613.8 252.7,613.0 C253.1,612.1 253.5,611.0 253.9,610.2 C254.4,609.4 254.9,608.8 255.4,608.3 C256.0,607.7 256.5,607.0 257.0,607.0Z" fill="url(#mb)"/>
<path d="M276.2,607.0 C276.8,607.0 277.3,607.7 277.8,608.3 C278.4,608.8 278.9,609.4 279.4,610.2 C279.8,611.0 280.2,612.1 280.5,613.0 C280.9,613.8 281.3,614.5 281.7,615.5 C282.2,616.5 282.8,617.1 283.1,618.9 C283.4,620.7 283.4,623.1 283.6,626.1 C283.8,629.1 284.2,633.8 284.3,636.8 C284.5,639.7 284.6,642.1 284.4,644.0 C284.3,645.8 283.8,646.9 283.2,647.8 C282.7,648.7 282.9,649.2 281.0,649.5 C279.0,649.8 273.4,649.8 271.5,649.5 C269.5,649.2 269.8,648.7 269.2,647.8 C268.6,646.9 268.2,645.8 268.0,644.0 C267.8,642.1 268.0,639.7 268.1,636.8 C268.3,633.8 268.7,629.1 268.9,626.1 C269.1,623.1 269.0,620.7 269.3,618.9 C269.6,617.1 270.3,616.5 270.7,615.5 C271.2,614.5 271.5,613.8 271.9,613.0 C272.3,612.1 272.6,611.0 273.1,610.2 C273.5,609.4 274.1,608.8 274.6,608.3 C275.1,607.7 275.7,607.0 276.2,607.0Z" fill="url(#mb)"/>
<path d="M295.4,607.0 C295.9,607.0 296.5,607.7 297.0,608.3 C297.6,608.8 298.1,609.4 298.5,610.2 C299.0,611.0 299.3,612.1 299.7,613.0 C300.1,613.8 300.5,614.5 300.9,615.5 C301.3,616.5 302.0,617.1 302.3,618.9 C302.6,620.7 302.6,623.1 302.8,626.1 C303.0,629.1 303.4,633.8 303.5,636.8 C303.7,639.7 303.8,642.1 303.6,644.0 C303.4,645.8 303.0,646.9 302.4,647.8 C301.9,648.7 302.1,649.2 300.2,649.5 C298.2,649.8 292.6,649.8 290.7,649.5 C288.7,649.2 289.0,648.7 288.4,647.8 C287.8,646.9 287.4,645.8 287.2,644.0 C287.0,642.1 287.2,639.7 287.3,636.8 C287.5,633.8 287.9,629.1 288.1,626.1 C288.3,623.1 288.2,620.7 288.5,618.9 C288.8,617.1 289.5,616.5 289.9,615.5 C290.3,614.5 290.7,613.8 291.1,613.0 C291.5,612.1 291.8,611.0 292.3,610.2 C292.7,609.4 293.3,608.8 293.8,608.3 C294.3,607.7 294.9,607.0 295.4,607.0Z" fill="url(#mb)"/>
<path d="M218.7,653.0 C219.2,653.0 219.8,653.7 220.3,654.3 C220.8,654.8 221.4,655.4 221.8,656.2 C222.3,657.0 222.6,658.1 223.0,659.0 C223.4,659.8 223.8,660.5 224.2,661.5 C224.6,662.5 225.3,663.1 225.6,664.9 C225.9,666.7 225.8,669.1 226.0,672.1 C226.2,675.1 226.6,679.8 226.8,682.8 C226.9,685.7 227.1,688.1 226.9,690.0 C226.7,691.8 226.3,692.9 225.7,693.8 C225.1,694.7 225.4,695.2 223.4,695.5 C221.5,695.8 215.9,695.8 213.9,695.5 C212.0,695.2 212.2,694.7 211.7,693.8 C211.1,692.9 210.7,691.8 210.5,690.0 C210.3,688.1 210.4,685.7 210.6,682.8 C210.7,679.8 211.1,675.1 211.3,672.1 C211.5,669.1 211.5,666.7 211.8,664.9 C212.1,663.1 212.8,662.5 213.2,661.5 C213.6,660.5 214.0,659.8 214.4,659.0 C214.8,658.1 215.1,657.0 215.6,656.2 C216.0,655.4 216.5,654.8 217.1,654.3 C217.6,653.7 218.2,653.0 218.7,653.0Z" fill="url(#mb)"/>
<path d="M237.9,653.0 C238.4,653.0 239.0,653.7 239.5,654.3 C240.0,654.8 240.6,655.4 241.0,656.2 C241.5,657.0 241.8,658.1 242.2,659.0 C242.6,659.8 242.9,660.5 243.4,661.5 C243.8,662.5 244.5,663.1 244.8,664.9 C245.1,666.7 245.0,669.1 245.2,672.1 C245.4,675.1 245.8,679.8 246.0,682.8 C246.1,685.7 246.3,688.1 246.1,690.0 C245.9,691.8 245.5,692.9 244.9,693.8 C244.3,694.7 244.6,695.2 242.6,695.5 C240.7,695.8 235.1,695.8 233.1,695.5 C231.2,695.2 231.4,694.7 230.8,693.8 C230.3,692.9 229.8,691.8 229.7,690.0 C229.5,688.1 229.6,685.7 229.8,682.8 C229.9,679.8 230.3,675.1 230.5,672.1 C230.7,669.1 230.7,666.7 231.0,664.9 C231.3,663.1 231.9,662.5 232.4,661.5 C232.8,660.5 233.2,659.8 233.6,659.0 C233.9,658.1 234.3,657.0 234.7,656.2 C235.2,655.4 235.7,654.8 236.2,654.3 C236.8,653.7 237.3,653.0 237.9,653.0Z" fill="url(#mb)"/>
<path d="M257.0,653.0 C257.6,653.0 258.1,653.7 258.7,654.3 C259.2,654.8 259.7,655.4 260.2,656.2 C260.6,657.0 261.0,658.1 261.4,659.0 C261.8,659.8 262.1,660.5 262.6,661.5 C263.0,662.5 263.7,663.1 264.0,664.9 C264.3,666.7 264.2,669.1 264.4,672.1 C264.6,675.1 265.0,679.8 265.1,682.8 C265.3,685.7 265.4,688.1 265.3,690.0 C265.1,691.8 264.6,692.9 264.1,693.8 C263.5,694.7 263.8,695.2 261.8,695.5 C259.8,695.8 254.3,695.8 252.3,695.5 C250.3,695.2 250.6,694.7 250.0,693.8 C249.5,692.9 249.0,691.8 248.8,690.0 C248.7,688.1 248.8,685.7 248.9,682.8 C249.1,679.8 249.5,675.1 249.7,672.1 C249.9,669.1 249.8,666.7 250.1,664.9 C250.4,663.1 251.1,662.5 251.5,661.5 C252.0,660.5 252.3,659.8 252.7,659.0 C253.1,658.1 253.5,657.0 253.9,656.2 C254.4,655.4 254.9,654.8 255.4,654.3 C256.0,653.7 256.5,653.0 257.0,653.0Z" fill="url(#mb)"/>
<path d="M276.2,653.0 C276.8,653.0 277.3,653.7 277.8,654.3 C278.4,654.8 278.9,655.4 279.4,656.2 C279.8,657.0 280.2,658.1 280.5,659.0 C280.9,659.8 281.3,660.5 281.7,661.5 C282.2,662.5 282.8,663.1 283.1,664.9 C283.4,666.7 283.4,669.1 283.6,672.1 C283.8,675.1 284.2,679.8 284.3,682.8 C284.5,685.7 284.6,688.1 284.4,690.0 C284.3,691.8 283.8,692.9 283.2,693.8 C282.7,694.7 282.9,695.2 281.0,695.5 C279.0,695.8 273.4,695.8 271.5,695.5 C269.5,695.2 269.8,694.7 269.2,693.8 C268.6,692.9 268.2,691.8 268.0,690.0 C267.8,688.1 268.0,685.7 268.1,682.8 C268.3,679.8 268.7,675.1 268.9,672.1 C269.1,669.1 269.0,666.7 269.3,664.9 C269.6,663.1 270.3,662.5 270.7,661.5 C271.2,660.5 271.5,659.8 271.9,659.0 C272.3,658.1 272.6,657.0 273.1,656.2 C273.5,655.4 274.1,654.8 274.6,654.3 C275.1,653.7 275.7,653.0 276.2,653.0Z" fill="url(#mb)"/>
<path d="M295.4,653.0 C295.9,653.0 296.5,653.7 297.0,654.3 C297.6,654.8 298.1,655.4 298.5,656.2 C299.0,657.0 299.3,658.1 299.7,659.0 C300.1,659.8 300.5,660.5 300.9,661.5 C301.3,662.5 302.0,663.1 302.3,664.9 C302.6,666.7 302.6,669.1 302.8,672.1 C303.0,675.1 303.4,679.8 303.5,682.8 C303.7,685.7 303.8,688.1 303.6,690.0 C303.4,691.8 303.0,692.9 302.4,693.8 C301.9,694.7 302.1,695.2 300.2,695.5 C298.2,695.8 292.6,695.8 290.7,695.5 C288.7,695.2 289.0,694.7 288.4,693.8 C287.8,692.9 287.4,691.8 287.2,690.0 C287.0,688.1 287.2,685.7 287.3,682.8 C287.5,679.8 287.9,675.1 288.1,672.1 C288.3,669.1 288.2,666.7 288.5,664.9 C288.8,663.1 289.5,662.5 289.9,661.5 C290.3,660.5 290.7,659.8 291.1,659.0 C291.5,658.1 291.8,657.0 292.3,656.2 C292.7,655.4 293.3,654.8 293.8,654.3 C294.3,653.7 294.9,653.0 295.4,653.0Z" fill="url(#mb)"/>
<path d="M218.7,699.0 C219.2,699.0 219.8,699.7 220.3,700.3 C220.8,700.8 221.4,701.4 221.8,702.2 C222.3,703.0 222.6,704.1 223.0,705.0 C223.4,705.8 223.8,706.5 224.2,707.5 C224.6,708.5 225.3,709.1 225.6,710.9 C225.9,712.7 225.8,715.1 226.0,718.1 C226.2,721.1 226.6,725.8 226.8,728.8 C226.9,731.7 227.1,734.1 226.9,736.0 C226.7,737.8 226.3,738.9 225.7,739.8 C225.1,740.7 225.4,741.2 223.4,741.5 C221.5,741.8 215.9,741.8 213.9,741.5 C212.0,741.2 212.2,740.7 211.7,739.8 C211.1,738.9 210.7,737.8 210.5,736.0 C210.3,734.1 210.4,731.7 210.6,728.8 C210.7,725.8 211.1,721.1 211.3,718.1 C211.5,715.1 211.5,712.7 211.8,710.9 C212.1,709.1 212.8,708.5 213.2,707.5 C213.6,706.5 214.0,705.8 214.4,705.0 C214.8,704.1 215.1,703.0 215.6,702.2 C216.0,701.4 216.5,700.8 217.1,700.3 C217.6,699.7 218.2,699.0 218.7,699.0Z" fill="url(#mb)"/>
<path d="M237.9,699.0 C238.4,699.0 239.0,699.7 239.5,700.3 C240.0,700.8 240.6,701.4 241.0,702.2 C241.5,703.0 241.8,704.1 242.2,705.0 C242.6,705.8 242.9,706.5 243.4,707.5 C243.8,708.5 244.5,709.1 244.8,710.9 C245.1,712.7 245.0,715.1 245.2,718.1 C245.4,721.1 245.8,725.8 246.0,728.8 C246.1,731.7 246.3,734.1 246.1,736.0 C245.9,737.8 245.5,738.9 244.9,739.8 C244.3,740.7 244.6,741.2 242.6,741.5 C240.7,741.8 235.1,741.8 233.1,741.5 C231.2,741.2 231.4,740.7 230.8,739.8 C230.3,738.9 229.8,737.8 229.7,736.0 C229.5,734.1 229.6,731.7 229.8,728.8 C229.9,725.8 230.3,721.1 230.5,718.1 C230.7,715.1 230.7,712.7 231.0,710.9 C231.3,709.1 231.9,708.5 232.4,707.5 C232.8,706.5 233.2,705.8 233.6,705.0 C233.9,704.1 234.3,703.0 234.7,702.2 C235.2,701.4 235.7,700.8 236.2,700.3 C236.8,699.7 237.3,699.0 237.9,699.0Z" fill="url(#mb)"/>
<path d="M257.0,699.0 C257.6,699.0 258.1,699.7 258.7,700.3 C259.2,700.8 259.7,701.4 260.2,702.2 C260.6,703.0 261.0,704.1 261.4,705.0 C261.8,705.8 262.1,706.5 262.6,707.5 C263.0,708.5 263.7,709.1 264.0,710.9 C264.3,712.7 264.2,715.1 264.4,718.1 C264.6,721.1 265.0,725.8 265.1,728.8 C265.3,731.7 265.4,734.1 265.3,736.0 C265.1,737.8 264.6,738.9 264.1,739.8 C263.5,740.7 263.8,741.2 261.8,741.5 C259.8,741.8 254.3,741.8 252.3,741.5 C250.3,741.2 250.6,740.7 250.0,739.8 C249.5,738.9 249.0,737.8 248.8,736.0 C248.7,734.1 248.8,731.7 248.9,728.8 C249.1,725.8 249.5,721.1 249.7,718.1 C249.9,715.1 249.8,712.7 250.1,710.9 C250.4,709.1 251.1,708.5 251.5,707.5 C252.0,706.5 252.3,705.8 252.7,705.0 C253.1,704.1 253.5,703.0 253.9,702.2 C254.4,701.4 254.9,700.8 255.4,700.3 C256.0,699.7 256.5,699.0 257.0,699.0Z" fill="url(#mb)"/>
<path d="M276.2,699.0 C276.8,699.0 277.3,699.7 277.8,700.3 C278.4,700.8 278.9,701.4 279.4,702.2 C279.8,703.0 280.2,704.1 280.5,705.0 C280.9,705.8 281.3,706.5 281.7,707.5 C282.2,708.5 282.8,709.1 283.1,710.9 C283.4,712.7 283.4,715.1 283.6,718.1 C283.8,721.1 284.2,725.8 284.3,728.8 C284.5,731.7 284.6,734.1 284.4,736.0 C284.3,737.8 283.8,738.9 283.2,739.8 C282.7,740.7 282.9,741.2 281.0,741.5 C279.0,741.8 273.4,741.8 271.5,741.5 C269.5,741.2 269.8,740.7 269.2,739.8 C268.6,738.9 268.2,737.8 268.0,736.0 C267.8,734.1 268.0,731.7 268.1,728.8 C268.3,725.8 268.7,721.1 268.9,718.1 C269.1,715.1 269.0,712.7 269.3,710.9 C269.6,709.1 270.3,708.5 270.7,707.5 C271.2,706.5 271.5,705.8 271.9,705.0 C272.3,704.1 272.6,703.0 273.1,702.2 C273.5,701.4 274.1,700.8 274.6,700.3 C275.1,699.7 275.7,699.0 276.2,699.0Z" fill="url(#mb)"/>
<path d="M295.4,699.0 C295.9,699.0 296.5,699.7 297.0,700.3 C297.6,700.8 298.1,701.4 298.5,702.2 C299.0,703.0 299.3,704.1 299.7,705.0 C300.1,705.8 300.5,706.5 300.9,707.5 C301.3,708.5 302.0,709.1 302.3,710.9 C302.6,712.7 302.6,715.1 302.8,718.1 C303.0,721.1 303.4,725.8 303.5,728.8 C303.7,731.7 303.8,734.1 303.6,736.0 C303.4,737.8 303.0,738.9 302.4,739.8 C301.9,740.7 302.1,741.2 300.2,741.5 C298.2,741.8 292.6,741.8 290.7,741.5 C288.7,741.2 289.0,740.7 288.4,739.8 C287.8,738.9 287.4,737.8 287.2,736.0 C287.0,734.1 287.2,731.7 287.3,728.8 C287.5,725.8 287.9,721.1 288.1,718.1 C288.3,715.1 288.2,712.7 288.5,710.9 C288.8,709.1 289.5,708.5 289.9,707.5 C290.3,706.5 290.7,705.8 291.1,705.0 C291.5,704.1 291.8,703.0 292.3,702.2 C292.7,701.4 293.3,700.8 293.8,700.3 C294.3,699.7 294.9,699.0 295.4,699.0Z" fill="url(#mb)"/>
<path d="M218.7,745.0 C219.2,745.0 219.8,745.7 220.3,746.3 C220.8,746.8 221.4,747.4 221.8,748.2 C222.3,749.0 222.6,750.1 223.0,751.0 C223.4,751.8 223.8,752.5 224.2,753.5 C224.6,754.5 225.3,755.1 225.6,756.9 C225.9,758.7 225.8,761.1 226.0,764.1 C226.2,767.1 226.6,771.8 226.8,774.8 C226.9,777.7 227.1,780.1 226.9,782.0 C226.7,783.8 226.3,784.9 225.7,785.8 C225.1,786.7 225.4,787.2 223.4,787.5 C221.5,787.8 215.9,787.8 213.9,787.5 C212.0,787.2 212.2,786.7 211.7,785.8 C211.1,784.9 210.7,783.8 210.5,782.0 C210.3,780.1 210.4,777.7 210.6,774.8 C210.7,771.8 211.1,767.1 211.3,764.1 C211.5,761.1 211.5,758.7 211.8,756.9 C212.1,755.1 212.8,754.5 213.2,753.5 C213.6,752.5 214.0,751.8 214.4,751.0 C214.8,750.1 215.1,749.0 215.6,748.2 C216.0,747.4 216.5,746.8 217.1,746.3 C217.6,745.7 218.2,745.0 218.7,745.0Z" fill="url(#mb)"/>
<path d="M237.9,745.0 C238.4,745.0 239.0,745.7 239.5,746.3 C240.0,746.8 240.6,747.4 241.0,748.2 C241.5,749.0 241.8,750.1 242.2,751.0 C242.6,751.8 242.9,752.5 243.4,753.5 C243.8,754.5 244.5,755.1 244.8,756.9 C245.1,758.7 245.0,761.1 245.2,764.1 C245.4,767.1 245.8,771.8 246.0,774.8 C246.1,777.7 246.3,780.1 246.1,782.0 C245.9,783.8 245.5,784.9 244.9,785.8 C244.3,786.7 244.6,787.2 242.6,787.5 C240.7,787.8 235.1,787.8 233.1,787.5 C231.2,787.2 231.4,786.7 230.8,785.8 C230.3,784.9 229.8,783.8 229.7,782.0 C229.5,780.1 229.6,777.7 229.8,774.8 C229.9,771.8 230.3,767.1 230.5,764.1 C230.7,761.1 230.7,758.7 231.0,756.9 C231.3,755.1 231.9,754.5 232.4,753.5 C232.8,752.5 233.2,751.8 233.6,751.0 C233.9,750.1 234.3,749.0 234.7,748.2 C235.2,747.4 235.7,746.8 236.2,746.3 C236.8,745.7 237.3,745.0 237.9,745.0Z" fill="url(#mb)"/>
<path d="M257.0,745.0 C257.6,745.0 258.1,745.7 258.7,746.3 C259.2,746.8 259.7,747.4 260.2,748.2 C260.6,749.0 261.0,750.1 261.4,751.0 C261.8,751.8 262.1,752.5 262.6,753.5 C263.0,754.5 263.7,755.1 264.0,756.9 C264.3,758.7 264.2,761.1 264.4,764.1 C264.6,767.1 265.0,771.8 265.1,774.8 C265.3,777.7 265.4,780.1 265.3,782.0 C265.1,783.8 264.6,784.9 264.1,785.8 C263.5,786.7 263.8,787.2 261.8,787.5 C259.8,787.8 254.3,787.8 252.3,787.5 C250.3,787.2 250.6,786.7 250.0,785.8 C249.5,784.9 249.0,783.8 248.8,782.0 C248.7,780.1 248.8,777.7 248.9,774.8 C249.1,771.8 249.5,767.1 249.7,764.1 C249.9,761.1 249.8,758.7 250.1,756.9 C250.4,755.1 251.1,754.5 251.5,753.5 C252.0,752.5 252.3,751.8 252.7,751.0 C253.1,750.1 253.5,749.0 253.9,748.2 C254.4,747.4 254.9,746.8 255.4,746.3 C256.0,745.7 256.5,745.0 257.0,745.0Z" fill="url(#mb)"/>
<path d="M276.2,745.0 C276.8,745.0 277.3,745.7 277.8,746.3 C278.4,746.8 278.9,747.4 279.4,748.2 C279.8,749.0 280.2,750.1 280.5,751.0 C280.9,751.8 281.3,752.5 281.7,753.5 C282.2,754.5 282.8,755.1 283.1,756.9 C283.4,758.7 283.4,761.1 283.6,764.1 C283.8,767.1 284.2,771.8 284.3,774.8 C284.5,777.7 284.6,780.1 284.4,782.0 C284.3,783.8 283.8,784.9 283.2,785.8 C282.7,786.7 282.9,787.2 281.0,787.5 C279.0,787.8 273.4,787.8 271.5,787.5 C269.5,787.2 269.8,786.7 269.2,785.8 C268.6,784.9 268.2,783.8 268.0,782.0 C267.8,780.1 268.0,777.7 268.1,774.8 C268.3,771.8 268.7,767.1 268.9,764.1 C269.1,761.1 269.0,758.7 269.3,756.9 C269.6,755.1 270.3,754.5 270.7,753.5 C271.2,752.5 271.5,751.8 271.9,751.0 C272.3,750.1 272.6,749.0 273.1,748.2 C273.5,747.4 274.1,746.8 274.6,746.3 C275.1,745.7 275.7,745.0 276.2,745.0Z" fill="url(#mb)"/>
<path d="M295.4,745.0 C295.9,745.0 296.5,745.7 297.0,746.3 C297.6,746.8 298.1,747.4 298.5,748.2 C299.0,749.0 299.3,750.1 299.7,751.0 C300.1,751.8 300.5,752.5 300.9,753.5 C301.3,754.5 302.0,755.1 302.3,756.9 C302.6,758.7 302.6,761.1 302.8,764.1 C303.0,767.1 303.4,771.8 303.5,774.8 C303.7,777.7 303.8,780.1 303.6,782.0 C303.4,783.8 303.0,784.9 302.4,785.8 C301.9,786.7 302.1,787.2 300.2,787.5 C298.2,787.8 292.6,787.8 290.7,787.5 C288.7,787.2 289.0,786.7 288.4,785.8 C287.8,784.9 287.4,783.8 287.2,782.0 C287.0,780.1 287.2,777.7 287.3,774.8 C287.5,771.8 287.9,767.1 288.1,764.1 C288.3,761.1 288.2,758.7 288.5,756.9 C288.8,755.1 289.5,754.5 289.9,753.5 C290.3,752.5 290.7,751.8 291.1,751.0 C291.5,750.1 291.8,749.0 292.3,748.2 C292.7,747.4 293.3,746.8 293.8,746.3 C294.3,745.7 294.9,745.0 295.4,745.0Z" fill="url(#mb)"/>
<path d="M218.7,791.0 C219.2,791.0 219.8,791.7 220.3,792.3 C220.8,792.8 221.4,793.4 221.8,794.2 C222.3,795.0 222.6,796.1 223.0,797.0 C223.4,797.8 223.8,798.5 224.2,799.5 C224.6,800.5 225.3,801.1 225.6,802.9 C225.9,804.7 225.8,807.1 226.0,810.1 C226.2,813.1 226.6,817.8 226.8,820.8 C226.9,823.7 227.1,826.1 226.9,828.0 C226.7,829.8 226.3,830.9 225.7,831.8 C225.1,832.7 225.4,833.2 223.4,833.5 C221.5,833.8 215.9,833.8 213.9,833.5 C212.0,833.2 212.2,832.7 211.7,831.8 C211.1,830.9 210.7,829.8 210.5,828.0 C210.3,826.1 210.4,823.7 210.6,820.8 C210.7,817.8 211.1,813.1 211.3,810.1 C211.5,807.1 211.5,804.7 211.8,802.9 C212.1,801.1 212.8,800.5 213.2,799.5 C213.6,798.5 214.0,797.8 214.4,797.0 C214.8,796.1 215.1,795.0 215.6,794.2 C216.0,793.4 216.5,792.8 217.1,792.3 C217.6,791.7 218.2,791.0 218.7,791.0Z" fill="url(#mb)"/>
<path d="M237.9,791.0 C238.4,791.0 239.0,791.7 239.5,792.3 C240.0,792.8 240.6,793.4 241.0,794.2 C241.5,795.0 241.8,796.1 242.2,797.0 C242.6,797.8 242.9,798.5 243.4,799.5 C243.8,800.5 244.5,801.1 244.8,802.9 C245.1,804.7 245.0,807.1 245.2,810.1 C245.4,813.1 245.8,817.8 246.0,820.8 C246.1,823.7 246.3,826.1 246.1,828.0 C245.9,829.8 245.5,830.9 244.9,831.8 C244.3,832.7 244.6,833.2 242.6,833.5 C240.7,833.8 235.1,833.8 233.1,833.5 C231.2,833.2 231.4,832.7 230.8,831.8 C230.3,830.9 229.8,829.8 229.7,828.0 C229.5,826.1 229.6,823.7 229.8,820.8 C229.9,817.8 230.3,813.1 230.5,810.1 C230.7,807.1 230.7,804.7 231.0,802.9 C231.3,801.1 231.9,800.5 232.4,799.5 C232.8,798.5 233.2,797.8 233.6,797.0 C233.9,796.1 234.3,795.0 234.7,794.2 C235.2,793.4 235.7,792.8 236.2,792.3 C236.8,791.7 237.3,791.0 237.9,791.0Z" fill="url(#mb)"/>
<path d="M257.0,791.0 C257.6,791.0 258.1,791.7 258.7,792.3 C259.2,792.8 259.7,793.4 260.2,794.2 C260.6,795.0 261.0,796.1 261.4,797.0 C261.8,797.8 262.1,798.5 262.6,799.5 C263.0,800.5 263.7,801.1 264.0,802.9 C264.3,804.7 264.2,807.1 264.4,810.1 C264.6,813.1 265.0,817.8 265.1,820.8 C265.3,823.7 265.4,826.1 265.3,828.0 C265.1,829.8 264.6,830.9 264.1,831.8 C263.5,832.7 263.8,833.2 261.8,833.5 C259.8,833.8 254.3,833.8 252.3,833.5 C250.3,833.2 250.6,832.7 250.0,831.8 C249.5,830.9 249.0,829.8 248.8,828.0 C248.7,826.1 248.8,823.7 248.9,820.8 C249.1,817.8 249.5,813.1 249.7,810.1 C249.9,807.1 249.8,804.7 250.1,802.9 C250.4,801.1 251.1,800.5 251.5,799.5 C252.0,798.5 252.3,797.8 252.7,797.0 C253.1,796.1 253.5,795.0 253.9,794.2 C254.4,793.4 254.9,792.8 255.4,792.3 C256.0,791.7 256.5,791.0 257.0,791.0Z" fill="url(#mb)"/>
<path d="M276.2,791.0 C276.8,791.0 277.3,791.7 277.8,792.3 C278.4,792.8 278.9,793.4 279.4,794.2 C279.8,795.0 280.2,796.1 280.5,797.0 C280.9,797.8 281.3,798.5 281.7,799.5 C282.2,800.5 282.8,801.1 283.1,802.9 C283.4,804.7 283.4,807.1 283.6,810.1 C283.8,813.1 284.2,817.8 284.3,820.8 C284.5,823.7 284.6,826.1 284.4,828.0 C284.3,829.8 283.8,830.9 283.2,831.8 C282.7,832.7 282.9,833.2 281.0,833.5 C279.0,833.8 273.4,833.8 271.5,833.5 C269.5,833.2 269.8,832.7 269.2,831.8 C268.6,830.9 268.2,829.8 268.0,828.0 C267.8,826.1 268.0,823.7 268.1,820.8 C268.3,817.8 268.7,813.1 268.9,810.1 C269.1,807.1 269.0,804.7 269.3,802.9 C269.6,801.1 270.3,800.5 270.7,799.5 C271.2,798.5 271.5,797.8 271.9,797.0 C272.3,796.1 272.6,795.0 273.1,794.2 C273.5,793.4 274.1,792.8 274.6,792.3 C275.1,791.7 275.7,791.0 276.2,791.0Z" fill="url(#mb)"/>
<path d="M295.4,791.0 C295.9,791.0 296.5,791.7 297.0,792.3 C297.6,792.8 298.1,793.4 298.5,794.2 C299.0,795.0 299.3,796.1 299.7,797.0 C300.1,797.8 300.5,798.5 300.9,799.5 C301.3,800.5 302.0,801.1 302.3,802.9 C302.6,804.7 302.6,807.1 302.8,810.1 C303.0,813.1 303.4,817.8 303.5,820.8 C303.7,823.7 303.8,826.1 303.6,828.0 C303.4,829.8 303.0,830.9 302.4,831.8 C301.9,832.7 302.1,833.2 300.2,833.5 C298.2,833.8 292.6,833.8 290.7,833.5 C288.7,833.2 289.0,832.7 288.4,831.8 C287.8,830.9 287.4,829.8 287.2,828.0 C287.0,826.1 287.2,823.7 287.3,820.8 C287.5,817.8 287.9,813.1 288.1,810.1 C288.3,807.1 288.2,804.7 288.5,802.9 C288.8,801.1 289.5,800.5 289.9,799.5 C290.3,798.5 290.7,797.8 291.1,797.0 C291.5,796.1 291.8,795.0 292.3,794.2 C292.7,793.4 293.3,792.8 293.8,792.3 C294.3,791.7 294.9,791.0 295.4,791.0Z" fill="url(#mb)"/>
</g>
<ellipse cx="35.42" cy="487.50" rx="7.90" ry="6.80" fill="url(#hb)"/>
<ellipse cx="34.92" cy="487.00" rx="6.40" ry="5.60" fill="url(#hc5)"/>
<ellipse cx="37.22" cy="489.50" rx="3.20" ry="2.60" fill="url(#hr)"/>
<ellipse cx="55.17" cy="487.50" rx="2.60" ry="3.60" fill="url(#h2)"/>
<ellipse cx="73.92" cy="487.50" rx="8.20" ry="6.80" fill="url(#hb)"/>
<ellipse cx="73.92" cy="487.00" rx="6.60" ry="5.60" fill="url(#hc5)"/>
<ellipse cx="76.42" cy="489.50" rx="2.80" ry="2.20" fill="url(#hr)"/>
<ellipse cx="93.17" cy="487.50" rx="8.20" ry="7.00" fill="url(#hb)"/>
<ellipse cx="93.17" cy="487.00" rx="6.40" ry="5.80" fill="url(#hc5)"/>
<ellipse cx="95.67" cy="489.50" rx="2.80" ry="2.40" fill="url(#hr)"/>
<ellipse cx="35.42" cy="533.50" rx="7.80" ry="7.40" fill="url(#hb)"/>
<ellipse cx="35.42" cy="533.00" rx="6.30" ry="6.20" fill="url(#hc5)"/>
<ellipse cx="36.92" cy="536.00" rx="3.00" ry="3.00" fill="url(#hr)"/>
<ellipse cx="54.67" cy="534.00" rx="6.60" ry="6.60" fill="url(#hb)"/>
<ellipse cx="55.67" cy="534.00" rx="4.50" ry="4.80" fill="url(#hc3)"/>
<ellipse cx="73.92" cy="533.50" rx="7.80" ry="7.00" fill="url(#hb)"/>
<ellipse cx="73.42" cy="533.00" rx="6.00" ry="5.50" fill="url(#hc4)"/>
<ellipse cx="76.42" cy="534.00" rx="2.20" ry="2.20" fill="url(#hr)"/>
<ellipse cx="93.17" cy="533.50" rx="8.20" ry="7.60" fill="url(#hb)"/>
<ellipse cx="93.67" cy="533.50" rx="7.00" ry="6.60" fill="url(#hc6)"/>
<ellipse cx="35.42" cy="580.00" rx="8.40" ry="8.80" fill="url(#hb)"/>
<ellipse cx="35.42" cy="580.00" rx="7.90" ry="8.20" fill="url(#hc6)"/>
<ellipse cx="54.67" cy="580.00" rx="5.60" ry="7.20" fill="url(#hb)"/>
<ellipse cx="54.67" cy="580.50" rx="4.00" ry="5.20" fill="url(#hc3)"/>
<ellipse cx="73.92" cy="580.00" rx="8.00" ry="7.20" fill="url(#hb)"/>
<ellipse cx="73.42" cy="579.50" rx="6.20" ry="5.60" fill="url(#hc4)"/>
<ellipse cx="75.42" cy="580.00" rx="2.40" ry="2.40" fill="url(#hr)"/>
<ellipse cx="93.17" cy="580.00" rx="8.40" ry="8.60" fill="url(#hb)"/>
<ellipse cx="93.17" cy="580.00" rx="7.90" ry="8.00" fill="url(#hc6)"/>
<ellipse cx="117.57" cy="487.00" rx="7.30" ry="5.60" fill="url(#hb)"/>
<ellipse cx="117.57" cy="487.00" rx="5.50" ry="4.50" fill="url(#hc3)"/>
<ellipse cx="136.71" cy="487.00" rx="6.80" ry="4.80" fill="url(#h1)"/>
<ellipse cx="137.71" cy="487.00" rx="3.00" ry="2.50" fill="url(#h2)"/>
<ellipse cx="155.85" cy="487.00" rx="7.30" ry="5.60" fill="url(#hb)"/>
<ellipse cx="156.35" cy="487.00" rx="5.00" ry="4.50" fill="url(#hc3)"/>
<ellipse cx="174.99" cy="487.00" rx="7.60" ry="6.00" fill="url(#hb)"/>
<ellipse cx="174.99" cy="487.00" rx="5.50" ry="5.00" fill="url(#hc3)"/>
<ellipse cx="175.99" cy="488.00" rx="2.50" ry="2.50" fill="url(#hc4)"/>
<ellipse cx="194.13" cy="486.50" rx="7.30" ry="6.00" fill="url(#hb)"/>
<ellipse cx="194.13" cy="486.50" rx="5.50" ry="5.00" fill="url(#hc4)"/>
<ellipse cx="194.13" cy="486.00" rx="2.50" ry="2.50" fill="url(#hc5)"/>
<ellipse cx="134.11" cy="548.60" rx="1.20" ry="1.20" fill="url(#h1)"/>
<ellipse cx="134.11" cy="596.90" rx="2.30" ry="2.10" fill="url(#h1)"/>
<ellipse cx="135.21" cy="635.90" rx="2.40" ry="2.40" fill="url(#h1)"/>
<ellipse cx="135.91" cy="680.40" rx="2.50" ry="2.10" fill="url(#h1)"/>
<ellipse cx="135.81" cy="729.50" rx="2.60" ry="2.00" fill="url(#h1)"/>
<ellipse cx="131.71" cy="817.40" rx="2.80" ry="3.00" fill="url(#h3)"/>
<ellipse cx="142.01" cy="820.00" rx="1.30" ry="1.60" fill="url(#h1)"/>
<ellipse cx="217.69" cy="487.50" rx="4.80" ry="5.50" fill="url(#h1)"/>
<ellipse cx="217.69" cy="487.50" rx="3.00" ry="3.50" fill="url(#h2)"/>
<ellipse cx="237.87" cy="487.50" rx="7.60" ry="6.20" fill="url(#hb)"/>
<ellipse cx="237.87" cy="487.50" rx="5.80" ry="5.00" fill="url(#hc3)"/>
<ellipse cx="257.05" cy="487.50" rx="7.60" ry="5.80" fill="url(#hb)"/>
<ellipse cx="257.05" cy="487.50" rx="5.50" ry="4.50" fill="url(#hc3)"/>
<ellipse cx="276.23" cy="487.00" rx="7.60" ry="6.40" fill="url(#hb)"/>
<ellipse cx="276.23" cy="487.00" rx="5.80" ry="5.20" fill="url(#hc4)"/>
<ellipse cx="295.41" cy="487.00" rx="7.60" ry="6.60" fill="url(#hb)"/>
<ellipse cx="295.41" cy="487.00" rx="6.20" ry="5.60" fill="url(#hc5)"/>
<ellipse cx="217.09" cy="551.30" rx="3.40" ry="2.00" fill="url(#h1)"/>
<ellipse cx="218.99" cy="541.00" rx="1.00" ry="1.00" fill="url(#h1)"/>
<ellipse cx="218.99" cy="588.80" rx="3.80" ry="3.80" fill="url(#h3)"/>
<ellipse cx="218.29" cy="572.20" rx="1.20" ry="1.20" fill="url(#h1)"/>
<ellipse cx="218.99" cy="594.00" rx="0.90" ry="0.90" fill="url(#h1)"/>
<ellipse cx="216.69" cy="631.00" rx="1.80" ry="1.80" fill="url(#h1)"/>
<ellipse cx="223.19" cy="634.40" rx="1.80" ry="2.00" fill="url(#h1)"/>
<ellipse cx="219.39" cy="643.30" rx="3.20" ry="2.20" fill="url(#h1)"/>
<ellipse cx="219.99" cy="671.40" rx="2.20" ry="2.20" fill="url(#h1)"/>
<ellipse cx="219.99" cy="675.50" rx="2.10" ry="2.10" fill="url(#h1)"/>
<ellipse cx="219.69" cy="690.50" rx="1.00" ry="1.00" fill="url(#h1)"/>
<ellipse cx="218.89" cy="721.60" rx="2.30" ry="2.00" fill="url(#h1)"/>
<ellipse cx="219.19" cy="717.00" rx="1.20" ry="1.20" fill="url(#h1)"/>
<ellipse cx="219.69" cy="732.00" rx="0.80" ry="0.80" fill="url(#h1)"/>
<ellipse cx="221.39" cy="761.40" rx="2.60" ry="4.00" fill="url(#h4)"/>
<ellipse cx="219.49" cy="783.30" rx="2.20" ry="2.00" fill="url(#h1)"/>
<ellipse cx="226.49" cy="784.00" rx="3.00" ry="2.80" fill="url(#h1)"/>
<ellipse cx="220.79" cy="808.50" rx="2.20" ry="3.20" fill="url(#h3)"/>
<ellipse cx="221.79" cy="826.00" rx="2.20" ry="2.00" fill="url(#h2)"/>
<rect x="25.80" y="513.30" width="77.00" height="0.9" fill="#707070"/>
<rect x="25.80" y="559.30" width="77.00" height="0.9" fill="#707070"/>
<rect x="108.00" y="513.30" width="95.70" height="0.9" fill="#707070"/>
<rect x="108.00" y="559.30" width="95.70" height="0.9" fill="#707070"/>
<rect x="108.00" y="605.30" width="95.70" height="0.9" fill="#707070"/>
<rect x="108.00" y="651.30" width="95.70" height="0.9" fill="#707070"/>
<rect x="108.00" y="697.30" width="95.70" height="0.9" fill="#707070"/>
<rect x="108.00" y="743.30" width="95.70" height="0.9" fill="#707070"/>
<rect x="108.00" y="789.30" width="95.70" height="0.9" fill="#707070"/>
<rect x="209.10" y="513.30" width="95.90" height="0.9" fill="#707070"/>
<rect x="209.10" y="559.30" width="95.90" height="0.9" fill="#707070"/>
<rect x="209.10" y="605.30" width="95.90" height="0.9" fill="#707070"/>
<rect x="209.10" y="651.30" width="95.90" height="0.9" fill="#707070"/>
<rect x="209.10" y="697.30" width="95.90" height="0.9" fill="#707070"/>
<rect x="209.10" y="743.30" width="95.90" height="0.9" fill="#707070"/>
<rect x="209.10" y="789.30" width="95.90" height="0.9" fill="#707070"/>
<rect x="315.10" y="482.90" width="6.70" height="147.90" fill="url(#cbar)"/>
<line x1="321.80" y1="482.90" x2="321.80" y2="630.80" stroke="#666" stroke-width="0.5" />
<line x1="315.10" y1="482.90" x2="325.40" y2="482.90" stroke="#555" stroke-width="0.8" />
<line x1="321.80" y1="490.90" x2="324.20" y2="490.90" stroke="#777" stroke-width="0.7" />
<line x1="321.80" y1="498.90" x2="324.20" y2="498.90" stroke="#777" stroke-width="0.7" />
<line x1="321.80" y1="506.90" x2="324.20" y2="506.90" stroke="#777" stroke-width="0.7" />
<line x1="321.80" y1="514.90" x2="324.20" y2="514.90" stroke="#777" stroke-width="0.7" />
<line x1="321.80" y1="522.90" x2="325.40" y2="522.90" stroke="#777" stroke-width="0.8" />
<line x1="321.80" y1="530.90" x2="324.20" y2="530.90" stroke="#777" stroke-width="0.7" />
<line x1="321.80" y1="538.90" x2="324.20" y2="538.90" stroke="#777" stroke-width="0.7" />
<line x1="321.80" y1="546.90" x2="324.20" y2="546.90" stroke="#777" stroke-width="0.7" />
<line x1="321.80" y1="554.90" x2="324.20" y2="554.90" stroke="#777" stroke-width="0.7" />
<line x1="321.80" y1="562.90" x2="325.40" y2="562.90" stroke="#777" stroke-width="0.8" />
<line x1="321.80" y1="570.90" x2="324.20" y2="570.90" stroke="#777" stroke-width="0.7" />
<line x1="321.80" y1="578.90" x2="324.20" y2="578.90" stroke="#777" stroke-width="0.7" />
<line x1="321.80" y1="586.90" x2="324.20" y2="586.90" stroke="#777" stroke-width="0.7" />
<line x1="321.80" y1="594.90" x2="324.20" y2="594.90" stroke="#777" stroke-width="0.7" />
<line x1="321.80" y1="602.90" x2="325.40" y2="602.90" stroke="#777" stroke-width="0.8" />
<line x1="321.80" y1="610.90" x2="324.20" y2="610.90" stroke="#777" stroke-width="0.7" />
<line x1="321.80" y1="618.90" x2="324.20" y2="618.90" stroke="#777" stroke-width="0.7" />
<line x1="321.80" y1="626.90" x2="324.20" y2="626.90" stroke="#777" stroke-width="0.7" />
<text x="327.30" y="484.60" font-size="7.1" text-anchor="start" font-weight="normal" fill="#000" >2.0</text>
<text x="327.30" y="524.60" font-size="7.1" text-anchor="start" font-weight="normal" fill="#000" >1.5</text>
<text x="327.30" y="564.70" font-size="7.1" text-anchor="start" font-weight="normal" fill="#000" >1.0</text>
<text x="327.30" y="604.70" font-size="7.1" text-anchor="start" font-weight="normal" fill="#000" >0.5</text>
<text x="330.10" y="474.10" font-size="7.1" text-anchor="middle">X 10<tspan font-size="5" dy="-3">7</tspan></text>
<text x="308.80" y="640.60" font-size="7" text-anchor="start" font-weight="normal" fill="#000" >Radiance</text>
<text x="308.80" y="648.10" font-size="7">(p/sec/cm<tspan font-size="4.9" dy="-2.6">2</tspan><tspan dy="2.6">/sr)</tspan></text>
<rect x="308.20" y="653.20" width="44.60" height="24.60" fill="none" stroke="#666" stroke-width="0.7"/>
<text x="311.30" y="660.70" font-size="7" text-anchor="start" font-weight="normal" fill="#000" >Color scale</text>
<text x="311.30" y="667.90" font-size="7" text-anchor="start" font-weight="normal" fill="#000" >Min=4e5</text>
<text x="311.30" y="675.20" font-size="7" text-anchor="start" font-weight="normal" fill="#000" >Max=1e7</text>
</svg></body></html>
